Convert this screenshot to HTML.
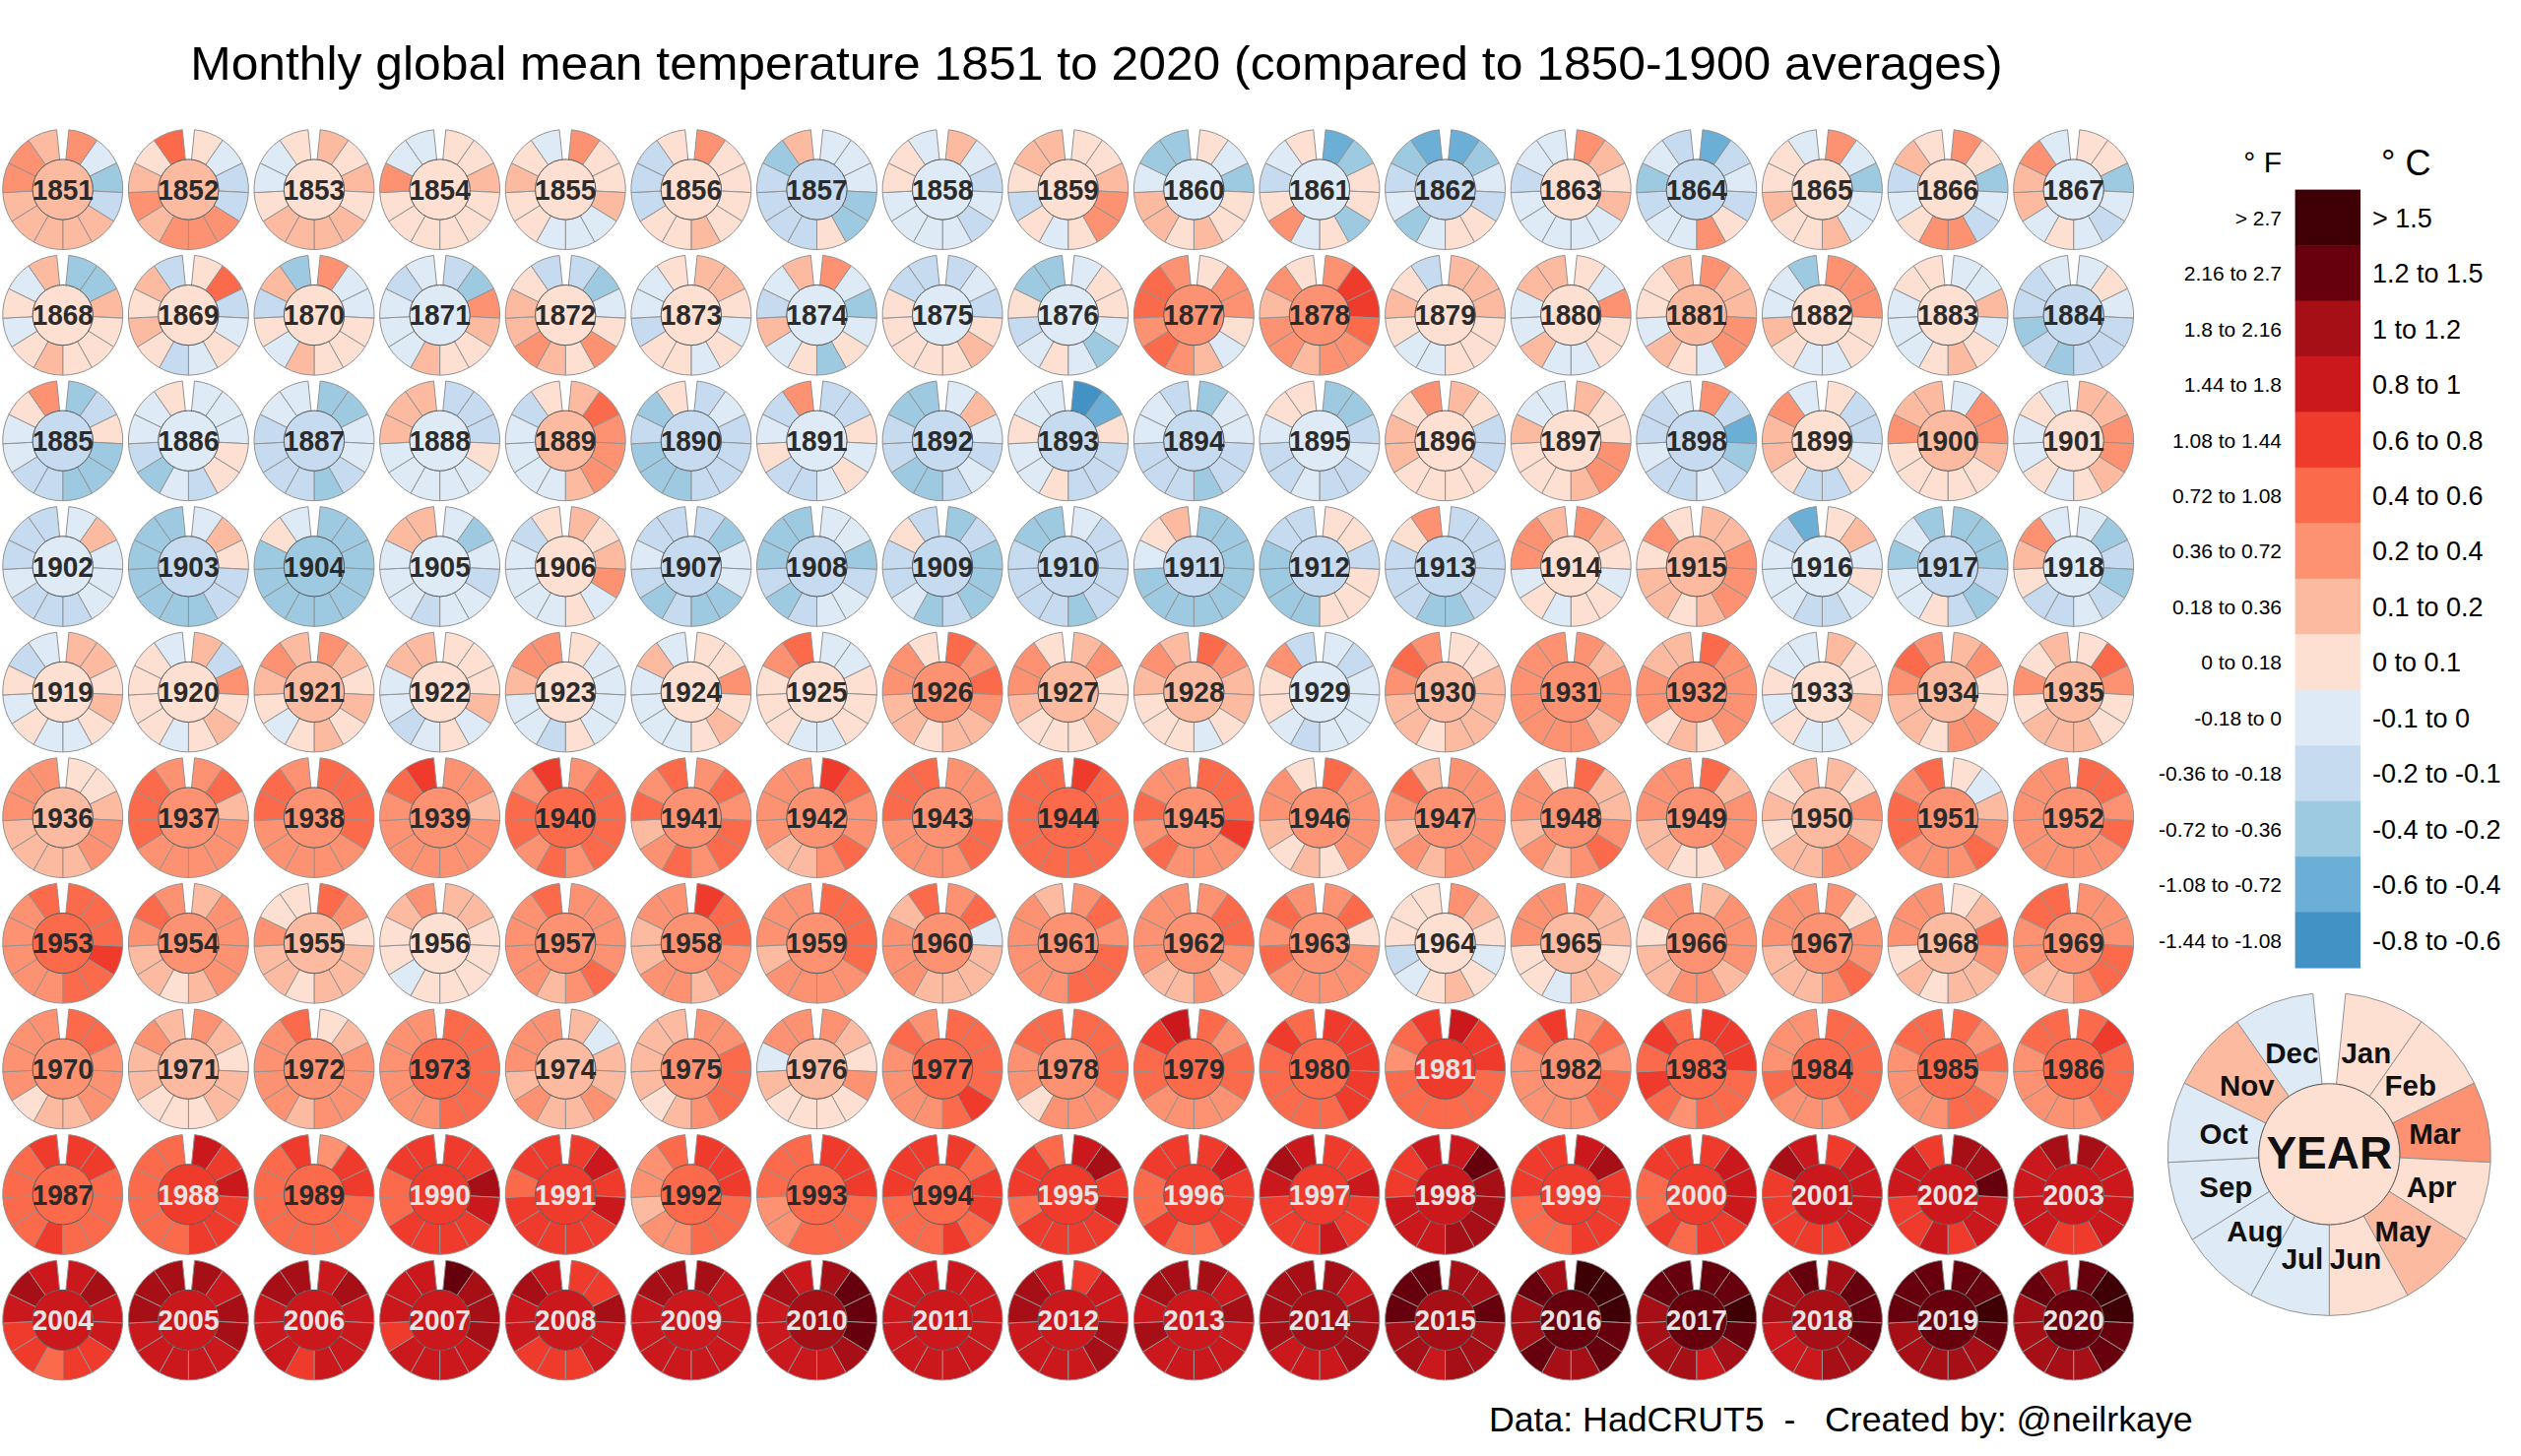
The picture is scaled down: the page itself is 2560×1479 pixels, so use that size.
<!DOCTYPE html>
<html><head><meta charset="utf-8"><title>Monthly global mean temperature 1851 to 2020</title>
<style>
html,body{margin:0;padding:0;background:#fff;}
svg{display:block;}
.d path{stroke:#929292;stroke-width:1.0;stroke-linejoin:round;}
.d .ic{stroke:#5a5a5a;stroke-width:1.0;}
.d text{font-family:"Liberation Sans",Arial,Helvetica,sans-serif;font-weight:bold;text-anchor:middle;}
.lg{font-family:"Liberation Sans",Arial,Helvetica,sans-serif;fill:#000;}
.yr{font-family:"Liberation Sans",Arial,Helvetica,sans-serif;font-weight:bold;text-anchor:middle;}
.t{font-family:"Liberation Sans",Arial,Helvetica,sans-serif;fill:#000;}
</style></head>
<body>
<svg width="2560" height="1479" viewBox="0 0 2560 1479">
<rect width="2560" height="1479" fill="#fff"/>
<text x="193.2" y="81" font-size="48.2" class="t" textLength="1840.3" lengthAdjust="spacingAndGlyphs">Monthly global mean temperature 1851 to 2020 (compared to 1850-1900 averages)</text>
<g class="d">
<path d="M69.92 131.81A61 61 0 0 1 98.6 142.43L81.23 167.38A30.6 30.6 0 0 0 66.85 162.06Z" fill="#fc9272"/>
<path d="M98.6 142.43A61 61 0 0 1 118.52 165.64L91.22 179.02A30.6 30.6 0 0 0 81.23 167.38Z" fill="#deebf7"/>
<path d="M118.52 165.64A61 61 0 0 1 124.67 195.59L94.31 194.05A30.6 30.6 0 0 0 91.22 179.02Z" fill="#9ecae1"/>
<path d="M124.67 195.59A61 61 0 0 1 115.52 224.77L89.72 208.69A30.6 30.6 0 0 0 94.31 194.05Z" fill="#c6dbef"/>
<path d="M115.52 224.77A61 61 0 0 1 93.35 245.84L78.6 219.26A30.6 30.6 0 0 0 89.72 208.69Z" fill="#fcbba1"/>
<path d="M93.35 245.84A61 61 0 0 1 63.75 253.5L63.75 223.1A30.6 30.6 0 0 0 78.6 219.26Z" fill="#fcbba1"/>
<path d="M63.75 253.5A61 61 0 0 1 34.15 245.84L48.9 219.26A30.6 30.6 0 0 0 63.75 223.1Z" fill="#fcbba1"/>
<path d="M34.15 245.84A61 61 0 0 1 11.98 224.77L37.78 208.69A30.6 30.6 0 0 0 48.9 219.26Z" fill="#fcbba1"/>
<path d="M11.98 224.77A61 61 0 0 1 2.83 195.59L33.19 194.05A30.6 30.6 0 0 0 37.78 208.69Z" fill="#fcbba1"/>
<path d="M2.83 195.59A61 61 0 0 1 8.98 165.64L36.28 179.02A30.6 30.6 0 0 0 33.19 194.05Z" fill="#fc9272"/>
<path d="M8.98 165.64A61 61 0 0 1 28.9 142.43L46.27 167.38A30.6 30.6 0 0 0 36.28 179.02Z" fill="#fc9272"/>
<path d="M28.9 142.43A61 61 0 0 1 57.58 131.81L60.65 162.06A30.6 30.6 0 0 0 46.27 167.38Z" fill="#fcbba1"/>
<circle cx="63.75" cy="192.5" r="30.6" fill="#fcbba1" class="ic"/>
<text transform="translate(63.75 202.7) scale(1 1.05)" fill="#2b2b2b" font-size="28">1851</text>
<path d="M197.54 131.81A61 61 0 0 1 226.22 142.43L208.85 167.38A30.6 30.6 0 0 0 194.47 162.06Z" fill="#fee0d2"/>
<path d="M226.22 142.43A61 61 0 0 1 246.14 165.64L218.84 179.02A30.6 30.6 0 0 0 208.85 167.38Z" fill="#deebf7"/>
<path d="M246.14 165.64A61 61 0 0 1 252.29 195.59L221.93 194.05A30.6 30.6 0 0 0 218.84 179.02Z" fill="#c6dbef"/>
<path d="M252.29 195.59A61 61 0 0 1 243.14 224.77L217.34 208.69A30.6 30.6 0 0 0 221.93 194.05Z" fill="#c6dbef"/>
<path d="M243.14 224.77A61 61 0 0 1 220.97 245.84L206.22 219.26A30.6 30.6 0 0 0 217.34 208.69Z" fill="#fc9272"/>
<path d="M220.97 245.84A61 61 0 0 1 191.37 253.5L191.37 223.1A30.6 30.6 0 0 0 206.22 219.26Z" fill="#fc9272"/>
<path d="M191.37 253.5A61 61 0 0 1 161.77 245.84L176.52 219.26A30.6 30.6 0 0 0 191.37 223.1Z" fill="#fc9272"/>
<path d="M161.77 245.84A61 61 0 0 1 139.6 224.77L165.4 208.69A30.6 30.6 0 0 0 176.52 219.26Z" fill="#fcbba1"/>
<path d="M139.6 224.77A61 61 0 0 1 130.45 195.59L160.81 194.05A30.6 30.6 0 0 0 165.4 208.69Z" fill="#fc9272"/>
<path d="M130.45 195.59A61 61 0 0 1 136.6 165.64L163.9 179.02A30.6 30.6 0 0 0 160.81 194.05Z" fill="#fcbba1"/>
<path d="M136.6 165.64A61 61 0 0 1 156.52 142.43L173.89 167.38A30.6 30.6 0 0 0 163.9 179.02Z" fill="#fee0d2"/>
<path d="M156.52 142.43A61 61 0 0 1 185.2 131.81L188.27 162.06A30.6 30.6 0 0 0 173.89 167.38Z" fill="#fb6a4a"/>
<circle cx="191.37" cy="192.5" r="30.6" fill="#fcbba1" class="ic"/>
<text transform="translate(191.37 202.7) scale(1 1.05)" fill="#2b2b2b" font-size="28">1852</text>
<path d="M325.16 131.81A61 61 0 0 1 353.84 142.43L336.47 167.38A30.6 30.6 0 0 0 322.09 162.06Z" fill="#fcbba1"/>
<path d="M353.84 142.43A61 61 0 0 1 373.76 165.64L346.46 179.02A30.6 30.6 0 0 0 336.47 167.38Z" fill="#fee0d2"/>
<path d="M373.76 165.64A61 61 0 0 1 379.91 195.59L349.55 194.05A30.6 30.6 0 0 0 346.46 179.02Z" fill="#fcbba1"/>
<path d="M379.91 195.59A61 61 0 0 1 370.76 224.77L344.96 208.69A30.6 30.6 0 0 0 349.55 194.05Z" fill="#fee0d2"/>
<path d="M370.76 224.77A61 61 0 0 1 348.59 245.84L333.84 219.26A30.6 30.6 0 0 0 344.96 208.69Z" fill="#fcbba1"/>
<path d="M348.59 245.84A61 61 0 0 1 318.99 253.5L318.99 223.1A30.6 30.6 0 0 0 333.84 219.26Z" fill="#fcbba1"/>
<path d="M318.99 253.5A61 61 0 0 1 289.39 245.84L304.14 219.26A30.6 30.6 0 0 0 318.99 223.1Z" fill="#fcbba1"/>
<path d="M289.39 245.84A61 61 0 0 1 267.22 224.77L293.02 208.69A30.6 30.6 0 0 0 304.14 219.26Z" fill="#fcbba1"/>
<path d="M267.22 224.77A61 61 0 0 1 258.07 195.59L288.43 194.05A30.6 30.6 0 0 0 293.02 208.69Z" fill="#fee0d2"/>
<path d="M258.07 195.59A61 61 0 0 1 264.22 165.64L291.52 179.02A30.6 30.6 0 0 0 288.43 194.05Z" fill="#deebf7"/>
<path d="M264.22 165.64A61 61 0 0 1 284.14 142.43L301.51 167.38A30.6 30.6 0 0 0 291.52 179.02Z" fill="#deebf7"/>
<path d="M284.14 142.43A61 61 0 0 1 312.82 131.81L315.89 162.06A30.6 30.6 0 0 0 301.51 167.38Z" fill="#fee0d2"/>
<circle cx="318.99" cy="192.5" r="30.6" fill="#fee0d2" class="ic"/>
<text transform="translate(318.99 202.7) scale(1 1.05)" fill="#2b2b2b" font-size="28">1853</text>
<path d="M452.78 131.81A61 61 0 0 1 481.46 142.43L464.09 167.38A30.6 30.6 0 0 0 449.71 162.06Z" fill="#fee0d2"/>
<path d="M481.46 142.43A61 61 0 0 1 501.38 165.64L474.08 179.02A30.6 30.6 0 0 0 464.09 167.38Z" fill="#fee0d2"/>
<path d="M501.38 165.64A61 61 0 0 1 507.53 195.59L477.17 194.05A30.6 30.6 0 0 0 474.08 179.02Z" fill="#fcbba1"/>
<path d="M507.53 195.59A61 61 0 0 1 498.38 224.77L472.58 208.69A30.6 30.6 0 0 0 477.17 194.05Z" fill="#fee0d2"/>
<path d="M498.38 224.77A61 61 0 0 1 476.21 245.84L461.46 219.26A30.6 30.6 0 0 0 472.58 208.69Z" fill="#fee0d2"/>
<path d="M476.21 245.84A61 61 0 0 1 446.61 253.5L446.61 223.1A30.6 30.6 0 0 0 461.46 219.26Z" fill="#fee0d2"/>
<path d="M446.61 253.5A61 61 0 0 1 417.01 245.84L431.76 219.26A30.6 30.6 0 0 0 446.61 223.1Z" fill="#fee0d2"/>
<path d="M417.01 245.84A61 61 0 0 1 394.84 224.77L420.64 208.69A30.6 30.6 0 0 0 431.76 219.26Z" fill="#fee0d2"/>
<path d="M394.84 224.77A61 61 0 0 1 385.69 195.59L416.05 194.05A30.6 30.6 0 0 0 420.64 208.69Z" fill="#fee0d2"/>
<path d="M385.69 195.59A61 61 0 0 1 391.84 165.64L419.14 179.02A30.6 30.6 0 0 0 416.05 194.05Z" fill="#fc9272"/>
<path d="M391.84 165.64A61 61 0 0 1 411.76 142.43L429.13 167.38A30.6 30.6 0 0 0 419.14 179.02Z" fill="#deebf7"/>
<path d="M411.76 142.43A61 61 0 0 1 440.44 131.81L443.51 162.06A30.6 30.6 0 0 0 429.13 167.38Z" fill="#deebf7"/>
<circle cx="446.61" cy="192.5" r="30.6" fill="#fee0d2" class="ic"/>
<text transform="translate(446.61 202.7) scale(1 1.05)" fill="#2b2b2b" font-size="28">1854</text>
<path d="M580.4 131.81A61 61 0 0 1 609.08 142.43L591.71 167.38A30.6 30.6 0 0 0 577.33 162.06Z" fill="#fc9272"/>
<path d="M609.08 142.43A61 61 0 0 1 629 165.64L601.7 179.02A30.6 30.6 0 0 0 591.71 167.38Z" fill="#fee0d2"/>
<path d="M629 165.64A61 61 0 0 1 635.15 195.59L604.79 194.05A30.6 30.6 0 0 0 601.7 179.02Z" fill="#fee0d2"/>
<path d="M635.15 195.59A61 61 0 0 1 626 224.77L600.2 208.69A30.6 30.6 0 0 0 604.79 194.05Z" fill="#fcbba1"/>
<path d="M626 224.77A61 61 0 0 1 603.83 245.84L589.08 219.26A30.6 30.6 0 0 0 600.2 208.69Z" fill="#deebf7"/>
<path d="M603.83 245.84A61 61 0 0 1 574.23 253.5L574.23 223.1A30.6 30.6 0 0 0 589.08 219.26Z" fill="#deebf7"/>
<path d="M574.23 253.5A61 61 0 0 1 544.63 245.84L559.38 219.26A30.6 30.6 0 0 0 574.23 223.1Z" fill="#deebf7"/>
<path d="M544.63 245.84A61 61 0 0 1 522.46 224.77L548.26 208.69A30.6 30.6 0 0 0 559.38 219.26Z" fill="#fee0d2"/>
<path d="M522.46 224.77A61 61 0 0 1 513.31 195.59L543.67 194.05A30.6 30.6 0 0 0 548.26 208.69Z" fill="#fee0d2"/>
<path d="M513.31 195.59A61 61 0 0 1 519.46 165.64L546.76 179.02A30.6 30.6 0 0 0 543.67 194.05Z" fill="#fcbba1"/>
<path d="M519.46 165.64A61 61 0 0 1 539.38 142.43L556.75 167.38A30.6 30.6 0 0 0 546.76 179.02Z" fill="#fee0d2"/>
<path d="M539.38 142.43A61 61 0 0 1 568.06 131.81L571.13 162.06A30.6 30.6 0 0 0 556.75 167.38Z" fill="#deebf7"/>
<circle cx="574.23" cy="192.5" r="30.6" fill="#fee0d2" class="ic"/>
<text transform="translate(574.23 202.7) scale(1 1.05)" fill="#2b2b2b" font-size="28">1855</text>
<path d="M708.02 131.81A61 61 0 0 1 736.7 142.43L719.33 167.38A30.6 30.6 0 0 0 704.95 162.06Z" fill="#fc9272"/>
<path d="M736.7 142.43A61 61 0 0 1 756.62 165.64L729.32 179.02A30.6 30.6 0 0 0 719.33 167.38Z" fill="#fee0d2"/>
<path d="M756.62 165.64A61 61 0 0 1 762.77 195.59L732.41 194.05A30.6 30.6 0 0 0 729.32 179.02Z" fill="#fee0d2"/>
<path d="M762.77 195.59A61 61 0 0 1 753.62 224.77L727.82 208.69A30.6 30.6 0 0 0 732.41 194.05Z" fill="#fee0d2"/>
<path d="M753.62 224.77A61 61 0 0 1 731.45 245.84L716.7 219.26A30.6 30.6 0 0 0 727.82 208.69Z" fill="#fee0d2"/>
<path d="M731.45 245.84A61 61 0 0 1 701.85 253.5L701.85 223.1A30.6 30.6 0 0 0 716.7 219.26Z" fill="#fcbba1"/>
<path d="M701.85 253.5A61 61 0 0 1 672.25 245.84L687 219.26A30.6 30.6 0 0 0 701.85 223.1Z" fill="#fee0d2"/>
<path d="M672.25 245.84A61 61 0 0 1 650.08 224.77L675.88 208.69A30.6 30.6 0 0 0 687 219.26Z" fill="#fee0d2"/>
<path d="M650.08 224.77A61 61 0 0 1 640.93 195.59L671.29 194.05A30.6 30.6 0 0 0 675.88 208.69Z" fill="#c6dbef"/>
<path d="M640.93 195.59A61 61 0 0 1 647.08 165.64L674.38 179.02A30.6 30.6 0 0 0 671.29 194.05Z" fill="#c6dbef"/>
<path d="M647.08 165.64A61 61 0 0 1 667 142.43L684.37 167.38A30.6 30.6 0 0 0 674.38 179.02Z" fill="#c6dbef"/>
<path d="M667 142.43A61 61 0 0 1 695.68 131.81L698.75 162.06A30.6 30.6 0 0 0 684.37 167.38Z" fill="#fee0d2"/>
<circle cx="701.85" cy="192.5" r="30.6" fill="#fee0d2" class="ic"/>
<text transform="translate(701.85 202.7) scale(1 1.05)" fill="#2b2b2b" font-size="28">1856</text>
<path d="M835.64 131.81A61 61 0 0 1 864.32 142.43L846.95 167.38A30.6 30.6 0 0 0 832.57 162.06Z" fill="#deebf7"/>
<path d="M864.32 142.43A61 61 0 0 1 884.24 165.64L856.94 179.02A30.6 30.6 0 0 0 846.95 167.38Z" fill="#deebf7"/>
<path d="M884.24 165.64A61 61 0 0 1 890.39 195.59L860.03 194.05A30.6 30.6 0 0 0 856.94 179.02Z" fill="#deebf7"/>
<path d="M890.39 195.59A61 61 0 0 1 881.24 224.77L855.44 208.69A30.6 30.6 0 0 0 860.03 194.05Z" fill="#9ecae1"/>
<path d="M881.24 224.77A61 61 0 0 1 859.07 245.84L844.32 219.26A30.6 30.6 0 0 0 855.44 208.69Z" fill="#9ecae1"/>
<path d="M859.07 245.84A61 61 0 0 1 829.47 253.5L829.47 223.1A30.6 30.6 0 0 0 844.32 219.26Z" fill="#fee0d2"/>
<path d="M829.47 253.5A61 61 0 0 1 799.87 245.84L814.62 219.26A30.6 30.6 0 0 0 829.47 223.1Z" fill="#c6dbef"/>
<path d="M799.87 245.84A61 61 0 0 1 777.7 224.77L803.5 208.69A30.6 30.6 0 0 0 814.62 219.26Z" fill="#c6dbef"/>
<path d="M777.7 224.77A61 61 0 0 1 768.55 195.59L798.91 194.05A30.6 30.6 0 0 0 803.5 208.69Z" fill="#c6dbef"/>
<path d="M768.55 195.59A61 61 0 0 1 774.7 165.64L802 179.02A30.6 30.6 0 0 0 798.91 194.05Z" fill="#c6dbef"/>
<path d="M774.7 165.64A61 61 0 0 1 794.62 142.43L811.99 167.38A30.6 30.6 0 0 0 802 179.02Z" fill="#9ecae1"/>
<path d="M794.62 142.43A61 61 0 0 1 823.3 131.81L826.37 162.06A30.6 30.6 0 0 0 811.99 167.38Z" fill="#fcbba1"/>
<circle cx="829.47" cy="192.5" r="30.6" fill="#c6dbef" class="ic"/>
<text transform="translate(829.47 202.7) scale(1 1.05)" fill="#2b2b2b" font-size="28">1857</text>
<path d="M963.26 131.81A61 61 0 0 1 991.94 142.43L974.57 167.38A30.6 30.6 0 0 0 960.19 162.06Z" fill="#fcbba1"/>
<path d="M991.94 142.43A61 61 0 0 1 1011.86 165.64L984.56 179.02A30.6 30.6 0 0 0 974.57 167.38Z" fill="#deebf7"/>
<path d="M1011.86 165.64A61 61 0 0 1 1018.01 195.59L987.65 194.05A30.6 30.6 0 0 0 984.56 179.02Z" fill="#c6dbef"/>
<path d="M1018.01 195.59A61 61 0 0 1 1008.86 224.77L983.06 208.69A30.6 30.6 0 0 0 987.65 194.05Z" fill="#deebf7"/>
<path d="M1008.86 224.77A61 61 0 0 1 986.69 245.84L971.94 219.26A30.6 30.6 0 0 0 983.06 208.69Z" fill="#c6dbef"/>
<path d="M986.69 245.84A61 61 0 0 1 957.09 253.5L957.09 223.1A30.6 30.6 0 0 0 971.94 219.26Z" fill="#deebf7"/>
<path d="M957.09 253.5A61 61 0 0 1 927.49 245.84L942.24 219.26A30.6 30.6 0 0 0 957.09 223.1Z" fill="#deebf7"/>
<path d="M927.49 245.84A61 61 0 0 1 905.32 224.77L931.12 208.69A30.6 30.6 0 0 0 942.24 219.26Z" fill="#deebf7"/>
<path d="M905.32 224.77A61 61 0 0 1 896.17 195.59L926.53 194.05A30.6 30.6 0 0 0 931.12 208.69Z" fill="#deebf7"/>
<path d="M896.17 195.59A61 61 0 0 1 902.32 165.64L929.62 179.02A30.6 30.6 0 0 0 926.53 194.05Z" fill="#fee0d2"/>
<path d="M902.32 165.64A61 61 0 0 1 922.24 142.43L939.61 167.38A30.6 30.6 0 0 0 929.62 179.02Z" fill="#fee0d2"/>
<path d="M922.24 142.43A61 61 0 0 1 950.92 131.81L953.99 162.06A30.6 30.6 0 0 0 939.61 167.38Z" fill="#deebf7"/>
<circle cx="957.09" cy="192.5" r="30.6" fill="#deebf7" class="ic"/>
<text transform="translate(957.09 202.7) scale(1 1.05)" fill="#2b2b2b" font-size="28">1858</text>
<path d="M1090.88 131.81A61 61 0 0 1 1119.56 142.43L1102.19 167.38A30.6 30.6 0 0 0 1087.81 162.06Z" fill="#fee0d2"/>
<path d="M1119.56 142.43A61 61 0 0 1 1139.48 165.64L1112.18 179.02A30.6 30.6 0 0 0 1102.19 167.38Z" fill="#fee0d2"/>
<path d="M1139.48 165.64A61 61 0 0 1 1145.63 195.59L1115.27 194.05A30.6 30.6 0 0 0 1112.18 179.02Z" fill="#fcbba1"/>
<path d="M1145.63 195.59A61 61 0 0 1 1136.48 224.77L1110.68 208.69A30.6 30.6 0 0 0 1115.27 194.05Z" fill="#fc9272"/>
<path d="M1136.48 224.77A61 61 0 0 1 1114.31 245.84L1099.56 219.26A30.6 30.6 0 0 0 1110.68 208.69Z" fill="#fc9272"/>
<path d="M1114.31 245.84A61 61 0 0 1 1084.71 253.5L1084.71 223.1A30.6 30.6 0 0 0 1099.56 219.26Z" fill="#fee0d2"/>
<path d="M1084.71 253.5A61 61 0 0 1 1055.11 245.84L1069.86 219.26A30.6 30.6 0 0 0 1084.71 223.1Z" fill="#deebf7"/>
<path d="M1055.11 245.84A61 61 0 0 1 1032.94 224.77L1058.74 208.69A30.6 30.6 0 0 0 1069.86 219.26Z" fill="#fee0d2"/>
<path d="M1032.94 224.77A61 61 0 0 1 1023.79 195.59L1054.15 194.05A30.6 30.6 0 0 0 1058.74 208.69Z" fill="#c6dbef"/>
<path d="M1023.79 195.59A61 61 0 0 1 1029.94 165.64L1057.24 179.02A30.6 30.6 0 0 0 1054.15 194.05Z" fill="#fee0d2"/>
<path d="M1029.94 165.64A61 61 0 0 1 1049.86 142.43L1067.23 167.38A30.6 30.6 0 0 0 1057.24 179.02Z" fill="#fcbba1"/>
<path d="M1049.86 142.43A61 61 0 0 1 1078.54 131.81L1081.61 162.06A30.6 30.6 0 0 0 1067.23 167.38Z" fill="#fcbba1"/>
<circle cx="1084.71" cy="192.5" r="30.6" fill="#fee0d2" class="ic"/>
<text transform="translate(1084.71 202.7) scale(1 1.05)" fill="#2b2b2b" font-size="28">1859</text>
<path d="M1218.5 131.81A61 61 0 0 1 1247.18 142.43L1229.81 167.38A30.6 30.6 0 0 0 1215.43 162.06Z" fill="#fee0d2"/>
<path d="M1247.18 142.43A61 61 0 0 1 1267.1 165.64L1239.8 179.02A30.6 30.6 0 0 0 1229.81 167.38Z" fill="#deebf7"/>
<path d="M1267.1 165.64A61 61 0 0 1 1273.25 195.59L1242.89 194.05A30.6 30.6 0 0 0 1239.8 179.02Z" fill="#9ecae1"/>
<path d="M1273.25 195.59A61 61 0 0 1 1264.1 224.77L1238.3 208.69A30.6 30.6 0 0 0 1242.89 194.05Z" fill="#fee0d2"/>
<path d="M1264.1 224.77A61 61 0 0 1 1241.93 245.84L1227.18 219.26A30.6 30.6 0 0 0 1238.3 208.69Z" fill="#fee0d2"/>
<path d="M1241.93 245.84A61 61 0 0 1 1212.33 253.5L1212.33 223.1A30.6 30.6 0 0 0 1227.18 219.26Z" fill="#fcbba1"/>
<path d="M1212.33 253.5A61 61 0 0 1 1182.73 245.84L1197.48 219.26A30.6 30.6 0 0 0 1212.33 223.1Z" fill="#fee0d2"/>
<path d="M1182.73 245.84A61 61 0 0 1 1160.56 224.77L1186.36 208.69A30.6 30.6 0 0 0 1197.48 219.26Z" fill="#fcbba1"/>
<path d="M1160.56 224.77A61 61 0 0 1 1151.41 195.59L1181.77 194.05A30.6 30.6 0 0 0 1186.36 208.69Z" fill="#fcbba1"/>
<path d="M1151.41 195.59A61 61 0 0 1 1157.56 165.64L1184.86 179.02A30.6 30.6 0 0 0 1181.77 194.05Z" fill="#deebf7"/>
<path d="M1157.56 165.64A61 61 0 0 1 1177.48 142.43L1194.85 167.38A30.6 30.6 0 0 0 1184.86 179.02Z" fill="#9ecae1"/>
<path d="M1177.48 142.43A61 61 0 0 1 1206.16 131.81L1209.23 162.06A30.6 30.6 0 0 0 1194.85 167.38Z" fill="#9ecae1"/>
<circle cx="1212.33" cy="192.5" r="30.6" fill="#deebf7" class="ic"/>
<text transform="translate(1212.33 202.7) scale(1 1.05)" fill="#2b2b2b" font-size="28">1860</text>
<path d="M1346.12 131.81A61 61 0 0 1 1374.8 142.43L1357.43 167.38A30.6 30.6 0 0 0 1343.05 162.06Z" fill="#6baed6"/>
<path d="M1374.8 142.43A61 61 0 0 1 1394.72 165.64L1367.42 179.02A30.6 30.6 0 0 0 1357.43 167.38Z" fill="#9ecae1"/>
<path d="M1394.72 165.64A61 61 0 0 1 1400.87 195.59L1370.51 194.05A30.6 30.6 0 0 0 1367.42 179.02Z" fill="#fee0d2"/>
<path d="M1400.87 195.59A61 61 0 0 1 1391.72 224.77L1365.92 208.69A30.6 30.6 0 0 0 1370.51 194.05Z" fill="#fee0d2"/>
<path d="M1391.72 224.77A61 61 0 0 1 1369.55 245.84L1354.8 219.26A30.6 30.6 0 0 0 1365.92 208.69Z" fill="#9ecae1"/>
<path d="M1369.55 245.84A61 61 0 0 1 1339.95 253.5L1339.95 223.1A30.6 30.6 0 0 0 1354.8 219.26Z" fill="#fee0d2"/>
<path d="M1339.95 253.5A61 61 0 0 1 1310.35 245.84L1325.1 219.26A30.6 30.6 0 0 0 1339.95 223.1Z" fill="#deebf7"/>
<path d="M1310.35 245.84A61 61 0 0 1 1288.18 224.77L1313.98 208.69A30.6 30.6 0 0 0 1325.1 219.26Z" fill="#fc9272"/>
<path d="M1288.18 224.77A61 61 0 0 1 1279.03 195.59L1309.39 194.05A30.6 30.6 0 0 0 1313.98 208.69Z" fill="#fee0d2"/>
<path d="M1279.03 195.59A61 61 0 0 1 1285.18 165.64L1312.48 179.02A30.6 30.6 0 0 0 1309.39 194.05Z" fill="#c6dbef"/>
<path d="M1285.18 165.64A61 61 0 0 1 1305.1 142.43L1322.47 167.38A30.6 30.6 0 0 0 1312.48 179.02Z" fill="#deebf7"/>
<path d="M1305.1 142.43A61 61 0 0 1 1333.78 131.81L1336.85 162.06A30.6 30.6 0 0 0 1322.47 167.38Z" fill="#fee0d2"/>
<circle cx="1339.95" cy="192.5" r="30.6" fill="#deebf7" class="ic"/>
<text transform="translate(1339.95 202.7) scale(1 1.05)" fill="#2b2b2b" font-size="28">1861</text>
<path d="M1473.74 131.81A61 61 0 0 1 1502.42 142.43L1485.05 167.38A30.6 30.6 0 0 0 1470.67 162.06Z" fill="#6baed6"/>
<path d="M1502.42 142.43A61 61 0 0 1 1522.34 165.64L1495.04 179.02A30.6 30.6 0 0 0 1485.05 167.38Z" fill="#9ecae1"/>
<path d="M1522.34 165.64A61 61 0 0 1 1528.49 195.59L1498.13 194.05A30.6 30.6 0 0 0 1495.04 179.02Z" fill="#deebf7"/>
<path d="M1528.49 195.59A61 61 0 0 1 1519.34 224.77L1493.54 208.69A30.6 30.6 0 0 0 1498.13 194.05Z" fill="#c6dbef"/>
<path d="M1519.34 224.77A61 61 0 0 1 1497.17 245.84L1482.42 219.26A30.6 30.6 0 0 0 1493.54 208.69Z" fill="#fee0d2"/>
<path d="M1497.17 245.84A61 61 0 0 1 1467.57 253.5L1467.57 223.1A30.6 30.6 0 0 0 1482.42 219.26Z" fill="#fee0d2"/>
<path d="M1467.57 253.5A61 61 0 0 1 1437.97 245.84L1452.72 219.26A30.6 30.6 0 0 0 1467.57 223.1Z" fill="#deebf7"/>
<path d="M1437.97 245.84A61 61 0 0 1 1415.8 224.77L1441.6 208.69A30.6 30.6 0 0 0 1452.72 219.26Z" fill="#9ecae1"/>
<path d="M1415.8 224.77A61 61 0 0 1 1406.65 195.59L1437.01 194.05A30.6 30.6 0 0 0 1441.6 208.69Z" fill="#deebf7"/>
<path d="M1406.65 195.59A61 61 0 0 1 1412.8 165.64L1440.1 179.02A30.6 30.6 0 0 0 1437.01 194.05Z" fill="#c6dbef"/>
<path d="M1412.8 165.64A61 61 0 0 1 1432.72 142.43L1450.09 167.38A30.6 30.6 0 0 0 1440.1 179.02Z" fill="#9ecae1"/>
<path d="M1432.72 142.43A61 61 0 0 1 1461.4 131.81L1464.47 162.06A30.6 30.6 0 0 0 1450.09 167.38Z" fill="#6baed6"/>
<circle cx="1467.57" cy="192.5" r="30.6" fill="#c6dbef" class="ic"/>
<text transform="translate(1467.57 202.7) scale(1 1.05)" fill="#2b2b2b" font-size="28">1862</text>
<path d="M1601.36 131.81A61 61 0 0 1 1630.04 142.43L1612.67 167.38A30.6 30.6 0 0 0 1598.29 162.06Z" fill="#fc9272"/>
<path d="M1630.04 142.43A61 61 0 0 1 1649.96 165.64L1622.66 179.02A30.6 30.6 0 0 0 1612.67 167.38Z" fill="#fcbba1"/>
<path d="M1649.96 165.64A61 61 0 0 1 1656.11 195.59L1625.75 194.05A30.6 30.6 0 0 0 1622.66 179.02Z" fill="#fee0d2"/>
<path d="M1656.11 195.59A61 61 0 0 1 1646.96 224.77L1621.16 208.69A30.6 30.6 0 0 0 1625.75 194.05Z" fill="#fcbba1"/>
<path d="M1646.96 224.77A61 61 0 0 1 1624.79 245.84L1610.04 219.26A30.6 30.6 0 0 0 1621.16 208.69Z" fill="#deebf7"/>
<path d="M1624.79 245.84A61 61 0 0 1 1595.19 253.5L1595.19 223.1A30.6 30.6 0 0 0 1610.04 219.26Z" fill="#deebf7"/>
<path d="M1595.19 253.5A61 61 0 0 1 1565.59 245.84L1580.34 219.26A30.6 30.6 0 0 0 1595.19 223.1Z" fill="#deebf7"/>
<path d="M1565.59 245.84A61 61 0 0 1 1543.42 224.77L1569.22 208.69A30.6 30.6 0 0 0 1580.34 219.26Z" fill="#deebf7"/>
<path d="M1543.42 224.77A61 61 0 0 1 1534.27 195.59L1564.63 194.05A30.6 30.6 0 0 0 1569.22 208.69Z" fill="#deebf7"/>
<path d="M1534.27 195.59A61 61 0 0 1 1540.42 165.64L1567.72 179.02A30.6 30.6 0 0 0 1564.63 194.05Z" fill="#c6dbef"/>
<path d="M1540.42 165.64A61 61 0 0 1 1560.34 142.43L1577.71 167.38A30.6 30.6 0 0 0 1567.72 179.02Z" fill="#deebf7"/>
<path d="M1560.34 142.43A61 61 0 0 1 1589.02 131.81L1592.09 162.06A30.6 30.6 0 0 0 1577.71 167.38Z" fill="#deebf7"/>
<circle cx="1595.19" cy="192.5" r="30.6" fill="#fee0d2" class="ic"/>
<text transform="translate(1595.19 202.7) scale(1 1.05)" fill="#2b2b2b" font-size="28">1863</text>
<path d="M1728.98 131.81A61 61 0 0 1 1757.66 142.43L1740.29 167.38A30.6 30.6 0 0 0 1725.91 162.06Z" fill="#6baed6"/>
<path d="M1757.66 142.43A61 61 0 0 1 1777.58 165.64L1750.28 179.02A30.6 30.6 0 0 0 1740.29 167.38Z" fill="#c6dbef"/>
<path d="M1777.58 165.64A61 61 0 0 1 1783.73 195.59L1753.37 194.05A30.6 30.6 0 0 0 1750.28 179.02Z" fill="#deebf7"/>
<path d="M1783.73 195.59A61 61 0 0 1 1774.58 224.77L1748.78 208.69A30.6 30.6 0 0 0 1753.37 194.05Z" fill="#c6dbef"/>
<path d="M1774.58 224.77A61 61 0 0 1 1752.41 245.84L1737.66 219.26A30.6 30.6 0 0 0 1748.78 208.69Z" fill="#fee0d2"/>
<path d="M1752.41 245.84A61 61 0 0 1 1722.81 253.5L1722.81 223.1A30.6 30.6 0 0 0 1737.66 219.26Z" fill="#fc9272"/>
<path d="M1722.81 253.5A61 61 0 0 1 1693.21 245.84L1707.96 219.26A30.6 30.6 0 0 0 1722.81 223.1Z" fill="#deebf7"/>
<path d="M1693.21 245.84A61 61 0 0 1 1671.04 224.77L1696.84 208.69A30.6 30.6 0 0 0 1707.96 219.26Z" fill="#deebf7"/>
<path d="M1671.04 224.77A61 61 0 0 1 1661.89 195.59L1692.25 194.05A30.6 30.6 0 0 0 1696.84 208.69Z" fill="#c6dbef"/>
<path d="M1661.89 195.59A61 61 0 0 1 1668.04 165.64L1695.34 179.02A30.6 30.6 0 0 0 1692.25 194.05Z" fill="#9ecae1"/>
<path d="M1668.04 165.64A61 61 0 0 1 1687.96 142.43L1705.33 167.38A30.6 30.6 0 0 0 1695.34 179.02Z" fill="#deebf7"/>
<path d="M1687.96 142.43A61 61 0 0 1 1716.64 131.81L1719.71 162.06A30.6 30.6 0 0 0 1705.33 167.38Z" fill="#c6dbef"/>
<circle cx="1722.81" cy="192.5" r="30.6" fill="#c6dbef" class="ic"/>
<text transform="translate(1722.81 202.7) scale(1 1.05)" fill="#2b2b2b" font-size="28">1864</text>
<path d="M1856.6 131.81A61 61 0 0 1 1885.28 142.43L1867.91 167.38A30.6 30.6 0 0 0 1853.53 162.06Z" fill="#fc9272"/>
<path d="M1885.28 142.43A61 61 0 0 1 1905.2 165.64L1877.9 179.02A30.6 30.6 0 0 0 1867.91 167.38Z" fill="#deebf7"/>
<path d="M1905.2 165.64A61 61 0 0 1 1911.35 195.59L1880.99 194.05A30.6 30.6 0 0 0 1877.9 179.02Z" fill="#9ecae1"/>
<path d="M1911.35 195.59A61 61 0 0 1 1902.2 224.77L1876.4 208.69A30.6 30.6 0 0 0 1880.99 194.05Z" fill="#deebf7"/>
<path d="M1902.2 224.77A61 61 0 0 1 1880.03 245.84L1865.28 219.26A30.6 30.6 0 0 0 1876.4 208.69Z" fill="#deebf7"/>
<path d="M1880.03 245.84A61 61 0 0 1 1850.43 253.5L1850.43 223.1A30.6 30.6 0 0 0 1865.28 219.26Z" fill="#fcbba1"/>
<path d="M1850.43 253.5A61 61 0 0 1 1820.83 245.84L1835.58 219.26A30.6 30.6 0 0 0 1850.43 223.1Z" fill="#fee0d2"/>
<path d="M1820.83 245.84A61 61 0 0 1 1798.66 224.77L1824.46 208.69A30.6 30.6 0 0 0 1835.58 219.26Z" fill="#fee0d2"/>
<path d="M1798.66 224.77A61 61 0 0 1 1789.51 195.59L1819.87 194.05A30.6 30.6 0 0 0 1824.46 208.69Z" fill="#fcbba1"/>
<path d="M1789.51 195.59A61 61 0 0 1 1795.66 165.64L1822.96 179.02A30.6 30.6 0 0 0 1819.87 194.05Z" fill="#fee0d2"/>
<path d="M1795.66 165.64A61 61 0 0 1 1815.58 142.43L1832.95 167.38A30.6 30.6 0 0 0 1822.96 179.02Z" fill="#fee0d2"/>
<path d="M1815.58 142.43A61 61 0 0 1 1844.26 131.81L1847.33 162.06A30.6 30.6 0 0 0 1832.95 167.38Z" fill="#deebf7"/>
<circle cx="1850.43" cy="192.5" r="30.6" fill="#fee0d2" class="ic"/>
<text transform="translate(1850.43 202.7) scale(1 1.05)" fill="#2b2b2b" font-size="28">1865</text>
<path d="M1984.22 131.81A61 61 0 0 1 2012.9 142.43L1995.53 167.38A30.6 30.6 0 0 0 1981.15 162.06Z" fill="#fc9272"/>
<path d="M2012.9 142.43A61 61 0 0 1 2032.82 165.64L2005.52 179.02A30.6 30.6 0 0 0 1995.53 167.38Z" fill="#fee0d2"/>
<path d="M2032.82 165.64A61 61 0 0 1 2038.97 195.59L2008.61 194.05A30.6 30.6 0 0 0 2005.52 179.02Z" fill="#9ecae1"/>
<path d="M2038.97 195.59A61 61 0 0 1 2029.82 224.77L2004.02 208.69A30.6 30.6 0 0 0 2008.61 194.05Z" fill="#deebf7"/>
<path d="M2029.82 224.77A61 61 0 0 1 2007.65 245.84L1992.9 219.26A30.6 30.6 0 0 0 2004.02 208.69Z" fill="#c6dbef"/>
<path d="M2007.65 245.84A61 61 0 0 1 1978.05 253.5L1978.05 223.1A30.6 30.6 0 0 0 1992.9 219.26Z" fill="#fc9272"/>
<path d="M1978.05 253.5A61 61 0 0 1 1948.45 245.84L1963.2 219.26A30.6 30.6 0 0 0 1978.05 223.1Z" fill="#fc9272"/>
<path d="M1948.45 245.84A61 61 0 0 1 1926.28 224.77L1952.08 208.69A30.6 30.6 0 0 0 1963.2 219.26Z" fill="#fee0d2"/>
<path d="M1926.28 224.77A61 61 0 0 1 1917.13 195.59L1947.49 194.05A30.6 30.6 0 0 0 1952.08 208.69Z" fill="#deebf7"/>
<path d="M1917.13 195.59A61 61 0 0 1 1923.28 165.64L1950.58 179.02A30.6 30.6 0 0 0 1947.49 194.05Z" fill="#c6dbef"/>
<path d="M1923.28 165.64A61 61 0 0 1 1943.2 142.43L1960.57 167.38A30.6 30.6 0 0 0 1950.58 179.02Z" fill="#fcbba1"/>
<path d="M1943.2 142.43A61 61 0 0 1 1971.88 131.81L1974.95 162.06A30.6 30.6 0 0 0 1960.57 167.38Z" fill="#fee0d2"/>
<circle cx="1978.05" cy="192.5" r="30.6" fill="#fee0d2" class="ic"/>
<text transform="translate(1978.05 202.7) scale(1 1.05)" fill="#2b2b2b" font-size="28">1866</text>
<path d="M2111.84 131.81A61 61 0 0 1 2140.52 142.43L2123.15 167.38A30.6 30.6 0 0 0 2108.77 162.06Z" fill="#fee0d2"/>
<path d="M2140.52 142.43A61 61 0 0 1 2160.44 165.64L2133.14 179.02A30.6 30.6 0 0 0 2123.15 167.38Z" fill="#fee0d2"/>
<path d="M2160.44 165.64A61 61 0 0 1 2166.59 195.59L2136.23 194.05A30.6 30.6 0 0 0 2133.14 179.02Z" fill="#9ecae1"/>
<path d="M2166.59 195.59A61 61 0 0 1 2157.44 224.77L2131.64 208.69A30.6 30.6 0 0 0 2136.23 194.05Z" fill="#deebf7"/>
<path d="M2157.44 224.77A61 61 0 0 1 2135.27 245.84L2120.52 219.26A30.6 30.6 0 0 0 2131.64 208.69Z" fill="#c6dbef"/>
<path d="M2135.27 245.84A61 61 0 0 1 2105.67 253.5L2105.67 223.1A30.6 30.6 0 0 0 2120.52 219.26Z" fill="#deebf7"/>
<path d="M2105.67 253.5A61 61 0 0 1 2076.07 245.84L2090.82 219.26A30.6 30.6 0 0 0 2105.67 223.1Z" fill="#fee0d2"/>
<path d="M2076.07 245.84A61 61 0 0 1 2053.9 224.77L2079.7 208.69A30.6 30.6 0 0 0 2090.82 219.26Z" fill="#deebf7"/>
<path d="M2053.9 224.77A61 61 0 0 1 2044.75 195.59L2075.11 194.05A30.6 30.6 0 0 0 2079.7 208.69Z" fill="#fcbba1"/>
<path d="M2044.75 195.59A61 61 0 0 1 2050.9 165.64L2078.2 179.02A30.6 30.6 0 0 0 2075.11 194.05Z" fill="#fcbba1"/>
<path d="M2050.9 165.64A61 61 0 0 1 2070.82 142.43L2088.19 167.38A30.6 30.6 0 0 0 2078.2 179.02Z" fill="#fc9272"/>
<path d="M2070.82 142.43A61 61 0 0 1 2099.5 131.81L2102.57 162.06A30.6 30.6 0 0 0 2088.19 167.38Z" fill="#deebf7"/>
<circle cx="2105.67" cy="192.5" r="30.6" fill="#deebf7" class="ic"/>
<text transform="translate(2105.67 202.7) scale(1 1.05)" fill="#2b2b2b" font-size="28">1867</text>
<path d="M69.92 259.41A61 61 0 0 1 98.6 270.03L81.23 294.98A30.6 30.6 0 0 0 66.85 289.66Z" fill="#9ecae1"/>
<path d="M98.6 270.03A61 61 0 0 1 118.52 293.24L91.22 306.62A30.6 30.6 0 0 0 81.23 294.98Z" fill="#9ecae1"/>
<path d="M118.52 293.24A61 61 0 0 1 124.67 323.19L94.31 321.65A30.6 30.6 0 0 0 91.22 306.62Z" fill="#fcbba1"/>
<path d="M124.67 323.19A61 61 0 0 1 115.52 352.37L89.72 336.29A30.6 30.6 0 0 0 94.31 321.65Z" fill="#fee0d2"/>
<path d="M115.52 352.37A61 61 0 0 1 93.35 373.44L78.6 346.86A30.6 30.6 0 0 0 89.72 336.29Z" fill="#fee0d2"/>
<path d="M93.35 373.44A61 61 0 0 1 63.75 381.1L63.75 350.7A30.6 30.6 0 0 0 78.6 346.86Z" fill="#fee0d2"/>
<path d="M63.75 381.1A61 61 0 0 1 34.15 373.44L48.9 346.86A30.6 30.6 0 0 0 63.75 350.7Z" fill="#fcbba1"/>
<path d="M34.15 373.44A61 61 0 0 1 11.98 352.37L37.78 336.29A30.6 30.6 0 0 0 48.9 346.86Z" fill="#fee0d2"/>
<path d="M11.98 352.37A61 61 0 0 1 2.83 323.19L33.19 321.65A30.6 30.6 0 0 0 37.78 336.29Z" fill="#deebf7"/>
<path d="M2.83 323.19A61 61 0 0 1 8.98 293.24L36.28 306.62A30.6 30.6 0 0 0 33.19 321.65Z" fill="#fee0d2"/>
<path d="M8.98 293.24A61 61 0 0 1 28.9 270.03L46.27 294.98A30.6 30.6 0 0 0 36.28 306.62Z" fill="#deebf7"/>
<path d="M28.9 270.03A61 61 0 0 1 57.58 259.41L60.65 289.66A30.6 30.6 0 0 0 46.27 294.98Z" fill="#fcbba1"/>
<circle cx="63.75" cy="320.1" r="30.6" fill="#fee0d2" class="ic"/>
<text transform="translate(63.75 330.3) scale(1 1.05)" fill="#2b2b2b" font-size="28">1868</text>
<path d="M197.54 259.41A61 61 0 0 1 226.22 270.03L208.85 294.98A30.6 30.6 0 0 0 194.47 289.66Z" fill="#fee0d2"/>
<path d="M226.22 270.03A61 61 0 0 1 246.14 293.24L218.84 306.62A30.6 30.6 0 0 0 208.85 294.98Z" fill="#fb6a4a"/>
<path d="M246.14 293.24A61 61 0 0 1 252.29 323.19L221.93 321.65A30.6 30.6 0 0 0 218.84 306.62Z" fill="#c6dbef"/>
<path d="M252.29 323.19A61 61 0 0 1 243.14 352.37L217.34 336.29A30.6 30.6 0 0 0 221.93 321.65Z" fill="#deebf7"/>
<path d="M243.14 352.37A61 61 0 0 1 220.97 373.44L206.22 346.86A30.6 30.6 0 0 0 217.34 336.29Z" fill="#fee0d2"/>
<path d="M220.97 373.44A61 61 0 0 1 191.37 381.1L191.37 350.7A30.6 30.6 0 0 0 206.22 346.86Z" fill="#deebf7"/>
<path d="M191.37 381.1A61 61 0 0 1 161.77 373.44L176.52 346.86A30.6 30.6 0 0 0 191.37 350.7Z" fill="#c6dbef"/>
<path d="M161.77 373.44A61 61 0 0 1 139.6 352.37L165.4 336.29A30.6 30.6 0 0 0 176.52 346.86Z" fill="#fee0d2"/>
<path d="M139.6 352.37A61 61 0 0 1 130.45 323.19L160.81 321.65A30.6 30.6 0 0 0 165.4 336.29Z" fill="#fcbba1"/>
<path d="M130.45 323.19A61 61 0 0 1 136.6 293.24L163.9 306.62A30.6 30.6 0 0 0 160.81 321.65Z" fill="#fee0d2"/>
<path d="M136.6 293.24A61 61 0 0 1 156.52 270.03L173.89 294.98A30.6 30.6 0 0 0 163.9 306.62Z" fill="#fcbba1"/>
<path d="M156.52 270.03A61 61 0 0 1 185.2 259.41L188.27 289.66A30.6 30.6 0 0 0 173.89 294.98Z" fill="#c6dbef"/>
<circle cx="191.37" cy="320.1" r="30.6" fill="#fee0d2" class="ic"/>
<text transform="translate(191.37 330.3) scale(1 1.05)" fill="#2b2b2b" font-size="28">1869</text>
<path d="M325.16 259.41A61 61 0 0 1 353.84 270.03L336.47 294.98A30.6 30.6 0 0 0 322.09 289.66Z" fill="#fc9272"/>
<path d="M353.84 270.03A61 61 0 0 1 373.76 293.24L346.46 306.62A30.6 30.6 0 0 0 336.47 294.98Z" fill="#deebf7"/>
<path d="M373.76 293.24A61 61 0 0 1 379.91 323.19L349.55 321.65A30.6 30.6 0 0 0 346.46 306.62Z" fill="#deebf7"/>
<path d="M379.91 323.19A61 61 0 0 1 370.76 352.37L344.96 336.29A30.6 30.6 0 0 0 349.55 321.65Z" fill="#fee0d2"/>
<path d="M370.76 352.37A61 61 0 0 1 348.59 373.44L333.84 346.86A30.6 30.6 0 0 0 344.96 336.29Z" fill="#fee0d2"/>
<path d="M348.59 373.44A61 61 0 0 1 318.99 381.1L318.99 350.7A30.6 30.6 0 0 0 333.84 346.86Z" fill="#fee0d2"/>
<path d="M318.99 381.1A61 61 0 0 1 289.39 373.44L304.14 346.86A30.6 30.6 0 0 0 318.99 350.7Z" fill="#fcbba1"/>
<path d="M289.39 373.44A61 61 0 0 1 267.22 352.37L293.02 336.29A30.6 30.6 0 0 0 304.14 346.86Z" fill="#deebf7"/>
<path d="M267.22 352.37A61 61 0 0 1 258.07 323.19L288.43 321.65A30.6 30.6 0 0 0 293.02 336.29Z" fill="#fee0d2"/>
<path d="M258.07 323.19A61 61 0 0 1 264.22 293.24L291.52 306.62A30.6 30.6 0 0 0 288.43 321.65Z" fill="#c6dbef"/>
<path d="M264.22 293.24A61 61 0 0 1 284.14 270.03L301.51 294.98A30.6 30.6 0 0 0 291.52 306.62Z" fill="#fcbba1"/>
<path d="M284.14 270.03A61 61 0 0 1 312.82 259.41L315.89 289.66A30.6 30.6 0 0 0 301.51 294.98Z" fill="#9ecae1"/>
<circle cx="318.99" cy="320.1" r="30.6" fill="#fee0d2" class="ic"/>
<text transform="translate(318.99 330.3) scale(1 1.05)" fill="#2b2b2b" font-size="28">1870</text>
<path d="M452.78 259.41A61 61 0 0 1 481.46 270.03L464.09 294.98A30.6 30.6 0 0 0 449.71 289.66Z" fill="#c6dbef"/>
<path d="M481.46 270.03A61 61 0 0 1 501.38 293.24L474.08 306.62A30.6 30.6 0 0 0 464.09 294.98Z" fill="#9ecae1"/>
<path d="M501.38 293.24A61 61 0 0 1 507.53 323.19L477.17 321.65A30.6 30.6 0 0 0 474.08 306.62Z" fill="#fc9272"/>
<path d="M507.53 323.19A61 61 0 0 1 498.38 352.37L472.58 336.29A30.6 30.6 0 0 0 477.17 321.65Z" fill="#fcbba1"/>
<path d="M498.38 352.37A61 61 0 0 1 476.21 373.44L461.46 346.86A30.6 30.6 0 0 0 472.58 336.29Z" fill="#fee0d2"/>
<path d="M476.21 373.44A61 61 0 0 1 446.61 381.1L446.61 350.7A30.6 30.6 0 0 0 461.46 346.86Z" fill="#fee0d2"/>
<path d="M446.61 381.1A61 61 0 0 1 417.01 373.44L431.76 346.86A30.6 30.6 0 0 0 446.61 350.7Z" fill="#fcbba1"/>
<path d="M417.01 373.44A61 61 0 0 1 394.84 352.37L420.64 336.29A30.6 30.6 0 0 0 431.76 346.86Z" fill="#deebf7"/>
<path d="M394.84 352.37A61 61 0 0 1 385.69 323.19L416.05 321.65A30.6 30.6 0 0 0 420.64 336.29Z" fill="#deebf7"/>
<path d="M385.69 323.19A61 61 0 0 1 391.84 293.24L419.14 306.62A30.6 30.6 0 0 0 416.05 321.65Z" fill="#deebf7"/>
<path d="M391.84 293.24A61 61 0 0 1 411.76 270.03L429.13 294.98A30.6 30.6 0 0 0 419.14 306.62Z" fill="#c6dbef"/>
<path d="M411.76 270.03A61 61 0 0 1 440.44 259.41L443.51 289.66A30.6 30.6 0 0 0 429.13 294.98Z" fill="#deebf7"/>
<circle cx="446.61" cy="320.1" r="30.6" fill="#deebf7" class="ic"/>
<text transform="translate(446.61 330.3) scale(1 1.05)" fill="#2b2b2b" font-size="28">1871</text>
<path d="M580.4 259.41A61 61 0 0 1 609.08 270.03L591.71 294.98A30.6 30.6 0 0 0 577.33 289.66Z" fill="#c6dbef"/>
<path d="M609.08 270.03A61 61 0 0 1 629 293.24L601.7 306.62A30.6 30.6 0 0 0 591.71 294.98Z" fill="#9ecae1"/>
<path d="M629 293.24A61 61 0 0 1 635.15 323.19L604.79 321.65A30.6 30.6 0 0 0 601.7 306.62Z" fill="#deebf7"/>
<path d="M635.15 323.19A61 61 0 0 1 626 352.37L600.2 336.29A30.6 30.6 0 0 0 604.79 321.65Z" fill="#fee0d2"/>
<path d="M626 352.37A61 61 0 0 1 603.83 373.44L589.08 346.86A30.6 30.6 0 0 0 600.2 336.29Z" fill="#fc9272"/>
<path d="M603.83 373.44A61 61 0 0 1 574.23 381.1L574.23 350.7A30.6 30.6 0 0 0 589.08 346.86Z" fill="#fee0d2"/>
<path d="M574.23 381.1A61 61 0 0 1 544.63 373.44L559.38 346.86A30.6 30.6 0 0 0 574.23 350.7Z" fill="#fcbba1"/>
<path d="M544.63 373.44A61 61 0 0 1 522.46 352.37L548.26 336.29A30.6 30.6 0 0 0 559.38 346.86Z" fill="#fc9272"/>
<path d="M522.46 352.37A61 61 0 0 1 513.31 323.19L543.67 321.65A30.6 30.6 0 0 0 548.26 336.29Z" fill="#fcbba1"/>
<path d="M513.31 323.19A61 61 0 0 1 519.46 293.24L546.76 306.62A30.6 30.6 0 0 0 543.67 321.65Z" fill="#fcbba1"/>
<path d="M519.46 293.24A61 61 0 0 1 539.38 270.03L556.75 294.98A30.6 30.6 0 0 0 546.76 306.62Z" fill="#fee0d2"/>
<path d="M539.38 270.03A61 61 0 0 1 568.06 259.41L571.13 289.66A30.6 30.6 0 0 0 556.75 294.98Z" fill="#c6dbef"/>
<circle cx="574.23" cy="320.1" r="30.6" fill="#fee0d2" class="ic"/>
<text transform="translate(574.23 330.3) scale(1 1.05)" fill="#2b2b2b" font-size="28">1872</text>
<path d="M708.02 259.41A61 61 0 0 1 736.7 270.03L719.33 294.98A30.6 30.6 0 0 0 704.95 289.66Z" fill="#fcbba1"/>
<path d="M736.7 270.03A61 61 0 0 1 756.62 293.24L729.32 306.62A30.6 30.6 0 0 0 719.33 294.98Z" fill="#fcbba1"/>
<path d="M756.62 293.24A61 61 0 0 1 762.77 323.19L732.41 321.65A30.6 30.6 0 0 0 729.32 306.62Z" fill="#fee0d2"/>
<path d="M762.77 323.19A61 61 0 0 1 753.62 352.37L727.82 336.29A30.6 30.6 0 0 0 732.41 321.65Z" fill="#deebf7"/>
<path d="M753.62 352.37A61 61 0 0 1 731.45 373.44L716.7 346.86A30.6 30.6 0 0 0 727.82 336.29Z" fill="#fee0d2"/>
<path d="M731.45 373.44A61 61 0 0 1 701.85 381.1L701.85 350.7A30.6 30.6 0 0 0 716.7 346.86Z" fill="#deebf7"/>
<path d="M701.85 381.1A61 61 0 0 1 672.25 373.44L687 346.86A30.6 30.6 0 0 0 701.85 350.7Z" fill="#fee0d2"/>
<path d="M672.25 373.44A61 61 0 0 1 650.08 352.37L675.88 336.29A30.6 30.6 0 0 0 687 346.86Z" fill="#fee0d2"/>
<path d="M650.08 352.37A61 61 0 0 1 640.93 323.19L671.29 321.65A30.6 30.6 0 0 0 675.88 336.29Z" fill="#c6dbef"/>
<path d="M640.93 323.19A61 61 0 0 1 647.08 293.24L674.38 306.62A30.6 30.6 0 0 0 671.29 321.65Z" fill="#deebf7"/>
<path d="M647.08 293.24A61 61 0 0 1 667 270.03L684.37 294.98A30.6 30.6 0 0 0 674.38 306.62Z" fill="#deebf7"/>
<path d="M667 270.03A61 61 0 0 1 695.68 259.41L698.75 289.66A30.6 30.6 0 0 0 684.37 294.98Z" fill="#fee0d2"/>
<circle cx="701.85" cy="320.1" r="30.6" fill="#fee0d2" class="ic"/>
<text transform="translate(701.85 330.3) scale(1 1.05)" fill="#2b2b2b" font-size="28">1873</text>
<path d="M835.64 259.41A61 61 0 0 1 864.32 270.03L846.95 294.98A30.6 30.6 0 0 0 832.57 289.66Z" fill="#fc9272"/>
<path d="M864.32 270.03A61 61 0 0 1 884.24 293.24L856.94 306.62A30.6 30.6 0 0 0 846.95 294.98Z" fill="#deebf7"/>
<path d="M884.24 293.24A61 61 0 0 1 890.39 323.19L860.03 321.65A30.6 30.6 0 0 0 856.94 306.62Z" fill="#9ecae1"/>
<path d="M890.39 323.19A61 61 0 0 1 881.24 352.37L855.44 336.29A30.6 30.6 0 0 0 860.03 321.65Z" fill="#deebf7"/>
<path d="M881.24 352.37A61 61 0 0 1 859.07 373.44L844.32 346.86A30.6 30.6 0 0 0 855.44 336.29Z" fill="#fee0d2"/>
<path d="M859.07 373.44A61 61 0 0 1 829.47 381.1L829.47 350.7A30.6 30.6 0 0 0 844.32 346.86Z" fill="#9ecae1"/>
<path d="M829.47 381.1A61 61 0 0 1 799.87 373.44L814.62 346.86A30.6 30.6 0 0 0 829.47 350.7Z" fill="#fee0d2"/>
<path d="M799.87 373.44A61 61 0 0 1 777.7 352.37L803.5 336.29A30.6 30.6 0 0 0 814.62 346.86Z" fill="#deebf7"/>
<path d="M777.7 352.37A61 61 0 0 1 768.55 323.19L798.91 321.65A30.6 30.6 0 0 0 803.5 336.29Z" fill="#fcbba1"/>
<path d="M768.55 323.19A61 61 0 0 1 774.7 293.24L802 306.62A30.6 30.6 0 0 0 798.91 321.65Z" fill="#c6dbef"/>
<path d="M774.7 293.24A61 61 0 0 1 794.62 270.03L811.99 294.98A30.6 30.6 0 0 0 802 306.62Z" fill="#deebf7"/>
<path d="M794.62 270.03A61 61 0 0 1 823.3 259.41L826.37 289.66A30.6 30.6 0 0 0 811.99 294.98Z" fill="#fcbba1"/>
<circle cx="829.47" cy="320.1" r="30.6" fill="#deebf7" class="ic"/>
<text transform="translate(829.47 330.3) scale(1 1.05)" fill="#2b2b2b" font-size="28">1874</text>
<path d="M963.26 259.41A61 61 0 0 1 991.94 270.03L974.57 294.98A30.6 30.6 0 0 0 960.19 289.66Z" fill="#c6dbef"/>
<path d="M991.94 270.03A61 61 0 0 1 1011.86 293.24L984.56 306.62A30.6 30.6 0 0 0 974.57 294.98Z" fill="#deebf7"/>
<path d="M1011.86 293.24A61 61 0 0 1 1018.01 323.19L987.65 321.65A30.6 30.6 0 0 0 984.56 306.62Z" fill="#c6dbef"/>
<path d="M1018.01 323.19A61 61 0 0 1 1008.86 352.37L983.06 336.29A30.6 30.6 0 0 0 987.65 321.65Z" fill="#fee0d2"/>
<path d="M1008.86 352.37A61 61 0 0 1 986.69 373.44L971.94 346.86A30.6 30.6 0 0 0 983.06 336.29Z" fill="#fcbba1"/>
<path d="M986.69 373.44A61 61 0 0 1 957.09 381.1L957.09 350.7A30.6 30.6 0 0 0 971.94 346.86Z" fill="#fee0d2"/>
<path d="M957.09 381.1A61 61 0 0 1 927.49 373.44L942.24 346.86A30.6 30.6 0 0 0 957.09 350.7Z" fill="#fee0d2"/>
<path d="M927.49 373.44A61 61 0 0 1 905.32 352.37L931.12 336.29A30.6 30.6 0 0 0 942.24 346.86Z" fill="#fee0d2"/>
<path d="M905.32 352.37A61 61 0 0 1 896.17 323.19L926.53 321.65A30.6 30.6 0 0 0 931.12 336.29Z" fill="#fee0d2"/>
<path d="M896.17 323.19A61 61 0 0 1 902.32 293.24L929.62 306.62A30.6 30.6 0 0 0 926.53 321.65Z" fill="#fee0d2"/>
<path d="M902.32 293.24A61 61 0 0 1 922.24 270.03L939.61 294.98A30.6 30.6 0 0 0 929.62 306.62Z" fill="#c6dbef"/>
<path d="M922.24 270.03A61 61 0 0 1 950.92 259.41L953.99 289.66A30.6 30.6 0 0 0 939.61 294.98Z" fill="#c6dbef"/>
<circle cx="957.09" cy="320.1" r="30.6" fill="#deebf7" class="ic"/>
<text transform="translate(957.09 330.3) scale(1 1.05)" fill="#2b2b2b" font-size="28">1875</text>
<path d="M1090.88 259.41A61 61 0 0 1 1119.56 270.03L1102.19 294.98A30.6 30.6 0 0 0 1087.81 289.66Z" fill="#deebf7"/>
<path d="M1119.56 270.03A61 61 0 0 1 1139.48 293.24L1112.18 306.62A30.6 30.6 0 0 0 1102.19 294.98Z" fill="#fee0d2"/>
<path d="M1139.48 293.24A61 61 0 0 1 1145.63 323.19L1115.27 321.65A30.6 30.6 0 0 0 1112.18 306.62Z" fill="#fee0d2"/>
<path d="M1145.63 323.19A61 61 0 0 1 1136.48 352.37L1110.68 336.29A30.6 30.6 0 0 0 1115.27 321.65Z" fill="#deebf7"/>
<path d="M1136.48 352.37A61 61 0 0 1 1114.31 373.44L1099.56 346.86A30.6 30.6 0 0 0 1110.68 336.29Z" fill="#9ecae1"/>
<path d="M1114.31 373.44A61 61 0 0 1 1084.71 381.1L1084.71 350.7A30.6 30.6 0 0 0 1099.56 346.86Z" fill="#deebf7"/>
<path d="M1084.71 381.1A61 61 0 0 1 1055.11 373.44L1069.86 346.86A30.6 30.6 0 0 0 1084.71 350.7Z" fill="#fee0d2"/>
<path d="M1055.11 373.44A61 61 0 0 1 1032.94 352.37L1058.74 336.29A30.6 30.6 0 0 0 1069.86 346.86Z" fill="#deebf7"/>
<path d="M1032.94 352.37A61 61 0 0 1 1023.79 323.19L1054.15 321.65A30.6 30.6 0 0 0 1058.74 336.29Z" fill="#c6dbef"/>
<path d="M1023.79 323.19A61 61 0 0 1 1029.94 293.24L1057.24 306.62A30.6 30.6 0 0 0 1054.15 321.65Z" fill="#fee0d2"/>
<path d="M1029.94 293.24A61 61 0 0 1 1049.86 270.03L1067.23 294.98A30.6 30.6 0 0 0 1057.24 306.62Z" fill="#9ecae1"/>
<path d="M1049.86 270.03A61 61 0 0 1 1078.54 259.41L1081.61 289.66A30.6 30.6 0 0 0 1067.23 294.98Z" fill="#9ecae1"/>
<circle cx="1084.71" cy="320.1" r="30.6" fill="#deebf7" class="ic"/>
<text transform="translate(1084.71 330.3) scale(1 1.05)" fill="#2b2b2b" font-size="28">1876</text>
<path d="M1218.5 259.41A61 61 0 0 1 1247.18 270.03L1229.81 294.98A30.6 30.6 0 0 0 1215.43 289.66Z" fill="#fee0d2"/>
<path d="M1247.18 270.03A61 61 0 0 1 1267.1 293.24L1239.8 306.62A30.6 30.6 0 0 0 1229.81 294.98Z" fill="#fc9272"/>
<path d="M1267.1 293.24A61 61 0 0 1 1273.25 323.19L1242.89 321.65A30.6 30.6 0 0 0 1239.8 306.62Z" fill="#fc9272"/>
<path d="M1273.25 323.19A61 61 0 0 1 1264.1 352.37L1238.3 336.29A30.6 30.6 0 0 0 1242.89 321.65Z" fill="#fee0d2"/>
<path d="M1264.1 352.37A61 61 0 0 1 1241.93 373.44L1227.18 346.86A30.6 30.6 0 0 0 1238.3 336.29Z" fill="#deebf7"/>
<path d="M1241.93 373.44A61 61 0 0 1 1212.33 381.1L1212.33 350.7A30.6 30.6 0 0 0 1227.18 346.86Z" fill="#fcbba1"/>
<path d="M1212.33 381.1A61 61 0 0 1 1182.73 373.44L1197.48 346.86A30.6 30.6 0 0 0 1212.33 350.7Z" fill="#fc9272"/>
<path d="M1182.73 373.44A61 61 0 0 1 1160.56 352.37L1186.36 336.29A30.6 30.6 0 0 0 1197.48 346.86Z" fill="#fb6a4a"/>
<path d="M1160.56 352.37A61 61 0 0 1 1151.41 323.19L1181.77 321.65A30.6 30.6 0 0 0 1186.36 336.29Z" fill="#fc9272"/>
<path d="M1151.41 323.19A61 61 0 0 1 1157.56 293.24L1184.86 306.62A30.6 30.6 0 0 0 1181.77 321.65Z" fill="#fb6a4a"/>
<path d="M1157.56 293.24A61 61 0 0 1 1177.48 270.03L1194.85 294.98A30.6 30.6 0 0 0 1184.86 306.62Z" fill="#fb6a4a"/>
<path d="M1177.48 270.03A61 61 0 0 1 1206.16 259.41L1209.23 289.66A30.6 30.6 0 0 0 1194.85 294.98Z" fill="#fc9272"/>
<circle cx="1212.33" cy="320.1" r="30.6" fill="#fc9272" class="ic"/>
<text transform="translate(1212.33 330.3) scale(1 1.05)" fill="#2b2b2b" font-size="28">1877</text>
<path d="M1346.12 259.41A61 61 0 0 1 1374.8 270.03L1357.43 294.98A30.6 30.6 0 0 0 1343.05 289.66Z" fill="#fc9272"/>
<path d="M1374.8 270.03A61 61 0 0 1 1394.72 293.24L1367.42 306.62A30.6 30.6 0 0 0 1357.43 294.98Z" fill="#ef3b2c"/>
<path d="M1394.72 293.24A61 61 0 0 1 1400.87 323.19L1370.51 321.65A30.6 30.6 0 0 0 1367.42 306.62Z" fill="#ef3b2c"/>
<path d="M1400.87 323.19A61 61 0 0 1 1391.72 352.37L1365.92 336.29A30.6 30.6 0 0 0 1370.51 321.65Z" fill="#fb6a4a"/>
<path d="M1391.72 352.37A61 61 0 0 1 1369.55 373.44L1354.8 346.86A30.6 30.6 0 0 0 1365.92 336.29Z" fill="#fc9272"/>
<path d="M1369.55 373.44A61 61 0 0 1 1339.95 381.1L1339.95 350.7A30.6 30.6 0 0 0 1354.8 346.86Z" fill="#fc9272"/>
<path d="M1339.95 381.1A61 61 0 0 1 1310.35 373.44L1325.1 346.86A30.6 30.6 0 0 0 1339.95 350.7Z" fill="#fcbba1"/>
<path d="M1310.35 373.44A61 61 0 0 1 1288.18 352.37L1313.98 336.29A30.6 30.6 0 0 0 1325.1 346.86Z" fill="#fc9272"/>
<path d="M1288.18 352.37A61 61 0 0 1 1279.03 323.19L1309.39 321.65A30.6 30.6 0 0 0 1313.98 336.29Z" fill="#fc9272"/>
<path d="M1279.03 323.19A61 61 0 0 1 1285.18 293.24L1312.48 306.62A30.6 30.6 0 0 0 1309.39 321.65Z" fill="#fcbba1"/>
<path d="M1285.18 293.24A61 61 0 0 1 1305.1 270.03L1322.47 294.98A30.6 30.6 0 0 0 1312.48 306.62Z" fill="#fc9272"/>
<path d="M1305.1 270.03A61 61 0 0 1 1333.78 259.41L1336.85 289.66A30.6 30.6 0 0 0 1322.47 294.98Z" fill="#fee0d2"/>
<circle cx="1339.95" cy="320.1" r="30.6" fill="#fc9272" class="ic"/>
<text transform="translate(1339.95 330.3) scale(1 1.05)" fill="#2b2b2b" font-size="28">1878</text>
<path d="M1473.74 259.41A61 61 0 0 1 1502.42 270.03L1485.05 294.98A30.6 30.6 0 0 0 1470.67 289.66Z" fill="#fcbba1"/>
<path d="M1502.42 270.03A61 61 0 0 1 1522.34 293.24L1495.04 306.62A30.6 30.6 0 0 0 1485.05 294.98Z" fill="#fcbba1"/>
<path d="M1522.34 293.24A61 61 0 0 1 1528.49 323.19L1498.13 321.65A30.6 30.6 0 0 0 1495.04 306.62Z" fill="#fcbba1"/>
<path d="M1528.49 323.19A61 61 0 0 1 1519.34 352.37L1493.54 336.29A30.6 30.6 0 0 0 1498.13 321.65Z" fill="#fee0d2"/>
<path d="M1519.34 352.37A61 61 0 0 1 1497.17 373.44L1482.42 346.86A30.6 30.6 0 0 0 1493.54 336.29Z" fill="#fee0d2"/>
<path d="M1497.17 373.44A61 61 0 0 1 1467.57 381.1L1467.57 350.7A30.6 30.6 0 0 0 1482.42 346.86Z" fill="#fee0d2"/>
<path d="M1467.57 381.1A61 61 0 0 1 1437.97 373.44L1452.72 346.86A30.6 30.6 0 0 0 1467.57 350.7Z" fill="#deebf7"/>
<path d="M1437.97 373.44A61 61 0 0 1 1415.8 352.37L1441.6 336.29A30.6 30.6 0 0 0 1452.72 346.86Z" fill="#deebf7"/>
<path d="M1415.8 352.37A61 61 0 0 1 1406.65 323.19L1437.01 321.65A30.6 30.6 0 0 0 1441.6 336.29Z" fill="#fee0d2"/>
<path d="M1406.65 323.19A61 61 0 0 1 1412.8 293.24L1440.1 306.62A30.6 30.6 0 0 0 1437.01 321.65Z" fill="#fcbba1"/>
<path d="M1412.8 293.24A61 61 0 0 1 1432.72 270.03L1450.09 294.98A30.6 30.6 0 0 0 1440.1 306.62Z" fill="#fee0d2"/>
<path d="M1432.72 270.03A61 61 0 0 1 1461.4 259.41L1464.47 289.66A30.6 30.6 0 0 0 1450.09 294.98Z" fill="#c6dbef"/>
<circle cx="1467.57" cy="320.1" r="30.6" fill="#fee0d2" class="ic"/>
<text transform="translate(1467.57 330.3) scale(1 1.05)" fill="#2b2b2b" font-size="28">1879</text>
<path d="M1601.36 259.41A61 61 0 0 1 1630.04 270.03L1612.67 294.98A30.6 30.6 0 0 0 1598.29 289.66Z" fill="#fee0d2"/>
<path d="M1630.04 270.03A61 61 0 0 1 1649.96 293.24L1622.66 306.62A30.6 30.6 0 0 0 1612.67 294.98Z" fill="#deebf7"/>
<path d="M1649.96 293.24A61 61 0 0 1 1656.11 323.19L1625.75 321.65A30.6 30.6 0 0 0 1622.66 306.62Z" fill="#fc9272"/>
<path d="M1656.11 323.19A61 61 0 0 1 1646.96 352.37L1621.16 336.29A30.6 30.6 0 0 0 1625.75 321.65Z" fill="#fee0d2"/>
<path d="M1646.96 352.37A61 61 0 0 1 1624.79 373.44L1610.04 346.86A30.6 30.6 0 0 0 1621.16 336.29Z" fill="#fee0d2"/>
<path d="M1624.79 373.44A61 61 0 0 1 1595.19 381.1L1595.19 350.7A30.6 30.6 0 0 0 1610.04 346.86Z" fill="#deebf7"/>
<path d="M1595.19 381.1A61 61 0 0 1 1565.59 373.44L1580.34 346.86A30.6 30.6 0 0 0 1595.19 350.7Z" fill="#deebf7"/>
<path d="M1565.59 373.44A61 61 0 0 1 1543.42 352.37L1569.22 336.29A30.6 30.6 0 0 0 1580.34 346.86Z" fill="#fcbba1"/>
<path d="M1543.42 352.37A61 61 0 0 1 1534.27 323.19L1564.63 321.65A30.6 30.6 0 0 0 1569.22 336.29Z" fill="#deebf7"/>
<path d="M1534.27 323.19A61 61 0 0 1 1540.42 293.24L1567.72 306.62A30.6 30.6 0 0 0 1564.63 321.65Z" fill="#deebf7"/>
<path d="M1540.42 293.24A61 61 0 0 1 1560.34 270.03L1577.71 294.98A30.6 30.6 0 0 0 1567.72 306.62Z" fill="#fcbba1"/>
<path d="M1560.34 270.03A61 61 0 0 1 1589.02 259.41L1592.09 289.66A30.6 30.6 0 0 0 1577.71 294.98Z" fill="#fcbba1"/>
<circle cx="1595.19" cy="320.1" r="30.6" fill="#fee0d2" class="ic"/>
<text transform="translate(1595.19 330.3) scale(1 1.05)" fill="#2b2b2b" font-size="28">1880</text>
<path d="M1728.98 259.41A61 61 0 0 1 1757.66 270.03L1740.29 294.98A30.6 30.6 0 0 0 1725.91 289.66Z" fill="#fc9272"/>
<path d="M1757.66 270.03A61 61 0 0 1 1777.58 293.24L1750.28 306.62A30.6 30.6 0 0 0 1740.29 294.98Z" fill="#fcbba1"/>
<path d="M1777.58 293.24A61 61 0 0 1 1783.73 323.19L1753.37 321.65A30.6 30.6 0 0 0 1750.28 306.62Z" fill="#fcbba1"/>
<path d="M1783.73 323.19A61 61 0 0 1 1774.58 352.37L1748.78 336.29A30.6 30.6 0 0 0 1753.37 321.65Z" fill="#fc9272"/>
<path d="M1774.58 352.37A61 61 0 0 1 1752.41 373.44L1737.66 346.86A30.6 30.6 0 0 0 1748.78 336.29Z" fill="#fc9272"/>
<path d="M1752.41 373.44A61 61 0 0 1 1722.81 381.1L1722.81 350.7A30.6 30.6 0 0 0 1737.66 346.86Z" fill="#deebf7"/>
<path d="M1722.81 381.1A61 61 0 0 1 1693.21 373.44L1707.96 346.86A30.6 30.6 0 0 0 1722.81 350.7Z" fill="#fee0d2"/>
<path d="M1693.21 373.44A61 61 0 0 1 1671.04 352.37L1696.84 336.29A30.6 30.6 0 0 0 1707.96 346.86Z" fill="#fcbba1"/>
<path d="M1671.04 352.37A61 61 0 0 1 1661.89 323.19L1692.25 321.65A30.6 30.6 0 0 0 1696.84 336.29Z" fill="#deebf7"/>
<path d="M1661.89 323.19A61 61 0 0 1 1668.04 293.24L1695.34 306.62A30.6 30.6 0 0 0 1692.25 321.65Z" fill="#fee0d2"/>
<path d="M1668.04 293.24A61 61 0 0 1 1687.96 270.03L1705.33 294.98A30.6 30.6 0 0 0 1695.34 306.62Z" fill="#fee0d2"/>
<path d="M1687.96 270.03A61 61 0 0 1 1716.64 259.41L1719.71 289.66A30.6 30.6 0 0 0 1705.33 294.98Z" fill="#fcbba1"/>
<circle cx="1722.81" cy="320.1" r="30.6" fill="#fcbba1" class="ic"/>
<text transform="translate(1722.81 330.3) scale(1 1.05)" fill="#2b2b2b" font-size="28">1881</text>
<path d="M1856.6 259.41A61 61 0 0 1 1885.28 270.03L1867.91 294.98A30.6 30.6 0 0 0 1853.53 289.66Z" fill="#fc9272"/>
<path d="M1885.28 270.03A61 61 0 0 1 1905.2 293.24L1877.9 306.62A30.6 30.6 0 0 0 1867.91 294.98Z" fill="#fc9272"/>
<path d="M1905.2 293.24A61 61 0 0 1 1911.35 323.19L1880.99 321.65A30.6 30.6 0 0 0 1877.9 306.62Z" fill="#fc9272"/>
<path d="M1911.35 323.19A61 61 0 0 1 1902.2 352.37L1876.4 336.29A30.6 30.6 0 0 0 1880.99 321.65Z" fill="#fee0d2"/>
<path d="M1902.2 352.37A61 61 0 0 1 1880.03 373.44L1865.28 346.86A30.6 30.6 0 0 0 1876.4 336.29Z" fill="#fee0d2"/>
<path d="M1880.03 373.44A61 61 0 0 1 1850.43 381.1L1850.43 350.7A30.6 30.6 0 0 0 1865.28 346.86Z" fill="#deebf7"/>
<path d="M1850.43 381.1A61 61 0 0 1 1820.83 373.44L1835.58 346.86A30.6 30.6 0 0 0 1850.43 350.7Z" fill="#deebf7"/>
<path d="M1820.83 373.44A61 61 0 0 1 1798.66 352.37L1824.46 336.29A30.6 30.6 0 0 0 1835.58 346.86Z" fill="#fee0d2"/>
<path d="M1798.66 352.37A61 61 0 0 1 1789.51 323.19L1819.87 321.65A30.6 30.6 0 0 0 1824.46 336.29Z" fill="#fcbba1"/>
<path d="M1789.51 323.19A61 61 0 0 1 1795.66 293.24L1822.96 306.62A30.6 30.6 0 0 0 1819.87 321.65Z" fill="#deebf7"/>
<path d="M1795.66 293.24A61 61 0 0 1 1815.58 270.03L1832.95 294.98A30.6 30.6 0 0 0 1822.96 306.62Z" fill="#deebf7"/>
<path d="M1815.58 270.03A61 61 0 0 1 1844.26 259.41L1847.33 289.66A30.6 30.6 0 0 0 1832.95 294.98Z" fill="#9ecae1"/>
<circle cx="1850.43" cy="320.1" r="30.6" fill="#fee0d2" class="ic"/>
<text transform="translate(1850.43 330.3) scale(1 1.05)" fill="#2b2b2b" font-size="28">1882</text>
<path d="M1984.22 259.41A61 61 0 0 1 2012.9 270.03L1995.53 294.98A30.6 30.6 0 0 0 1981.15 289.66Z" fill="#deebf7"/>
<path d="M2012.9 270.03A61 61 0 0 1 2032.82 293.24L2005.52 306.62A30.6 30.6 0 0 0 1995.53 294.98Z" fill="#deebf7"/>
<path d="M2032.82 293.24A61 61 0 0 1 2038.97 323.19L2008.61 321.65A30.6 30.6 0 0 0 2005.52 306.62Z" fill="#fcbba1"/>
<path d="M2038.97 323.19A61 61 0 0 1 2029.82 352.37L2004.02 336.29A30.6 30.6 0 0 0 2008.61 321.65Z" fill="#deebf7"/>
<path d="M2029.82 352.37A61 61 0 0 1 2007.65 373.44L1992.9 346.86A30.6 30.6 0 0 0 2004.02 336.29Z" fill="#fee0d2"/>
<path d="M2007.65 373.44A61 61 0 0 1 1978.05 381.1L1978.05 350.7A30.6 30.6 0 0 0 1992.9 346.86Z" fill="#fcbba1"/>
<path d="M1978.05 381.1A61 61 0 0 1 1948.45 373.44L1963.2 346.86A30.6 30.6 0 0 0 1978.05 350.7Z" fill="#fee0d2"/>
<path d="M1948.45 373.44A61 61 0 0 1 1926.28 352.37L1952.08 336.29A30.6 30.6 0 0 0 1963.2 346.86Z" fill="#deebf7"/>
<path d="M1926.28 352.37A61 61 0 0 1 1917.13 323.19L1947.49 321.65A30.6 30.6 0 0 0 1952.08 336.29Z" fill="#deebf7"/>
<path d="M1917.13 323.19A61 61 0 0 1 1923.28 293.24L1950.58 306.62A30.6 30.6 0 0 0 1947.49 321.65Z" fill="#deebf7"/>
<path d="M1923.28 293.24A61 61 0 0 1 1943.2 270.03L1960.57 294.98A30.6 30.6 0 0 0 1950.58 306.62Z" fill="#fee0d2"/>
<path d="M1943.2 270.03A61 61 0 0 1 1971.88 259.41L1974.95 289.66A30.6 30.6 0 0 0 1960.57 294.98Z" fill="#fee0d2"/>
<circle cx="1978.05" cy="320.1" r="30.6" fill="#fee0d2" class="ic"/>
<text transform="translate(1978.05 330.3) scale(1 1.05)" fill="#2b2b2b" font-size="28">1883</text>
<path d="M2111.84 259.41A61 61 0 0 1 2140.52 270.03L2123.15 294.98A30.6 30.6 0 0 0 2108.77 289.66Z" fill="#deebf7"/>
<path d="M2140.52 270.03A61 61 0 0 1 2160.44 293.24L2133.14 306.62A30.6 30.6 0 0 0 2123.15 294.98Z" fill="#fee0d2"/>
<path d="M2160.44 293.24A61 61 0 0 1 2166.59 323.19L2136.23 321.65A30.6 30.6 0 0 0 2133.14 306.62Z" fill="#deebf7"/>
<path d="M2166.59 323.19A61 61 0 0 1 2157.44 352.37L2131.64 336.29A30.6 30.6 0 0 0 2136.23 321.65Z" fill="#c6dbef"/>
<path d="M2157.44 352.37A61 61 0 0 1 2135.27 373.44L2120.52 346.86A30.6 30.6 0 0 0 2131.64 336.29Z" fill="#c6dbef"/>
<path d="M2135.27 373.44A61 61 0 0 1 2105.67 381.1L2105.67 350.7A30.6 30.6 0 0 0 2120.52 346.86Z" fill="#c6dbef"/>
<path d="M2105.67 381.1A61 61 0 0 1 2076.07 373.44L2090.82 346.86A30.6 30.6 0 0 0 2105.67 350.7Z" fill="#9ecae1"/>
<path d="M2076.07 373.44A61 61 0 0 1 2053.9 352.37L2079.7 336.29A30.6 30.6 0 0 0 2090.82 346.86Z" fill="#c6dbef"/>
<path d="M2053.9 352.37A61 61 0 0 1 2044.75 323.19L2075.11 321.65A30.6 30.6 0 0 0 2079.7 336.29Z" fill="#9ecae1"/>
<path d="M2044.75 323.19A61 61 0 0 1 2050.9 293.24L2078.2 306.62A30.6 30.6 0 0 0 2075.11 321.65Z" fill="#c6dbef"/>
<path d="M2050.9 293.24A61 61 0 0 1 2070.82 270.03L2088.19 294.98A30.6 30.6 0 0 0 2078.2 306.62Z" fill="#c6dbef"/>
<path d="M2070.82 270.03A61 61 0 0 1 2099.5 259.41L2102.57 289.66A30.6 30.6 0 0 0 2088.19 294.98Z" fill="#deebf7"/>
<circle cx="2105.67" cy="320.1" r="30.6" fill="#c6dbef" class="ic"/>
<text transform="translate(2105.67 330.3) scale(1 1.05)" fill="#2b2b2b" font-size="28">1884</text>
<path d="M69.92 387.01A61 61 0 0 1 98.6 397.63L81.23 422.58A30.6 30.6 0 0 0 66.85 417.26Z" fill="#9ecae1"/>
<path d="M98.6 397.63A61 61 0 0 1 118.52 420.84L91.22 434.22A30.6 30.6 0 0 0 81.23 422.58Z" fill="#c6dbef"/>
<path d="M118.52 420.84A61 61 0 0 1 124.67 450.79L94.31 449.25A30.6 30.6 0 0 0 91.22 434.22Z" fill="#fee0d2"/>
<path d="M124.67 450.79A61 61 0 0 1 115.52 479.97L89.72 463.89A30.6 30.6 0 0 0 94.31 449.25Z" fill="#9ecae1"/>
<path d="M115.52 479.97A61 61 0 0 1 93.35 501.04L78.6 474.46A30.6 30.6 0 0 0 89.72 463.89Z" fill="#9ecae1"/>
<path d="M93.35 501.04A61 61 0 0 1 63.75 508.7L63.75 478.3A30.6 30.6 0 0 0 78.6 474.46Z" fill="#9ecae1"/>
<path d="M63.75 508.7A61 61 0 0 1 34.15 501.04L48.9 474.46A30.6 30.6 0 0 0 63.75 478.3Z" fill="#c6dbef"/>
<path d="M34.15 501.04A61 61 0 0 1 11.98 479.97L37.78 463.89A30.6 30.6 0 0 0 48.9 474.46Z" fill="#c6dbef"/>
<path d="M11.98 479.97A61 61 0 0 1 2.83 450.79L33.19 449.25A30.6 30.6 0 0 0 37.78 463.89Z" fill="#deebf7"/>
<path d="M2.83 450.79A61 61 0 0 1 8.98 420.84L36.28 434.22A30.6 30.6 0 0 0 33.19 449.25Z" fill="#deebf7"/>
<path d="M8.98 420.84A61 61 0 0 1 28.9 397.63L46.27 422.58A30.6 30.6 0 0 0 36.28 434.22Z" fill="#fee0d2"/>
<path d="M28.9 397.63A61 61 0 0 1 57.58 387.01L60.65 417.26A30.6 30.6 0 0 0 46.27 422.58Z" fill="#fc9272"/>
<circle cx="63.75" cy="447.7" r="30.6" fill="#c6dbef" class="ic"/>
<text transform="translate(63.75 457.9) scale(1 1.05)" fill="#2b2b2b" font-size="28">1885</text>
<path d="M197.54 387.01A61 61 0 0 1 226.22 397.63L208.85 422.58A30.6 30.6 0 0 0 194.47 417.26Z" fill="#deebf7"/>
<path d="M226.22 397.63A61 61 0 0 1 246.14 420.84L218.84 434.22A30.6 30.6 0 0 0 208.85 422.58Z" fill="#deebf7"/>
<path d="M246.14 420.84A61 61 0 0 1 252.29 450.79L221.93 449.25A30.6 30.6 0 0 0 218.84 434.22Z" fill="#deebf7"/>
<path d="M252.29 450.79A61 61 0 0 1 243.14 479.97L217.34 463.89A30.6 30.6 0 0 0 221.93 449.25Z" fill="#fee0d2"/>
<path d="M243.14 479.97A61 61 0 0 1 220.97 501.04L206.22 474.46A30.6 30.6 0 0 0 217.34 463.89Z" fill="#fee0d2"/>
<path d="M220.97 501.04A61 61 0 0 1 191.37 508.7L191.37 478.3A30.6 30.6 0 0 0 206.22 474.46Z" fill="#c6dbef"/>
<path d="M191.37 508.7A61 61 0 0 1 161.77 501.04L176.52 474.46A30.6 30.6 0 0 0 191.37 478.3Z" fill="#deebf7"/>
<path d="M161.77 501.04A61 61 0 0 1 139.6 479.97L165.4 463.89A30.6 30.6 0 0 0 176.52 474.46Z" fill="#9ecae1"/>
<path d="M139.6 479.97A61 61 0 0 1 130.45 450.79L160.81 449.25A30.6 30.6 0 0 0 165.4 463.89Z" fill="#c6dbef"/>
<path d="M130.45 450.79A61 61 0 0 1 136.6 420.84L163.9 434.22A30.6 30.6 0 0 0 160.81 449.25Z" fill="#deebf7"/>
<path d="M136.6 420.84A61 61 0 0 1 156.52 397.63L173.89 422.58A30.6 30.6 0 0 0 163.9 434.22Z" fill="#deebf7"/>
<path d="M156.52 397.63A61 61 0 0 1 185.2 387.01L188.27 417.26A30.6 30.6 0 0 0 173.89 422.58Z" fill="#fee0d2"/>
<circle cx="191.37" cy="447.7" r="30.6" fill="#deebf7" class="ic"/>
<text transform="translate(191.37 457.9) scale(1 1.05)" fill="#2b2b2b" font-size="28">1886</text>
<path d="M325.16 387.01A61 61 0 0 1 353.84 397.63L336.47 422.58A30.6 30.6 0 0 0 322.09 417.26Z" fill="#9ecae1"/>
<path d="M353.84 397.63A61 61 0 0 1 373.76 420.84L346.46 434.22A30.6 30.6 0 0 0 336.47 422.58Z" fill="#9ecae1"/>
<path d="M373.76 420.84A61 61 0 0 1 379.91 450.79L349.55 449.25A30.6 30.6 0 0 0 346.46 434.22Z" fill="#deebf7"/>
<path d="M379.91 450.79A61 61 0 0 1 370.76 479.97L344.96 463.89A30.6 30.6 0 0 0 349.55 449.25Z" fill="#deebf7"/>
<path d="M370.76 479.97A61 61 0 0 1 348.59 501.04L333.84 474.46A30.6 30.6 0 0 0 344.96 463.89Z" fill="#c6dbef"/>
<path d="M348.59 501.04A61 61 0 0 1 318.99 508.7L318.99 478.3A30.6 30.6 0 0 0 333.84 474.46Z" fill="#9ecae1"/>
<path d="M318.99 508.7A61 61 0 0 1 289.39 501.04L304.14 474.46A30.6 30.6 0 0 0 318.99 478.3Z" fill="#c6dbef"/>
<path d="M289.39 501.04A61 61 0 0 1 267.22 479.97L293.02 463.89A30.6 30.6 0 0 0 304.14 474.46Z" fill="#c6dbef"/>
<path d="M267.22 479.97A61 61 0 0 1 258.07 450.79L288.43 449.25A30.6 30.6 0 0 0 293.02 463.89Z" fill="#c6dbef"/>
<path d="M258.07 450.79A61 61 0 0 1 264.22 420.84L291.52 434.22A30.6 30.6 0 0 0 288.43 449.25Z" fill="#c6dbef"/>
<path d="M264.22 420.84A61 61 0 0 1 284.14 397.63L301.51 422.58A30.6 30.6 0 0 0 291.52 434.22Z" fill="#deebf7"/>
<path d="M284.14 397.63A61 61 0 0 1 312.82 387.01L315.89 417.26A30.6 30.6 0 0 0 301.51 422.58Z" fill="#deebf7"/>
<circle cx="318.99" cy="447.7" r="30.6" fill="#c6dbef" class="ic"/>
<text transform="translate(318.99 457.9) scale(1 1.05)" fill="#2b2b2b" font-size="28">1887</text>
<path d="M452.78 387.01A61 61 0 0 1 481.46 397.63L464.09 422.58A30.6 30.6 0 0 0 449.71 417.26Z" fill="#c6dbef"/>
<path d="M481.46 397.63A61 61 0 0 1 501.38 420.84L474.08 434.22A30.6 30.6 0 0 0 464.09 422.58Z" fill="#c6dbef"/>
<path d="M501.38 420.84A61 61 0 0 1 507.53 450.79L477.17 449.25A30.6 30.6 0 0 0 474.08 434.22Z" fill="#c6dbef"/>
<path d="M507.53 450.79A61 61 0 0 1 498.38 479.97L472.58 463.89A30.6 30.6 0 0 0 477.17 449.25Z" fill="#fee0d2"/>
<path d="M498.38 479.97A61 61 0 0 1 476.21 501.04L461.46 474.46A30.6 30.6 0 0 0 472.58 463.89Z" fill="#deebf7"/>
<path d="M476.21 501.04A61 61 0 0 1 446.61 508.7L446.61 478.3A30.6 30.6 0 0 0 461.46 474.46Z" fill="#deebf7"/>
<path d="M446.61 508.7A61 61 0 0 1 417.01 501.04L431.76 474.46A30.6 30.6 0 0 0 446.61 478.3Z" fill="#deebf7"/>
<path d="M417.01 501.04A61 61 0 0 1 394.84 479.97L420.64 463.89A30.6 30.6 0 0 0 431.76 474.46Z" fill="#deebf7"/>
<path d="M394.84 479.97A61 61 0 0 1 385.69 450.79L416.05 449.25A30.6 30.6 0 0 0 420.64 463.89Z" fill="#deebf7"/>
<path d="M385.69 450.79A61 61 0 0 1 391.84 420.84L419.14 434.22A30.6 30.6 0 0 0 416.05 449.25Z" fill="#fcbba1"/>
<path d="M391.84 420.84A61 61 0 0 1 411.76 397.63L429.13 422.58A30.6 30.6 0 0 0 419.14 434.22Z" fill="#fcbba1"/>
<path d="M411.76 397.63A61 61 0 0 1 440.44 387.01L443.51 417.26A30.6 30.6 0 0 0 429.13 422.58Z" fill="#fcbba1"/>
<circle cx="446.61" cy="447.7" r="30.6" fill="#deebf7" class="ic"/>
<text transform="translate(446.61 457.9) scale(1 1.05)" fill="#2b2b2b" font-size="28">1888</text>
<path d="M580.4 387.01A61 61 0 0 1 609.08 397.63L591.71 422.58A30.6 30.6 0 0 0 577.33 417.26Z" fill="#fcbba1"/>
<path d="M609.08 397.63A61 61 0 0 1 629 420.84L601.7 434.22A30.6 30.6 0 0 0 591.71 422.58Z" fill="#fb6a4a"/>
<path d="M629 420.84A61 61 0 0 1 635.15 450.79L604.79 449.25A30.6 30.6 0 0 0 601.7 434.22Z" fill="#fc9272"/>
<path d="M635.15 450.79A61 61 0 0 1 626 479.97L600.2 463.89A30.6 30.6 0 0 0 604.79 449.25Z" fill="#fc9272"/>
<path d="M626 479.97A61 61 0 0 1 603.83 501.04L589.08 474.46A30.6 30.6 0 0 0 600.2 463.89Z" fill="#fc9272"/>
<path d="M603.83 501.04A61 61 0 0 1 574.23 508.7L574.23 478.3A30.6 30.6 0 0 0 589.08 474.46Z" fill="#fcbba1"/>
<path d="M574.23 508.7A61 61 0 0 1 544.63 501.04L559.38 474.46A30.6 30.6 0 0 0 574.23 478.3Z" fill="#deebf7"/>
<path d="M544.63 501.04A61 61 0 0 1 522.46 479.97L548.26 463.89A30.6 30.6 0 0 0 559.38 474.46Z" fill="#deebf7"/>
<path d="M522.46 479.97A61 61 0 0 1 513.31 450.79L543.67 449.25A30.6 30.6 0 0 0 548.26 463.89Z" fill="#deebf7"/>
<path d="M513.31 450.79A61 61 0 0 1 519.46 420.84L546.76 434.22A30.6 30.6 0 0 0 543.67 449.25Z" fill="#deebf7"/>
<path d="M519.46 420.84A61 61 0 0 1 539.38 397.63L556.75 422.58A30.6 30.6 0 0 0 546.76 434.22Z" fill="#c6dbef"/>
<path d="M539.38 397.63A61 61 0 0 1 568.06 387.01L571.13 417.26A30.6 30.6 0 0 0 556.75 422.58Z" fill="#fee0d2"/>
<circle cx="574.23" cy="447.7" r="30.6" fill="#fcbba1" class="ic"/>
<text transform="translate(574.23 457.9) scale(1 1.05)" fill="#2b2b2b" font-size="28">1889</text>
<path d="M708.02 387.01A61 61 0 0 1 736.7 397.63L719.33 422.58A30.6 30.6 0 0 0 704.95 417.26Z" fill="#c6dbef"/>
<path d="M736.7 397.63A61 61 0 0 1 756.62 420.84L729.32 434.22A30.6 30.6 0 0 0 719.33 422.58Z" fill="#deebf7"/>
<path d="M756.62 420.84A61 61 0 0 1 762.77 450.79L732.41 449.25A30.6 30.6 0 0 0 729.32 434.22Z" fill="#c6dbef"/>
<path d="M762.77 450.79A61 61 0 0 1 753.62 479.97L727.82 463.89A30.6 30.6 0 0 0 732.41 449.25Z" fill="#c6dbef"/>
<path d="M753.62 479.97A61 61 0 0 1 731.45 501.04L716.7 474.46A30.6 30.6 0 0 0 727.82 463.89Z" fill="#c6dbef"/>
<path d="M731.45 501.04A61 61 0 0 1 701.85 508.7L701.85 478.3A30.6 30.6 0 0 0 716.7 474.46Z" fill="#c6dbef"/>
<path d="M701.85 508.7A61 61 0 0 1 672.25 501.04L687 474.46A30.6 30.6 0 0 0 701.85 478.3Z" fill="#9ecae1"/>
<path d="M672.25 501.04A61 61 0 0 1 650.08 479.97L675.88 463.89A30.6 30.6 0 0 0 687 474.46Z" fill="#9ecae1"/>
<path d="M650.08 479.97A61 61 0 0 1 640.93 450.79L671.29 449.25A30.6 30.6 0 0 0 675.88 463.89Z" fill="#9ecae1"/>
<path d="M640.93 450.79A61 61 0 0 1 647.08 420.84L674.38 434.22A30.6 30.6 0 0 0 671.29 449.25Z" fill="#c6dbef"/>
<path d="M647.08 420.84A61 61 0 0 1 667 397.63L684.37 422.58A30.6 30.6 0 0 0 674.38 434.22Z" fill="#9ecae1"/>
<path d="M667 397.63A61 61 0 0 1 695.68 387.01L698.75 417.26A30.6 30.6 0 0 0 684.37 422.58Z" fill="#fee0d2"/>
<circle cx="701.85" cy="447.7" r="30.6" fill="#c6dbef" class="ic"/>
<text transform="translate(701.85 457.9) scale(1 1.05)" fill="#2b2b2b" font-size="28">1890</text>
<path d="M835.64 387.01A61 61 0 0 1 864.32 397.63L846.95 422.58A30.6 30.6 0 0 0 832.57 417.26Z" fill="#c6dbef"/>
<path d="M864.32 397.63A61 61 0 0 1 884.24 420.84L856.94 434.22A30.6 30.6 0 0 0 846.95 422.58Z" fill="#c6dbef"/>
<path d="M884.24 420.84A61 61 0 0 1 890.39 450.79L860.03 449.25A30.6 30.6 0 0 0 856.94 434.22Z" fill="#fee0d2"/>
<path d="M890.39 450.79A61 61 0 0 1 881.24 479.97L855.44 463.89A30.6 30.6 0 0 0 860.03 449.25Z" fill="#deebf7"/>
<path d="M881.24 479.97A61 61 0 0 1 859.07 501.04L844.32 474.46A30.6 30.6 0 0 0 855.44 463.89Z" fill="#fee0d2"/>
<path d="M859.07 501.04A61 61 0 0 1 829.47 508.7L829.47 478.3A30.6 30.6 0 0 0 844.32 474.46Z" fill="#deebf7"/>
<path d="M829.47 508.7A61 61 0 0 1 799.87 501.04L814.62 474.46A30.6 30.6 0 0 0 829.47 478.3Z" fill="#c6dbef"/>
<path d="M799.87 501.04A61 61 0 0 1 777.7 479.97L803.5 463.89A30.6 30.6 0 0 0 814.62 474.46Z" fill="#c6dbef"/>
<path d="M777.7 479.97A61 61 0 0 1 768.55 450.79L798.91 449.25A30.6 30.6 0 0 0 803.5 463.89Z" fill="#fee0d2"/>
<path d="M768.55 450.79A61 61 0 0 1 774.7 420.84L802 434.22A30.6 30.6 0 0 0 798.91 449.25Z" fill="#deebf7"/>
<path d="M774.7 420.84A61 61 0 0 1 794.62 397.63L811.99 422.58A30.6 30.6 0 0 0 802 434.22Z" fill="#c6dbef"/>
<path d="M794.62 397.63A61 61 0 0 1 823.3 387.01L826.37 417.26A30.6 30.6 0 0 0 811.99 422.58Z" fill="#fc9272"/>
<circle cx="829.47" cy="447.7" r="30.6" fill="#deebf7" class="ic"/>
<text transform="translate(829.47 457.9) scale(1 1.05)" fill="#2b2b2b" font-size="28">1891</text>
<path d="M963.26 387.01A61 61 0 0 1 991.94 397.63L974.57 422.58A30.6 30.6 0 0 0 960.19 417.26Z" fill="#deebf7"/>
<path d="M991.94 397.63A61 61 0 0 1 1011.86 420.84L984.56 434.22A30.6 30.6 0 0 0 974.57 422.58Z" fill="#fcbba1"/>
<path d="M1011.86 420.84A61 61 0 0 1 1018.01 450.79L987.65 449.25A30.6 30.6 0 0 0 984.56 434.22Z" fill="#deebf7"/>
<path d="M1018.01 450.79A61 61 0 0 1 1008.86 479.97L983.06 463.89A30.6 30.6 0 0 0 987.65 449.25Z" fill="#c6dbef"/>
<path d="M1008.86 479.97A61 61 0 0 1 986.69 501.04L971.94 474.46A30.6 30.6 0 0 0 983.06 463.89Z" fill="#deebf7"/>
<path d="M986.69 501.04A61 61 0 0 1 957.09 508.7L957.09 478.3A30.6 30.6 0 0 0 971.94 474.46Z" fill="#c6dbef"/>
<path d="M957.09 508.7A61 61 0 0 1 927.49 501.04L942.24 474.46A30.6 30.6 0 0 0 957.09 478.3Z" fill="#9ecae1"/>
<path d="M927.49 501.04A61 61 0 0 1 905.32 479.97L931.12 463.89A30.6 30.6 0 0 0 942.24 474.46Z" fill="#9ecae1"/>
<path d="M905.32 479.97A61 61 0 0 1 896.17 450.79L926.53 449.25A30.6 30.6 0 0 0 931.12 463.89Z" fill="#c6dbef"/>
<path d="M896.17 450.79A61 61 0 0 1 902.32 420.84L929.62 434.22A30.6 30.6 0 0 0 926.53 449.25Z" fill="#c6dbef"/>
<path d="M902.32 420.84A61 61 0 0 1 922.24 397.63L939.61 422.58A30.6 30.6 0 0 0 929.62 434.22Z" fill="#9ecae1"/>
<path d="M922.24 397.63A61 61 0 0 1 950.92 387.01L953.99 417.26A30.6 30.6 0 0 0 939.61 422.58Z" fill="#9ecae1"/>
<circle cx="957.09" cy="447.7" r="30.6" fill="#c6dbef" class="ic"/>
<text transform="translate(957.09 457.9) scale(1 1.05)" fill="#2b2b2b" font-size="28">1892</text>
<path d="M1090.88 387.01A61 61 0 0 1 1119.56 397.63L1102.19 422.58A30.6 30.6 0 0 0 1087.81 417.26Z" fill="#4292c6"/>
<path d="M1119.56 397.63A61 61 0 0 1 1139.48 420.84L1112.18 434.22A30.6 30.6 0 0 0 1102.19 422.58Z" fill="#6baed6"/>
<path d="M1139.48 420.84A61 61 0 0 1 1145.63 450.79L1115.27 449.25A30.6 30.6 0 0 0 1112.18 434.22Z" fill="#fee0d2"/>
<path d="M1145.63 450.79A61 61 0 0 1 1136.48 479.97L1110.68 463.89A30.6 30.6 0 0 0 1115.27 449.25Z" fill="#c6dbef"/>
<path d="M1136.48 479.97A61 61 0 0 1 1114.31 501.04L1099.56 474.46A30.6 30.6 0 0 0 1110.68 463.89Z" fill="#c6dbef"/>
<path d="M1114.31 501.04A61 61 0 0 1 1084.71 508.7L1084.71 478.3A30.6 30.6 0 0 0 1099.56 474.46Z" fill="#c6dbef"/>
<path d="M1084.71 508.7A61 61 0 0 1 1055.11 501.04L1069.86 474.46A30.6 30.6 0 0 0 1084.71 478.3Z" fill="#fee0d2"/>
<path d="M1055.11 501.04A61 61 0 0 1 1032.94 479.97L1058.74 463.89A30.6 30.6 0 0 0 1069.86 474.46Z" fill="#deebf7"/>
<path d="M1032.94 479.97A61 61 0 0 1 1023.79 450.79L1054.15 449.25A30.6 30.6 0 0 0 1058.74 463.89Z" fill="#deebf7"/>
<path d="M1023.79 450.79A61 61 0 0 1 1029.94 420.84L1057.24 434.22A30.6 30.6 0 0 0 1054.15 449.25Z" fill="#fee0d2"/>
<path d="M1029.94 420.84A61 61 0 0 1 1049.86 397.63L1067.23 422.58A30.6 30.6 0 0 0 1057.24 434.22Z" fill="#deebf7"/>
<path d="M1049.86 397.63A61 61 0 0 1 1078.54 387.01L1081.61 417.26A30.6 30.6 0 0 0 1067.23 422.58Z" fill="#deebf7"/>
<circle cx="1084.71" cy="447.7" r="30.6" fill="#c6dbef" class="ic"/>
<text transform="translate(1084.71 457.9) scale(1 1.05)" fill="#2b2b2b" font-size="28">1893</text>
<path d="M1218.5 387.01A61 61 0 0 1 1247.18 397.63L1229.81 422.58A30.6 30.6 0 0 0 1215.43 417.26Z" fill="#9ecae1"/>
<path d="M1247.18 397.63A61 61 0 0 1 1267.1 420.84L1239.8 434.22A30.6 30.6 0 0 0 1229.81 422.58Z" fill="#deebf7"/>
<path d="M1267.1 420.84A61 61 0 0 1 1273.25 450.79L1242.89 449.25A30.6 30.6 0 0 0 1239.8 434.22Z" fill="#deebf7"/>
<path d="M1273.25 450.79A61 61 0 0 1 1264.1 479.97L1238.3 463.89A30.6 30.6 0 0 0 1242.89 449.25Z" fill="#c6dbef"/>
<path d="M1264.1 479.97A61 61 0 0 1 1241.93 501.04L1227.18 474.46A30.6 30.6 0 0 0 1238.3 463.89Z" fill="#c6dbef"/>
<path d="M1241.93 501.04A61 61 0 0 1 1212.33 508.7L1212.33 478.3A30.6 30.6 0 0 0 1227.18 474.46Z" fill="#9ecae1"/>
<path d="M1212.33 508.7A61 61 0 0 1 1182.73 501.04L1197.48 474.46A30.6 30.6 0 0 0 1212.33 478.3Z" fill="#c6dbef"/>
<path d="M1182.73 501.04A61 61 0 0 1 1160.56 479.97L1186.36 463.89A30.6 30.6 0 0 0 1197.48 474.46Z" fill="#c6dbef"/>
<path d="M1160.56 479.97A61 61 0 0 1 1151.41 450.79L1181.77 449.25A30.6 30.6 0 0 0 1186.36 463.89Z" fill="#c6dbef"/>
<path d="M1151.41 450.79A61 61 0 0 1 1157.56 420.84L1184.86 434.22A30.6 30.6 0 0 0 1181.77 449.25Z" fill="#deebf7"/>
<path d="M1157.56 420.84A61 61 0 0 1 1177.48 397.63L1194.85 422.58A30.6 30.6 0 0 0 1184.86 434.22Z" fill="#deebf7"/>
<path d="M1177.48 397.63A61 61 0 0 1 1206.16 387.01L1209.23 417.26A30.6 30.6 0 0 0 1194.85 422.58Z" fill="#c6dbef"/>
<circle cx="1212.33" cy="447.7" r="30.6" fill="#c6dbef" class="ic"/>
<text transform="translate(1212.33 457.9) scale(1 1.05)" fill="#2b2b2b" font-size="28">1894</text>
<path d="M1346.12 387.01A61 61 0 0 1 1374.8 397.63L1357.43 422.58A30.6 30.6 0 0 0 1343.05 417.26Z" fill="#9ecae1"/>
<path d="M1374.8 397.63A61 61 0 0 1 1394.72 420.84L1367.42 434.22A30.6 30.6 0 0 0 1357.43 422.58Z" fill="#9ecae1"/>
<path d="M1394.72 420.84A61 61 0 0 1 1400.87 450.79L1370.51 449.25A30.6 30.6 0 0 0 1367.42 434.22Z" fill="#c6dbef"/>
<path d="M1400.87 450.79A61 61 0 0 1 1391.72 479.97L1365.92 463.89A30.6 30.6 0 0 0 1370.51 449.25Z" fill="#deebf7"/>
<path d="M1391.72 479.97A61 61 0 0 1 1369.55 501.04L1354.8 474.46A30.6 30.6 0 0 0 1365.92 463.89Z" fill="#c6dbef"/>
<path d="M1369.55 501.04A61 61 0 0 1 1339.95 508.7L1339.95 478.3A30.6 30.6 0 0 0 1354.8 474.46Z" fill="#c6dbef"/>
<path d="M1339.95 508.7A61 61 0 0 1 1310.35 501.04L1325.1 474.46A30.6 30.6 0 0 0 1339.95 478.3Z" fill="#deebf7"/>
<path d="M1310.35 501.04A61 61 0 0 1 1288.18 479.97L1313.98 463.89A30.6 30.6 0 0 0 1325.1 474.46Z" fill="#c6dbef"/>
<path d="M1288.18 479.97A61 61 0 0 1 1279.03 450.79L1309.39 449.25A30.6 30.6 0 0 0 1313.98 463.89Z" fill="#c6dbef"/>
<path d="M1279.03 450.79A61 61 0 0 1 1285.18 420.84L1312.48 434.22A30.6 30.6 0 0 0 1309.39 449.25Z" fill="#deebf7"/>
<path d="M1285.18 420.84A61 61 0 0 1 1305.1 397.63L1322.47 422.58A30.6 30.6 0 0 0 1312.48 434.22Z" fill="#fee0d2"/>
<path d="M1305.1 397.63A61 61 0 0 1 1333.78 387.01L1336.85 417.26A30.6 30.6 0 0 0 1322.47 422.58Z" fill="#fee0d2"/>
<circle cx="1339.95" cy="447.7" r="30.6" fill="#deebf7" class="ic"/>
<text transform="translate(1339.95 457.9) scale(1 1.05)" fill="#2b2b2b" font-size="28">1895</text>
<path d="M1473.74 387.01A61 61 0 0 1 1502.42 397.63L1485.05 422.58A30.6 30.6 0 0 0 1470.67 417.26Z" fill="#fcbba1"/>
<path d="M1502.42 397.63A61 61 0 0 1 1522.34 420.84L1495.04 434.22A30.6 30.6 0 0 0 1485.05 422.58Z" fill="#fee0d2"/>
<path d="M1522.34 420.84A61 61 0 0 1 1528.49 450.79L1498.13 449.25A30.6 30.6 0 0 0 1495.04 434.22Z" fill="#c6dbef"/>
<path d="M1528.49 450.79A61 61 0 0 1 1519.34 479.97L1493.54 463.89A30.6 30.6 0 0 0 1498.13 449.25Z" fill="#c6dbef"/>
<path d="M1519.34 479.97A61 61 0 0 1 1497.17 501.04L1482.42 474.46A30.6 30.6 0 0 0 1493.54 463.89Z" fill="#fee0d2"/>
<path d="M1497.17 501.04A61 61 0 0 1 1467.57 508.7L1467.57 478.3A30.6 30.6 0 0 0 1482.42 474.46Z" fill="#fee0d2"/>
<path d="M1467.57 508.7A61 61 0 0 1 1437.97 501.04L1452.72 474.46A30.6 30.6 0 0 0 1467.57 478.3Z" fill="#fee0d2"/>
<path d="M1437.97 501.04A61 61 0 0 1 1415.8 479.97L1441.6 463.89A30.6 30.6 0 0 0 1452.72 474.46Z" fill="#fee0d2"/>
<path d="M1415.8 479.97A61 61 0 0 1 1406.65 450.79L1437.01 449.25A30.6 30.6 0 0 0 1441.6 463.89Z" fill="#fcbba1"/>
<path d="M1406.65 450.79A61 61 0 0 1 1412.8 420.84L1440.1 434.22A30.6 30.6 0 0 0 1437.01 449.25Z" fill="#fcbba1"/>
<path d="M1412.8 420.84A61 61 0 0 1 1432.72 397.63L1450.09 422.58A30.6 30.6 0 0 0 1440.1 434.22Z" fill="#fee0d2"/>
<path d="M1432.72 397.63A61 61 0 0 1 1461.4 387.01L1464.47 417.26A30.6 30.6 0 0 0 1450.09 422.58Z" fill="#fc9272"/>
<circle cx="1467.57" cy="447.7" r="30.6" fill="#fee0d2" class="ic"/>
<text transform="translate(1467.57 457.9) scale(1 1.05)" fill="#2b2b2b" font-size="28">1896</text>
<path d="M1601.36 387.01A61 61 0 0 1 1630.04 397.63L1612.67 422.58A30.6 30.6 0 0 0 1598.29 417.26Z" fill="#fcbba1"/>
<path d="M1630.04 397.63A61 61 0 0 1 1649.96 420.84L1622.66 434.22A30.6 30.6 0 0 0 1612.67 422.58Z" fill="#fee0d2"/>
<path d="M1649.96 420.84A61 61 0 0 1 1656.11 450.79L1625.75 449.25A30.6 30.6 0 0 0 1622.66 434.22Z" fill="#fee0d2"/>
<path d="M1656.11 450.79A61 61 0 0 1 1646.96 479.97L1621.16 463.89A30.6 30.6 0 0 0 1625.75 449.25Z" fill="#fc9272"/>
<path d="M1646.96 479.97A61 61 0 0 1 1624.79 501.04L1610.04 474.46A30.6 30.6 0 0 0 1621.16 463.89Z" fill="#fc9272"/>
<path d="M1624.79 501.04A61 61 0 0 1 1595.19 508.7L1595.19 478.3A30.6 30.6 0 0 0 1610.04 474.46Z" fill="#fcbba1"/>
<path d="M1595.19 508.7A61 61 0 0 1 1565.59 501.04L1580.34 474.46A30.6 30.6 0 0 0 1595.19 478.3Z" fill="#fee0d2"/>
<path d="M1565.59 501.04A61 61 0 0 1 1543.42 479.97L1569.22 463.89A30.6 30.6 0 0 0 1580.34 474.46Z" fill="#fee0d2"/>
<path d="M1543.42 479.97A61 61 0 0 1 1534.27 450.79L1564.63 449.25A30.6 30.6 0 0 0 1569.22 463.89Z" fill="#fee0d2"/>
<path d="M1534.27 450.79A61 61 0 0 1 1540.42 420.84L1567.72 434.22A30.6 30.6 0 0 0 1564.63 449.25Z" fill="#fcbba1"/>
<path d="M1540.42 420.84A61 61 0 0 1 1560.34 397.63L1577.71 422.58A30.6 30.6 0 0 0 1567.72 434.22Z" fill="#deebf7"/>
<path d="M1560.34 397.63A61 61 0 0 1 1589.02 387.01L1592.09 417.26A30.6 30.6 0 0 0 1577.71 422.58Z" fill="#deebf7"/>
<circle cx="1595.19" cy="447.7" r="30.6" fill="#fee0d2" class="ic"/>
<text transform="translate(1595.19 457.9) scale(1 1.05)" fill="#2b2b2b" font-size="28">1897</text>
<path d="M1728.98 387.01A61 61 0 0 1 1757.66 397.63L1740.29 422.58A30.6 30.6 0 0 0 1725.91 417.26Z" fill="#fc9272"/>
<path d="M1757.66 397.63A61 61 0 0 1 1777.58 420.84L1750.28 434.22A30.6 30.6 0 0 0 1740.29 422.58Z" fill="#c6dbef"/>
<path d="M1777.58 420.84A61 61 0 0 1 1783.73 450.79L1753.37 449.25A30.6 30.6 0 0 0 1750.28 434.22Z" fill="#6baed6"/>
<path d="M1783.73 450.79A61 61 0 0 1 1774.58 479.97L1748.78 463.89A30.6 30.6 0 0 0 1753.37 449.25Z" fill="#9ecae1"/>
<path d="M1774.58 479.97A61 61 0 0 1 1752.41 501.04L1737.66 474.46A30.6 30.6 0 0 0 1748.78 463.89Z" fill="#c6dbef"/>
<path d="M1752.41 501.04A61 61 0 0 1 1722.81 508.7L1722.81 478.3A30.6 30.6 0 0 0 1737.66 474.46Z" fill="#deebf7"/>
<path d="M1722.81 508.7A61 61 0 0 1 1693.21 501.04L1707.96 474.46A30.6 30.6 0 0 0 1722.81 478.3Z" fill="#c6dbef"/>
<path d="M1693.21 501.04A61 61 0 0 1 1671.04 479.97L1696.84 463.89A30.6 30.6 0 0 0 1707.96 474.46Z" fill="#c6dbef"/>
<path d="M1671.04 479.97A61 61 0 0 1 1661.89 450.79L1692.25 449.25A30.6 30.6 0 0 0 1696.84 463.89Z" fill="#deebf7"/>
<path d="M1661.89 450.79A61 61 0 0 1 1668.04 420.84L1695.34 434.22A30.6 30.6 0 0 0 1692.25 449.25Z" fill="#c6dbef"/>
<path d="M1668.04 420.84A61 61 0 0 1 1687.96 397.63L1705.33 422.58A30.6 30.6 0 0 0 1695.34 434.22Z" fill="#c6dbef"/>
<path d="M1687.96 397.63A61 61 0 0 1 1716.64 387.01L1719.71 417.26A30.6 30.6 0 0 0 1705.33 422.58Z" fill="#deebf7"/>
<circle cx="1722.81" cy="447.7" r="30.6" fill="#c6dbef" class="ic"/>
<text transform="translate(1722.81 457.9) scale(1 1.05)" fill="#2b2b2b" font-size="28">1898</text>
<path d="M1856.6 387.01A61 61 0 0 1 1885.28 397.63L1867.91 422.58A30.6 30.6 0 0 0 1853.53 417.26Z" fill="#fee0d2"/>
<path d="M1885.28 397.63A61 61 0 0 1 1905.2 420.84L1877.9 434.22A30.6 30.6 0 0 0 1867.91 422.58Z" fill="#c6dbef"/>
<path d="M1905.2 420.84A61 61 0 0 1 1911.35 450.79L1880.99 449.25A30.6 30.6 0 0 0 1877.9 434.22Z" fill="#c6dbef"/>
<path d="M1911.35 450.79A61 61 0 0 1 1902.2 479.97L1876.4 463.89A30.6 30.6 0 0 0 1880.99 449.25Z" fill="#deebf7"/>
<path d="M1902.2 479.97A61 61 0 0 1 1880.03 501.04L1865.28 474.46A30.6 30.6 0 0 0 1876.4 463.89Z" fill="#fee0d2"/>
<path d="M1880.03 501.04A61 61 0 0 1 1850.43 508.7L1850.43 478.3A30.6 30.6 0 0 0 1865.28 474.46Z" fill="#c6dbef"/>
<path d="M1850.43 508.7A61 61 0 0 1 1820.83 501.04L1835.58 474.46A30.6 30.6 0 0 0 1850.43 478.3Z" fill="#c6dbef"/>
<path d="M1820.83 501.04A61 61 0 0 1 1798.66 479.97L1824.46 463.89A30.6 30.6 0 0 0 1835.58 474.46Z" fill="#fee0d2"/>
<path d="M1798.66 479.97A61 61 0 0 1 1789.51 450.79L1819.87 449.25A30.6 30.6 0 0 0 1824.46 463.89Z" fill="#fcbba1"/>
<path d="M1789.51 450.79A61 61 0 0 1 1795.66 420.84L1822.96 434.22A30.6 30.6 0 0 0 1819.87 449.25Z" fill="#fcbba1"/>
<path d="M1795.66 420.84A61 61 0 0 1 1815.58 397.63L1832.95 422.58A30.6 30.6 0 0 0 1822.96 434.22Z" fill="#fc9272"/>
<path d="M1815.58 397.63A61 61 0 0 1 1844.26 387.01L1847.33 417.26A30.6 30.6 0 0 0 1832.95 422.58Z" fill="#deebf7"/>
<circle cx="1850.43" cy="447.7" r="30.6" fill="#fee0d2" class="ic"/>
<text transform="translate(1850.43 457.9) scale(1 1.05)" fill="#2b2b2b" font-size="28">1899</text>
<path d="M1984.22 387.01A61 61 0 0 1 2012.9 397.63L1995.53 422.58A30.6 30.6 0 0 0 1981.15 417.26Z" fill="#deebf7"/>
<path d="M2012.9 397.63A61 61 0 0 1 2032.82 420.84L2005.52 434.22A30.6 30.6 0 0 0 1995.53 422.58Z" fill="#fc9272"/>
<path d="M2032.82 420.84A61 61 0 0 1 2038.97 450.79L2008.61 449.25A30.6 30.6 0 0 0 2005.52 434.22Z" fill="#fc9272"/>
<path d="M2038.97 450.79A61 61 0 0 1 2029.82 479.97L2004.02 463.89A30.6 30.6 0 0 0 2008.61 449.25Z" fill="#fcbba1"/>
<path d="M2029.82 479.97A61 61 0 0 1 2007.65 501.04L1992.9 474.46A30.6 30.6 0 0 0 2004.02 463.89Z" fill="#fee0d2"/>
<path d="M2007.65 501.04A61 61 0 0 1 1978.05 508.7L1978.05 478.3A30.6 30.6 0 0 0 1992.9 474.46Z" fill="#fee0d2"/>
<path d="M1978.05 508.7A61 61 0 0 1 1948.45 501.04L1963.2 474.46A30.6 30.6 0 0 0 1978.05 478.3Z" fill="#fee0d2"/>
<path d="M1948.45 501.04A61 61 0 0 1 1926.28 479.97L1952.08 463.89A30.6 30.6 0 0 0 1963.2 474.46Z" fill="#fee0d2"/>
<path d="M1926.28 479.97A61 61 0 0 1 1917.13 450.79L1947.49 449.25A30.6 30.6 0 0 0 1952.08 463.89Z" fill="#fee0d2"/>
<path d="M1917.13 450.79A61 61 0 0 1 1923.28 420.84L1950.58 434.22A30.6 30.6 0 0 0 1947.49 449.25Z" fill="#fc9272"/>
<path d="M1923.28 420.84A61 61 0 0 1 1943.2 397.63L1960.57 422.58A30.6 30.6 0 0 0 1950.58 434.22Z" fill="#fcbba1"/>
<path d="M1943.2 397.63A61 61 0 0 1 1971.88 387.01L1974.95 417.26A30.6 30.6 0 0 0 1960.57 422.58Z" fill="#fcbba1"/>
<circle cx="1978.05" cy="447.7" r="30.6" fill="#fcbba1" class="ic"/>
<text transform="translate(1978.05 457.9) scale(1 1.05)" fill="#2b2b2b" font-size="28">1900</text>
<path d="M2111.84 387.01A61 61 0 0 1 2140.52 397.63L2123.15 422.58A30.6 30.6 0 0 0 2108.77 417.26Z" fill="#fcbba1"/>
<path d="M2140.52 397.63A61 61 0 0 1 2160.44 420.84L2133.14 434.22A30.6 30.6 0 0 0 2123.15 422.58Z" fill="#fcbba1"/>
<path d="M2160.44 420.84A61 61 0 0 1 2166.59 450.79L2136.23 449.25A30.6 30.6 0 0 0 2133.14 434.22Z" fill="#fc9272"/>
<path d="M2166.59 450.79A61 61 0 0 1 2157.44 479.97L2131.64 463.89A30.6 30.6 0 0 0 2136.23 449.25Z" fill="#fc9272"/>
<path d="M2157.44 479.97A61 61 0 0 1 2135.27 501.04L2120.52 474.46A30.6 30.6 0 0 0 2131.64 463.89Z" fill="#fcbba1"/>
<path d="M2135.27 501.04A61 61 0 0 1 2105.67 508.7L2105.67 478.3A30.6 30.6 0 0 0 2120.52 474.46Z" fill="#fee0d2"/>
<path d="M2105.67 508.7A61 61 0 0 1 2076.07 501.04L2090.82 474.46A30.6 30.6 0 0 0 2105.67 478.3Z" fill="#deebf7"/>
<path d="M2076.07 501.04A61 61 0 0 1 2053.9 479.97L2079.7 463.89A30.6 30.6 0 0 0 2090.82 474.46Z" fill="#fee0d2"/>
<path d="M2053.9 479.97A61 61 0 0 1 2044.75 450.79L2075.11 449.25A30.6 30.6 0 0 0 2079.7 463.89Z" fill="#deebf7"/>
<path d="M2044.75 450.79A61 61 0 0 1 2050.9 420.84L2078.2 434.22A30.6 30.6 0 0 0 2075.11 449.25Z" fill="#deebf7"/>
<path d="M2050.9 420.84A61 61 0 0 1 2070.82 397.63L2088.19 422.58A30.6 30.6 0 0 0 2078.2 434.22Z" fill="#fee0d2"/>
<path d="M2070.82 397.63A61 61 0 0 1 2099.5 387.01L2102.57 417.26A30.6 30.6 0 0 0 2088.19 422.58Z" fill="#deebf7"/>
<circle cx="2105.67" cy="447.7" r="30.6" fill="#fee0d2" class="ic"/>
<text transform="translate(2105.67 457.9) scale(1 1.05)" fill="#2b2b2b" font-size="28">1901</text>
<path d="M69.92 514.61A61 61 0 0 1 98.6 525.23L81.23 550.18A30.6 30.6 0 0 0 66.85 544.86Z" fill="#deebf7"/>
<path d="M98.6 525.23A61 61 0 0 1 118.52 548.44L91.22 561.82A30.6 30.6 0 0 0 81.23 550.18Z" fill="#fcbba1"/>
<path d="M118.52 548.44A61 61 0 0 1 124.67 578.39L94.31 576.85A30.6 30.6 0 0 0 91.22 561.82Z" fill="#deebf7"/>
<path d="M124.67 578.39A61 61 0 0 1 115.52 607.57L89.72 591.49A30.6 30.6 0 0 0 94.31 576.85Z" fill="#deebf7"/>
<path d="M115.52 607.57A61 61 0 0 1 93.35 628.64L78.6 602.06A30.6 30.6 0 0 0 89.72 591.49Z" fill="#deebf7"/>
<path d="M93.35 628.64A61 61 0 0 1 63.75 636.3L63.75 605.9A30.6 30.6 0 0 0 78.6 602.06Z" fill="#c6dbef"/>
<path d="M63.75 636.3A61 61 0 0 1 34.15 628.64L48.9 602.06A30.6 30.6 0 0 0 63.75 605.9Z" fill="#c6dbef"/>
<path d="M34.15 628.64A61 61 0 0 1 11.98 607.57L37.78 591.49A30.6 30.6 0 0 0 48.9 602.06Z" fill="#c6dbef"/>
<path d="M11.98 607.57A61 61 0 0 1 2.83 578.39L33.19 576.85A30.6 30.6 0 0 0 37.78 591.49Z" fill="#deebf7"/>
<path d="M2.83 578.39A61 61 0 0 1 8.98 548.44L36.28 561.82A30.6 30.6 0 0 0 33.19 576.85Z" fill="#c6dbef"/>
<path d="M8.98 548.44A61 61 0 0 1 28.9 525.23L46.27 550.18A30.6 30.6 0 0 0 36.28 561.82Z" fill="#c6dbef"/>
<path d="M28.9 525.23A61 61 0 0 1 57.58 514.61L60.65 544.86A30.6 30.6 0 0 0 46.27 550.18Z" fill="#c6dbef"/>
<circle cx="63.75" cy="575.3" r="30.6" fill="#deebf7" class="ic"/>
<text transform="translate(63.75 585.5) scale(1 1.05)" fill="#2b2b2b" font-size="28">1902</text>
<path d="M197.54 514.61A61 61 0 0 1 226.22 525.23L208.85 550.18A30.6 30.6 0 0 0 194.47 544.86Z" fill="#deebf7"/>
<path d="M226.22 525.23A61 61 0 0 1 246.14 548.44L218.84 561.82A30.6 30.6 0 0 0 208.85 550.18Z" fill="#fcbba1"/>
<path d="M246.14 548.44A61 61 0 0 1 252.29 578.39L221.93 576.85A30.6 30.6 0 0 0 218.84 561.82Z" fill="#fee0d2"/>
<path d="M252.29 578.39A61 61 0 0 1 243.14 607.57L217.34 591.49A30.6 30.6 0 0 0 221.93 576.85Z" fill="#c6dbef"/>
<path d="M243.14 607.57A61 61 0 0 1 220.97 628.64L206.22 602.06A30.6 30.6 0 0 0 217.34 591.49Z" fill="#c6dbef"/>
<path d="M220.97 628.64A61 61 0 0 1 191.37 636.3L191.37 605.9A30.6 30.6 0 0 0 206.22 602.06Z" fill="#9ecae1"/>
<path d="M191.37 636.3A61 61 0 0 1 161.77 628.64L176.52 602.06A30.6 30.6 0 0 0 191.37 605.9Z" fill="#9ecae1"/>
<path d="M161.77 628.64A61 61 0 0 1 139.6 607.57L165.4 591.49A30.6 30.6 0 0 0 176.52 602.06Z" fill="#9ecae1"/>
<path d="M139.6 607.57A61 61 0 0 1 130.45 578.39L160.81 576.85A30.6 30.6 0 0 0 165.4 591.49Z" fill="#9ecae1"/>
<path d="M130.45 578.39A61 61 0 0 1 136.6 548.44L163.9 561.82A30.6 30.6 0 0 0 160.81 576.85Z" fill="#9ecae1"/>
<path d="M136.6 548.44A61 61 0 0 1 156.52 525.23L173.89 550.18A30.6 30.6 0 0 0 163.9 561.82Z" fill="#9ecae1"/>
<path d="M156.52 525.23A61 61 0 0 1 185.2 514.61L188.27 544.86A30.6 30.6 0 0 0 173.89 550.18Z" fill="#9ecae1"/>
<circle cx="191.37" cy="575.3" r="30.6" fill="#c6dbef" class="ic"/>
<text transform="translate(191.37 585.5) scale(1 1.05)" fill="#2b2b2b" font-size="28">1903</text>
<path d="M325.16 514.61A61 61 0 0 1 353.84 525.23L336.47 550.18A30.6 30.6 0 0 0 322.09 544.86Z" fill="#9ecae1"/>
<path d="M353.84 525.23A61 61 0 0 1 373.76 548.44L346.46 561.82A30.6 30.6 0 0 0 336.47 550.18Z" fill="#9ecae1"/>
<path d="M373.76 548.44A61 61 0 0 1 379.91 578.39L349.55 576.85A30.6 30.6 0 0 0 346.46 561.82Z" fill="#9ecae1"/>
<path d="M379.91 578.39A61 61 0 0 1 370.76 607.57L344.96 591.49A30.6 30.6 0 0 0 349.55 576.85Z" fill="#9ecae1"/>
<path d="M370.76 607.57A61 61 0 0 1 348.59 628.64L333.84 602.06A30.6 30.6 0 0 0 344.96 591.49Z" fill="#9ecae1"/>
<path d="M348.59 628.64A61 61 0 0 1 318.99 636.3L318.99 605.9A30.6 30.6 0 0 0 333.84 602.06Z" fill="#9ecae1"/>
<path d="M318.99 636.3A61 61 0 0 1 289.39 628.64L304.14 602.06A30.6 30.6 0 0 0 318.99 605.9Z" fill="#9ecae1"/>
<path d="M289.39 628.64A61 61 0 0 1 267.22 607.57L293.02 591.49A30.6 30.6 0 0 0 304.14 602.06Z" fill="#9ecae1"/>
<path d="M267.22 607.57A61 61 0 0 1 258.07 578.39L288.43 576.85A30.6 30.6 0 0 0 293.02 591.49Z" fill="#9ecae1"/>
<path d="M258.07 578.39A61 61 0 0 1 264.22 548.44L291.52 561.82A30.6 30.6 0 0 0 288.43 576.85Z" fill="#9ecae1"/>
<path d="M264.22 548.44A61 61 0 0 1 284.14 525.23L301.51 550.18A30.6 30.6 0 0 0 291.52 561.82Z" fill="#fee0d2"/>
<path d="M284.14 525.23A61 61 0 0 1 312.82 514.61L315.89 544.86A30.6 30.6 0 0 0 301.51 550.18Z" fill="#deebf7"/>
<circle cx="318.99" cy="575.3" r="30.6" fill="#9ecae1" class="ic"/>
<text transform="translate(318.99 585.5) scale(1 1.05)" fill="#2b2b2b" font-size="28">1904</text>
<path d="M452.78 514.61A61 61 0 0 1 481.46 525.23L464.09 550.18A30.6 30.6 0 0 0 449.71 544.86Z" fill="#deebf7"/>
<path d="M481.46 525.23A61 61 0 0 1 501.38 548.44L474.08 561.82A30.6 30.6 0 0 0 464.09 550.18Z" fill="#9ecae1"/>
<path d="M501.38 548.44A61 61 0 0 1 507.53 578.39L477.17 576.85A30.6 30.6 0 0 0 474.08 561.82Z" fill="#deebf7"/>
<path d="M507.53 578.39A61 61 0 0 1 498.38 607.57L472.58 591.49A30.6 30.6 0 0 0 477.17 576.85Z" fill="#c6dbef"/>
<path d="M498.38 607.57A61 61 0 0 1 476.21 628.64L461.46 602.06A30.6 30.6 0 0 0 472.58 591.49Z" fill="#deebf7"/>
<path d="M476.21 628.64A61 61 0 0 1 446.61 636.3L446.61 605.9A30.6 30.6 0 0 0 461.46 602.06Z" fill="#deebf7"/>
<path d="M446.61 636.3A61 61 0 0 1 417.01 628.64L431.76 602.06A30.6 30.6 0 0 0 446.61 605.9Z" fill="#c6dbef"/>
<path d="M417.01 628.64A61 61 0 0 1 394.84 607.57L420.64 591.49A30.6 30.6 0 0 0 431.76 602.06Z" fill="#deebf7"/>
<path d="M394.84 607.57A61 61 0 0 1 385.69 578.39L416.05 576.85A30.6 30.6 0 0 0 420.64 591.49Z" fill="#deebf7"/>
<path d="M385.69 578.39A61 61 0 0 1 391.84 548.44L419.14 561.82A30.6 30.6 0 0 0 416.05 576.85Z" fill="#deebf7"/>
<path d="M391.84 548.44A61 61 0 0 1 411.76 525.23L429.13 550.18A30.6 30.6 0 0 0 419.14 561.82Z" fill="#fcbba1"/>
<path d="M411.76 525.23A61 61 0 0 1 440.44 514.61L443.51 544.86A30.6 30.6 0 0 0 429.13 550.18Z" fill="#fcbba1"/>
<circle cx="446.61" cy="575.3" r="30.6" fill="#deebf7" class="ic"/>
<text transform="translate(446.61 585.5) scale(1 1.05)" fill="#2b2b2b" font-size="28">1905</text>
<path d="M580.4 514.61A61 61 0 0 1 609.08 525.23L591.71 550.18A30.6 30.6 0 0 0 577.33 544.86Z" fill="#fcbba1"/>
<path d="M609.08 525.23A61 61 0 0 1 629 548.44L601.7 561.82A30.6 30.6 0 0 0 591.71 550.18Z" fill="#fee0d2"/>
<path d="M629 548.44A61 61 0 0 1 635.15 578.39L604.79 576.85A30.6 30.6 0 0 0 601.7 561.82Z" fill="#fcbba1"/>
<path d="M635.15 578.39A61 61 0 0 1 626 607.57L600.2 591.49A30.6 30.6 0 0 0 604.79 576.85Z" fill="#fc9272"/>
<path d="M626 607.57A61 61 0 0 1 603.83 628.64L589.08 602.06A30.6 30.6 0 0 0 600.2 591.49Z" fill="#deebf7"/>
<path d="M603.83 628.64A61 61 0 0 1 574.23 636.3L574.23 605.9A30.6 30.6 0 0 0 589.08 602.06Z" fill="#fee0d2"/>
<path d="M574.23 636.3A61 61 0 0 1 544.63 628.64L559.38 602.06A30.6 30.6 0 0 0 574.23 605.9Z" fill="#deebf7"/>
<path d="M544.63 628.64A61 61 0 0 1 522.46 607.57L548.26 591.49A30.6 30.6 0 0 0 559.38 602.06Z" fill="#deebf7"/>
<path d="M522.46 607.57A61 61 0 0 1 513.31 578.39L543.67 576.85A30.6 30.6 0 0 0 548.26 591.49Z" fill="#deebf7"/>
<path d="M513.31 578.39A61 61 0 0 1 519.46 548.44L546.76 561.82A30.6 30.6 0 0 0 543.67 576.85Z" fill="#deebf7"/>
<path d="M519.46 548.44A61 61 0 0 1 539.38 525.23L556.75 550.18A30.6 30.6 0 0 0 546.76 561.82Z" fill="#c6dbef"/>
<path d="M539.38 525.23A61 61 0 0 1 568.06 514.61L571.13 544.86A30.6 30.6 0 0 0 556.75 550.18Z" fill="#fee0d2"/>
<circle cx="574.23" cy="575.3" r="30.6" fill="#fee0d2" class="ic"/>
<text transform="translate(574.23 585.5) scale(1 1.05)" fill="#2b2b2b" font-size="28">1906</text>
<path d="M708.02 514.61A61 61 0 0 1 736.7 525.23L719.33 550.18A30.6 30.6 0 0 0 704.95 544.86Z" fill="#c6dbef"/>
<path d="M736.7 525.23A61 61 0 0 1 756.62 548.44L729.32 561.82A30.6 30.6 0 0 0 719.33 550.18Z" fill="#9ecae1"/>
<path d="M756.62 548.44A61 61 0 0 1 762.77 578.39L732.41 576.85A30.6 30.6 0 0 0 729.32 561.82Z" fill="#deebf7"/>
<path d="M762.77 578.39A61 61 0 0 1 753.62 607.57L727.82 591.49A30.6 30.6 0 0 0 732.41 576.85Z" fill="#deebf7"/>
<path d="M753.62 607.57A61 61 0 0 1 731.45 628.64L716.7 602.06A30.6 30.6 0 0 0 727.82 591.49Z" fill="#9ecae1"/>
<path d="M731.45 628.64A61 61 0 0 1 701.85 636.3L701.85 605.9A30.6 30.6 0 0 0 716.7 602.06Z" fill="#9ecae1"/>
<path d="M701.85 636.3A61 61 0 0 1 672.25 628.64L687 602.06A30.6 30.6 0 0 0 701.85 605.9Z" fill="#c6dbef"/>
<path d="M672.25 628.64A61 61 0 0 1 650.08 607.57L675.88 591.49A30.6 30.6 0 0 0 687 602.06Z" fill="#9ecae1"/>
<path d="M650.08 607.57A61 61 0 0 1 640.93 578.39L671.29 576.85A30.6 30.6 0 0 0 675.88 591.49Z" fill="#c6dbef"/>
<path d="M640.93 578.39A61 61 0 0 1 647.08 548.44L674.38 561.82A30.6 30.6 0 0 0 671.29 576.85Z" fill="#deebf7"/>
<path d="M647.08 548.44A61 61 0 0 1 667 525.23L684.37 550.18A30.6 30.6 0 0 0 674.38 561.82Z" fill="#c6dbef"/>
<path d="M667 525.23A61 61 0 0 1 695.68 514.61L698.75 544.86A30.6 30.6 0 0 0 684.37 550.18Z" fill="#c6dbef"/>
<circle cx="701.85" cy="575.3" r="30.6" fill="#c6dbef" class="ic"/>
<text transform="translate(701.85 585.5) scale(1 1.05)" fill="#2b2b2b" font-size="28">1907</text>
<path d="M835.64 514.61A61 61 0 0 1 864.32 525.23L846.95 550.18A30.6 30.6 0 0 0 832.57 544.86Z" fill="#deebf7"/>
<path d="M864.32 525.23A61 61 0 0 1 884.24 548.44L856.94 561.82A30.6 30.6 0 0 0 846.95 550.18Z" fill="#deebf7"/>
<path d="M884.24 548.44A61 61 0 0 1 890.39 578.39L860.03 576.85A30.6 30.6 0 0 0 856.94 561.82Z" fill="#9ecae1"/>
<path d="M890.39 578.39A61 61 0 0 1 881.24 607.57L855.44 591.49A30.6 30.6 0 0 0 860.03 576.85Z" fill="#c6dbef"/>
<path d="M881.24 607.57A61 61 0 0 1 859.07 628.64L844.32 602.06A30.6 30.6 0 0 0 855.44 591.49Z" fill="#deebf7"/>
<path d="M859.07 628.64A61 61 0 0 1 829.47 636.3L829.47 605.9A30.6 30.6 0 0 0 844.32 602.06Z" fill="#deebf7"/>
<path d="M829.47 636.3A61 61 0 0 1 799.87 628.64L814.62 602.06A30.6 30.6 0 0 0 829.47 605.9Z" fill="#c6dbef"/>
<path d="M799.87 628.64A61 61 0 0 1 777.7 607.57L803.5 591.49A30.6 30.6 0 0 0 814.62 602.06Z" fill="#9ecae1"/>
<path d="M777.7 607.57A61 61 0 0 1 768.55 578.39L798.91 576.85A30.6 30.6 0 0 0 803.5 591.49Z" fill="#c6dbef"/>
<path d="M768.55 578.39A61 61 0 0 1 774.7 548.44L802 561.82A30.6 30.6 0 0 0 798.91 576.85Z" fill="#9ecae1"/>
<path d="M774.7 548.44A61 61 0 0 1 794.62 525.23L811.99 550.18A30.6 30.6 0 0 0 802 561.82Z" fill="#9ecae1"/>
<path d="M794.62 525.23A61 61 0 0 1 823.3 514.61L826.37 544.86A30.6 30.6 0 0 0 811.99 550.18Z" fill="#9ecae1"/>
<circle cx="829.47" cy="575.3" r="30.6" fill="#c6dbef" class="ic"/>
<text transform="translate(829.47 585.5) scale(1 1.05)" fill="#2b2b2b" font-size="28">1908</text>
<path d="M963.26 514.61A61 61 0 0 1 991.94 525.23L974.57 550.18A30.6 30.6 0 0 0 960.19 544.86Z" fill="#9ecae1"/>
<path d="M991.94 525.23A61 61 0 0 1 1011.86 548.44L984.56 561.82A30.6 30.6 0 0 0 974.57 550.18Z" fill="#c6dbef"/>
<path d="M1011.86 548.44A61 61 0 0 1 1018.01 578.39L987.65 576.85A30.6 30.6 0 0 0 984.56 561.82Z" fill="#9ecae1"/>
<path d="M1018.01 578.39A61 61 0 0 1 1008.86 607.57L983.06 591.49A30.6 30.6 0 0 0 987.65 576.85Z" fill="#9ecae1"/>
<path d="M1008.86 607.57A61 61 0 0 1 986.69 628.64L971.94 602.06A30.6 30.6 0 0 0 983.06 591.49Z" fill="#9ecae1"/>
<path d="M986.69 628.64A61 61 0 0 1 957.09 636.3L957.09 605.9A30.6 30.6 0 0 0 971.94 602.06Z" fill="#c6dbef"/>
<path d="M957.09 636.3A61 61 0 0 1 927.49 628.64L942.24 602.06A30.6 30.6 0 0 0 957.09 605.9Z" fill="#9ecae1"/>
<path d="M927.49 628.64A61 61 0 0 1 905.32 607.57L931.12 591.49A30.6 30.6 0 0 0 942.24 602.06Z" fill="#deebf7"/>
<path d="M905.32 607.57A61 61 0 0 1 896.17 578.39L926.53 576.85A30.6 30.6 0 0 0 931.12 591.49Z" fill="#c6dbef"/>
<path d="M896.17 578.39A61 61 0 0 1 902.32 548.44L929.62 561.82A30.6 30.6 0 0 0 926.53 576.85Z" fill="#c6dbef"/>
<path d="M902.32 548.44A61 61 0 0 1 922.24 525.23L939.61 550.18A30.6 30.6 0 0 0 929.62 561.82Z" fill="#fee0d2"/>
<path d="M922.24 525.23A61 61 0 0 1 950.92 514.61L953.99 544.86A30.6 30.6 0 0 0 939.61 550.18Z" fill="#c6dbef"/>
<circle cx="957.09" cy="575.3" r="30.6" fill="#c6dbef" class="ic"/>
<text transform="translate(957.09 585.5) scale(1 1.05)" fill="#2b2b2b" font-size="28">1909</text>
<path d="M1090.88 514.61A61 61 0 0 1 1119.56 525.23L1102.19 550.18A30.6 30.6 0 0 0 1087.81 544.86Z" fill="#deebf7"/>
<path d="M1119.56 525.23A61 61 0 0 1 1139.48 548.44L1112.18 561.82A30.6 30.6 0 0 0 1102.19 550.18Z" fill="#c6dbef"/>
<path d="M1139.48 548.44A61 61 0 0 1 1145.63 578.39L1115.27 576.85A30.6 30.6 0 0 0 1112.18 561.82Z" fill="#c6dbef"/>
<path d="M1145.63 578.39A61 61 0 0 1 1136.48 607.57L1110.68 591.49A30.6 30.6 0 0 0 1115.27 576.85Z" fill="#c6dbef"/>
<path d="M1136.48 607.57A61 61 0 0 1 1114.31 628.64L1099.56 602.06A30.6 30.6 0 0 0 1110.68 591.49Z" fill="#c6dbef"/>
<path d="M1114.31 628.64A61 61 0 0 1 1084.71 636.3L1084.71 605.9A30.6 30.6 0 0 0 1099.56 602.06Z" fill="#9ecae1"/>
<path d="M1084.71 636.3A61 61 0 0 1 1055.11 628.64L1069.86 602.06A30.6 30.6 0 0 0 1084.71 605.9Z" fill="#c6dbef"/>
<path d="M1055.11 628.64A61 61 0 0 1 1032.94 607.57L1058.74 591.49A30.6 30.6 0 0 0 1069.86 602.06Z" fill="#c6dbef"/>
<path d="M1032.94 607.57A61 61 0 0 1 1023.79 578.39L1054.15 576.85A30.6 30.6 0 0 0 1058.74 591.49Z" fill="#c6dbef"/>
<path d="M1023.79 578.39A61 61 0 0 1 1029.94 548.44L1057.24 561.82A30.6 30.6 0 0 0 1054.15 576.85Z" fill="#c6dbef"/>
<path d="M1029.94 548.44A61 61 0 0 1 1049.86 525.23L1067.23 550.18A30.6 30.6 0 0 0 1057.24 561.82Z" fill="#9ecae1"/>
<path d="M1049.86 525.23A61 61 0 0 1 1078.54 514.61L1081.61 544.86A30.6 30.6 0 0 0 1067.23 550.18Z" fill="#9ecae1"/>
<circle cx="1084.71" cy="575.3" r="30.6" fill="#c6dbef" class="ic"/>
<text transform="translate(1084.71 585.5) scale(1 1.05)" fill="#2b2b2b" font-size="28">1910</text>
<path d="M1218.5 514.61A61 61 0 0 1 1247.18 525.23L1229.81 550.18A30.6 30.6 0 0 0 1215.43 544.86Z" fill="#9ecae1"/>
<path d="M1247.18 525.23A61 61 0 0 1 1267.1 548.44L1239.8 561.82A30.6 30.6 0 0 0 1229.81 550.18Z" fill="#9ecae1"/>
<path d="M1267.1 548.44A61 61 0 0 1 1273.25 578.39L1242.89 576.85A30.6 30.6 0 0 0 1239.8 561.82Z" fill="#9ecae1"/>
<path d="M1273.25 578.39A61 61 0 0 1 1264.1 607.57L1238.3 591.49A30.6 30.6 0 0 0 1242.89 576.85Z" fill="#9ecae1"/>
<path d="M1264.1 607.57A61 61 0 0 1 1241.93 628.64L1227.18 602.06A30.6 30.6 0 0 0 1238.3 591.49Z" fill="#9ecae1"/>
<path d="M1241.93 628.64A61 61 0 0 1 1212.33 636.3L1212.33 605.9A30.6 30.6 0 0 0 1227.18 602.06Z" fill="#9ecae1"/>
<path d="M1212.33 636.3A61 61 0 0 1 1182.73 628.64L1197.48 602.06A30.6 30.6 0 0 0 1212.33 605.9Z" fill="#9ecae1"/>
<path d="M1182.73 628.64A61 61 0 0 1 1160.56 607.57L1186.36 591.49A30.6 30.6 0 0 0 1197.48 602.06Z" fill="#9ecae1"/>
<path d="M1160.56 607.57A61 61 0 0 1 1151.41 578.39L1181.77 576.85A30.6 30.6 0 0 0 1186.36 591.49Z" fill="#9ecae1"/>
<path d="M1151.41 578.39A61 61 0 0 1 1157.56 548.44L1184.86 561.82A30.6 30.6 0 0 0 1181.77 576.85Z" fill="#deebf7"/>
<path d="M1157.56 548.44A61 61 0 0 1 1177.48 525.23L1194.85 550.18A30.6 30.6 0 0 0 1184.86 561.82Z" fill="#fee0d2"/>
<path d="M1177.48 525.23A61 61 0 0 1 1206.16 514.61L1209.23 544.86A30.6 30.6 0 0 0 1194.85 550.18Z" fill="#fcbba1"/>
<circle cx="1212.33" cy="575.3" r="30.6" fill="#c6dbef" class="ic"/>
<text transform="translate(1212.33 585.5) scale(1 1.05)" fill="#2b2b2b" font-size="28">1911</text>
<path d="M1346.12 514.61A61 61 0 0 1 1374.8 525.23L1357.43 550.18A30.6 30.6 0 0 0 1343.05 544.86Z" fill="#fee0d2"/>
<path d="M1374.8 525.23A61 61 0 0 1 1394.72 548.44L1367.42 561.82A30.6 30.6 0 0 0 1357.43 550.18Z" fill="#fee0d2"/>
<path d="M1394.72 548.44A61 61 0 0 1 1400.87 578.39L1370.51 576.85A30.6 30.6 0 0 0 1367.42 561.82Z" fill="#c6dbef"/>
<path d="M1400.87 578.39A61 61 0 0 1 1391.72 607.57L1365.92 591.49A30.6 30.6 0 0 0 1370.51 576.85Z" fill="#fee0d2"/>
<path d="M1391.72 607.57A61 61 0 0 1 1369.55 628.64L1354.8 602.06A30.6 30.6 0 0 0 1365.92 591.49Z" fill="#fee0d2"/>
<path d="M1369.55 628.64A61 61 0 0 1 1339.95 636.3L1339.95 605.9A30.6 30.6 0 0 0 1354.8 602.06Z" fill="#fee0d2"/>
<path d="M1339.95 636.3A61 61 0 0 1 1310.35 628.64L1325.1 602.06A30.6 30.6 0 0 0 1339.95 605.9Z" fill="#9ecae1"/>
<path d="M1310.35 628.64A61 61 0 0 1 1288.18 607.57L1313.98 591.49A30.6 30.6 0 0 0 1325.1 602.06Z" fill="#9ecae1"/>
<path d="M1288.18 607.57A61 61 0 0 1 1279.03 578.39L1309.39 576.85A30.6 30.6 0 0 0 1313.98 591.49Z" fill="#9ecae1"/>
<path d="M1279.03 578.39A61 61 0 0 1 1285.18 548.44L1312.48 561.82A30.6 30.6 0 0 0 1309.39 576.85Z" fill="#9ecae1"/>
<path d="M1285.18 548.44A61 61 0 0 1 1305.1 525.23L1322.47 550.18A30.6 30.6 0 0 0 1312.48 561.82Z" fill="#c6dbef"/>
<path d="M1305.1 525.23A61 61 0 0 1 1333.78 514.61L1336.85 544.86A30.6 30.6 0 0 0 1322.47 550.18Z" fill="#c6dbef"/>
<circle cx="1339.95" cy="575.3" r="30.6" fill="#c6dbef" class="ic"/>
<text transform="translate(1339.95 585.5) scale(1 1.05)" fill="#2b2b2b" font-size="28">1912</text>
<path d="M1473.74 514.61A61 61 0 0 1 1502.42 525.23L1485.05 550.18A30.6 30.6 0 0 0 1470.67 544.86Z" fill="#c6dbef"/>
<path d="M1502.42 525.23A61 61 0 0 1 1522.34 548.44L1495.04 561.82A30.6 30.6 0 0 0 1485.05 550.18Z" fill="#c6dbef"/>
<path d="M1522.34 548.44A61 61 0 0 1 1528.49 578.39L1498.13 576.85A30.6 30.6 0 0 0 1495.04 561.82Z" fill="#c6dbef"/>
<path d="M1528.49 578.39A61 61 0 0 1 1519.34 607.57L1493.54 591.49A30.6 30.6 0 0 0 1498.13 576.85Z" fill="#c6dbef"/>
<path d="M1519.34 607.57A61 61 0 0 1 1497.17 628.64L1482.42 602.06A30.6 30.6 0 0 0 1493.54 591.49Z" fill="#c6dbef"/>
<path d="M1497.17 628.64A61 61 0 0 1 1467.57 636.3L1467.57 605.9A30.6 30.6 0 0 0 1482.42 602.06Z" fill="#9ecae1"/>
<path d="M1467.57 636.3A61 61 0 0 1 1437.97 628.64L1452.72 602.06A30.6 30.6 0 0 0 1467.57 605.9Z" fill="#9ecae1"/>
<path d="M1437.97 628.64A61 61 0 0 1 1415.8 607.57L1441.6 591.49A30.6 30.6 0 0 0 1452.72 602.06Z" fill="#c6dbef"/>
<path d="M1415.8 607.57A61 61 0 0 1 1406.65 578.39L1437.01 576.85A30.6 30.6 0 0 0 1441.6 591.49Z" fill="#c6dbef"/>
<path d="M1406.65 578.39A61 61 0 0 1 1412.8 548.44L1440.1 561.82A30.6 30.6 0 0 0 1437.01 576.85Z" fill="#c6dbef"/>
<path d="M1412.8 548.44A61 61 0 0 1 1432.72 525.23L1450.09 550.18A30.6 30.6 0 0 0 1440.1 561.82Z" fill="#fee0d2"/>
<path d="M1432.72 525.23A61 61 0 0 1 1461.4 514.61L1464.47 544.86A30.6 30.6 0 0 0 1450.09 550.18Z" fill="#fc9272"/>
<circle cx="1467.57" cy="575.3" r="30.6" fill="#c6dbef" class="ic"/>
<text transform="translate(1467.57 585.5) scale(1 1.05)" fill="#2b2b2b" font-size="28">1913</text>
<path d="M1601.36 514.61A61 61 0 0 1 1630.04 525.23L1612.67 550.18A30.6 30.6 0 0 0 1598.29 544.86Z" fill="#fc9272"/>
<path d="M1630.04 525.23A61 61 0 0 1 1649.96 548.44L1622.66 561.82A30.6 30.6 0 0 0 1612.67 550.18Z" fill="#fcbba1"/>
<path d="M1649.96 548.44A61 61 0 0 1 1656.11 578.39L1625.75 576.85A30.6 30.6 0 0 0 1622.66 561.82Z" fill="#fee0d2"/>
<path d="M1656.11 578.39A61 61 0 0 1 1646.96 607.57L1621.16 591.49A30.6 30.6 0 0 0 1625.75 576.85Z" fill="#deebf7"/>
<path d="M1646.96 607.57A61 61 0 0 1 1624.79 628.64L1610.04 602.06A30.6 30.6 0 0 0 1621.16 591.49Z" fill="#fee0d2"/>
<path d="M1624.79 628.64A61 61 0 0 1 1595.19 636.3L1595.19 605.9A30.6 30.6 0 0 0 1610.04 602.06Z" fill="#fee0d2"/>
<path d="M1595.19 636.3A61 61 0 0 1 1565.59 628.64L1580.34 602.06A30.6 30.6 0 0 0 1595.19 605.9Z" fill="#deebf7"/>
<path d="M1565.59 628.64A61 61 0 0 1 1543.42 607.57L1569.22 591.49A30.6 30.6 0 0 0 1580.34 602.06Z" fill="#fee0d2"/>
<path d="M1543.42 607.57A61 61 0 0 1 1534.27 578.39L1564.63 576.85A30.6 30.6 0 0 0 1569.22 591.49Z" fill="#deebf7"/>
<path d="M1534.27 578.39A61 61 0 0 1 1540.42 548.44L1567.72 561.82A30.6 30.6 0 0 0 1564.63 576.85Z" fill="#fc9272"/>
<path d="M1540.42 548.44A61 61 0 0 1 1560.34 525.23L1577.71 550.18A30.6 30.6 0 0 0 1567.72 561.82Z" fill="#fc9272"/>
<path d="M1560.34 525.23A61 61 0 0 1 1589.02 514.61L1592.09 544.86A30.6 30.6 0 0 0 1577.71 550.18Z" fill="#fcbba1"/>
<circle cx="1595.19" cy="575.3" r="30.6" fill="#fee0d2" class="ic"/>
<text transform="translate(1595.19 585.5) scale(1 1.05)" fill="#2b2b2b" font-size="28">1914</text>
<path d="M1728.98 514.61A61 61 0 0 1 1757.66 525.23L1740.29 550.18A30.6 30.6 0 0 0 1725.91 544.86Z" fill="#fcbba1"/>
<path d="M1757.66 525.23A61 61 0 0 1 1777.58 548.44L1750.28 561.82A30.6 30.6 0 0 0 1740.29 550.18Z" fill="#fcbba1"/>
<path d="M1777.58 548.44A61 61 0 0 1 1783.73 578.39L1753.37 576.85A30.6 30.6 0 0 0 1750.28 561.82Z" fill="#fc9272"/>
<path d="M1783.73 578.39A61 61 0 0 1 1774.58 607.57L1748.78 591.49A30.6 30.6 0 0 0 1753.37 576.85Z" fill="#fc9272"/>
<path d="M1774.58 607.57A61 61 0 0 1 1752.41 628.64L1737.66 602.06A30.6 30.6 0 0 0 1748.78 591.49Z" fill="#fc9272"/>
<path d="M1752.41 628.64A61 61 0 0 1 1722.81 636.3L1722.81 605.9A30.6 30.6 0 0 0 1737.66 602.06Z" fill="#fcbba1"/>
<path d="M1722.81 636.3A61 61 0 0 1 1693.21 628.64L1707.96 602.06A30.6 30.6 0 0 0 1722.81 605.9Z" fill="#fee0d2"/>
<path d="M1693.21 628.64A61 61 0 0 1 1671.04 607.57L1696.84 591.49A30.6 30.6 0 0 0 1707.96 602.06Z" fill="#fcbba1"/>
<path d="M1671.04 607.57A61 61 0 0 1 1661.89 578.39L1692.25 576.85A30.6 30.6 0 0 0 1696.84 591.49Z" fill="#fcbba1"/>
<path d="M1661.89 578.39A61 61 0 0 1 1668.04 548.44L1695.34 561.82A30.6 30.6 0 0 0 1692.25 576.85Z" fill="#fee0d2"/>
<path d="M1668.04 548.44A61 61 0 0 1 1687.96 525.23L1705.33 550.18A30.6 30.6 0 0 0 1695.34 561.82Z" fill="#fc9272"/>
<path d="M1687.96 525.23A61 61 0 0 1 1716.64 514.61L1719.71 544.86A30.6 30.6 0 0 0 1705.33 550.18Z" fill="#fee0d2"/>
<circle cx="1722.81" cy="575.3" r="30.6" fill="#fcbba1" class="ic"/>
<text transform="translate(1722.81 585.5) scale(1 1.05)" fill="#2b2b2b" font-size="28">1915</text>
<path d="M1856.6 514.61A61 61 0 0 1 1885.28 525.23L1867.91 550.18A30.6 30.6 0 0 0 1853.53 544.86Z" fill="#fee0d2"/>
<path d="M1885.28 525.23A61 61 0 0 1 1905.2 548.44L1877.9 561.82A30.6 30.6 0 0 0 1867.91 550.18Z" fill="#fcbba1"/>
<path d="M1905.2 548.44A61 61 0 0 1 1911.35 578.39L1880.99 576.85A30.6 30.6 0 0 0 1877.9 561.82Z" fill="#deebf7"/>
<path d="M1911.35 578.39A61 61 0 0 1 1902.2 607.57L1876.4 591.49A30.6 30.6 0 0 0 1880.99 576.85Z" fill="#fee0d2"/>
<path d="M1902.2 607.57A61 61 0 0 1 1880.03 628.64L1865.28 602.06A30.6 30.6 0 0 0 1876.4 591.49Z" fill="#deebf7"/>
<path d="M1880.03 628.64A61 61 0 0 1 1850.43 636.3L1850.43 605.9A30.6 30.6 0 0 0 1865.28 602.06Z" fill="#c6dbef"/>
<path d="M1850.43 636.3A61 61 0 0 1 1820.83 628.64L1835.58 602.06A30.6 30.6 0 0 0 1850.43 605.9Z" fill="#c6dbef"/>
<path d="M1820.83 628.64A61 61 0 0 1 1798.66 607.57L1824.46 591.49A30.6 30.6 0 0 0 1835.58 602.06Z" fill="#deebf7"/>
<path d="M1798.66 607.57A61 61 0 0 1 1789.51 578.39L1819.87 576.85A30.6 30.6 0 0 0 1824.46 591.49Z" fill="#deebf7"/>
<path d="M1789.51 578.39A61 61 0 0 1 1795.66 548.44L1822.96 561.82A30.6 30.6 0 0 0 1819.87 576.85Z" fill="#deebf7"/>
<path d="M1795.66 548.44A61 61 0 0 1 1815.58 525.23L1832.95 550.18A30.6 30.6 0 0 0 1822.96 561.82Z" fill="#c6dbef"/>
<path d="M1815.58 525.23A61 61 0 0 1 1844.26 514.61L1847.33 544.86A30.6 30.6 0 0 0 1832.95 550.18Z" fill="#6baed6"/>
<circle cx="1850.43" cy="575.3" r="30.6" fill="#deebf7" class="ic"/>
<text transform="translate(1850.43 585.5) scale(1 1.05)" fill="#2b2b2b" font-size="28">1916</text>
<path d="M1984.22 514.61A61 61 0 0 1 2012.9 525.23L1995.53 550.18A30.6 30.6 0 0 0 1981.15 544.86Z" fill="#9ecae1"/>
<path d="M2012.9 525.23A61 61 0 0 1 2032.82 548.44L2005.52 561.82A30.6 30.6 0 0 0 1995.53 550.18Z" fill="#9ecae1"/>
<path d="M2032.82 548.44A61 61 0 0 1 2038.97 578.39L2008.61 576.85A30.6 30.6 0 0 0 2005.52 561.82Z" fill="#9ecae1"/>
<path d="M2038.97 578.39A61 61 0 0 1 2029.82 607.57L2004.02 591.49A30.6 30.6 0 0 0 2008.61 576.85Z" fill="#c6dbef"/>
<path d="M2029.82 607.57A61 61 0 0 1 2007.65 628.64L1992.9 602.06A30.6 30.6 0 0 0 2004.02 591.49Z" fill="#9ecae1"/>
<path d="M2007.65 628.64A61 61 0 0 1 1978.05 636.3L1978.05 605.9A30.6 30.6 0 0 0 1992.9 602.06Z" fill="#c6dbef"/>
<path d="M1978.05 636.3A61 61 0 0 1 1948.45 628.64L1963.2 602.06A30.6 30.6 0 0 0 1978.05 605.9Z" fill="#fee0d2"/>
<path d="M1948.45 628.64A61 61 0 0 1 1926.28 607.57L1952.08 591.49A30.6 30.6 0 0 0 1963.2 602.06Z" fill="#deebf7"/>
<path d="M1926.28 607.57A61 61 0 0 1 1917.13 578.39L1947.49 576.85A30.6 30.6 0 0 0 1952.08 591.49Z" fill="#deebf7"/>
<path d="M1917.13 578.39A61 61 0 0 1 1923.28 548.44L1950.58 561.82A30.6 30.6 0 0 0 1947.49 576.85Z" fill="#9ecae1"/>
<path d="M1923.28 548.44A61 61 0 0 1 1943.2 525.23L1960.57 550.18A30.6 30.6 0 0 0 1950.58 561.82Z" fill="#deebf7"/>
<path d="M1943.2 525.23A61 61 0 0 1 1971.88 514.61L1974.95 544.86A30.6 30.6 0 0 0 1960.57 550.18Z" fill="#9ecae1"/>
<circle cx="1978.05" cy="575.3" r="30.6" fill="#c6dbef" class="ic"/>
<text transform="translate(1978.05 585.5) scale(1 1.05)" fill="#2b2b2b" font-size="28">1917</text>
<path d="M2111.84 514.61A61 61 0 0 1 2140.52 525.23L2123.15 550.18A30.6 30.6 0 0 0 2108.77 544.86Z" fill="#deebf7"/>
<path d="M2140.52 525.23A61 61 0 0 1 2160.44 548.44L2133.14 561.82A30.6 30.6 0 0 0 2123.15 550.18Z" fill="#9ecae1"/>
<path d="M2160.44 548.44A61 61 0 0 1 2166.59 578.39L2136.23 576.85A30.6 30.6 0 0 0 2133.14 561.82Z" fill="#c6dbef"/>
<path d="M2166.59 578.39A61 61 0 0 1 2157.44 607.57L2131.64 591.49A30.6 30.6 0 0 0 2136.23 576.85Z" fill="#9ecae1"/>
<path d="M2157.44 607.57A61 61 0 0 1 2135.27 628.64L2120.52 602.06A30.6 30.6 0 0 0 2131.64 591.49Z" fill="#c6dbef"/>
<path d="M2135.27 628.64A61 61 0 0 1 2105.67 636.3L2105.67 605.9A30.6 30.6 0 0 0 2120.52 602.06Z" fill="#deebf7"/>
<path d="M2105.67 636.3A61 61 0 0 1 2076.07 628.64L2090.82 602.06A30.6 30.6 0 0 0 2105.67 605.9Z" fill="#c6dbef"/>
<path d="M2076.07 628.64A61 61 0 0 1 2053.9 607.57L2079.7 591.49A30.6 30.6 0 0 0 2090.82 602.06Z" fill="#c6dbef"/>
<path d="M2053.9 607.57A61 61 0 0 1 2044.75 578.39L2075.11 576.85A30.6 30.6 0 0 0 2079.7 591.49Z" fill="#fee0d2"/>
<path d="M2044.75 578.39A61 61 0 0 1 2050.9 548.44L2078.2 561.82A30.6 30.6 0 0 0 2075.11 576.85Z" fill="#fcbba1"/>
<path d="M2050.9 548.44A61 61 0 0 1 2070.82 525.23L2088.19 550.18A30.6 30.6 0 0 0 2078.2 561.82Z" fill="#fc9272"/>
<path d="M2070.82 525.23A61 61 0 0 1 2099.5 514.61L2102.57 544.86A30.6 30.6 0 0 0 2088.19 550.18Z" fill="#deebf7"/>
<circle cx="2105.67" cy="575.3" r="30.6" fill="#deebf7" class="ic"/>
<text transform="translate(2105.67 585.5) scale(1 1.05)" fill="#2b2b2b" font-size="28">1918</text>
<path d="M69.92 642.21A61 61 0 0 1 98.6 652.83L81.23 677.78A30.6 30.6 0 0 0 66.85 672.46Z" fill="#fcbba1"/>
<path d="M98.6 652.83A61 61 0 0 1 118.52 676.04L91.22 689.42A30.6 30.6 0 0 0 81.23 677.78Z" fill="#fcbba1"/>
<path d="M118.52 676.04A61 61 0 0 1 124.67 705.99L94.31 704.45A30.6 30.6 0 0 0 91.22 689.42Z" fill="#fee0d2"/>
<path d="M124.67 705.99A61 61 0 0 1 115.52 735.17L89.72 719.09A30.6 30.6 0 0 0 94.31 704.45Z" fill="#fcbba1"/>
<path d="M115.52 735.17A61 61 0 0 1 93.35 756.24L78.6 729.66A30.6 30.6 0 0 0 89.72 719.09Z" fill="#fee0d2"/>
<path d="M93.35 756.24A61 61 0 0 1 63.75 763.9L63.75 733.5A30.6 30.6 0 0 0 78.6 729.66Z" fill="#deebf7"/>
<path d="M63.75 763.9A61 61 0 0 1 34.15 756.24L48.9 729.66A30.6 30.6 0 0 0 63.75 733.5Z" fill="#deebf7"/>
<path d="M34.15 756.24A61 61 0 0 1 11.98 735.17L37.78 719.09A30.6 30.6 0 0 0 48.9 729.66Z" fill="#fee0d2"/>
<path d="M11.98 735.17A61 61 0 0 1 2.83 705.99L33.19 704.45A30.6 30.6 0 0 0 37.78 719.09Z" fill="#deebf7"/>
<path d="M2.83 705.99A61 61 0 0 1 8.98 676.04L36.28 689.42A30.6 30.6 0 0 0 33.19 704.45Z" fill="#fee0d2"/>
<path d="M8.98 676.04A61 61 0 0 1 28.9 652.83L46.27 677.78A30.6 30.6 0 0 0 36.28 689.42Z" fill="#c6dbef"/>
<path d="M28.9 652.83A61 61 0 0 1 57.58 642.21L60.65 672.46A30.6 30.6 0 0 0 46.27 677.78Z" fill="#deebf7"/>
<circle cx="63.75" cy="702.9" r="30.6" fill="#fee0d2" class="ic"/>
<text transform="translate(63.75 713.1) scale(1 1.05)" fill="#2b2b2b" font-size="28">1919</text>
<path d="M197.54 642.21A61 61 0 0 1 226.22 652.83L208.85 677.78A30.6 30.6 0 0 0 194.47 672.46Z" fill="#fcbba1"/>
<path d="M226.22 652.83A61 61 0 0 1 246.14 676.04L218.84 689.42A30.6 30.6 0 0 0 208.85 677.78Z" fill="#c6dbef"/>
<path d="M246.14 676.04A61 61 0 0 1 252.29 705.99L221.93 704.45A30.6 30.6 0 0 0 218.84 689.42Z" fill="#fc9272"/>
<path d="M252.29 705.99A61 61 0 0 1 243.14 735.17L217.34 719.09A30.6 30.6 0 0 0 221.93 704.45Z" fill="#fee0d2"/>
<path d="M243.14 735.17A61 61 0 0 1 220.97 756.24L206.22 729.66A30.6 30.6 0 0 0 217.34 719.09Z" fill="#fcbba1"/>
<path d="M220.97 756.24A61 61 0 0 1 191.37 763.9L191.37 733.5A30.6 30.6 0 0 0 206.22 729.66Z" fill="#fee0d2"/>
<path d="M191.37 763.9A61 61 0 0 1 161.77 756.24L176.52 729.66A30.6 30.6 0 0 0 191.37 733.5Z" fill="#deebf7"/>
<path d="M161.77 756.24A61 61 0 0 1 139.6 735.17L165.4 719.09A30.6 30.6 0 0 0 176.52 729.66Z" fill="#fee0d2"/>
<path d="M139.6 735.17A61 61 0 0 1 130.45 705.99L160.81 704.45A30.6 30.6 0 0 0 165.4 719.09Z" fill="#fee0d2"/>
<path d="M130.45 705.99A61 61 0 0 1 136.6 676.04L163.9 689.42A30.6 30.6 0 0 0 160.81 704.45Z" fill="#fee0d2"/>
<path d="M136.6 676.04A61 61 0 0 1 156.52 652.83L173.89 677.78A30.6 30.6 0 0 0 163.9 689.42Z" fill="#fee0d2"/>
<path d="M156.52 652.83A61 61 0 0 1 185.2 642.21L188.27 672.46A30.6 30.6 0 0 0 173.89 677.78Z" fill="#deebf7"/>
<circle cx="191.37" cy="702.9" r="30.6" fill="#fee0d2" class="ic"/>
<text transform="translate(191.37 713.1) scale(1 1.05)" fill="#2b2b2b" font-size="28">1920</text>
<path d="M325.16 642.21A61 61 0 0 1 353.84 652.83L336.47 677.78A30.6 30.6 0 0 0 322.09 672.46Z" fill="#fc9272"/>
<path d="M353.84 652.83A61 61 0 0 1 373.76 676.04L346.46 689.42A30.6 30.6 0 0 0 336.47 677.78Z" fill="#fcbba1"/>
<path d="M373.76 676.04A61 61 0 0 1 379.91 705.99L349.55 704.45A30.6 30.6 0 0 0 346.46 689.42Z" fill="#fee0d2"/>
<path d="M379.91 705.99A61 61 0 0 1 370.76 735.17L344.96 719.09A30.6 30.6 0 0 0 349.55 704.45Z" fill="#fcbba1"/>
<path d="M370.76 735.17A61 61 0 0 1 348.59 756.24L333.84 729.66A30.6 30.6 0 0 0 344.96 719.09Z" fill="#fee0d2"/>
<path d="M348.59 756.24A61 61 0 0 1 318.99 763.9L318.99 733.5A30.6 30.6 0 0 0 333.84 729.66Z" fill="#fcbba1"/>
<path d="M318.99 763.9A61 61 0 0 1 289.39 756.24L304.14 729.66A30.6 30.6 0 0 0 318.99 733.5Z" fill="#fee0d2"/>
<path d="M289.39 756.24A61 61 0 0 1 267.22 735.17L293.02 719.09A30.6 30.6 0 0 0 304.14 729.66Z" fill="#deebf7"/>
<path d="M267.22 735.17A61 61 0 0 1 258.07 705.99L288.43 704.45A30.6 30.6 0 0 0 293.02 719.09Z" fill="#fee0d2"/>
<path d="M258.07 705.99A61 61 0 0 1 264.22 676.04L291.52 689.42A30.6 30.6 0 0 0 288.43 704.45Z" fill="#fcbba1"/>
<path d="M264.22 676.04A61 61 0 0 1 284.14 652.83L301.51 677.78A30.6 30.6 0 0 0 291.52 689.42Z" fill="#fc9272"/>
<path d="M284.14 652.83A61 61 0 0 1 312.82 642.21L315.89 672.46A30.6 30.6 0 0 0 301.51 677.78Z" fill="#fcbba1"/>
<circle cx="318.99" cy="702.9" r="30.6" fill="#fcbba1" class="ic"/>
<text transform="translate(318.99 713.1) scale(1 1.05)" fill="#2b2b2b" font-size="28">1921</text>
<path d="M452.78 642.21A61 61 0 0 1 481.46 652.83L464.09 677.78A30.6 30.6 0 0 0 449.71 672.46Z" fill="#fee0d2"/>
<path d="M481.46 652.83A61 61 0 0 1 501.38 676.04L474.08 689.42A30.6 30.6 0 0 0 464.09 677.78Z" fill="#fee0d2"/>
<path d="M501.38 676.04A61 61 0 0 1 507.53 705.99L477.17 704.45A30.6 30.6 0 0 0 474.08 689.42Z" fill="#fee0d2"/>
<path d="M507.53 705.99A61 61 0 0 1 498.38 735.17L472.58 719.09A30.6 30.6 0 0 0 477.17 704.45Z" fill="#fcbba1"/>
<path d="M498.38 735.17A61 61 0 0 1 476.21 756.24L461.46 729.66A30.6 30.6 0 0 0 472.58 719.09Z" fill="#deebf7"/>
<path d="M476.21 756.24A61 61 0 0 1 446.61 763.9L446.61 733.5A30.6 30.6 0 0 0 461.46 729.66Z" fill="#fee0d2"/>
<path d="M446.61 763.9A61 61 0 0 1 417.01 756.24L431.76 729.66A30.6 30.6 0 0 0 446.61 733.5Z" fill="#deebf7"/>
<path d="M417.01 756.24A61 61 0 0 1 394.84 735.17L420.64 719.09A30.6 30.6 0 0 0 431.76 729.66Z" fill="#c6dbef"/>
<path d="M394.84 735.17A61 61 0 0 1 385.69 705.99L416.05 704.45A30.6 30.6 0 0 0 420.64 719.09Z" fill="#deebf7"/>
<path d="M385.69 705.99A61 61 0 0 1 391.84 676.04L419.14 689.42A30.6 30.6 0 0 0 416.05 704.45Z" fill="#deebf7"/>
<path d="M391.84 676.04A61 61 0 0 1 411.76 652.83L429.13 677.78A30.6 30.6 0 0 0 419.14 689.42Z" fill="#fcbba1"/>
<path d="M411.76 652.83A61 61 0 0 1 440.44 642.21L443.51 672.46A30.6 30.6 0 0 0 429.13 677.78Z" fill="#fcbba1"/>
<circle cx="446.61" cy="702.9" r="30.6" fill="#fee0d2" class="ic"/>
<text transform="translate(446.61 713.1) scale(1 1.05)" fill="#2b2b2b" font-size="28">1922</text>
<path d="M580.4 642.21A61 61 0 0 1 609.08 652.83L591.71 677.78A30.6 30.6 0 0 0 577.33 672.46Z" fill="#fee0d2"/>
<path d="M609.08 652.83A61 61 0 0 1 629 676.04L601.7 689.42A30.6 30.6 0 0 0 591.71 677.78Z" fill="#deebf7"/>
<path d="M629 676.04A61 61 0 0 1 635.15 705.99L604.79 704.45A30.6 30.6 0 0 0 601.7 689.42Z" fill="#deebf7"/>
<path d="M635.15 705.99A61 61 0 0 1 626 735.17L600.2 719.09A30.6 30.6 0 0 0 604.79 704.45Z" fill="#deebf7"/>
<path d="M626 735.17A61 61 0 0 1 603.83 756.24L589.08 729.66A30.6 30.6 0 0 0 600.2 719.09Z" fill="#deebf7"/>
<path d="M603.83 756.24A61 61 0 0 1 574.23 763.9L574.23 733.5A30.6 30.6 0 0 0 589.08 729.66Z" fill="#fee0d2"/>
<path d="M574.23 763.9A61 61 0 0 1 544.63 756.24L559.38 729.66A30.6 30.6 0 0 0 574.23 733.5Z" fill="#c6dbef"/>
<path d="M544.63 756.24A61 61 0 0 1 522.46 735.17L548.26 719.09A30.6 30.6 0 0 0 559.38 729.66Z" fill="#deebf7"/>
<path d="M522.46 735.17A61 61 0 0 1 513.31 705.99L543.67 704.45A30.6 30.6 0 0 0 548.26 719.09Z" fill="#deebf7"/>
<path d="M513.31 705.99A61 61 0 0 1 519.46 676.04L546.76 689.42A30.6 30.6 0 0 0 543.67 704.45Z" fill="#fcbba1"/>
<path d="M519.46 676.04A61 61 0 0 1 539.38 652.83L556.75 677.78A30.6 30.6 0 0 0 546.76 689.42Z" fill="#fc9272"/>
<path d="M539.38 652.83A61 61 0 0 1 568.06 642.21L571.13 672.46A30.6 30.6 0 0 0 556.75 677.78Z" fill="#fc9272"/>
<circle cx="574.23" cy="702.9" r="30.6" fill="#fee0d2" class="ic"/>
<text transform="translate(574.23 713.1) scale(1 1.05)" fill="#2b2b2b" font-size="28">1923</text>
<path d="M708.02 642.21A61 61 0 0 1 736.7 652.83L719.33 677.78A30.6 30.6 0 0 0 704.95 672.46Z" fill="#fee0d2"/>
<path d="M736.7 652.83A61 61 0 0 1 756.62 676.04L729.32 689.42A30.6 30.6 0 0 0 719.33 677.78Z" fill="#fee0d2"/>
<path d="M756.62 676.04A61 61 0 0 1 762.77 705.99L732.41 704.45A30.6 30.6 0 0 0 729.32 689.42Z" fill="#fc9272"/>
<path d="M762.77 705.99A61 61 0 0 1 753.62 735.17L727.82 719.09A30.6 30.6 0 0 0 732.41 704.45Z" fill="#fee0d2"/>
<path d="M753.62 735.17A61 61 0 0 1 731.45 756.24L716.7 729.66A30.6 30.6 0 0 0 727.82 719.09Z" fill="#fcbba1"/>
<path d="M731.45 756.24A61 61 0 0 1 701.85 763.9L701.85 733.5A30.6 30.6 0 0 0 716.7 729.66Z" fill="#fee0d2"/>
<path d="M701.85 763.9A61 61 0 0 1 672.25 756.24L687 729.66A30.6 30.6 0 0 0 701.85 733.5Z" fill="#deebf7"/>
<path d="M672.25 756.24A61 61 0 0 1 650.08 735.17L675.88 719.09A30.6 30.6 0 0 0 687 729.66Z" fill="#deebf7"/>
<path d="M650.08 735.17A61 61 0 0 1 640.93 705.99L671.29 704.45A30.6 30.6 0 0 0 675.88 719.09Z" fill="#deebf7"/>
<path d="M640.93 705.99A61 61 0 0 1 647.08 676.04L674.38 689.42A30.6 30.6 0 0 0 671.29 704.45Z" fill="#deebf7"/>
<path d="M647.08 676.04A61 61 0 0 1 667 652.83L684.37 677.78A30.6 30.6 0 0 0 674.38 689.42Z" fill="#fcbba1"/>
<path d="M667 652.83A61 61 0 0 1 695.68 642.21L698.75 672.46A30.6 30.6 0 0 0 684.37 677.78Z" fill="#deebf7"/>
<circle cx="701.85" cy="702.9" r="30.6" fill="#fee0d2" class="ic"/>
<text transform="translate(701.85 713.1) scale(1 1.05)" fill="#2b2b2b" font-size="28">1924</text>
<path d="M835.64 642.21A61 61 0 0 1 864.32 652.83L846.95 677.78A30.6 30.6 0 0 0 832.57 672.46Z" fill="#deebf7"/>
<path d="M864.32 652.83A61 61 0 0 1 884.24 676.04L856.94 689.42A30.6 30.6 0 0 0 846.95 677.78Z" fill="#deebf7"/>
<path d="M884.24 676.04A61 61 0 0 1 890.39 705.99L860.03 704.45A30.6 30.6 0 0 0 856.94 689.42Z" fill="#fee0d2"/>
<path d="M890.39 705.99A61 61 0 0 1 881.24 735.17L855.44 719.09A30.6 30.6 0 0 0 860.03 704.45Z" fill="#fee0d2"/>
<path d="M881.24 735.17A61 61 0 0 1 859.07 756.24L844.32 729.66A30.6 30.6 0 0 0 855.44 719.09Z" fill="#fee0d2"/>
<path d="M859.07 756.24A61 61 0 0 1 829.47 763.9L829.47 733.5A30.6 30.6 0 0 0 844.32 729.66Z" fill="#deebf7"/>
<path d="M829.47 763.9A61 61 0 0 1 799.87 756.24L814.62 729.66A30.6 30.6 0 0 0 829.47 733.5Z" fill="#deebf7"/>
<path d="M799.87 756.24A61 61 0 0 1 777.7 735.17L803.5 719.09A30.6 30.6 0 0 0 814.62 729.66Z" fill="#fee0d2"/>
<path d="M777.7 735.17A61 61 0 0 1 768.55 705.99L798.91 704.45A30.6 30.6 0 0 0 803.5 719.09Z" fill="#fee0d2"/>
<path d="M768.55 705.99A61 61 0 0 1 774.7 676.04L802 689.42A30.6 30.6 0 0 0 798.91 704.45Z" fill="#fee0d2"/>
<path d="M774.7 676.04A61 61 0 0 1 794.62 652.83L811.99 677.78A30.6 30.6 0 0 0 802 689.42Z" fill="#fc9272"/>
<path d="M794.62 652.83A61 61 0 0 1 823.3 642.21L826.37 672.46A30.6 30.6 0 0 0 811.99 677.78Z" fill="#fb6a4a"/>
<circle cx="829.47" cy="702.9" r="30.6" fill="#fee0d2" class="ic"/>
<text transform="translate(829.47 713.1) scale(1 1.05)" fill="#2b2b2b" font-size="28">1925</text>
<path d="M963.26 642.21A61 61 0 0 1 991.94 652.83L974.57 677.78A30.6 30.6 0 0 0 960.19 672.46Z" fill="#fb6a4a"/>
<path d="M991.94 652.83A61 61 0 0 1 1011.86 676.04L984.56 689.42A30.6 30.6 0 0 0 974.57 677.78Z" fill="#fc9272"/>
<path d="M1011.86 676.04A61 61 0 0 1 1018.01 705.99L987.65 704.45A30.6 30.6 0 0 0 984.56 689.42Z" fill="#fb6a4a"/>
<path d="M1018.01 705.99A61 61 0 0 1 1008.86 735.17L983.06 719.09A30.6 30.6 0 0 0 987.65 704.45Z" fill="#fc9272"/>
<path d="M1008.86 735.17A61 61 0 0 1 986.69 756.24L971.94 729.66A30.6 30.6 0 0 0 983.06 719.09Z" fill="#fcbba1"/>
<path d="M986.69 756.24A61 61 0 0 1 957.09 763.9L957.09 733.5A30.6 30.6 0 0 0 971.94 729.66Z" fill="#fcbba1"/>
<path d="M957.09 763.9A61 61 0 0 1 927.49 756.24L942.24 729.66A30.6 30.6 0 0 0 957.09 733.5Z" fill="#fee0d2"/>
<path d="M927.49 756.24A61 61 0 0 1 905.32 735.17L931.12 719.09A30.6 30.6 0 0 0 942.24 729.66Z" fill="#fcbba1"/>
<path d="M905.32 735.17A61 61 0 0 1 896.17 705.99L926.53 704.45A30.6 30.6 0 0 0 931.12 719.09Z" fill="#fcbba1"/>
<path d="M896.17 705.99A61 61 0 0 1 902.32 676.04L929.62 689.42A30.6 30.6 0 0 0 926.53 704.45Z" fill="#fc9272"/>
<path d="M902.32 676.04A61 61 0 0 1 922.24 652.83L939.61 677.78A30.6 30.6 0 0 0 929.62 689.42Z" fill="#fc9272"/>
<path d="M922.24 652.83A61 61 0 0 1 950.92 642.21L953.99 672.46A30.6 30.6 0 0 0 939.61 677.78Z" fill="#fee0d2"/>
<circle cx="957.09" cy="702.9" r="30.6" fill="#fc9272" class="ic"/>
<text transform="translate(957.09 713.1) scale(1 1.05)" fill="#2b2b2b" font-size="28">1926</text>
<path d="M1090.88 642.21A61 61 0 0 1 1119.56 652.83L1102.19 677.78A30.6 30.6 0 0 0 1087.81 672.46Z" fill="#fcbba1"/>
<path d="M1119.56 652.83A61 61 0 0 1 1139.48 676.04L1112.18 689.42A30.6 30.6 0 0 0 1102.19 677.78Z" fill="#fc9272"/>
<path d="M1139.48 676.04A61 61 0 0 1 1145.63 705.99L1115.27 704.45A30.6 30.6 0 0 0 1112.18 689.42Z" fill="#fee0d2"/>
<path d="M1145.63 705.99A61 61 0 0 1 1136.48 735.17L1110.68 719.09A30.6 30.6 0 0 0 1115.27 704.45Z" fill="#fee0d2"/>
<path d="M1136.48 735.17A61 61 0 0 1 1114.31 756.24L1099.56 729.66A30.6 30.6 0 0 0 1110.68 719.09Z" fill="#fcbba1"/>
<path d="M1114.31 756.24A61 61 0 0 1 1084.71 763.9L1084.71 733.5A30.6 30.6 0 0 0 1099.56 729.66Z" fill="#fee0d2"/>
<path d="M1084.71 763.9A61 61 0 0 1 1055.11 756.24L1069.86 729.66A30.6 30.6 0 0 0 1084.71 733.5Z" fill="#fee0d2"/>
<path d="M1055.11 756.24A61 61 0 0 1 1032.94 735.17L1058.74 719.09A30.6 30.6 0 0 0 1069.86 729.66Z" fill="#fee0d2"/>
<path d="M1032.94 735.17A61 61 0 0 1 1023.79 705.99L1054.15 704.45A30.6 30.6 0 0 0 1058.74 719.09Z" fill="#fcbba1"/>
<path d="M1023.79 705.99A61 61 0 0 1 1029.94 676.04L1057.24 689.42A30.6 30.6 0 0 0 1054.15 704.45Z" fill="#fc9272"/>
<path d="M1029.94 676.04A61 61 0 0 1 1049.86 652.83L1067.23 677.78A30.6 30.6 0 0 0 1057.24 689.42Z" fill="#fc9272"/>
<path d="M1049.86 652.83A61 61 0 0 1 1078.54 642.21L1081.61 672.46A30.6 30.6 0 0 0 1067.23 677.78Z" fill="#fee0d2"/>
<circle cx="1084.71" cy="702.9" r="30.6" fill="#fcbba1" class="ic"/>
<text transform="translate(1084.71 713.1) scale(1 1.05)" fill="#2b2b2b" font-size="28">1927</text>
<path d="M1218.5 642.21A61 61 0 0 1 1247.18 652.83L1229.81 677.78A30.6 30.6 0 0 0 1215.43 672.46Z" fill="#fb6a4a"/>
<path d="M1247.18 652.83A61 61 0 0 1 1267.1 676.04L1239.8 689.42A30.6 30.6 0 0 0 1229.81 677.78Z" fill="#fc9272"/>
<path d="M1267.1 676.04A61 61 0 0 1 1273.25 705.99L1242.89 704.45A30.6 30.6 0 0 0 1239.8 689.42Z" fill="#fcbba1"/>
<path d="M1273.25 705.99A61 61 0 0 1 1264.1 735.17L1238.3 719.09A30.6 30.6 0 0 0 1242.89 704.45Z" fill="#fcbba1"/>
<path d="M1264.1 735.17A61 61 0 0 1 1241.93 756.24L1227.18 729.66A30.6 30.6 0 0 0 1238.3 719.09Z" fill="#fee0d2"/>
<path d="M1241.93 756.24A61 61 0 0 1 1212.33 763.9L1212.33 733.5A30.6 30.6 0 0 0 1227.18 729.66Z" fill="#deebf7"/>
<path d="M1212.33 763.9A61 61 0 0 1 1182.73 756.24L1197.48 729.66A30.6 30.6 0 0 0 1212.33 733.5Z" fill="#fee0d2"/>
<path d="M1182.73 756.24A61 61 0 0 1 1160.56 735.17L1186.36 719.09A30.6 30.6 0 0 0 1197.48 729.66Z" fill="#fee0d2"/>
<path d="M1160.56 735.17A61 61 0 0 1 1151.41 705.99L1181.77 704.45A30.6 30.6 0 0 0 1186.36 719.09Z" fill="#fee0d2"/>
<path d="M1151.41 705.99A61 61 0 0 1 1157.56 676.04L1184.86 689.42A30.6 30.6 0 0 0 1181.77 704.45Z" fill="#fcbba1"/>
<path d="M1157.56 676.04A61 61 0 0 1 1177.48 652.83L1194.85 677.78A30.6 30.6 0 0 0 1184.86 689.42Z" fill="#fc9272"/>
<path d="M1177.48 652.83A61 61 0 0 1 1206.16 642.21L1209.23 672.46A30.6 30.6 0 0 0 1194.85 677.78Z" fill="#fcbba1"/>
<circle cx="1212.33" cy="702.9" r="30.6" fill="#fcbba1" class="ic"/>
<text transform="translate(1212.33 713.1) scale(1 1.05)" fill="#2b2b2b" font-size="28">1928</text>
<path d="M1346.12 642.21A61 61 0 0 1 1374.8 652.83L1357.43 677.78A30.6 30.6 0 0 0 1343.05 672.46Z" fill="#deebf7"/>
<path d="M1374.8 652.83A61 61 0 0 1 1394.72 676.04L1367.42 689.42A30.6 30.6 0 0 0 1357.43 677.78Z" fill="#c6dbef"/>
<path d="M1394.72 676.04A61 61 0 0 1 1400.87 705.99L1370.51 704.45A30.6 30.6 0 0 0 1367.42 689.42Z" fill="#deebf7"/>
<path d="M1400.87 705.99A61 61 0 0 1 1391.72 735.17L1365.92 719.09A30.6 30.6 0 0 0 1370.51 704.45Z" fill="#deebf7"/>
<path d="M1391.72 735.17A61 61 0 0 1 1369.55 756.24L1354.8 729.66A30.6 30.6 0 0 0 1365.92 719.09Z" fill="#deebf7"/>
<path d="M1369.55 756.24A61 61 0 0 1 1339.95 763.9L1339.95 733.5A30.6 30.6 0 0 0 1354.8 729.66Z" fill="#deebf7"/>
<path d="M1339.95 763.9A61 61 0 0 1 1310.35 756.24L1325.1 729.66A30.6 30.6 0 0 0 1339.95 733.5Z" fill="#c6dbef"/>
<path d="M1310.35 756.24A61 61 0 0 1 1288.18 735.17L1313.98 719.09A30.6 30.6 0 0 0 1325.1 729.66Z" fill="#deebf7"/>
<path d="M1288.18 735.17A61 61 0 0 1 1279.03 705.99L1309.39 704.45A30.6 30.6 0 0 0 1313.98 719.09Z" fill="#fee0d2"/>
<path d="M1279.03 705.99A61 61 0 0 1 1285.18 676.04L1312.48 689.42A30.6 30.6 0 0 0 1309.39 704.45Z" fill="#fee0d2"/>
<path d="M1285.18 676.04A61 61 0 0 1 1305.1 652.83L1322.47 677.78A30.6 30.6 0 0 0 1312.48 689.42Z" fill="#fc9272"/>
<path d="M1305.1 652.83A61 61 0 0 1 1333.78 642.21L1336.85 672.46A30.6 30.6 0 0 0 1322.47 677.78Z" fill="#c6dbef"/>
<circle cx="1339.95" cy="702.9" r="30.6" fill="#deebf7" class="ic"/>
<text transform="translate(1339.95 713.1) scale(1 1.05)" fill="#2b2b2b" font-size="28">1929</text>
<path d="M1473.74 642.21A61 61 0 0 1 1502.42 652.83L1485.05 677.78A30.6 30.6 0 0 0 1470.67 672.46Z" fill="#fee0d2"/>
<path d="M1502.42 652.83A61 61 0 0 1 1522.34 676.04L1495.04 689.42A30.6 30.6 0 0 0 1485.05 677.78Z" fill="#fee0d2"/>
<path d="M1522.34 676.04A61 61 0 0 1 1528.49 705.99L1498.13 704.45A30.6 30.6 0 0 0 1495.04 689.42Z" fill="#fcbba1"/>
<path d="M1528.49 705.99A61 61 0 0 1 1519.34 735.17L1493.54 719.09A30.6 30.6 0 0 0 1498.13 704.45Z" fill="#fcbba1"/>
<path d="M1519.34 735.17A61 61 0 0 1 1497.17 756.24L1482.42 729.66A30.6 30.6 0 0 0 1493.54 719.09Z" fill="#fcbba1"/>
<path d="M1497.17 756.24A61 61 0 0 1 1467.57 763.9L1467.57 733.5A30.6 30.6 0 0 0 1482.42 729.66Z" fill="#fcbba1"/>
<path d="M1467.57 763.9A61 61 0 0 1 1437.97 756.24L1452.72 729.66A30.6 30.6 0 0 0 1467.57 733.5Z" fill="#fee0d2"/>
<path d="M1437.97 756.24A61 61 0 0 1 1415.8 735.17L1441.6 719.09A30.6 30.6 0 0 0 1452.72 729.66Z" fill="#fcbba1"/>
<path d="M1415.8 735.17A61 61 0 0 1 1406.65 705.99L1437.01 704.45A30.6 30.6 0 0 0 1441.6 719.09Z" fill="#fcbba1"/>
<path d="M1406.65 705.99A61 61 0 0 1 1412.8 676.04L1440.1 689.42A30.6 30.6 0 0 0 1437.01 704.45Z" fill="#fc9272"/>
<path d="M1412.8 676.04A61 61 0 0 1 1432.72 652.83L1450.09 677.78A30.6 30.6 0 0 0 1440.1 689.42Z" fill="#fb6a4a"/>
<path d="M1432.72 652.83A61 61 0 0 1 1461.4 642.21L1464.47 672.46A30.6 30.6 0 0 0 1450.09 677.78Z" fill="#fc9272"/>
<circle cx="1467.57" cy="702.9" r="30.6" fill="#fcbba1" class="ic"/>
<text transform="translate(1467.57 713.1) scale(1 1.05)" fill="#2b2b2b" font-size="28">1930</text>
<path d="M1601.36 642.21A61 61 0 0 1 1630.04 652.83L1612.67 677.78A30.6 30.6 0 0 0 1598.29 672.46Z" fill="#fc9272"/>
<path d="M1630.04 652.83A61 61 0 0 1 1649.96 676.04L1622.66 689.42A30.6 30.6 0 0 0 1612.67 677.78Z" fill="#fcbba1"/>
<path d="M1649.96 676.04A61 61 0 0 1 1656.11 705.99L1625.75 704.45A30.6 30.6 0 0 0 1622.66 689.42Z" fill="#fc9272"/>
<path d="M1656.11 705.99A61 61 0 0 1 1646.96 735.17L1621.16 719.09A30.6 30.6 0 0 0 1625.75 704.45Z" fill="#fc9272"/>
<path d="M1646.96 735.17A61 61 0 0 1 1624.79 756.24L1610.04 729.66A30.6 30.6 0 0 0 1621.16 719.09Z" fill="#fcbba1"/>
<path d="M1624.79 756.24A61 61 0 0 1 1595.19 763.9L1595.19 733.5A30.6 30.6 0 0 0 1610.04 729.66Z" fill="#fc9272"/>
<path d="M1595.19 763.9A61 61 0 0 1 1565.59 756.24L1580.34 729.66A30.6 30.6 0 0 0 1595.19 733.5Z" fill="#fc9272"/>
<path d="M1565.59 756.24A61 61 0 0 1 1543.42 735.17L1569.22 719.09A30.6 30.6 0 0 0 1580.34 729.66Z" fill="#fc9272"/>
<path d="M1543.42 735.17A61 61 0 0 1 1534.27 705.99L1564.63 704.45A30.6 30.6 0 0 0 1569.22 719.09Z" fill="#fc9272"/>
<path d="M1534.27 705.99A61 61 0 0 1 1540.42 676.04L1567.72 689.42A30.6 30.6 0 0 0 1564.63 704.45Z" fill="#fc9272"/>
<path d="M1540.42 676.04A61 61 0 0 1 1560.34 652.83L1577.71 677.78A30.6 30.6 0 0 0 1567.72 689.42Z" fill="#fc9272"/>
<path d="M1560.34 652.83A61 61 0 0 1 1589.02 642.21L1592.09 672.46A30.6 30.6 0 0 0 1577.71 677.78Z" fill="#fc9272"/>
<circle cx="1595.19" cy="702.9" r="30.6" fill="#fc9272" class="ic"/>
<text transform="translate(1595.19 713.1) scale(1 1.05)" fill="#2b2b2b" font-size="28">1931</text>
<path d="M1728.98 642.21A61 61 0 0 1 1757.66 652.83L1740.29 677.78A30.6 30.6 0 0 0 1725.91 672.46Z" fill="#fb6a4a"/>
<path d="M1757.66 652.83A61 61 0 0 1 1777.58 676.04L1750.28 689.42A30.6 30.6 0 0 0 1740.29 677.78Z" fill="#fc9272"/>
<path d="M1777.58 676.04A61 61 0 0 1 1783.73 705.99L1753.37 704.45A30.6 30.6 0 0 0 1750.28 689.42Z" fill="#fc9272"/>
<path d="M1783.73 705.99A61 61 0 0 1 1774.58 735.17L1748.78 719.09A30.6 30.6 0 0 0 1753.37 704.45Z" fill="#fc9272"/>
<path d="M1774.58 735.17A61 61 0 0 1 1752.41 756.24L1737.66 729.66A30.6 30.6 0 0 0 1748.78 719.09Z" fill="#fc9272"/>
<path d="M1752.41 756.24A61 61 0 0 1 1722.81 763.9L1722.81 733.5A30.6 30.6 0 0 0 1737.66 729.66Z" fill="#fee0d2"/>
<path d="M1722.81 763.9A61 61 0 0 1 1693.21 756.24L1707.96 729.66A30.6 30.6 0 0 0 1722.81 733.5Z" fill="#fcbba1"/>
<path d="M1693.21 756.24A61 61 0 0 1 1671.04 735.17L1696.84 719.09A30.6 30.6 0 0 0 1707.96 729.66Z" fill="#fee0d2"/>
<path d="M1671.04 735.17A61 61 0 0 1 1661.89 705.99L1692.25 704.45A30.6 30.6 0 0 0 1696.84 719.09Z" fill="#fc9272"/>
<path d="M1661.89 705.99A61 61 0 0 1 1668.04 676.04L1695.34 689.42A30.6 30.6 0 0 0 1692.25 704.45Z" fill="#fc9272"/>
<path d="M1668.04 676.04A61 61 0 0 1 1687.96 652.83L1705.33 677.78A30.6 30.6 0 0 0 1695.34 689.42Z" fill="#fcbba1"/>
<path d="M1687.96 652.83A61 61 0 0 1 1716.64 642.21L1719.71 672.46A30.6 30.6 0 0 0 1705.33 677.78Z" fill="#fcbba1"/>
<circle cx="1722.81" cy="702.9" r="30.6" fill="#fc9272" class="ic"/>
<text transform="translate(1722.81 713.1) scale(1 1.05)" fill="#2b2b2b" font-size="28">1932</text>
<path d="M1856.6 642.21A61 61 0 0 1 1885.28 652.83L1867.91 677.78A30.6 30.6 0 0 0 1853.53 672.46Z" fill="#fcbba1"/>
<path d="M1885.28 652.83A61 61 0 0 1 1905.2 676.04L1877.9 689.42A30.6 30.6 0 0 0 1867.91 677.78Z" fill="#fee0d2"/>
<path d="M1905.2 676.04A61 61 0 0 1 1911.35 705.99L1880.99 704.45A30.6 30.6 0 0 0 1877.9 689.42Z" fill="#fee0d2"/>
<path d="M1911.35 705.99A61 61 0 0 1 1902.2 735.17L1876.4 719.09A30.6 30.6 0 0 0 1880.99 704.45Z" fill="#fcbba1"/>
<path d="M1902.2 735.17A61 61 0 0 1 1880.03 756.24L1865.28 729.66A30.6 30.6 0 0 0 1876.4 719.09Z" fill="#fee0d2"/>
<path d="M1880.03 756.24A61 61 0 0 1 1850.43 763.9L1850.43 733.5A30.6 30.6 0 0 0 1865.28 729.66Z" fill="#deebf7"/>
<path d="M1850.43 763.9A61 61 0 0 1 1820.83 756.24L1835.58 729.66A30.6 30.6 0 0 0 1850.43 733.5Z" fill="#deebf7"/>
<path d="M1820.83 756.24A61 61 0 0 1 1798.66 735.17L1824.46 719.09A30.6 30.6 0 0 0 1835.58 729.66Z" fill="#fee0d2"/>
<path d="M1798.66 735.17A61 61 0 0 1 1789.51 705.99L1819.87 704.45A30.6 30.6 0 0 0 1824.46 719.09Z" fill="#deebf7"/>
<path d="M1789.51 705.99A61 61 0 0 1 1795.66 676.04L1822.96 689.42A30.6 30.6 0 0 0 1819.87 704.45Z" fill="#fee0d2"/>
<path d="M1795.66 676.04A61 61 0 0 1 1815.58 652.83L1832.95 677.78A30.6 30.6 0 0 0 1822.96 689.42Z" fill="#deebf7"/>
<path d="M1815.58 652.83A61 61 0 0 1 1844.26 642.21L1847.33 672.46A30.6 30.6 0 0 0 1832.95 677.78Z" fill="#deebf7"/>
<circle cx="1850.43" cy="702.9" r="30.6" fill="#fee0d2" class="ic"/>
<text transform="translate(1850.43 713.1) scale(1 1.05)" fill="#2b2b2b" font-size="28">1933</text>
<path d="M1984.22 642.21A61 61 0 0 1 2012.9 652.83L1995.53 677.78A30.6 30.6 0 0 0 1981.15 672.46Z" fill="#fcbba1"/>
<path d="M2012.9 652.83A61 61 0 0 1 2032.82 676.04L2005.52 689.42A30.6 30.6 0 0 0 1995.53 677.78Z" fill="#fc9272"/>
<path d="M2032.82 676.04A61 61 0 0 1 2038.97 705.99L2008.61 704.45A30.6 30.6 0 0 0 2005.52 689.42Z" fill="#fee0d2"/>
<path d="M2038.97 705.99A61 61 0 0 1 2029.82 735.17L2004.02 719.09A30.6 30.6 0 0 0 2008.61 704.45Z" fill="#fee0d2"/>
<path d="M2029.82 735.17A61 61 0 0 1 2007.65 756.24L1992.9 729.66A30.6 30.6 0 0 0 2004.02 719.09Z" fill="#fc9272"/>
<path d="M2007.65 756.24A61 61 0 0 1 1978.05 763.9L1978.05 733.5A30.6 30.6 0 0 0 1992.9 729.66Z" fill="#fc9272"/>
<path d="M1978.05 763.9A61 61 0 0 1 1948.45 756.24L1963.2 729.66A30.6 30.6 0 0 0 1978.05 733.5Z" fill="#fee0d2"/>
<path d="M1948.45 756.24A61 61 0 0 1 1926.28 735.17L1952.08 719.09A30.6 30.6 0 0 0 1963.2 729.66Z" fill="#fcbba1"/>
<path d="M1926.28 735.17A61 61 0 0 1 1917.13 705.99L1947.49 704.45A30.6 30.6 0 0 0 1952.08 719.09Z" fill="#fcbba1"/>
<path d="M1917.13 705.99A61 61 0 0 1 1923.28 676.04L1950.58 689.42A30.6 30.6 0 0 0 1947.49 704.45Z" fill="#fc9272"/>
<path d="M1923.28 676.04A61 61 0 0 1 1943.2 652.83L1960.57 677.78A30.6 30.6 0 0 0 1950.58 689.42Z" fill="#fb6a4a"/>
<path d="M1943.2 652.83A61 61 0 0 1 1971.88 642.21L1974.95 672.46A30.6 30.6 0 0 0 1960.57 677.78Z" fill="#fc9272"/>
<circle cx="1978.05" cy="702.9" r="30.6" fill="#fcbba1" class="ic"/>
<text transform="translate(1978.05 713.1) scale(1 1.05)" fill="#2b2b2b" font-size="28">1934</text>
<path d="M2111.84 642.21A61 61 0 0 1 2140.52 652.83L2123.15 677.78A30.6 30.6 0 0 0 2108.77 672.46Z" fill="#fee0d2"/>
<path d="M2140.52 652.83A61 61 0 0 1 2160.44 676.04L2133.14 689.42A30.6 30.6 0 0 0 2123.15 677.78Z" fill="#fb6a4a"/>
<path d="M2160.44 676.04A61 61 0 0 1 2166.59 705.99L2136.23 704.45A30.6 30.6 0 0 0 2133.14 689.42Z" fill="#fc9272"/>
<path d="M2166.59 705.99A61 61 0 0 1 2157.44 735.17L2131.64 719.09A30.6 30.6 0 0 0 2136.23 704.45Z" fill="#fee0d2"/>
<path d="M2157.44 735.17A61 61 0 0 1 2135.27 756.24L2120.52 729.66A30.6 30.6 0 0 0 2131.64 719.09Z" fill="#fee0d2"/>
<path d="M2135.27 756.24A61 61 0 0 1 2105.67 763.9L2105.67 733.5A30.6 30.6 0 0 0 2120.52 729.66Z" fill="#fcbba1"/>
<path d="M2105.67 763.9A61 61 0 0 1 2076.07 756.24L2090.82 729.66A30.6 30.6 0 0 0 2105.67 733.5Z" fill="#fcbba1"/>
<path d="M2076.07 756.24A61 61 0 0 1 2053.9 735.17L2079.7 719.09A30.6 30.6 0 0 0 2090.82 729.66Z" fill="#fcbba1"/>
<path d="M2053.9 735.17A61 61 0 0 1 2044.75 705.99L2075.11 704.45A30.6 30.6 0 0 0 2079.7 719.09Z" fill="#fee0d2"/>
<path d="M2044.75 705.99A61 61 0 0 1 2050.9 676.04L2078.2 689.42A30.6 30.6 0 0 0 2075.11 704.45Z" fill="#fc9272"/>
<path d="M2050.9 676.04A61 61 0 0 1 2070.82 652.83L2088.19 677.78A30.6 30.6 0 0 0 2078.2 689.42Z" fill="#fee0d2"/>
<path d="M2070.82 652.83A61 61 0 0 1 2099.5 642.21L2102.57 672.46A30.6 30.6 0 0 0 2088.19 677.78Z" fill="#fcbba1"/>
<circle cx="2105.67" cy="702.9" r="30.6" fill="#fcbba1" class="ic"/>
<text transform="translate(2105.67 713.1) scale(1 1.05)" fill="#2b2b2b" font-size="28">1935</text>
<path d="M69.92 769.81A61 61 0 0 1 98.6 780.43L81.23 805.38A30.6 30.6 0 0 0 66.85 800.06Z" fill="#fee0d2"/>
<path d="M98.6 780.43A61 61 0 0 1 118.52 803.64L91.22 817.02A30.6 30.6 0 0 0 81.23 805.38Z" fill="#fee0d2"/>
<path d="M118.52 803.64A61 61 0 0 1 124.67 833.59L94.31 832.05A30.6 30.6 0 0 0 91.22 817.02Z" fill="#fcbba1"/>
<path d="M124.67 833.59A61 61 0 0 1 115.52 862.77L89.72 846.69A30.6 30.6 0 0 0 94.31 832.05Z" fill="#fc9272"/>
<path d="M115.52 862.77A61 61 0 0 1 93.35 883.84L78.6 857.26A30.6 30.6 0 0 0 89.72 846.69Z" fill="#fc9272"/>
<path d="M93.35 883.84A61 61 0 0 1 63.75 891.5L63.75 861.1A30.6 30.6 0 0 0 78.6 857.26Z" fill="#fcbba1"/>
<path d="M63.75 891.5A61 61 0 0 1 34.15 883.84L48.9 857.26A30.6 30.6 0 0 0 63.75 861.1Z" fill="#fcbba1"/>
<path d="M34.15 883.84A61 61 0 0 1 11.98 862.77L37.78 846.69A30.6 30.6 0 0 0 48.9 857.26Z" fill="#fcbba1"/>
<path d="M11.98 862.77A61 61 0 0 1 2.83 833.59L33.19 832.05A30.6 30.6 0 0 0 37.78 846.69Z" fill="#fcbba1"/>
<path d="M2.83 833.59A61 61 0 0 1 8.98 803.64L36.28 817.02A30.6 30.6 0 0 0 33.19 832.05Z" fill="#fc9272"/>
<path d="M8.98 803.64A61 61 0 0 1 28.9 780.43L46.27 805.38A30.6 30.6 0 0 0 36.28 817.02Z" fill="#fc9272"/>
<path d="M28.9 780.43A61 61 0 0 1 57.58 769.81L60.65 800.06A30.6 30.6 0 0 0 46.27 805.38Z" fill="#fc9272"/>
<circle cx="63.75" cy="830.5" r="30.6" fill="#fcbba1" class="ic"/>
<text transform="translate(63.75 840.7) scale(1 1.05)" fill="#2b2b2b" font-size="28">1936</text>
<path d="M197.54 769.81A61 61 0 0 1 226.22 780.43L208.85 805.38A30.6 30.6 0 0 0 194.47 800.06Z" fill="#fc9272"/>
<path d="M226.22 780.43A61 61 0 0 1 246.14 803.64L218.84 817.02A30.6 30.6 0 0 0 208.85 805.38Z" fill="#fb6a4a"/>
<path d="M246.14 803.64A61 61 0 0 1 252.29 833.59L221.93 832.05A30.6 30.6 0 0 0 218.84 817.02Z" fill="#fcbba1"/>
<path d="M252.29 833.59A61 61 0 0 1 243.14 862.77L217.34 846.69A30.6 30.6 0 0 0 221.93 832.05Z" fill="#fc9272"/>
<path d="M243.14 862.77A61 61 0 0 1 220.97 883.84L206.22 857.26A30.6 30.6 0 0 0 217.34 846.69Z" fill="#fc9272"/>
<path d="M220.97 883.84A61 61 0 0 1 191.37 891.5L191.37 861.1A30.6 30.6 0 0 0 206.22 857.26Z" fill="#fc9272"/>
<path d="M191.37 891.5A61 61 0 0 1 161.77 883.84L176.52 857.26A30.6 30.6 0 0 0 191.37 861.1Z" fill="#fc9272"/>
<path d="M161.77 883.84A61 61 0 0 1 139.6 862.77L165.4 846.69A30.6 30.6 0 0 0 176.52 857.26Z" fill="#fc9272"/>
<path d="M139.6 862.77A61 61 0 0 1 130.45 833.59L160.81 832.05A30.6 30.6 0 0 0 165.4 846.69Z" fill="#fb6a4a"/>
<path d="M130.45 833.59A61 61 0 0 1 136.6 803.64L163.9 817.02A30.6 30.6 0 0 0 160.81 832.05Z" fill="#fb6a4a"/>
<path d="M136.6 803.64A61 61 0 0 1 156.52 780.43L173.89 805.38A30.6 30.6 0 0 0 163.9 817.02Z" fill="#fb6a4a"/>
<path d="M156.52 780.43A61 61 0 0 1 185.2 769.81L188.27 800.06A30.6 30.6 0 0 0 173.89 805.38Z" fill="#fc9272"/>
<circle cx="191.37" cy="830.5" r="30.6" fill="#fc9272" class="ic"/>
<text transform="translate(191.37 840.7) scale(1 1.05)" fill="#2b2b2b" font-size="28">1937</text>
<path d="M325.16 769.81A61 61 0 0 1 353.84 780.43L336.47 805.38A30.6 30.6 0 0 0 322.09 800.06Z" fill="#fb6a4a"/>
<path d="M353.84 780.43A61 61 0 0 1 373.76 803.64L346.46 817.02A30.6 30.6 0 0 0 336.47 805.38Z" fill="#fb6a4a"/>
<path d="M373.76 803.64A61 61 0 0 1 379.91 833.59L349.55 832.05A30.6 30.6 0 0 0 346.46 817.02Z" fill="#fb6a4a"/>
<path d="M379.91 833.59A61 61 0 0 1 370.76 862.77L344.96 846.69A30.6 30.6 0 0 0 349.55 832.05Z" fill="#fb6a4a"/>
<path d="M370.76 862.77A61 61 0 0 1 348.59 883.84L333.84 857.26A30.6 30.6 0 0 0 344.96 846.69Z" fill="#fc9272"/>
<path d="M348.59 883.84A61 61 0 0 1 318.99 891.5L318.99 861.1A30.6 30.6 0 0 0 333.84 857.26Z" fill="#fc9272"/>
<path d="M318.99 891.5A61 61 0 0 1 289.39 883.84L304.14 857.26A30.6 30.6 0 0 0 318.99 861.1Z" fill="#fc9272"/>
<path d="M289.39 883.84A61 61 0 0 1 267.22 862.77L293.02 846.69A30.6 30.6 0 0 0 304.14 857.26Z" fill="#fc9272"/>
<path d="M267.22 862.77A61 61 0 0 1 258.07 833.59L288.43 832.05A30.6 30.6 0 0 0 293.02 846.69Z" fill="#fc9272"/>
<path d="M258.07 833.59A61 61 0 0 1 264.22 803.64L291.52 817.02A30.6 30.6 0 0 0 288.43 832.05Z" fill="#fb6a4a"/>
<path d="M264.22 803.64A61 61 0 0 1 284.14 780.43L301.51 805.38A30.6 30.6 0 0 0 291.52 817.02Z" fill="#fb6a4a"/>
<path d="M284.14 780.43A61 61 0 0 1 312.82 769.81L315.89 800.06A30.6 30.6 0 0 0 301.51 805.38Z" fill="#fc9272"/>
<circle cx="318.99" cy="830.5" r="30.6" fill="#fc9272" class="ic"/>
<text transform="translate(318.99 840.7) scale(1 1.05)" fill="#2b2b2b" font-size="28">1938</text>
<path d="M452.78 769.81A61 61 0 0 1 481.46 780.43L464.09 805.38A30.6 30.6 0 0 0 449.71 800.06Z" fill="#fc9272"/>
<path d="M481.46 780.43A61 61 0 0 1 501.38 803.64L474.08 817.02A30.6 30.6 0 0 0 464.09 805.38Z" fill="#fc9272"/>
<path d="M501.38 803.64A61 61 0 0 1 507.53 833.59L477.17 832.05A30.6 30.6 0 0 0 474.08 817.02Z" fill="#fcbba1"/>
<path d="M507.53 833.59A61 61 0 0 1 498.38 862.77L472.58 846.69A30.6 30.6 0 0 0 477.17 832.05Z" fill="#fc9272"/>
<path d="M498.38 862.77A61 61 0 0 1 476.21 883.84L461.46 857.26A30.6 30.6 0 0 0 472.58 846.69Z" fill="#fc9272"/>
<path d="M476.21 883.84A61 61 0 0 1 446.61 891.5L446.61 861.1A30.6 30.6 0 0 0 461.46 857.26Z" fill="#fc9272"/>
<path d="M446.61 891.5A61 61 0 0 1 417.01 883.84L431.76 857.26A30.6 30.6 0 0 0 446.61 861.1Z" fill="#fc9272"/>
<path d="M417.01 883.84A61 61 0 0 1 394.84 862.77L420.64 846.69A30.6 30.6 0 0 0 431.76 857.26Z" fill="#fc9272"/>
<path d="M394.84 862.77A61 61 0 0 1 385.69 833.59L416.05 832.05A30.6 30.6 0 0 0 420.64 846.69Z" fill="#fc9272"/>
<path d="M385.69 833.59A61 61 0 0 1 391.84 803.64L419.14 817.02A30.6 30.6 0 0 0 416.05 832.05Z" fill="#fc9272"/>
<path d="M391.84 803.64A61 61 0 0 1 411.76 780.43L429.13 805.38A30.6 30.6 0 0 0 419.14 817.02Z" fill="#fb6a4a"/>
<path d="M411.76 780.43A61 61 0 0 1 440.44 769.81L443.51 800.06A30.6 30.6 0 0 0 429.13 805.38Z" fill="#ef3b2c"/>
<circle cx="446.61" cy="830.5" r="30.6" fill="#fc9272" class="ic"/>
<text transform="translate(446.61 840.7) scale(1 1.05)" fill="#2b2b2b" font-size="28">1939</text>
<path d="M580.4 769.81A61 61 0 0 1 609.08 780.43L591.71 805.38A30.6 30.6 0 0 0 577.33 800.06Z" fill="#fc9272"/>
<path d="M609.08 780.43A61 61 0 0 1 629 803.64L601.7 817.02A30.6 30.6 0 0 0 591.71 805.38Z" fill="#fb6a4a"/>
<path d="M629 803.64A61 61 0 0 1 635.15 833.59L604.79 832.05A30.6 30.6 0 0 0 601.7 817.02Z" fill="#fb6a4a"/>
<path d="M635.15 833.59A61 61 0 0 1 626 862.77L600.2 846.69A30.6 30.6 0 0 0 604.79 832.05Z" fill="#fb6a4a"/>
<path d="M626 862.77A61 61 0 0 1 603.83 883.84L589.08 857.26A30.6 30.6 0 0 0 600.2 846.69Z" fill="#fb6a4a"/>
<path d="M603.83 883.84A61 61 0 0 1 574.23 891.5L574.23 861.1A30.6 30.6 0 0 0 589.08 857.26Z" fill="#fc9272"/>
<path d="M574.23 891.5A61 61 0 0 1 544.63 883.84L559.38 857.26A30.6 30.6 0 0 0 574.23 861.1Z" fill="#fb6a4a"/>
<path d="M544.63 883.84A61 61 0 0 1 522.46 862.77L548.26 846.69A30.6 30.6 0 0 0 559.38 857.26Z" fill="#fc9272"/>
<path d="M522.46 862.77A61 61 0 0 1 513.31 833.59L543.67 832.05A30.6 30.6 0 0 0 548.26 846.69Z" fill="#fb6a4a"/>
<path d="M513.31 833.59A61 61 0 0 1 519.46 803.64L546.76 817.02A30.6 30.6 0 0 0 543.67 832.05Z" fill="#fb6a4a"/>
<path d="M519.46 803.64A61 61 0 0 1 539.38 780.43L556.75 805.38A30.6 30.6 0 0 0 546.76 817.02Z" fill="#fc9272"/>
<path d="M539.38 780.43A61 61 0 0 1 568.06 769.81L571.13 800.06A30.6 30.6 0 0 0 556.75 805.38Z" fill="#ef3b2c"/>
<circle cx="574.23" cy="830.5" r="30.6" fill="#fb6a4a" class="ic"/>
<text transform="translate(574.23 840.7) scale(1 1.05)" fill="#2b2b2b" font-size="28">1940</text>
<path d="M708.02 769.81A61 61 0 0 1 736.7 780.43L719.33 805.38A30.6 30.6 0 0 0 704.95 800.06Z" fill="#fc9272"/>
<path d="M736.7 780.43A61 61 0 0 1 756.62 803.64L729.32 817.02A30.6 30.6 0 0 0 719.33 805.38Z" fill="#fb6a4a"/>
<path d="M756.62 803.64A61 61 0 0 1 762.77 833.59L732.41 832.05A30.6 30.6 0 0 0 729.32 817.02Z" fill="#fc9272"/>
<path d="M762.77 833.59A61 61 0 0 1 753.62 862.77L727.82 846.69A30.6 30.6 0 0 0 732.41 832.05Z" fill="#fb6a4a"/>
<path d="M753.62 862.77A61 61 0 0 1 731.45 883.84L716.7 857.26A30.6 30.6 0 0 0 727.82 846.69Z" fill="#fb6a4a"/>
<path d="M731.45 883.84A61 61 0 0 1 701.85 891.5L701.85 861.1A30.6 30.6 0 0 0 716.7 857.26Z" fill="#fc9272"/>
<path d="M701.85 891.5A61 61 0 0 1 672.25 883.84L687 857.26A30.6 30.6 0 0 0 701.85 861.1Z" fill="#fb6a4a"/>
<path d="M672.25 883.84A61 61 0 0 1 650.08 862.77L675.88 846.69A30.6 30.6 0 0 0 687 857.26Z" fill="#fc9272"/>
<path d="M650.08 862.77A61 61 0 0 1 640.93 833.59L671.29 832.05A30.6 30.6 0 0 0 675.88 846.69Z" fill="#fcbba1"/>
<path d="M640.93 833.59A61 61 0 0 1 647.08 803.64L674.38 817.02A30.6 30.6 0 0 0 671.29 832.05Z" fill="#fb6a4a"/>
<path d="M647.08 803.64A61 61 0 0 1 667 780.43L684.37 805.38A30.6 30.6 0 0 0 674.38 817.02Z" fill="#fc9272"/>
<path d="M667 780.43A61 61 0 0 1 695.68 769.81L698.75 800.06A30.6 30.6 0 0 0 684.37 805.38Z" fill="#fb6a4a"/>
<circle cx="701.85" cy="830.5" r="30.6" fill="#fc9272" class="ic"/>
<text transform="translate(701.85 840.7) scale(1 1.05)" fill="#2b2b2b" font-size="28">1941</text>
<path d="M835.64 769.81A61 61 0 0 1 864.32 780.43L846.95 805.38A30.6 30.6 0 0 0 832.57 800.06Z" fill="#ef3b2c"/>
<path d="M864.32 780.43A61 61 0 0 1 884.24 803.64L856.94 817.02A30.6 30.6 0 0 0 846.95 805.38Z" fill="#fb6a4a"/>
<path d="M884.24 803.64A61 61 0 0 1 890.39 833.59L860.03 832.05A30.6 30.6 0 0 0 856.94 817.02Z" fill="#fc9272"/>
<path d="M890.39 833.59A61 61 0 0 1 881.24 862.77L855.44 846.69A30.6 30.6 0 0 0 860.03 832.05Z" fill="#fc9272"/>
<path d="M881.24 862.77A61 61 0 0 1 859.07 883.84L844.32 857.26A30.6 30.6 0 0 0 855.44 846.69Z" fill="#fb6a4a"/>
<path d="M859.07 883.84A61 61 0 0 1 829.47 891.5L829.47 861.1A30.6 30.6 0 0 0 844.32 857.26Z" fill="#fc9272"/>
<path d="M829.47 891.5A61 61 0 0 1 799.87 883.84L814.62 857.26A30.6 30.6 0 0 0 829.47 861.1Z" fill="#fcbba1"/>
<path d="M799.87 883.84A61 61 0 0 1 777.7 862.77L803.5 846.69A30.6 30.6 0 0 0 814.62 857.26Z" fill="#fcbba1"/>
<path d="M777.7 862.77A61 61 0 0 1 768.55 833.59L798.91 832.05A30.6 30.6 0 0 0 803.5 846.69Z" fill="#fc9272"/>
<path d="M768.55 833.59A61 61 0 0 1 774.7 803.64L802 817.02A30.6 30.6 0 0 0 798.91 832.05Z" fill="#fc9272"/>
<path d="M774.7 803.64A61 61 0 0 1 794.62 780.43L811.99 805.38A30.6 30.6 0 0 0 802 817.02Z" fill="#fc9272"/>
<path d="M794.62 780.43A61 61 0 0 1 823.3 769.81L826.37 800.06A30.6 30.6 0 0 0 811.99 805.38Z" fill="#fc9272"/>
<circle cx="829.47" cy="830.5" r="30.6" fill="#fc9272" class="ic"/>
<text transform="translate(829.47 840.7) scale(1 1.05)" fill="#2b2b2b" font-size="28">1942</text>
<path d="M963.26 769.81A61 61 0 0 1 991.94 780.43L974.57 805.38A30.6 30.6 0 0 0 960.19 800.06Z" fill="#fc9272"/>
<path d="M991.94 780.43A61 61 0 0 1 1011.86 803.64L984.56 817.02A30.6 30.6 0 0 0 974.57 805.38Z" fill="#fc9272"/>
<path d="M1011.86 803.64A61 61 0 0 1 1018.01 833.59L987.65 832.05A30.6 30.6 0 0 0 984.56 817.02Z" fill="#fc9272"/>
<path d="M1018.01 833.59A61 61 0 0 1 1008.86 862.77L983.06 846.69A30.6 30.6 0 0 0 987.65 832.05Z" fill="#fb6a4a"/>
<path d="M1008.86 862.77A61 61 0 0 1 986.69 883.84L971.94 857.26A30.6 30.6 0 0 0 983.06 846.69Z" fill="#fb6a4a"/>
<path d="M986.69 883.84A61 61 0 0 1 957.09 891.5L957.09 861.1A30.6 30.6 0 0 0 971.94 857.26Z" fill="#fc9272"/>
<path d="M957.09 891.5A61 61 0 0 1 927.49 883.84L942.24 857.26A30.6 30.6 0 0 0 957.09 861.1Z" fill="#fc9272"/>
<path d="M927.49 883.84A61 61 0 0 1 905.32 862.77L931.12 846.69A30.6 30.6 0 0 0 942.24 857.26Z" fill="#fc9272"/>
<path d="M905.32 862.77A61 61 0 0 1 896.17 833.59L926.53 832.05A30.6 30.6 0 0 0 931.12 846.69Z" fill="#fc9272"/>
<path d="M896.17 833.59A61 61 0 0 1 902.32 803.64L929.62 817.02A30.6 30.6 0 0 0 926.53 832.05Z" fill="#fb6a4a"/>
<path d="M902.32 803.64A61 61 0 0 1 922.24 780.43L939.61 805.38A30.6 30.6 0 0 0 929.62 817.02Z" fill="#fb6a4a"/>
<path d="M922.24 780.43A61 61 0 0 1 950.92 769.81L953.99 800.06A30.6 30.6 0 0 0 939.61 805.38Z" fill="#fb6a4a"/>
<circle cx="957.09" cy="830.5" r="30.6" fill="#fc9272" class="ic"/>
<text transform="translate(957.09 840.7) scale(1 1.05)" fill="#2b2b2b" font-size="28">1943</text>
<path d="M1090.88 769.81A61 61 0 0 1 1119.56 780.43L1102.19 805.38A30.6 30.6 0 0 0 1087.81 800.06Z" fill="#ef3b2c"/>
<path d="M1119.56 780.43A61 61 0 0 1 1139.48 803.64L1112.18 817.02A30.6 30.6 0 0 0 1102.19 805.38Z" fill="#fb6a4a"/>
<path d="M1139.48 803.64A61 61 0 0 1 1145.63 833.59L1115.27 832.05A30.6 30.6 0 0 0 1112.18 817.02Z" fill="#fb6a4a"/>
<path d="M1145.63 833.59A61 61 0 0 1 1136.48 862.77L1110.68 846.69A30.6 30.6 0 0 0 1115.27 832.05Z" fill="#fb6a4a"/>
<path d="M1136.48 862.77A61 61 0 0 1 1114.31 883.84L1099.56 857.26A30.6 30.6 0 0 0 1110.68 846.69Z" fill="#fb6a4a"/>
<path d="M1114.31 883.84A61 61 0 0 1 1084.71 891.5L1084.71 861.1A30.6 30.6 0 0 0 1099.56 857.26Z" fill="#fb6a4a"/>
<path d="M1084.71 891.5A61 61 0 0 1 1055.11 883.84L1069.86 857.26A30.6 30.6 0 0 0 1084.71 861.1Z" fill="#fb6a4a"/>
<path d="M1055.11 883.84A61 61 0 0 1 1032.94 862.77L1058.74 846.69A30.6 30.6 0 0 0 1069.86 857.26Z" fill="#fb6a4a"/>
<path d="M1032.94 862.77A61 61 0 0 1 1023.79 833.59L1054.15 832.05A30.6 30.6 0 0 0 1058.74 846.69Z" fill="#fb6a4a"/>
<path d="M1023.79 833.59A61 61 0 0 1 1029.94 803.64L1057.24 817.02A30.6 30.6 0 0 0 1054.15 832.05Z" fill="#fb6a4a"/>
<path d="M1029.94 803.64A61 61 0 0 1 1049.86 780.43L1067.23 805.38A30.6 30.6 0 0 0 1057.24 817.02Z" fill="#fb6a4a"/>
<path d="M1049.86 780.43A61 61 0 0 1 1078.54 769.81L1081.61 800.06A30.6 30.6 0 0 0 1067.23 805.38Z" fill="#fb6a4a"/>
<circle cx="1084.71" cy="830.5" r="30.6" fill="#fb6a4a" class="ic"/>
<text transform="translate(1084.71 840.7) scale(1 1.05)" fill="#2b2b2b" font-size="28">1944</text>
<path d="M1218.5 769.81A61 61 0 0 1 1247.18 780.43L1229.81 805.38A30.6 30.6 0 0 0 1215.43 800.06Z" fill="#fb6a4a"/>
<path d="M1247.18 780.43A61 61 0 0 1 1267.1 803.64L1239.8 817.02A30.6 30.6 0 0 0 1229.81 805.38Z" fill="#fb6a4a"/>
<path d="M1267.1 803.64A61 61 0 0 1 1273.25 833.59L1242.89 832.05A30.6 30.6 0 0 0 1239.8 817.02Z" fill="#fb6a4a"/>
<path d="M1273.25 833.59A61 61 0 0 1 1264.1 862.77L1238.3 846.69A30.6 30.6 0 0 0 1242.89 832.05Z" fill="#ef3b2c"/>
<path d="M1264.1 862.77A61 61 0 0 1 1241.93 883.84L1227.18 857.26A30.6 30.6 0 0 0 1238.3 846.69Z" fill="#fc9272"/>
<path d="M1241.93 883.84A61 61 0 0 1 1212.33 891.5L1212.33 861.1A30.6 30.6 0 0 0 1227.18 857.26Z" fill="#fc9272"/>
<path d="M1212.33 891.5A61 61 0 0 1 1182.73 883.84L1197.48 857.26A30.6 30.6 0 0 0 1212.33 861.1Z" fill="#fc9272"/>
<path d="M1182.73 883.84A61 61 0 0 1 1160.56 862.77L1186.36 846.69A30.6 30.6 0 0 0 1197.48 857.26Z" fill="#fb6a4a"/>
<path d="M1160.56 862.77A61 61 0 0 1 1151.41 833.59L1181.77 832.05A30.6 30.6 0 0 0 1186.36 846.69Z" fill="#fc9272"/>
<path d="M1151.41 833.59A61 61 0 0 1 1157.56 803.64L1184.86 817.02A30.6 30.6 0 0 0 1181.77 832.05Z" fill="#fb6a4a"/>
<path d="M1157.56 803.64A61 61 0 0 1 1177.48 780.43L1194.85 805.38A30.6 30.6 0 0 0 1184.86 817.02Z" fill="#fc9272"/>
<path d="M1177.48 780.43A61 61 0 0 1 1206.16 769.81L1209.23 800.06A30.6 30.6 0 0 0 1194.85 805.38Z" fill="#fc9272"/>
<circle cx="1212.33" cy="830.5" r="30.6" fill="#fc9272" class="ic"/>
<text transform="translate(1212.33 840.7) scale(1 1.05)" fill="#2b2b2b" font-size="28">1945</text>
<path d="M1346.12 769.81A61 61 0 0 1 1374.8 780.43L1357.43 805.38A30.6 30.6 0 0 0 1343.05 800.06Z" fill="#fb6a4a"/>
<path d="M1374.8 780.43A61 61 0 0 1 1394.72 803.64L1367.42 817.02A30.6 30.6 0 0 0 1357.43 805.38Z" fill="#fc9272"/>
<path d="M1394.72 803.64A61 61 0 0 1 1400.87 833.59L1370.51 832.05A30.6 30.6 0 0 0 1367.42 817.02Z" fill="#fc9272"/>
<path d="M1400.87 833.59A61 61 0 0 1 1391.72 862.77L1365.92 846.69A30.6 30.6 0 0 0 1370.51 832.05Z" fill="#fc9272"/>
<path d="M1391.72 862.77A61 61 0 0 1 1369.55 883.84L1354.8 857.26A30.6 30.6 0 0 0 1365.92 846.69Z" fill="#fc9272"/>
<path d="M1369.55 883.84A61 61 0 0 1 1339.95 891.5L1339.95 861.1A30.6 30.6 0 0 0 1354.8 857.26Z" fill="#fee0d2"/>
<path d="M1339.95 891.5A61 61 0 0 1 1310.35 883.84L1325.1 857.26A30.6 30.6 0 0 0 1339.95 861.1Z" fill="#fcbba1"/>
<path d="M1310.35 883.84A61 61 0 0 1 1288.18 862.77L1313.98 846.69A30.6 30.6 0 0 0 1325.1 857.26Z" fill="#fee0d2"/>
<path d="M1288.18 862.77A61 61 0 0 1 1279.03 833.59L1309.39 832.05A30.6 30.6 0 0 0 1313.98 846.69Z" fill="#fcbba1"/>
<path d="M1279.03 833.59A61 61 0 0 1 1285.18 803.64L1312.48 817.02A30.6 30.6 0 0 0 1309.39 832.05Z" fill="#fc9272"/>
<path d="M1285.18 803.64A61 61 0 0 1 1305.1 780.43L1322.47 805.38A30.6 30.6 0 0 0 1312.48 817.02Z" fill="#fc9272"/>
<path d="M1305.1 780.43A61 61 0 0 1 1333.78 769.81L1336.85 800.06A30.6 30.6 0 0 0 1322.47 805.38Z" fill="#fee0d2"/>
<circle cx="1339.95" cy="830.5" r="30.6" fill="#fc9272" class="ic"/>
<text transform="translate(1339.95 840.7) scale(1 1.05)" fill="#2b2b2b" font-size="28">1946</text>
<path d="M1473.74 769.81A61 61 0 0 1 1502.42 780.43L1485.05 805.38A30.6 30.6 0 0 0 1470.67 800.06Z" fill="#fc9272"/>
<path d="M1502.42 780.43A61 61 0 0 1 1522.34 803.64L1495.04 817.02A30.6 30.6 0 0 0 1485.05 805.38Z" fill="#fc9272"/>
<path d="M1522.34 803.64A61 61 0 0 1 1528.49 833.59L1498.13 832.05A30.6 30.6 0 0 0 1495.04 817.02Z" fill="#fc9272"/>
<path d="M1528.49 833.59A61 61 0 0 1 1519.34 862.77L1493.54 846.69A30.6 30.6 0 0 0 1498.13 832.05Z" fill="#fc9272"/>
<path d="M1519.34 862.77A61 61 0 0 1 1497.17 883.84L1482.42 857.26A30.6 30.6 0 0 0 1493.54 846.69Z" fill="#fc9272"/>
<path d="M1497.17 883.84A61 61 0 0 1 1467.57 891.5L1467.57 861.1A30.6 30.6 0 0 0 1482.42 857.26Z" fill="#fc9272"/>
<path d="M1467.57 891.5A61 61 0 0 1 1437.97 883.84L1452.72 857.26A30.6 30.6 0 0 0 1467.57 861.1Z" fill="#fcbba1"/>
<path d="M1437.97 883.84A61 61 0 0 1 1415.8 862.77L1441.6 846.69A30.6 30.6 0 0 0 1452.72 857.26Z" fill="#fc9272"/>
<path d="M1415.8 862.77A61 61 0 0 1 1406.65 833.59L1437.01 832.05A30.6 30.6 0 0 0 1441.6 846.69Z" fill="#fcbba1"/>
<path d="M1406.65 833.59A61 61 0 0 1 1412.8 803.64L1440.1 817.02A30.6 30.6 0 0 0 1437.01 832.05Z" fill="#fc9272"/>
<path d="M1412.8 803.64A61 61 0 0 1 1432.72 780.43L1450.09 805.38A30.6 30.6 0 0 0 1440.1 817.02Z" fill="#fb6a4a"/>
<path d="M1432.72 780.43A61 61 0 0 1 1461.4 769.81L1464.47 800.06A30.6 30.6 0 0 0 1450.09 805.38Z" fill="#fcbba1"/>
<circle cx="1467.57" cy="830.5" r="30.6" fill="#fc9272" class="ic"/>
<text transform="translate(1467.57 840.7) scale(1 1.05)" fill="#2b2b2b" font-size="28">1947</text>
<path d="M1601.36 769.81A61 61 0 0 1 1630.04 780.43L1612.67 805.38A30.6 30.6 0 0 0 1598.29 800.06Z" fill="#fb6a4a"/>
<path d="M1630.04 780.43A61 61 0 0 1 1649.96 803.64L1622.66 817.02A30.6 30.6 0 0 0 1612.67 805.38Z" fill="#fcbba1"/>
<path d="M1649.96 803.64A61 61 0 0 1 1656.11 833.59L1625.75 832.05A30.6 30.6 0 0 0 1622.66 817.02Z" fill="#fcbba1"/>
<path d="M1656.11 833.59A61 61 0 0 1 1646.96 862.77L1621.16 846.69A30.6 30.6 0 0 0 1625.75 832.05Z" fill="#fc9272"/>
<path d="M1646.96 862.77A61 61 0 0 1 1624.79 883.84L1610.04 857.26A30.6 30.6 0 0 0 1621.16 846.69Z" fill="#fb6a4a"/>
<path d="M1624.79 883.84A61 61 0 0 1 1595.19 891.5L1595.19 861.1A30.6 30.6 0 0 0 1610.04 857.26Z" fill="#fc9272"/>
<path d="M1595.19 891.5A61 61 0 0 1 1565.59 883.84L1580.34 857.26A30.6 30.6 0 0 0 1595.19 861.1Z" fill="#fcbba1"/>
<path d="M1565.59 883.84A61 61 0 0 1 1543.42 862.77L1569.22 846.69A30.6 30.6 0 0 0 1580.34 857.26Z" fill="#fc9272"/>
<path d="M1543.42 862.77A61 61 0 0 1 1534.27 833.59L1564.63 832.05A30.6 30.6 0 0 0 1569.22 846.69Z" fill="#fcbba1"/>
<path d="M1534.27 833.59A61 61 0 0 1 1540.42 803.64L1567.72 817.02A30.6 30.6 0 0 0 1564.63 832.05Z" fill="#fc9272"/>
<path d="M1540.42 803.64A61 61 0 0 1 1560.34 780.43L1577.71 805.38A30.6 30.6 0 0 0 1567.72 817.02Z" fill="#fc9272"/>
<path d="M1560.34 780.43A61 61 0 0 1 1589.02 769.81L1592.09 800.06A30.6 30.6 0 0 0 1577.71 805.38Z" fill="#fee0d2"/>
<circle cx="1595.19" cy="830.5" r="30.6" fill="#fc9272" class="ic"/>
<text transform="translate(1595.19 840.7) scale(1 1.05)" fill="#2b2b2b" font-size="28">1948</text>
<path d="M1728.98 769.81A61 61 0 0 1 1757.66 780.43L1740.29 805.38A30.6 30.6 0 0 0 1725.91 800.06Z" fill="#fb6a4a"/>
<path d="M1757.66 780.43A61 61 0 0 1 1777.58 803.64L1750.28 817.02A30.6 30.6 0 0 0 1740.29 805.38Z" fill="#fcbba1"/>
<path d="M1777.58 803.64A61 61 0 0 1 1783.73 833.59L1753.37 832.05A30.6 30.6 0 0 0 1750.28 817.02Z" fill="#fc9272"/>
<path d="M1783.73 833.59A61 61 0 0 1 1774.58 862.77L1748.78 846.69A30.6 30.6 0 0 0 1753.37 832.05Z" fill="#fc9272"/>
<path d="M1774.58 862.77A61 61 0 0 1 1752.41 883.84L1737.66 857.26A30.6 30.6 0 0 0 1748.78 846.69Z" fill="#fc9272"/>
<path d="M1752.41 883.84A61 61 0 0 1 1722.81 891.5L1722.81 861.1A30.6 30.6 0 0 0 1737.66 857.26Z" fill="#fee0d2"/>
<path d="M1722.81 891.5A61 61 0 0 1 1693.21 883.84L1707.96 857.26A30.6 30.6 0 0 0 1722.81 861.1Z" fill="#fee0d2"/>
<path d="M1693.21 883.84A61 61 0 0 1 1671.04 862.77L1696.84 846.69A30.6 30.6 0 0 0 1707.96 857.26Z" fill="#fcbba1"/>
<path d="M1671.04 862.77A61 61 0 0 1 1661.89 833.59L1692.25 832.05A30.6 30.6 0 0 0 1696.84 846.69Z" fill="#fcbba1"/>
<path d="M1661.89 833.59A61 61 0 0 1 1668.04 803.64L1695.34 817.02A30.6 30.6 0 0 0 1692.25 832.05Z" fill="#fc9272"/>
<path d="M1668.04 803.64A61 61 0 0 1 1687.96 780.43L1705.33 805.38A30.6 30.6 0 0 0 1695.34 817.02Z" fill="#fc9272"/>
<path d="M1687.96 780.43A61 61 0 0 1 1716.64 769.81L1719.71 800.06A30.6 30.6 0 0 0 1705.33 805.38Z" fill="#fc9272"/>
<circle cx="1722.81" cy="830.5" r="30.6" fill="#fc9272" class="ic"/>
<text transform="translate(1722.81 840.7) scale(1 1.05)" fill="#2b2b2b" font-size="28">1949</text>
<path d="M1856.6 769.81A61 61 0 0 1 1885.28 780.43L1867.91 805.38A30.6 30.6 0 0 0 1853.53 800.06Z" fill="#fcbba1"/>
<path d="M1885.28 780.43A61 61 0 0 1 1905.2 803.64L1877.9 817.02A30.6 30.6 0 0 0 1867.91 805.38Z" fill="#fee0d2"/>
<path d="M1905.2 803.64A61 61 0 0 1 1911.35 833.59L1880.99 832.05A30.6 30.6 0 0 0 1877.9 817.02Z" fill="#fc9272"/>
<path d="M1911.35 833.59A61 61 0 0 1 1902.2 862.77L1876.4 846.69A30.6 30.6 0 0 0 1880.99 832.05Z" fill="#fcbba1"/>
<path d="M1902.2 862.77A61 61 0 0 1 1880.03 883.84L1865.28 857.26A30.6 30.6 0 0 0 1876.4 846.69Z" fill="#fc9272"/>
<path d="M1880.03 883.84A61 61 0 0 1 1850.43 891.5L1850.43 861.1A30.6 30.6 0 0 0 1865.28 857.26Z" fill="#fc9272"/>
<path d="M1850.43 891.5A61 61 0 0 1 1820.83 883.84L1835.58 857.26A30.6 30.6 0 0 0 1850.43 861.1Z" fill="#fcbba1"/>
<path d="M1820.83 883.84A61 61 0 0 1 1798.66 862.77L1824.46 846.69A30.6 30.6 0 0 0 1835.58 857.26Z" fill="#fcbba1"/>
<path d="M1798.66 862.77A61 61 0 0 1 1789.51 833.59L1819.87 832.05A30.6 30.6 0 0 0 1824.46 846.69Z" fill="#fee0d2"/>
<path d="M1789.51 833.59A61 61 0 0 1 1795.66 803.64L1822.96 817.02A30.6 30.6 0 0 0 1819.87 832.05Z" fill="#fcbba1"/>
<path d="M1795.66 803.64A61 61 0 0 1 1815.58 780.43L1832.95 805.38A30.6 30.6 0 0 0 1822.96 817.02Z" fill="#fee0d2"/>
<path d="M1815.58 780.43A61 61 0 0 1 1844.26 769.81L1847.33 800.06A30.6 30.6 0 0 0 1832.95 805.38Z" fill="#fcbba1"/>
<circle cx="1850.43" cy="830.5" r="30.6" fill="#fcbba1" class="ic"/>
<text transform="translate(1850.43 840.7) scale(1 1.05)" fill="#2b2b2b" font-size="28">1950</text>
<path d="M1984.22 769.81A61 61 0 0 1 2012.9 780.43L1995.53 805.38A30.6 30.6 0 0 0 1981.15 800.06Z" fill="#fee0d2"/>
<path d="M2012.9 780.43A61 61 0 0 1 2032.82 803.64L2005.52 817.02A30.6 30.6 0 0 0 1995.53 805.38Z" fill="#deebf7"/>
<path d="M2032.82 803.64A61 61 0 0 1 2038.97 833.59L2008.61 832.05A30.6 30.6 0 0 0 2005.52 817.02Z" fill="#fcbba1"/>
<path d="M2038.97 833.59A61 61 0 0 1 2029.82 862.77L2004.02 846.69A30.6 30.6 0 0 0 2008.61 832.05Z" fill="#fc9272"/>
<path d="M2029.82 862.77A61 61 0 0 1 2007.65 883.84L1992.9 857.26A30.6 30.6 0 0 0 2004.02 846.69Z" fill="#fb6a4a"/>
<path d="M2007.65 883.84A61 61 0 0 1 1978.05 891.5L1978.05 861.1A30.6 30.6 0 0 0 1992.9 857.26Z" fill="#fc9272"/>
<path d="M1978.05 891.5A61 61 0 0 1 1948.45 883.84L1963.2 857.26A30.6 30.6 0 0 0 1978.05 861.1Z" fill="#fc9272"/>
<path d="M1948.45 883.84A61 61 0 0 1 1926.28 862.77L1952.08 846.69A30.6 30.6 0 0 0 1963.2 857.26Z" fill="#fc9272"/>
<path d="M1926.28 862.77A61 61 0 0 1 1917.13 833.59L1947.49 832.05A30.6 30.6 0 0 0 1952.08 846.69Z" fill="#fb6a4a"/>
<path d="M1917.13 833.59A61 61 0 0 1 1923.28 803.64L1950.58 817.02A30.6 30.6 0 0 0 1947.49 832.05Z" fill="#fb6a4a"/>
<path d="M1923.28 803.64A61 61 0 0 1 1943.2 780.43L1960.57 805.38A30.6 30.6 0 0 0 1950.58 817.02Z" fill="#fc9272"/>
<path d="M1943.2 780.43A61 61 0 0 1 1971.88 769.81L1974.95 800.06A30.6 30.6 0 0 0 1960.57 805.38Z" fill="#fb6a4a"/>
<circle cx="1978.05" cy="830.5" r="30.6" fill="#fc9272" class="ic"/>
<text transform="translate(1978.05 840.7) scale(1 1.05)" fill="#2b2b2b" font-size="28">1951</text>
<path d="M2111.84 769.81A61 61 0 0 1 2140.52 780.43L2123.15 805.38A30.6 30.6 0 0 0 2108.77 800.06Z" fill="#fb6a4a"/>
<path d="M2140.52 780.43A61 61 0 0 1 2160.44 803.64L2133.14 817.02A30.6 30.6 0 0 0 2123.15 805.38Z" fill="#fb6a4a"/>
<path d="M2160.44 803.64A61 61 0 0 1 2166.59 833.59L2136.23 832.05A30.6 30.6 0 0 0 2133.14 817.02Z" fill="#fc9272"/>
<path d="M2166.59 833.59A61 61 0 0 1 2157.44 862.77L2131.64 846.69A30.6 30.6 0 0 0 2136.23 832.05Z" fill="#fb6a4a"/>
<path d="M2157.44 862.77A61 61 0 0 1 2135.27 883.84L2120.52 857.26A30.6 30.6 0 0 0 2131.64 846.69Z" fill="#fc9272"/>
<path d="M2135.27 883.84A61 61 0 0 1 2105.67 891.5L2105.67 861.1A30.6 30.6 0 0 0 2120.52 857.26Z" fill="#fc9272"/>
<path d="M2105.67 891.5A61 61 0 0 1 2076.07 883.84L2090.82 857.26A30.6 30.6 0 0 0 2105.67 861.1Z" fill="#fc9272"/>
<path d="M2076.07 883.84A61 61 0 0 1 2053.9 862.77L2079.7 846.69A30.6 30.6 0 0 0 2090.82 857.26Z" fill="#fc9272"/>
<path d="M2053.9 862.77A61 61 0 0 1 2044.75 833.59L2075.11 832.05A30.6 30.6 0 0 0 2079.7 846.69Z" fill="#fc9272"/>
<path d="M2044.75 833.59A61 61 0 0 1 2050.9 803.64L2078.2 817.02A30.6 30.6 0 0 0 2075.11 832.05Z" fill="#fc9272"/>
<path d="M2050.9 803.64A61 61 0 0 1 2070.82 780.43L2088.19 805.38A30.6 30.6 0 0 0 2078.2 817.02Z" fill="#fc9272"/>
<path d="M2070.82 780.43A61 61 0 0 1 2099.5 769.81L2102.57 800.06A30.6 30.6 0 0 0 2088.19 805.38Z" fill="#fc9272"/>
<circle cx="2105.67" cy="830.5" r="30.6" fill="#fc9272" class="ic"/>
<text transform="translate(2105.67 840.7) scale(1 1.05)" fill="#2b2b2b" font-size="28">1952</text>
<path d="M69.92 897.41A61 61 0 0 1 98.6 908.03L81.23 932.98A30.6 30.6 0 0 0 66.85 927.66Z" fill="#fb6a4a"/>
<path d="M98.6 908.03A61 61 0 0 1 118.52 931.24L91.22 944.62A30.6 30.6 0 0 0 81.23 932.98Z" fill="#fb6a4a"/>
<path d="M118.52 931.24A61 61 0 0 1 124.67 961.19L94.31 959.65A30.6 30.6 0 0 0 91.22 944.62Z" fill="#fb6a4a"/>
<path d="M124.67 961.19A61 61 0 0 1 115.52 990.37L89.72 974.29A30.6 30.6 0 0 0 94.31 959.65Z" fill="#ef3b2c"/>
<path d="M115.52 990.37A61 61 0 0 1 93.35 1011.44L78.6 984.86A30.6 30.6 0 0 0 89.72 974.29Z" fill="#fb6a4a"/>
<path d="M93.35 1011.44A61 61 0 0 1 63.75 1019.1L63.75 988.7A30.6 30.6 0 0 0 78.6 984.86Z" fill="#fb6a4a"/>
<path d="M63.75 1019.1A61 61 0 0 1 34.15 1011.44L48.9 984.86A30.6 30.6 0 0 0 63.75 988.7Z" fill="#fc9272"/>
<path d="M34.15 1011.44A61 61 0 0 1 11.98 990.37L37.78 974.29A30.6 30.6 0 0 0 48.9 984.86Z" fill="#fc9272"/>
<path d="M11.98 990.37A61 61 0 0 1 2.83 961.19L33.19 959.65A30.6 30.6 0 0 0 37.78 974.29Z" fill="#fc9272"/>
<path d="M2.83 961.19A61 61 0 0 1 8.98 931.24L36.28 944.62A30.6 30.6 0 0 0 33.19 959.65Z" fill="#fc9272"/>
<path d="M8.98 931.24A61 61 0 0 1 28.9 908.03L46.27 932.98A30.6 30.6 0 0 0 36.28 944.62Z" fill="#fc9272"/>
<path d="M28.9 908.03A61 61 0 0 1 57.58 897.41L60.65 927.66A30.6 30.6 0 0 0 46.27 932.98Z" fill="#fb6a4a"/>
<circle cx="63.75" cy="958.1" r="30.6" fill="#fb6a4a" class="ic"/>
<text transform="translate(63.75 968.3) scale(1 1.05)" fill="#2b2b2b" font-size="28">1953</text>
<path d="M197.54 897.41A61 61 0 0 1 226.22 908.03L208.85 932.98A30.6 30.6 0 0 0 194.47 927.66Z" fill="#fcbba1"/>
<path d="M226.22 908.03A61 61 0 0 1 246.14 931.24L218.84 944.62A30.6 30.6 0 0 0 208.85 932.98Z" fill="#fc9272"/>
<path d="M246.14 931.24A61 61 0 0 1 252.29 961.19L221.93 959.65A30.6 30.6 0 0 0 218.84 944.62Z" fill="#fc9272"/>
<path d="M252.29 961.19A61 61 0 0 1 243.14 990.37L217.34 974.29A30.6 30.6 0 0 0 221.93 959.65Z" fill="#fc9272"/>
<path d="M243.14 990.37A61 61 0 0 1 220.97 1011.44L206.22 984.86A30.6 30.6 0 0 0 217.34 974.29Z" fill="#fc9272"/>
<path d="M220.97 1011.44A61 61 0 0 1 191.37 1019.1L191.37 988.7A30.6 30.6 0 0 0 206.22 984.86Z" fill="#fcbba1"/>
<path d="M191.37 1019.1A61 61 0 0 1 161.77 1011.44L176.52 984.86A30.6 30.6 0 0 0 191.37 988.7Z" fill="#fee0d2"/>
<path d="M161.77 1011.44A61 61 0 0 1 139.6 990.37L165.4 974.29A30.6 30.6 0 0 0 176.52 984.86Z" fill="#fcbba1"/>
<path d="M139.6 990.37A61 61 0 0 1 130.45 961.19L160.81 959.65A30.6 30.6 0 0 0 165.4 974.29Z" fill="#fcbba1"/>
<path d="M130.45 961.19A61 61 0 0 1 136.6 931.24L163.9 944.62A30.6 30.6 0 0 0 160.81 959.65Z" fill="#fc9272"/>
<path d="M136.6 931.24A61 61 0 0 1 156.52 908.03L173.89 932.98A30.6 30.6 0 0 0 163.9 944.62Z" fill="#fb6a4a"/>
<path d="M156.52 908.03A61 61 0 0 1 185.2 897.41L188.27 927.66A30.6 30.6 0 0 0 173.89 932.98Z" fill="#fc9272"/>
<circle cx="191.37" cy="958.1" r="30.6" fill="#fc9272" class="ic"/>
<text transform="translate(191.37 968.3) scale(1 1.05)" fill="#2b2b2b" font-size="28">1954</text>
<path d="M325.16 897.41A61 61 0 0 1 353.84 908.03L336.47 932.98A30.6 30.6 0 0 0 322.09 927.66Z" fill="#fb6a4a"/>
<path d="M353.84 908.03A61 61 0 0 1 373.76 931.24L346.46 944.62A30.6 30.6 0 0 0 336.47 932.98Z" fill="#fc9272"/>
<path d="M373.76 931.24A61 61 0 0 1 379.91 961.19L349.55 959.65A30.6 30.6 0 0 0 346.46 944.62Z" fill="#fee0d2"/>
<path d="M379.91 961.19A61 61 0 0 1 370.76 990.37L344.96 974.29A30.6 30.6 0 0 0 349.55 959.65Z" fill="#fcbba1"/>
<path d="M370.76 990.37A61 61 0 0 1 348.59 1011.44L333.84 984.86A30.6 30.6 0 0 0 344.96 974.29Z" fill="#fcbba1"/>
<path d="M348.59 1011.44A61 61 0 0 1 318.99 1019.1L318.99 988.7A30.6 30.6 0 0 0 333.84 984.86Z" fill="#fcbba1"/>
<path d="M318.99 1019.1A61 61 0 0 1 289.39 1011.44L304.14 984.86A30.6 30.6 0 0 0 318.99 988.7Z" fill="#fee0d2"/>
<path d="M289.39 1011.44A61 61 0 0 1 267.22 990.37L293.02 974.29A30.6 30.6 0 0 0 304.14 984.86Z" fill="#fcbba1"/>
<path d="M267.22 990.37A61 61 0 0 1 258.07 961.19L288.43 959.65A30.6 30.6 0 0 0 293.02 974.29Z" fill="#fcbba1"/>
<path d="M258.07 961.19A61 61 0 0 1 264.22 931.24L291.52 944.62A30.6 30.6 0 0 0 288.43 959.65Z" fill="#fc9272"/>
<path d="M264.22 931.24A61 61 0 0 1 284.14 908.03L301.51 932.98A30.6 30.6 0 0 0 291.52 944.62Z" fill="#fee0d2"/>
<path d="M284.14 908.03A61 61 0 0 1 312.82 897.41L315.89 927.66A30.6 30.6 0 0 0 301.51 932.98Z" fill="#fee0d2"/>
<circle cx="318.99" cy="958.1" r="30.6" fill="#fcbba1" class="ic"/>
<text transform="translate(318.99 968.3) scale(1 1.05)" fill="#2b2b2b" font-size="28">1955</text>
<path d="M452.78 897.41A61 61 0 0 1 481.46 908.03L464.09 932.98A30.6 30.6 0 0 0 449.71 927.66Z" fill="#fcbba1"/>
<path d="M481.46 908.03A61 61 0 0 1 501.38 931.24L474.08 944.62A30.6 30.6 0 0 0 464.09 932.98Z" fill="#fcbba1"/>
<path d="M501.38 931.24A61 61 0 0 1 507.53 961.19L477.17 959.65A30.6 30.6 0 0 0 474.08 944.62Z" fill="#fee0d2"/>
<path d="M507.53 961.19A61 61 0 0 1 498.38 990.37L472.58 974.29A30.6 30.6 0 0 0 477.17 959.65Z" fill="#fee0d2"/>
<path d="M498.38 990.37A61 61 0 0 1 476.21 1011.44L461.46 984.86A30.6 30.6 0 0 0 472.58 974.29Z" fill="#fee0d2"/>
<path d="M476.21 1011.44A61 61 0 0 1 446.61 1019.1L446.61 988.7A30.6 30.6 0 0 0 461.46 984.86Z" fill="#fee0d2"/>
<path d="M446.61 1019.1A61 61 0 0 1 417.01 1011.44L431.76 984.86A30.6 30.6 0 0 0 446.61 988.7Z" fill="#fee0d2"/>
<path d="M417.01 1011.44A61 61 0 0 1 394.84 990.37L420.64 974.29A30.6 30.6 0 0 0 431.76 984.86Z" fill="#deebf7"/>
<path d="M394.84 990.37A61 61 0 0 1 385.69 961.19L416.05 959.65A30.6 30.6 0 0 0 420.64 974.29Z" fill="#fee0d2"/>
<path d="M385.69 961.19A61 61 0 0 1 391.84 931.24L419.14 944.62A30.6 30.6 0 0 0 416.05 959.65Z" fill="#fee0d2"/>
<path d="M391.84 931.24A61 61 0 0 1 411.76 908.03L429.13 932.98A30.6 30.6 0 0 0 419.14 944.62Z" fill="#fcbba1"/>
<path d="M411.76 908.03A61 61 0 0 1 440.44 897.41L443.51 927.66A30.6 30.6 0 0 0 429.13 932.98Z" fill="#fc9272"/>
<circle cx="446.61" cy="958.1" r="30.6" fill="#fee0d2" class="ic"/>
<text transform="translate(446.61 968.3) scale(1 1.05)" fill="#2b2b2b" font-size="28">1956</text>
<path d="M580.4 897.41A61 61 0 0 1 609.08 908.03L591.71 932.98A30.6 30.6 0 0 0 577.33 927.66Z" fill="#fc9272"/>
<path d="M609.08 908.03A61 61 0 0 1 629 931.24L601.7 944.62A30.6 30.6 0 0 0 591.71 932.98Z" fill="#fc9272"/>
<path d="M629 931.24A61 61 0 0 1 635.15 961.19L604.79 959.65A30.6 30.6 0 0 0 601.7 944.62Z" fill="#fc9272"/>
<path d="M635.15 961.19A61 61 0 0 1 626 990.37L600.2 974.29A30.6 30.6 0 0 0 604.79 959.65Z" fill="#fc9272"/>
<path d="M626 990.37A61 61 0 0 1 603.83 1011.44L589.08 984.86A30.6 30.6 0 0 0 600.2 974.29Z" fill="#fb6a4a"/>
<path d="M603.83 1011.44A61 61 0 0 1 574.23 1019.1L574.23 988.7A30.6 30.6 0 0 0 589.08 984.86Z" fill="#fc9272"/>
<path d="M574.23 1019.1A61 61 0 0 1 544.63 1011.44L559.38 984.86A30.6 30.6 0 0 0 574.23 988.7Z" fill="#fcbba1"/>
<path d="M544.63 1011.44A61 61 0 0 1 522.46 990.37L548.26 974.29A30.6 30.6 0 0 0 559.38 984.86Z" fill="#fc9272"/>
<path d="M522.46 990.37A61 61 0 0 1 513.31 961.19L543.67 959.65A30.6 30.6 0 0 0 548.26 974.29Z" fill="#fc9272"/>
<path d="M513.31 961.19A61 61 0 0 1 519.46 931.24L546.76 944.62A30.6 30.6 0 0 0 543.67 959.65Z" fill="#fc9272"/>
<path d="M519.46 931.24A61 61 0 0 1 539.38 908.03L556.75 932.98A30.6 30.6 0 0 0 546.76 944.62Z" fill="#fc9272"/>
<path d="M539.38 908.03A61 61 0 0 1 568.06 897.41L571.13 927.66A30.6 30.6 0 0 0 556.75 932.98Z" fill="#fb6a4a"/>
<circle cx="574.23" cy="958.1" r="30.6" fill="#fc9272" class="ic"/>
<text transform="translate(574.23 968.3) scale(1 1.05)" fill="#2b2b2b" font-size="28">1957</text>
<path d="M708.02 897.41A61 61 0 0 1 736.7 908.03L719.33 932.98A30.6 30.6 0 0 0 704.95 927.66Z" fill="#ef3b2c"/>
<path d="M736.7 908.03A61 61 0 0 1 756.62 931.24L729.32 944.62A30.6 30.6 0 0 0 719.33 932.98Z" fill="#fb6a4a"/>
<path d="M756.62 931.24A61 61 0 0 1 762.77 961.19L732.41 959.65A30.6 30.6 0 0 0 729.32 944.62Z" fill="#fb6a4a"/>
<path d="M762.77 961.19A61 61 0 0 1 753.62 990.37L727.82 974.29A30.6 30.6 0 0 0 732.41 959.65Z" fill="#fc9272"/>
<path d="M753.62 990.37A61 61 0 0 1 731.45 1011.44L716.7 984.86A30.6 30.6 0 0 0 727.82 974.29Z" fill="#fc9272"/>
<path d="M731.45 1011.44A61 61 0 0 1 701.85 1019.1L701.85 988.7A30.6 30.6 0 0 0 716.7 984.86Z" fill="#fcbba1"/>
<path d="M701.85 1019.1A61 61 0 0 1 672.25 1011.44L687 984.86A30.6 30.6 0 0 0 701.85 988.7Z" fill="#fc9272"/>
<path d="M672.25 1011.44A61 61 0 0 1 650.08 990.37L675.88 974.29A30.6 30.6 0 0 0 687 984.86Z" fill="#fc9272"/>
<path d="M650.08 990.37A61 61 0 0 1 640.93 961.19L671.29 959.65A30.6 30.6 0 0 0 675.88 974.29Z" fill="#fcbba1"/>
<path d="M640.93 961.19A61 61 0 0 1 647.08 931.24L674.38 944.62A30.6 30.6 0 0 0 671.29 959.65Z" fill="#fcbba1"/>
<path d="M647.08 931.24A61 61 0 0 1 667 908.03L684.37 932.98A30.6 30.6 0 0 0 674.38 944.62Z" fill="#fc9272"/>
<path d="M667 908.03A61 61 0 0 1 695.68 897.41L698.75 927.66A30.6 30.6 0 0 0 684.37 932.98Z" fill="#fc9272"/>
<circle cx="701.85" cy="958.1" r="30.6" fill="#fc9272" class="ic"/>
<text transform="translate(701.85 968.3) scale(1 1.05)" fill="#2b2b2b" font-size="28">1958</text>
<path d="M835.64 897.41A61 61 0 0 1 864.32 908.03L846.95 932.98A30.6 30.6 0 0 0 832.57 927.66Z" fill="#fb6a4a"/>
<path d="M864.32 908.03A61 61 0 0 1 884.24 931.24L856.94 944.62A30.6 30.6 0 0 0 846.95 932.98Z" fill="#fb6a4a"/>
<path d="M884.24 931.24A61 61 0 0 1 890.39 961.19L860.03 959.65A30.6 30.6 0 0 0 856.94 944.62Z" fill="#fb6a4a"/>
<path d="M890.39 961.19A61 61 0 0 1 881.24 990.37L855.44 974.29A30.6 30.6 0 0 0 860.03 959.65Z" fill="#fb6a4a"/>
<path d="M881.24 990.37A61 61 0 0 1 859.07 1011.44L844.32 984.86A30.6 30.6 0 0 0 855.44 974.29Z" fill="#fc9272"/>
<path d="M859.07 1011.44A61 61 0 0 1 829.47 1019.1L829.47 988.7A30.6 30.6 0 0 0 844.32 984.86Z" fill="#fc9272"/>
<path d="M829.47 1019.1A61 61 0 0 1 799.87 1011.44L814.62 984.86A30.6 30.6 0 0 0 829.47 988.7Z" fill="#fc9272"/>
<path d="M799.87 1011.44A61 61 0 0 1 777.7 990.37L803.5 974.29A30.6 30.6 0 0 0 814.62 984.86Z" fill="#fc9272"/>
<path d="M777.7 990.37A61 61 0 0 1 768.55 961.19L798.91 959.65A30.6 30.6 0 0 0 803.5 974.29Z" fill="#fcbba1"/>
<path d="M768.55 961.19A61 61 0 0 1 774.7 931.24L802 944.62A30.6 30.6 0 0 0 798.91 959.65Z" fill="#fc9272"/>
<path d="M774.7 931.24A61 61 0 0 1 794.62 908.03L811.99 932.98A30.6 30.6 0 0 0 802 944.62Z" fill="#fc9272"/>
<path d="M794.62 908.03A61 61 0 0 1 823.3 897.41L826.37 927.66A30.6 30.6 0 0 0 811.99 932.98Z" fill="#fc9272"/>
<circle cx="829.47" cy="958.1" r="30.6" fill="#fc9272" class="ic"/>
<text transform="translate(829.47 968.3) scale(1 1.05)" fill="#2b2b2b" font-size="28">1959</text>
<path d="M963.26 897.41A61 61 0 0 1 991.94 908.03L974.57 932.98A30.6 30.6 0 0 0 960.19 927.66Z" fill="#fc9272"/>
<path d="M991.94 908.03A61 61 0 0 1 1011.86 931.24L984.56 944.62A30.6 30.6 0 0 0 974.57 932.98Z" fill="#fb6a4a"/>
<path d="M1011.86 931.24A61 61 0 0 1 1018.01 961.19L987.65 959.65A30.6 30.6 0 0 0 984.56 944.62Z" fill="#deebf7"/>
<path d="M1018.01 961.19A61 61 0 0 1 1008.86 990.37L983.06 974.29A30.6 30.6 0 0 0 987.65 959.65Z" fill="#fcbba1"/>
<path d="M1008.86 990.37A61 61 0 0 1 986.69 1011.44L971.94 984.86A30.6 30.6 0 0 0 983.06 974.29Z" fill="#fcbba1"/>
<path d="M986.69 1011.44A61 61 0 0 1 957.09 1019.1L957.09 988.7A30.6 30.6 0 0 0 971.94 984.86Z" fill="#fcbba1"/>
<path d="M957.09 1019.1A61 61 0 0 1 927.49 1011.44L942.24 984.86A30.6 30.6 0 0 0 957.09 988.7Z" fill="#fcbba1"/>
<path d="M927.49 1011.44A61 61 0 0 1 905.32 990.37L931.12 974.29A30.6 30.6 0 0 0 942.24 984.86Z" fill="#fc9272"/>
<path d="M905.32 990.37A61 61 0 0 1 896.17 961.19L926.53 959.65A30.6 30.6 0 0 0 931.12 974.29Z" fill="#fc9272"/>
<path d="M896.17 961.19A61 61 0 0 1 902.32 931.24L929.62 944.62A30.6 30.6 0 0 0 926.53 959.65Z" fill="#fc9272"/>
<path d="M902.32 931.24A61 61 0 0 1 922.24 908.03L939.61 932.98A30.6 30.6 0 0 0 929.62 944.62Z" fill="#fcbba1"/>
<path d="M922.24 908.03A61 61 0 0 1 950.92 897.41L953.99 927.66A30.6 30.6 0 0 0 939.61 932.98Z" fill="#fb6a4a"/>
<circle cx="957.09" cy="958.1" r="30.6" fill="#fc9272" class="ic"/>
<text transform="translate(957.09 968.3) scale(1 1.05)" fill="#2b2b2b" font-size="28">1960</text>
<path d="M1090.88 897.41A61 61 0 0 1 1119.56 908.03L1102.19 932.98A30.6 30.6 0 0 0 1087.81 927.66Z" fill="#fc9272"/>
<path d="M1119.56 908.03A61 61 0 0 1 1139.48 931.24L1112.18 944.62A30.6 30.6 0 0 0 1102.19 932.98Z" fill="#fb6a4a"/>
<path d="M1139.48 931.24A61 61 0 0 1 1145.63 961.19L1115.27 959.65A30.6 30.6 0 0 0 1112.18 944.62Z" fill="#fc9272"/>
<path d="M1145.63 961.19A61 61 0 0 1 1136.48 990.37L1110.68 974.29A30.6 30.6 0 0 0 1115.27 959.65Z" fill="#fb6a4a"/>
<path d="M1136.48 990.37A61 61 0 0 1 1114.31 1011.44L1099.56 984.86A30.6 30.6 0 0 0 1110.68 974.29Z" fill="#fb6a4a"/>
<path d="M1114.31 1011.44A61 61 0 0 1 1084.71 1019.1L1084.71 988.7A30.6 30.6 0 0 0 1099.56 984.86Z" fill="#fb6a4a"/>
<path d="M1084.71 1019.1A61 61 0 0 1 1055.11 1011.44L1069.86 984.86A30.6 30.6 0 0 0 1084.71 988.7Z" fill="#fc9272"/>
<path d="M1055.11 1011.44A61 61 0 0 1 1032.94 990.37L1058.74 974.29A30.6 30.6 0 0 0 1069.86 984.86Z" fill="#fc9272"/>
<path d="M1032.94 990.37A61 61 0 0 1 1023.79 961.19L1054.15 959.65A30.6 30.6 0 0 0 1058.74 974.29Z" fill="#fc9272"/>
<path d="M1023.79 961.19A61 61 0 0 1 1029.94 931.24L1057.24 944.62A30.6 30.6 0 0 0 1054.15 959.65Z" fill="#fc9272"/>
<path d="M1029.94 931.24A61 61 0 0 1 1049.86 908.03L1067.23 932.98A30.6 30.6 0 0 0 1057.24 944.62Z" fill="#fc9272"/>
<path d="M1049.86 908.03A61 61 0 0 1 1078.54 897.41L1081.61 927.66A30.6 30.6 0 0 0 1067.23 932.98Z" fill="#fcbba1"/>
<circle cx="1084.71" cy="958.1" r="30.6" fill="#fc9272" class="ic"/>
<text transform="translate(1084.71 968.3) scale(1 1.05)" fill="#2b2b2b" font-size="28">1961</text>
<path d="M1218.5 897.41A61 61 0 0 1 1247.18 908.03L1229.81 932.98A30.6 30.6 0 0 0 1215.43 927.66Z" fill="#fc9272"/>
<path d="M1247.18 908.03A61 61 0 0 1 1267.1 931.24L1239.8 944.62A30.6 30.6 0 0 0 1229.81 932.98Z" fill="#fb6a4a"/>
<path d="M1267.1 931.24A61 61 0 0 1 1273.25 961.19L1242.89 959.65A30.6 30.6 0 0 0 1239.8 944.62Z" fill="#fb6a4a"/>
<path d="M1273.25 961.19A61 61 0 0 1 1264.1 990.37L1238.3 974.29A30.6 30.6 0 0 0 1242.89 959.65Z" fill="#fc9272"/>
<path d="M1264.1 990.37A61 61 0 0 1 1241.93 1011.44L1227.18 984.86A30.6 30.6 0 0 0 1238.3 974.29Z" fill="#fcbba1"/>
<path d="M1241.93 1011.44A61 61 0 0 1 1212.33 1019.1L1212.33 988.7A30.6 30.6 0 0 0 1227.18 984.86Z" fill="#fc9272"/>
<path d="M1212.33 1019.1A61 61 0 0 1 1182.73 1011.44L1197.48 984.86A30.6 30.6 0 0 0 1212.33 988.7Z" fill="#fcbba1"/>
<path d="M1182.73 1011.44A61 61 0 0 1 1160.56 990.37L1186.36 974.29A30.6 30.6 0 0 0 1197.48 984.86Z" fill="#fcbba1"/>
<path d="M1160.56 990.37A61 61 0 0 1 1151.41 961.19L1181.77 959.65A30.6 30.6 0 0 0 1186.36 974.29Z" fill="#fc9272"/>
<path d="M1151.41 961.19A61 61 0 0 1 1157.56 931.24L1184.86 944.62A30.6 30.6 0 0 0 1181.77 959.65Z" fill="#fc9272"/>
<path d="M1157.56 931.24A61 61 0 0 1 1177.48 908.03L1194.85 932.98A30.6 30.6 0 0 0 1184.86 944.62Z" fill="#fc9272"/>
<path d="M1177.48 908.03A61 61 0 0 1 1206.16 897.41L1209.23 927.66A30.6 30.6 0 0 0 1194.85 932.98Z" fill="#fc9272"/>
<circle cx="1212.33" cy="958.1" r="30.6" fill="#fc9272" class="ic"/>
<text transform="translate(1212.33 968.3) scale(1 1.05)" fill="#2b2b2b" font-size="28">1962</text>
<path d="M1346.12 897.41A61 61 0 0 1 1374.8 908.03L1357.43 932.98A30.6 30.6 0 0 0 1343.05 927.66Z" fill="#fc9272"/>
<path d="M1374.8 908.03A61 61 0 0 1 1394.72 931.24L1367.42 944.62A30.6 30.6 0 0 0 1357.43 932.98Z" fill="#fb6a4a"/>
<path d="M1394.72 931.24A61 61 0 0 1 1400.87 961.19L1370.51 959.65A30.6 30.6 0 0 0 1367.42 944.62Z" fill="#fee0d2"/>
<path d="M1400.87 961.19A61 61 0 0 1 1391.72 990.37L1365.92 974.29A30.6 30.6 0 0 0 1370.51 959.65Z" fill="#fc9272"/>
<path d="M1391.72 990.37A61 61 0 0 1 1369.55 1011.44L1354.8 984.86A30.6 30.6 0 0 0 1365.92 974.29Z" fill="#fc9272"/>
<path d="M1369.55 1011.44A61 61 0 0 1 1339.95 1019.1L1339.95 988.7A30.6 30.6 0 0 0 1354.8 984.86Z" fill="#fc9272"/>
<path d="M1339.95 1019.1A61 61 0 0 1 1310.35 1011.44L1325.1 984.86A30.6 30.6 0 0 0 1339.95 988.7Z" fill="#fc9272"/>
<path d="M1310.35 1011.44A61 61 0 0 1 1288.18 990.37L1313.98 974.29A30.6 30.6 0 0 0 1325.1 984.86Z" fill="#fc9272"/>
<path d="M1288.18 990.37A61 61 0 0 1 1279.03 961.19L1309.39 959.65A30.6 30.6 0 0 0 1313.98 974.29Z" fill="#fb6a4a"/>
<path d="M1279.03 961.19A61 61 0 0 1 1285.18 931.24L1312.48 944.62A30.6 30.6 0 0 0 1309.39 959.65Z" fill="#fc9272"/>
<path d="M1285.18 931.24A61 61 0 0 1 1305.1 908.03L1322.47 932.98A30.6 30.6 0 0 0 1312.48 944.62Z" fill="#fb6a4a"/>
<path d="M1305.1 908.03A61 61 0 0 1 1333.78 897.41L1336.85 927.66A30.6 30.6 0 0 0 1322.47 932.98Z" fill="#fc9272"/>
<circle cx="1339.95" cy="958.1" r="30.6" fill="#fc9272" class="ic"/>
<text transform="translate(1339.95 968.3) scale(1 1.05)" fill="#2b2b2b" font-size="28">1963</text>
<path d="M1473.74 897.41A61 61 0 0 1 1502.42 908.03L1485.05 932.98A30.6 30.6 0 0 0 1470.67 927.66Z" fill="#fc9272"/>
<path d="M1502.42 908.03A61 61 0 0 1 1522.34 931.24L1495.04 944.62A30.6 30.6 0 0 0 1485.05 932.98Z" fill="#fcbba1"/>
<path d="M1522.34 931.24A61 61 0 0 1 1528.49 961.19L1498.13 959.65A30.6 30.6 0 0 0 1495.04 944.62Z" fill="#fee0d2"/>
<path d="M1528.49 961.19A61 61 0 0 1 1519.34 990.37L1493.54 974.29A30.6 30.6 0 0 0 1498.13 959.65Z" fill="#deebf7"/>
<path d="M1519.34 990.37A61 61 0 0 1 1497.17 1011.44L1482.42 984.86A30.6 30.6 0 0 0 1493.54 974.29Z" fill="#fee0d2"/>
<path d="M1497.17 1011.44A61 61 0 0 1 1467.57 1019.1L1467.57 988.7A30.6 30.6 0 0 0 1482.42 984.86Z" fill="#fcbba1"/>
<path d="M1467.57 1019.1A61 61 0 0 1 1437.97 1011.44L1452.72 984.86A30.6 30.6 0 0 0 1467.57 988.7Z" fill="#fee0d2"/>
<path d="M1437.97 1011.44A61 61 0 0 1 1415.8 990.37L1441.6 974.29A30.6 30.6 0 0 0 1452.72 984.86Z" fill="#deebf7"/>
<path d="M1415.8 990.37A61 61 0 0 1 1406.65 961.19L1437.01 959.65A30.6 30.6 0 0 0 1441.6 974.29Z" fill="#c6dbef"/>
<path d="M1406.65 961.19A61 61 0 0 1 1412.8 931.24L1440.1 944.62A30.6 30.6 0 0 0 1437.01 959.65Z" fill="#fee0d2"/>
<path d="M1412.8 931.24A61 61 0 0 1 1432.72 908.03L1450.09 932.98A30.6 30.6 0 0 0 1440.1 944.62Z" fill="#fee0d2"/>
<path d="M1432.72 908.03A61 61 0 0 1 1461.4 897.41L1464.47 927.66A30.6 30.6 0 0 0 1450.09 932.98Z" fill="#fee0d2"/>
<circle cx="1467.57" cy="958.1" r="30.6" fill="#fee0d2" class="ic"/>
<text transform="translate(1467.57 968.3) scale(1 1.05)" fill="#2b2b2b" font-size="28">1964</text>
<path d="M1601.36 897.41A61 61 0 0 1 1630.04 908.03L1612.67 932.98A30.6 30.6 0 0 0 1598.29 927.66Z" fill="#fc9272"/>
<path d="M1630.04 908.03A61 61 0 0 1 1649.96 931.24L1622.66 944.62A30.6 30.6 0 0 0 1612.67 932.98Z" fill="#fcbba1"/>
<path d="M1649.96 931.24A61 61 0 0 1 1656.11 961.19L1625.75 959.65A30.6 30.6 0 0 0 1622.66 944.62Z" fill="#fcbba1"/>
<path d="M1656.11 961.19A61 61 0 0 1 1646.96 990.37L1621.16 974.29A30.6 30.6 0 0 0 1625.75 959.65Z" fill="#fee0d2"/>
<path d="M1646.96 990.37A61 61 0 0 1 1624.79 1011.44L1610.04 984.86A30.6 30.6 0 0 0 1621.16 974.29Z" fill="#fcbba1"/>
<path d="M1624.79 1011.44A61 61 0 0 1 1595.19 1019.1L1595.19 988.7A30.6 30.6 0 0 0 1610.04 984.86Z" fill="#fcbba1"/>
<path d="M1595.19 1019.1A61 61 0 0 1 1565.59 1011.44L1580.34 984.86A30.6 30.6 0 0 0 1595.19 988.7Z" fill="#deebf7"/>
<path d="M1565.59 1011.44A61 61 0 0 1 1543.42 990.37L1569.22 974.29A30.6 30.6 0 0 0 1580.34 984.86Z" fill="#fee0d2"/>
<path d="M1543.42 990.37A61 61 0 0 1 1534.27 961.19L1564.63 959.65A30.6 30.6 0 0 0 1569.22 974.29Z" fill="#fee0d2"/>
<path d="M1534.27 961.19A61 61 0 0 1 1540.42 931.24L1567.72 944.62A30.6 30.6 0 0 0 1564.63 959.65Z" fill="#fc9272"/>
<path d="M1540.42 931.24A61 61 0 0 1 1560.34 908.03L1577.71 932.98A30.6 30.6 0 0 0 1567.72 944.62Z" fill="#fc9272"/>
<path d="M1560.34 908.03A61 61 0 0 1 1589.02 897.41L1592.09 927.66A30.6 30.6 0 0 0 1577.71 932.98Z" fill="#fc9272"/>
<circle cx="1595.19" cy="958.1" r="30.6" fill="#fcbba1" class="ic"/>
<text transform="translate(1595.19 968.3) scale(1 1.05)" fill="#2b2b2b" font-size="28">1965</text>
<path d="M1728.98 897.41A61 61 0 0 1 1757.66 908.03L1740.29 932.98A30.6 30.6 0 0 0 1725.91 927.66Z" fill="#fcbba1"/>
<path d="M1757.66 908.03A61 61 0 0 1 1777.58 931.24L1750.28 944.62A30.6 30.6 0 0 0 1740.29 932.98Z" fill="#fc9272"/>
<path d="M1777.58 931.24A61 61 0 0 1 1783.73 961.19L1753.37 959.65A30.6 30.6 0 0 0 1750.28 944.62Z" fill="#fc9272"/>
<path d="M1783.73 961.19A61 61 0 0 1 1774.58 990.37L1748.78 974.29A30.6 30.6 0 0 0 1753.37 959.65Z" fill="#fc9272"/>
<path d="M1774.58 990.37A61 61 0 0 1 1752.41 1011.44L1737.66 984.86A30.6 30.6 0 0 0 1748.78 974.29Z" fill="#fcbba1"/>
<path d="M1752.41 1011.44A61 61 0 0 1 1722.81 1019.1L1722.81 988.7A30.6 30.6 0 0 0 1737.66 984.86Z" fill="#fc9272"/>
<path d="M1722.81 1019.1A61 61 0 0 1 1693.21 1011.44L1707.96 984.86A30.6 30.6 0 0 0 1722.81 988.7Z" fill="#fc9272"/>
<path d="M1693.21 1011.44A61 61 0 0 1 1671.04 990.37L1696.84 974.29A30.6 30.6 0 0 0 1707.96 984.86Z" fill="#fcbba1"/>
<path d="M1671.04 990.37A61 61 0 0 1 1661.89 961.19L1692.25 959.65A30.6 30.6 0 0 0 1696.84 974.29Z" fill="#fcbba1"/>
<path d="M1661.89 961.19A61 61 0 0 1 1668.04 931.24L1695.34 944.62A30.6 30.6 0 0 0 1692.25 959.65Z" fill="#fee0d2"/>
<path d="M1668.04 931.24A61 61 0 0 1 1687.96 908.03L1705.33 932.98A30.6 30.6 0 0 0 1695.34 944.62Z" fill="#fc9272"/>
<path d="M1687.96 908.03A61 61 0 0 1 1716.64 897.41L1719.71 927.66A30.6 30.6 0 0 0 1705.33 932.98Z" fill="#fc9272"/>
<circle cx="1722.81" cy="958.1" r="30.6" fill="#fc9272" class="ic"/>
<text transform="translate(1722.81 968.3) scale(1 1.05)" fill="#2b2b2b" font-size="28">1966</text>
<path d="M1856.6 897.41A61 61 0 0 1 1885.28 908.03L1867.91 932.98A30.6 30.6 0 0 0 1853.53 927.66Z" fill="#fc9272"/>
<path d="M1885.28 908.03A61 61 0 0 1 1905.2 931.24L1877.9 944.62A30.6 30.6 0 0 0 1867.91 932.98Z" fill="#fee0d2"/>
<path d="M1905.2 931.24A61 61 0 0 1 1911.35 961.19L1880.99 959.65A30.6 30.6 0 0 0 1877.9 944.62Z" fill="#fc9272"/>
<path d="M1911.35 961.19A61 61 0 0 1 1902.2 990.37L1876.4 974.29A30.6 30.6 0 0 0 1880.99 959.65Z" fill="#fc9272"/>
<path d="M1902.2 990.37A61 61 0 0 1 1880.03 1011.44L1865.28 984.86A30.6 30.6 0 0 0 1876.4 974.29Z" fill="#fb6a4a"/>
<path d="M1880.03 1011.44A61 61 0 0 1 1850.43 1019.1L1850.43 988.7A30.6 30.6 0 0 0 1865.28 984.86Z" fill="#fc9272"/>
<path d="M1850.43 1019.1A61 61 0 0 1 1820.83 1011.44L1835.58 984.86A30.6 30.6 0 0 0 1850.43 988.7Z" fill="#fcbba1"/>
<path d="M1820.83 1011.44A61 61 0 0 1 1798.66 990.37L1824.46 974.29A30.6 30.6 0 0 0 1835.58 984.86Z" fill="#fcbba1"/>
<path d="M1798.66 990.37A61 61 0 0 1 1789.51 961.19L1819.87 959.65A30.6 30.6 0 0 0 1824.46 974.29Z" fill="#fcbba1"/>
<path d="M1789.51 961.19A61 61 0 0 1 1795.66 931.24L1822.96 944.62A30.6 30.6 0 0 0 1819.87 959.65Z" fill="#fc9272"/>
<path d="M1795.66 931.24A61 61 0 0 1 1815.58 908.03L1832.95 932.98A30.6 30.6 0 0 0 1822.96 944.62Z" fill="#fc9272"/>
<path d="M1815.58 908.03A61 61 0 0 1 1844.26 897.41L1847.33 927.66A30.6 30.6 0 0 0 1832.95 932.98Z" fill="#fc9272"/>
<circle cx="1850.43" cy="958.1" r="30.6" fill="#fc9272" class="ic"/>
<text transform="translate(1850.43 968.3) scale(1 1.05)" fill="#2b2b2b" font-size="28">1967</text>
<path d="M1984.22 897.41A61 61 0 0 1 2012.9 908.03L1995.53 932.98A30.6 30.6 0 0 0 1981.15 927.66Z" fill="#fee0d2"/>
<path d="M2012.9 908.03A61 61 0 0 1 2032.82 931.24L2005.52 944.62A30.6 30.6 0 0 0 1995.53 932.98Z" fill="#fcbba1"/>
<path d="M2032.82 931.24A61 61 0 0 1 2038.97 961.19L2008.61 959.65A30.6 30.6 0 0 0 2005.52 944.62Z" fill="#fb6a4a"/>
<path d="M2038.97 961.19A61 61 0 0 1 2029.82 990.37L2004.02 974.29A30.6 30.6 0 0 0 2008.61 959.65Z" fill="#fc9272"/>
<path d="M2029.82 990.37A61 61 0 0 1 2007.65 1011.44L1992.9 984.86A30.6 30.6 0 0 0 2004.02 974.29Z" fill="#fcbba1"/>
<path d="M2007.65 1011.44A61 61 0 0 1 1978.05 1019.1L1978.05 988.7A30.6 30.6 0 0 0 1992.9 984.86Z" fill="#fcbba1"/>
<path d="M1978.05 1019.1A61 61 0 0 1 1948.45 1011.44L1963.2 984.86A30.6 30.6 0 0 0 1978.05 988.7Z" fill="#fee0d2"/>
<path d="M1948.45 1011.44A61 61 0 0 1 1926.28 990.37L1952.08 974.29A30.6 30.6 0 0 0 1963.2 984.86Z" fill="#fcbba1"/>
<path d="M1926.28 990.37A61 61 0 0 1 1917.13 961.19L1947.49 959.65A30.6 30.6 0 0 0 1952.08 974.29Z" fill="#fee0d2"/>
<path d="M1917.13 961.19A61 61 0 0 1 1923.28 931.24L1950.58 944.62A30.6 30.6 0 0 0 1947.49 959.65Z" fill="#fc9272"/>
<path d="M1923.28 931.24A61 61 0 0 1 1943.2 908.03L1960.57 932.98A30.6 30.6 0 0 0 1950.58 944.62Z" fill="#fc9272"/>
<path d="M1943.2 908.03A61 61 0 0 1 1971.88 897.41L1974.95 927.66A30.6 30.6 0 0 0 1960.57 932.98Z" fill="#fc9272"/>
<circle cx="1978.05" cy="958.1" r="30.6" fill="#fcbba1" class="ic"/>
<text transform="translate(1978.05 968.3) scale(1 1.05)" fill="#2b2b2b" font-size="28">1968</text>
<path d="M2111.84 897.41A61 61 0 0 1 2140.52 908.03L2123.15 932.98A30.6 30.6 0 0 0 2108.77 927.66Z" fill="#fc9272"/>
<path d="M2140.52 908.03A61 61 0 0 1 2160.44 931.24L2133.14 944.62A30.6 30.6 0 0 0 2123.15 932.98Z" fill="#fc9272"/>
<path d="M2160.44 931.24A61 61 0 0 1 2166.59 961.19L2136.23 959.65A30.6 30.6 0 0 0 2133.14 944.62Z" fill="#fc9272"/>
<path d="M2166.59 961.19A61 61 0 0 1 2157.44 990.37L2131.64 974.29A30.6 30.6 0 0 0 2136.23 959.65Z" fill="#fb6a4a"/>
<path d="M2157.44 990.37A61 61 0 0 1 2135.27 1011.44L2120.52 984.86A30.6 30.6 0 0 0 2131.64 974.29Z" fill="#fb6a4a"/>
<path d="M2135.27 1011.44A61 61 0 0 1 2105.67 1019.1L2105.67 988.7A30.6 30.6 0 0 0 2120.52 984.86Z" fill="#fc9272"/>
<path d="M2105.67 1019.1A61 61 0 0 1 2076.07 1011.44L2090.82 984.86A30.6 30.6 0 0 0 2105.67 988.7Z" fill="#fcbba1"/>
<path d="M2076.07 1011.44A61 61 0 0 1 2053.9 990.37L2079.7 974.29A30.6 30.6 0 0 0 2090.82 984.86Z" fill="#fcbba1"/>
<path d="M2053.9 990.37A61 61 0 0 1 2044.75 961.19L2075.11 959.65A30.6 30.6 0 0 0 2079.7 974.29Z" fill="#fc9272"/>
<path d="M2044.75 961.19A61 61 0 0 1 2050.9 931.24L2078.2 944.62A30.6 30.6 0 0 0 2075.11 959.65Z" fill="#fc9272"/>
<path d="M2050.9 931.24A61 61 0 0 1 2070.82 908.03L2088.19 932.98A30.6 30.6 0 0 0 2078.2 944.62Z" fill="#fb6a4a"/>
<path d="M2070.82 908.03A61 61 0 0 1 2099.5 897.41L2102.57 927.66A30.6 30.6 0 0 0 2088.19 932.98Z" fill="#fb6a4a"/>
<circle cx="2105.67" cy="958.1" r="30.6" fill="#fc9272" class="ic"/>
<text transform="translate(2105.67 968.3) scale(1 1.05)" fill="#2b2b2b" font-size="28">1969</text>
<path d="M69.92 1025.01A61 61 0 0 1 98.6 1035.63L81.23 1060.58A30.6 30.6 0 0 0 66.85 1055.26Z" fill="#fb6a4a"/>
<path d="M98.6 1035.63A61 61 0 0 1 118.52 1058.84L91.22 1072.22A30.6 30.6 0 0 0 81.23 1060.58Z" fill="#fb6a4a"/>
<path d="M118.52 1058.84A61 61 0 0 1 124.67 1088.79L94.31 1087.25A30.6 30.6 0 0 0 91.22 1072.22Z" fill="#fc9272"/>
<path d="M124.67 1088.79A61 61 0 0 1 115.52 1117.97L89.72 1101.89A30.6 30.6 0 0 0 94.31 1087.25Z" fill="#fc9272"/>
<path d="M115.52 1117.97A61 61 0 0 1 93.35 1139.04L78.6 1112.46A30.6 30.6 0 0 0 89.72 1101.89Z" fill="#fc9272"/>
<path d="M93.35 1139.04A61 61 0 0 1 63.75 1146.7L63.75 1116.3A30.6 30.6 0 0 0 78.6 1112.46Z" fill="#fcbba1"/>
<path d="M63.75 1146.7A61 61 0 0 1 34.15 1139.04L48.9 1112.46A30.6 30.6 0 0 0 63.75 1116.3Z" fill="#fcbba1"/>
<path d="M34.15 1139.04A61 61 0 0 1 11.98 1117.97L37.78 1101.89A30.6 30.6 0 0 0 48.9 1112.46Z" fill="#fee0d2"/>
<path d="M11.98 1117.97A61 61 0 0 1 2.83 1088.79L33.19 1087.25A30.6 30.6 0 0 0 37.78 1101.89Z" fill="#fc9272"/>
<path d="M2.83 1088.79A61 61 0 0 1 8.98 1058.84L36.28 1072.22A30.6 30.6 0 0 0 33.19 1087.25Z" fill="#fc9272"/>
<path d="M8.98 1058.84A61 61 0 0 1 28.9 1035.63L46.27 1060.58A30.6 30.6 0 0 0 36.28 1072.22Z" fill="#fc9272"/>
<path d="M28.9 1035.63A61 61 0 0 1 57.58 1025.01L60.65 1055.26A30.6 30.6 0 0 0 46.27 1060.58Z" fill="#fc9272"/>
<circle cx="63.75" cy="1085.7" r="30.6" fill="#fc9272" class="ic"/>
<text transform="translate(63.75 1095.9) scale(1 1.05)" fill="#2b2b2b" font-size="28">1970</text>
<path d="M197.54 1025.01A61 61 0 0 1 226.22 1035.63L208.85 1060.58A30.6 30.6 0 0 0 194.47 1055.26Z" fill="#fc9272"/>
<path d="M226.22 1035.63A61 61 0 0 1 246.14 1058.84L218.84 1072.22A30.6 30.6 0 0 0 208.85 1060.58Z" fill="#fcbba1"/>
<path d="M246.14 1058.84A61 61 0 0 1 252.29 1088.79L221.93 1087.25A30.6 30.6 0 0 0 218.84 1072.22Z" fill="#fee0d2"/>
<path d="M252.29 1088.79A61 61 0 0 1 243.14 1117.97L217.34 1101.89A30.6 30.6 0 0 0 221.93 1087.25Z" fill="#fcbba1"/>
<path d="M243.14 1117.97A61 61 0 0 1 220.97 1139.04L206.22 1112.46A30.6 30.6 0 0 0 217.34 1101.89Z" fill="#fcbba1"/>
<path d="M220.97 1139.04A61 61 0 0 1 191.37 1146.7L191.37 1116.3A30.6 30.6 0 0 0 206.22 1112.46Z" fill="#fee0d2"/>
<path d="M191.37 1146.7A61 61 0 0 1 161.77 1139.04L176.52 1112.46A30.6 30.6 0 0 0 191.37 1116.3Z" fill="#fee0d2"/>
<path d="M161.77 1139.04A61 61 0 0 1 139.6 1117.97L165.4 1101.89A30.6 30.6 0 0 0 176.52 1112.46Z" fill="#fee0d2"/>
<path d="M139.6 1117.97A61 61 0 0 1 130.45 1088.79L160.81 1087.25A30.6 30.6 0 0 0 165.4 1101.89Z" fill="#fcbba1"/>
<path d="M130.45 1088.79A61 61 0 0 1 136.6 1058.84L163.9 1072.22A30.6 30.6 0 0 0 160.81 1087.25Z" fill="#fcbba1"/>
<path d="M136.6 1058.84A61 61 0 0 1 156.52 1035.63L173.89 1060.58A30.6 30.6 0 0 0 163.9 1072.22Z" fill="#fc9272"/>
<path d="M156.52 1035.63A61 61 0 0 1 185.2 1025.01L188.27 1055.26A30.6 30.6 0 0 0 173.89 1060.58Z" fill="#fcbba1"/>
<circle cx="191.37" cy="1085.7" r="30.6" fill="#fcbba1" class="ic"/>
<text transform="translate(191.37 1095.9) scale(1 1.05)" fill="#2b2b2b" font-size="28">1971</text>
<path d="M325.16 1025.01A61 61 0 0 1 353.84 1035.63L336.47 1060.58A30.6 30.6 0 0 0 322.09 1055.26Z" fill="#fee0d2"/>
<path d="M353.84 1035.63A61 61 0 0 1 373.76 1058.84L346.46 1072.22A30.6 30.6 0 0 0 336.47 1060.58Z" fill="#fcbba1"/>
<path d="M373.76 1058.84A61 61 0 0 1 379.91 1088.79L349.55 1087.25A30.6 30.6 0 0 0 346.46 1072.22Z" fill="#fc9272"/>
<path d="M379.91 1088.79A61 61 0 0 1 370.76 1117.97L344.96 1101.89A30.6 30.6 0 0 0 349.55 1087.25Z" fill="#fc9272"/>
<path d="M370.76 1117.97A61 61 0 0 1 348.59 1139.04L333.84 1112.46A30.6 30.6 0 0 0 344.96 1101.89Z" fill="#fc9272"/>
<path d="M348.59 1139.04A61 61 0 0 1 318.99 1146.7L318.99 1116.3A30.6 30.6 0 0 0 333.84 1112.46Z" fill="#fc9272"/>
<path d="M318.99 1146.7A61 61 0 0 1 289.39 1139.04L304.14 1112.46A30.6 30.6 0 0 0 318.99 1116.3Z" fill="#fcbba1"/>
<path d="M289.39 1139.04A61 61 0 0 1 267.22 1117.97L293.02 1101.89A30.6 30.6 0 0 0 304.14 1112.46Z" fill="#fc9272"/>
<path d="M267.22 1117.97A61 61 0 0 1 258.07 1088.79L288.43 1087.25A30.6 30.6 0 0 0 293.02 1101.89Z" fill="#fc9272"/>
<path d="M258.07 1088.79A61 61 0 0 1 264.22 1058.84L291.52 1072.22A30.6 30.6 0 0 0 288.43 1087.25Z" fill="#fc9272"/>
<path d="M264.22 1058.84A61 61 0 0 1 284.14 1035.63L301.51 1060.58A30.6 30.6 0 0 0 291.52 1072.22Z" fill="#fc9272"/>
<path d="M284.14 1035.63A61 61 0 0 1 312.82 1025.01L315.89 1055.26A30.6 30.6 0 0 0 301.51 1060.58Z" fill="#fb6a4a"/>
<circle cx="318.99" cy="1085.7" r="30.6" fill="#fc9272" class="ic"/>
<text transform="translate(318.99 1095.9) scale(1 1.05)" fill="#2b2b2b" font-size="28">1972</text>
<path d="M452.78 1025.01A61 61 0 0 1 481.46 1035.63L464.09 1060.58A30.6 30.6 0 0 0 449.71 1055.26Z" fill="#fb6a4a"/>
<path d="M481.46 1035.63A61 61 0 0 1 501.38 1058.84L474.08 1072.22A30.6 30.6 0 0 0 464.09 1060.58Z" fill="#fb6a4a"/>
<path d="M501.38 1058.84A61 61 0 0 1 507.53 1088.79L477.17 1087.25A30.6 30.6 0 0 0 474.08 1072.22Z" fill="#fb6a4a"/>
<path d="M507.53 1088.79A61 61 0 0 1 498.38 1117.97L472.58 1101.89A30.6 30.6 0 0 0 477.17 1087.25Z" fill="#fb6a4a"/>
<path d="M498.38 1117.97A61 61 0 0 1 476.21 1139.04L461.46 1112.46A30.6 30.6 0 0 0 472.58 1101.89Z" fill="#fb6a4a"/>
<path d="M476.21 1139.04A61 61 0 0 1 446.61 1146.7L446.61 1116.3A30.6 30.6 0 0 0 461.46 1112.46Z" fill="#fb6a4a"/>
<path d="M446.61 1146.7A61 61 0 0 1 417.01 1139.04L431.76 1112.46A30.6 30.6 0 0 0 446.61 1116.3Z" fill="#fc9272"/>
<path d="M417.01 1139.04A61 61 0 0 1 394.84 1117.97L420.64 1101.89A30.6 30.6 0 0 0 431.76 1112.46Z" fill="#fc9272"/>
<path d="M394.84 1117.97A61 61 0 0 1 385.69 1088.79L416.05 1087.25A30.6 30.6 0 0 0 420.64 1101.89Z" fill="#fc9272"/>
<path d="M385.69 1088.79A61 61 0 0 1 391.84 1058.84L419.14 1072.22A30.6 30.6 0 0 0 416.05 1087.25Z" fill="#fc9272"/>
<path d="M391.84 1058.84A61 61 0 0 1 411.76 1035.63L429.13 1060.58A30.6 30.6 0 0 0 419.14 1072.22Z" fill="#fc9272"/>
<path d="M411.76 1035.63A61 61 0 0 1 440.44 1025.01L443.51 1055.26A30.6 30.6 0 0 0 429.13 1060.58Z" fill="#fc9272"/>
<circle cx="446.61" cy="1085.7" r="30.6" fill="#fb6a4a" class="ic"/>
<text transform="translate(446.61 1095.9) scale(1 1.05)" fill="#2b2b2b" font-size="28">1973</text>
<path d="M580.4 1025.01A61 61 0 0 1 609.08 1035.63L591.71 1060.58A30.6 30.6 0 0 0 577.33 1055.26Z" fill="#fcbba1"/>
<path d="M609.08 1035.63A61 61 0 0 1 629 1058.84L601.7 1072.22A30.6 30.6 0 0 0 591.71 1060.58Z" fill="#deebf7"/>
<path d="M629 1058.84A61 61 0 0 1 635.15 1088.79L604.79 1087.25A30.6 30.6 0 0 0 601.7 1072.22Z" fill="#fcbba1"/>
<path d="M635.15 1088.79A61 61 0 0 1 626 1117.97L600.2 1101.89A30.6 30.6 0 0 0 604.79 1087.25Z" fill="#fcbba1"/>
<path d="M626 1117.97A61 61 0 0 1 603.83 1139.04L589.08 1112.46A30.6 30.6 0 0 0 600.2 1101.89Z" fill="#fc9272"/>
<path d="M603.83 1139.04A61 61 0 0 1 574.23 1146.7L574.23 1116.3A30.6 30.6 0 0 0 589.08 1112.46Z" fill="#fcbba1"/>
<path d="M574.23 1146.7A61 61 0 0 1 544.63 1139.04L559.38 1112.46A30.6 30.6 0 0 0 574.23 1116.3Z" fill="#fcbba1"/>
<path d="M544.63 1139.04A61 61 0 0 1 522.46 1117.97L548.26 1101.89A30.6 30.6 0 0 0 559.38 1112.46Z" fill="#fc9272"/>
<path d="M522.46 1117.97A61 61 0 0 1 513.31 1088.79L543.67 1087.25A30.6 30.6 0 0 0 548.26 1101.89Z" fill="#fcbba1"/>
<path d="M513.31 1088.79A61 61 0 0 1 519.46 1058.84L546.76 1072.22A30.6 30.6 0 0 0 543.67 1087.25Z" fill="#fc9272"/>
<path d="M519.46 1058.84A61 61 0 0 1 539.38 1035.63L556.75 1060.58A30.6 30.6 0 0 0 546.76 1072.22Z" fill="#fc9272"/>
<path d="M539.38 1035.63A61 61 0 0 1 568.06 1025.01L571.13 1055.26A30.6 30.6 0 0 0 556.75 1060.58Z" fill="#fc9272"/>
<circle cx="574.23" cy="1085.7" r="30.6" fill="#fcbba1" class="ic"/>
<text transform="translate(574.23 1095.9) scale(1 1.05)" fill="#2b2b2b" font-size="28">1974</text>
<path d="M708.02 1025.01A61 61 0 0 1 736.7 1035.63L719.33 1060.58A30.6 30.6 0 0 0 704.95 1055.26Z" fill="#fc9272"/>
<path d="M736.7 1035.63A61 61 0 0 1 756.62 1058.84L729.32 1072.22A30.6 30.6 0 0 0 719.33 1060.58Z" fill="#fc9272"/>
<path d="M756.62 1058.84A61 61 0 0 1 762.77 1088.79L732.41 1087.25A30.6 30.6 0 0 0 729.32 1072.22Z" fill="#fb6a4a"/>
<path d="M762.77 1088.79A61 61 0 0 1 753.62 1117.97L727.82 1101.89A30.6 30.6 0 0 0 732.41 1087.25Z" fill="#fb6a4a"/>
<path d="M753.62 1117.97A61 61 0 0 1 731.45 1139.04L716.7 1112.46A30.6 30.6 0 0 0 727.82 1101.89Z" fill="#fb6a4a"/>
<path d="M731.45 1139.04A61 61 0 0 1 701.85 1146.7L701.85 1116.3A30.6 30.6 0 0 0 716.7 1112.46Z" fill="#fc9272"/>
<path d="M701.85 1146.7A61 61 0 0 1 672.25 1139.04L687 1112.46A30.6 30.6 0 0 0 701.85 1116.3Z" fill="#fcbba1"/>
<path d="M672.25 1139.04A61 61 0 0 1 650.08 1117.97L675.88 1101.89A30.6 30.6 0 0 0 687 1112.46Z" fill="#fee0d2"/>
<path d="M650.08 1117.97A61 61 0 0 1 640.93 1088.79L671.29 1087.25A30.6 30.6 0 0 0 675.88 1101.89Z" fill="#fcbba1"/>
<path d="M640.93 1088.79A61 61 0 0 1 647.08 1058.84L674.38 1072.22A30.6 30.6 0 0 0 671.29 1087.25Z" fill="#fcbba1"/>
<path d="M647.08 1058.84A61 61 0 0 1 667 1035.63L684.37 1060.58A30.6 30.6 0 0 0 674.38 1072.22Z" fill="#fcbba1"/>
<path d="M667 1035.63A61 61 0 0 1 695.68 1025.01L698.75 1055.26A30.6 30.6 0 0 0 684.37 1060.58Z" fill="#fcbba1"/>
<circle cx="701.85" cy="1085.7" r="30.6" fill="#fc9272" class="ic"/>
<text transform="translate(701.85 1095.9) scale(1 1.05)" fill="#2b2b2b" font-size="28">1975</text>
<path d="M835.64 1025.01A61 61 0 0 1 864.32 1035.63L846.95 1060.58A30.6 30.6 0 0 0 832.57 1055.26Z" fill="#fc9272"/>
<path d="M864.32 1035.63A61 61 0 0 1 884.24 1058.84L856.94 1072.22A30.6 30.6 0 0 0 846.95 1060.58Z" fill="#fcbba1"/>
<path d="M884.24 1058.84A61 61 0 0 1 890.39 1088.79L860.03 1087.25A30.6 30.6 0 0 0 856.94 1072.22Z" fill="#fee0d2"/>
<path d="M890.39 1088.79A61 61 0 0 1 881.24 1117.97L855.44 1101.89A30.6 30.6 0 0 0 860.03 1087.25Z" fill="#fc9272"/>
<path d="M881.24 1117.97A61 61 0 0 1 859.07 1139.04L844.32 1112.46A30.6 30.6 0 0 0 855.44 1101.89Z" fill="#fee0d2"/>
<path d="M859.07 1139.04A61 61 0 0 1 829.47 1146.7L829.47 1116.3A30.6 30.6 0 0 0 844.32 1112.46Z" fill="#fee0d2"/>
<path d="M829.47 1146.7A61 61 0 0 1 799.87 1139.04L814.62 1112.46A30.6 30.6 0 0 0 829.47 1116.3Z" fill="#fee0d2"/>
<path d="M799.87 1139.04A61 61 0 0 1 777.7 1117.97L803.5 1101.89A30.6 30.6 0 0 0 814.62 1112.46Z" fill="#fee0d2"/>
<path d="M777.7 1117.97A61 61 0 0 1 768.55 1088.79L798.91 1087.25A30.6 30.6 0 0 0 803.5 1101.89Z" fill="#fcbba1"/>
<path d="M768.55 1088.79A61 61 0 0 1 774.7 1058.84L802 1072.22A30.6 30.6 0 0 0 798.91 1087.25Z" fill="#deebf7"/>
<path d="M774.7 1058.84A61 61 0 0 1 794.62 1035.63L811.99 1060.58A30.6 30.6 0 0 0 802 1072.22Z" fill="#fc9272"/>
<path d="M794.62 1035.63A61 61 0 0 1 823.3 1025.01L826.37 1055.26A30.6 30.6 0 0 0 811.99 1060.58Z" fill="#fc9272"/>
<circle cx="829.47" cy="1085.7" r="30.6" fill="#fcbba1" class="ic"/>
<text transform="translate(829.47 1095.9) scale(1 1.05)" fill="#2b2b2b" font-size="28">1976</text>
<path d="M963.26 1025.01A61 61 0 0 1 991.94 1035.63L974.57 1060.58A30.6 30.6 0 0 0 960.19 1055.26Z" fill="#fb6a4a"/>
<path d="M991.94 1035.63A61 61 0 0 1 1011.86 1058.84L984.56 1072.22A30.6 30.6 0 0 0 974.57 1060.58Z" fill="#fb6a4a"/>
<path d="M1011.86 1058.84A61 61 0 0 1 1018.01 1088.79L987.65 1087.25A30.6 30.6 0 0 0 984.56 1072.22Z" fill="#fb6a4a"/>
<path d="M1018.01 1088.79A61 61 0 0 1 1008.86 1117.97L983.06 1101.89A30.6 30.6 0 0 0 987.65 1087.25Z" fill="#fb6a4a"/>
<path d="M1008.86 1117.97A61 61 0 0 1 986.69 1139.04L971.94 1112.46A30.6 30.6 0 0 0 983.06 1101.89Z" fill="#ef3b2c"/>
<path d="M986.69 1139.04A61 61 0 0 1 957.09 1146.7L957.09 1116.3A30.6 30.6 0 0 0 971.94 1112.46Z" fill="#fb6a4a"/>
<path d="M957.09 1146.7A61 61 0 0 1 927.49 1139.04L942.24 1112.46A30.6 30.6 0 0 0 957.09 1116.3Z" fill="#fc9272"/>
<path d="M927.49 1139.04A61 61 0 0 1 905.32 1117.97L931.12 1101.89A30.6 30.6 0 0 0 942.24 1112.46Z" fill="#fc9272"/>
<path d="M905.32 1117.97A61 61 0 0 1 896.17 1088.79L926.53 1087.25A30.6 30.6 0 0 0 931.12 1101.89Z" fill="#fc9272"/>
<path d="M896.17 1088.79A61 61 0 0 1 902.32 1058.84L929.62 1072.22A30.6 30.6 0 0 0 926.53 1087.25Z" fill="#fc9272"/>
<path d="M902.32 1058.84A61 61 0 0 1 922.24 1035.63L939.61 1060.58A30.6 30.6 0 0 0 929.62 1072.22Z" fill="#fb6a4a"/>
<path d="M922.24 1035.63A61 61 0 0 1 950.92 1025.01L953.99 1055.26A30.6 30.6 0 0 0 939.61 1060.58Z" fill="#fc9272"/>
<circle cx="957.09" cy="1085.7" r="30.6" fill="#fb6a4a" class="ic"/>
<text transform="translate(957.09 1095.9) scale(1 1.05)" fill="#2b2b2b" font-size="28">1977</text>
<path d="M1090.88 1025.01A61 61 0 0 1 1119.56 1035.63L1102.19 1060.58A30.6 30.6 0 0 0 1087.81 1055.26Z" fill="#fb6a4a"/>
<path d="M1119.56 1035.63A61 61 0 0 1 1139.48 1058.84L1112.18 1072.22A30.6 30.6 0 0 0 1102.19 1060.58Z" fill="#fb6a4a"/>
<path d="M1139.48 1058.84A61 61 0 0 1 1145.63 1088.79L1115.27 1087.25A30.6 30.6 0 0 0 1112.18 1072.22Z" fill="#fb6a4a"/>
<path d="M1145.63 1088.79A61 61 0 0 1 1136.48 1117.97L1110.68 1101.89A30.6 30.6 0 0 0 1115.27 1087.25Z" fill="#fb6a4a"/>
<path d="M1136.48 1117.97A61 61 0 0 1 1114.31 1139.04L1099.56 1112.46A30.6 30.6 0 0 0 1110.68 1101.89Z" fill="#fc9272"/>
<path d="M1114.31 1139.04A61 61 0 0 1 1084.71 1146.7L1084.71 1116.3A30.6 30.6 0 0 0 1099.56 1112.46Z" fill="#fc9272"/>
<path d="M1084.71 1146.7A61 61 0 0 1 1055.11 1139.04L1069.86 1112.46A30.6 30.6 0 0 0 1084.71 1116.3Z" fill="#fc9272"/>
<path d="M1055.11 1139.04A61 61 0 0 1 1032.94 1117.97L1058.74 1101.89A30.6 30.6 0 0 0 1069.86 1112.46Z" fill="#fee0d2"/>
<path d="M1032.94 1117.97A61 61 0 0 1 1023.79 1088.79L1054.15 1087.25A30.6 30.6 0 0 0 1058.74 1101.89Z" fill="#fc9272"/>
<path d="M1023.79 1088.79A61 61 0 0 1 1029.94 1058.84L1057.24 1072.22A30.6 30.6 0 0 0 1054.15 1087.25Z" fill="#fc9272"/>
<path d="M1029.94 1058.84A61 61 0 0 1 1049.86 1035.63L1067.23 1060.58A30.6 30.6 0 0 0 1057.24 1072.22Z" fill="#fb6a4a"/>
<path d="M1049.86 1035.63A61 61 0 0 1 1078.54 1025.01L1081.61 1055.26A30.6 30.6 0 0 0 1067.23 1060.58Z" fill="#fb6a4a"/>
<circle cx="1084.71" cy="1085.7" r="30.6" fill="#fc9272" class="ic"/>
<text transform="translate(1084.71 1095.9) scale(1 1.05)" fill="#2b2b2b" font-size="28">1978</text>
<path d="M1218.5 1025.01A61 61 0 0 1 1247.18 1035.63L1229.81 1060.58A30.6 30.6 0 0 0 1215.43 1055.26Z" fill="#fb6a4a"/>
<path d="M1247.18 1035.63A61 61 0 0 1 1267.1 1058.84L1239.8 1072.22A30.6 30.6 0 0 0 1229.81 1060.58Z" fill="#fc9272"/>
<path d="M1267.1 1058.84A61 61 0 0 1 1273.25 1088.79L1242.89 1087.25A30.6 30.6 0 0 0 1239.8 1072.22Z" fill="#fb6a4a"/>
<path d="M1273.25 1088.79A61 61 0 0 1 1264.1 1117.97L1238.3 1101.89A30.6 30.6 0 0 0 1242.89 1087.25Z" fill="#fb6a4a"/>
<path d="M1264.1 1117.97A61 61 0 0 1 1241.93 1139.04L1227.18 1112.46A30.6 30.6 0 0 0 1238.3 1101.89Z" fill="#fc9272"/>
<path d="M1241.93 1139.04A61 61 0 0 1 1212.33 1146.7L1212.33 1116.3A30.6 30.6 0 0 0 1227.18 1112.46Z" fill="#fc9272"/>
<path d="M1212.33 1146.7A61 61 0 0 1 1182.73 1139.04L1197.48 1112.46A30.6 30.6 0 0 0 1212.33 1116.3Z" fill="#fc9272"/>
<path d="M1182.73 1139.04A61 61 0 0 1 1160.56 1117.97L1186.36 1101.89A30.6 30.6 0 0 0 1197.48 1112.46Z" fill="#fc9272"/>
<path d="M1160.56 1117.97A61 61 0 0 1 1151.41 1088.79L1181.77 1087.25A30.6 30.6 0 0 0 1186.36 1101.89Z" fill="#fb6a4a"/>
<path d="M1151.41 1088.79A61 61 0 0 1 1157.56 1058.84L1184.86 1072.22A30.6 30.6 0 0 0 1181.77 1087.25Z" fill="#fb6a4a"/>
<path d="M1157.56 1058.84A61 61 0 0 1 1177.48 1035.63L1194.85 1060.58A30.6 30.6 0 0 0 1184.86 1072.22Z" fill="#ef3b2c"/>
<path d="M1177.48 1035.63A61 61 0 0 1 1206.16 1025.01L1209.23 1055.26A30.6 30.6 0 0 0 1194.85 1060.58Z" fill="#cb181d"/>
<circle cx="1212.33" cy="1085.7" r="30.6" fill="#fb6a4a" class="ic"/>
<text transform="translate(1212.33 1095.9) scale(1 1.05)" fill="#2b2b2b" font-size="28">1979</text>
<path d="M1346.12 1025.01A61 61 0 0 1 1374.8 1035.63L1357.43 1060.58A30.6 30.6 0 0 0 1343.05 1055.26Z" fill="#ef3b2c"/>
<path d="M1374.8 1035.63A61 61 0 0 1 1394.72 1058.84L1367.42 1072.22A30.6 30.6 0 0 0 1357.43 1060.58Z" fill="#ef3b2c"/>
<path d="M1394.72 1058.84A61 61 0 0 1 1400.87 1088.79L1370.51 1087.25A30.6 30.6 0 0 0 1367.42 1072.22Z" fill="#ef3b2c"/>
<path d="M1400.87 1088.79A61 61 0 0 1 1391.72 1117.97L1365.92 1101.89A30.6 30.6 0 0 0 1370.51 1087.25Z" fill="#ef3b2c"/>
<path d="M1391.72 1117.97A61 61 0 0 1 1369.55 1139.04L1354.8 1112.46A30.6 30.6 0 0 0 1365.92 1101.89Z" fill="#ef3b2c"/>
<path d="M1369.55 1139.04A61 61 0 0 1 1339.95 1146.7L1339.95 1116.3A30.6 30.6 0 0 0 1354.8 1112.46Z" fill="#fb6a4a"/>
<path d="M1339.95 1146.7A61 61 0 0 1 1310.35 1139.04L1325.1 1112.46A30.6 30.6 0 0 0 1339.95 1116.3Z" fill="#fb6a4a"/>
<path d="M1310.35 1139.04A61 61 0 0 1 1288.18 1117.97L1313.98 1101.89A30.6 30.6 0 0 0 1325.1 1112.46Z" fill="#fb6a4a"/>
<path d="M1288.18 1117.97A61 61 0 0 1 1279.03 1088.79L1309.39 1087.25A30.6 30.6 0 0 0 1313.98 1101.89Z" fill="#fb6a4a"/>
<path d="M1279.03 1088.79A61 61 0 0 1 1285.18 1058.84L1312.48 1072.22A30.6 30.6 0 0 0 1309.39 1087.25Z" fill="#fb6a4a"/>
<path d="M1285.18 1058.84A61 61 0 0 1 1305.1 1035.63L1322.47 1060.58A30.6 30.6 0 0 0 1312.48 1072.22Z" fill="#ef3b2c"/>
<path d="M1305.1 1035.63A61 61 0 0 1 1333.78 1025.01L1336.85 1055.26A30.6 30.6 0 0 0 1322.47 1060.58Z" fill="#fb6a4a"/>
<circle cx="1339.95" cy="1085.7" r="30.6" fill="#fb6a4a" class="ic"/>
<text transform="translate(1339.95 1095.9) scale(1 1.05)" fill="#2b2b2b" font-size="28">1980</text>
<path d="M1473.74 1025.01A61 61 0 0 1 1502.42 1035.63L1485.05 1060.58A30.6 30.6 0 0 0 1470.67 1055.26Z" fill="#cb181d"/>
<path d="M1502.42 1035.63A61 61 0 0 1 1522.34 1058.84L1495.04 1072.22A30.6 30.6 0 0 0 1485.05 1060.58Z" fill="#ef3b2c"/>
<path d="M1522.34 1058.84A61 61 0 0 1 1528.49 1088.79L1498.13 1087.25A30.6 30.6 0 0 0 1495.04 1072.22Z" fill="#ef3b2c"/>
<path d="M1528.49 1088.79A61 61 0 0 1 1519.34 1117.97L1493.54 1101.89A30.6 30.6 0 0 0 1498.13 1087.25Z" fill="#fb6a4a"/>
<path d="M1519.34 1117.97A61 61 0 0 1 1497.17 1139.04L1482.42 1112.46A30.6 30.6 0 0 0 1493.54 1101.89Z" fill="#fb6a4a"/>
<path d="M1497.17 1139.04A61 61 0 0 1 1467.57 1146.7L1467.57 1116.3A30.6 30.6 0 0 0 1482.42 1112.46Z" fill="#fb6a4a"/>
<path d="M1467.57 1146.7A61 61 0 0 1 1437.97 1139.04L1452.72 1112.46A30.6 30.6 0 0 0 1467.57 1116.3Z" fill="#fb6a4a"/>
<path d="M1437.97 1139.04A61 61 0 0 1 1415.8 1117.97L1441.6 1101.89A30.6 30.6 0 0 0 1452.72 1112.46Z" fill="#fb6a4a"/>
<path d="M1415.8 1117.97A61 61 0 0 1 1406.65 1088.79L1437.01 1087.25A30.6 30.6 0 0 0 1441.6 1101.89Z" fill="#fb6a4a"/>
<path d="M1406.65 1088.79A61 61 0 0 1 1412.8 1058.84L1440.1 1072.22A30.6 30.6 0 0 0 1437.01 1087.25Z" fill="#fc9272"/>
<path d="M1412.8 1058.84A61 61 0 0 1 1432.72 1035.63L1450.09 1060.58A30.6 30.6 0 0 0 1440.1 1072.22Z" fill="#fb6a4a"/>
<path d="M1432.72 1035.63A61 61 0 0 1 1461.4 1025.01L1464.47 1055.26A30.6 30.6 0 0 0 1450.09 1060.58Z" fill="#ef3b2c"/>
<circle cx="1467.57" cy="1085.7" r="30.6" fill="#ef3b2c" class="ic"/>
<text transform="translate(1467.57 1095.9) scale(1 1.05)" fill="#e9e4e4" font-size="28">1981</text>
<path d="M1601.36 1025.01A61 61 0 0 1 1630.04 1035.63L1612.67 1060.58A30.6 30.6 0 0 0 1598.29 1055.26Z" fill="#fc9272"/>
<path d="M1630.04 1035.63A61 61 0 0 1 1649.96 1058.84L1622.66 1072.22A30.6 30.6 0 0 0 1612.67 1060.58Z" fill="#fb6a4a"/>
<path d="M1649.96 1058.84A61 61 0 0 1 1656.11 1088.79L1625.75 1087.25A30.6 30.6 0 0 0 1622.66 1072.22Z" fill="#fc9272"/>
<path d="M1656.11 1088.79A61 61 0 0 1 1646.96 1117.97L1621.16 1101.89A30.6 30.6 0 0 0 1625.75 1087.25Z" fill="#fb6a4a"/>
<path d="M1646.96 1117.97A61 61 0 0 1 1624.79 1139.04L1610.04 1112.46A30.6 30.6 0 0 0 1621.16 1101.89Z" fill="#fb6a4a"/>
<path d="M1624.79 1139.04A61 61 0 0 1 1595.19 1146.7L1595.19 1116.3A30.6 30.6 0 0 0 1610.04 1112.46Z" fill="#fc9272"/>
<path d="M1595.19 1146.7A61 61 0 0 1 1565.59 1139.04L1580.34 1112.46A30.6 30.6 0 0 0 1595.19 1116.3Z" fill="#fc9272"/>
<path d="M1565.59 1139.04A61 61 0 0 1 1543.42 1117.97L1569.22 1101.89A30.6 30.6 0 0 0 1580.34 1112.46Z" fill="#fc9272"/>
<path d="M1543.42 1117.97A61 61 0 0 1 1534.27 1088.79L1564.63 1087.25A30.6 30.6 0 0 0 1569.22 1101.89Z" fill="#fc9272"/>
<path d="M1534.27 1088.79A61 61 0 0 1 1540.42 1058.84L1567.72 1072.22A30.6 30.6 0 0 0 1564.63 1087.25Z" fill="#fc9272"/>
<path d="M1540.42 1058.84A61 61 0 0 1 1560.34 1035.63L1577.71 1060.58A30.6 30.6 0 0 0 1567.72 1072.22Z" fill="#fb6a4a"/>
<path d="M1560.34 1035.63A61 61 0 0 1 1589.02 1025.01L1592.09 1055.26A30.6 30.6 0 0 0 1577.71 1060.58Z" fill="#ef3b2c"/>
<circle cx="1595.19" cy="1085.7" r="30.6" fill="#fc9272" class="ic"/>
<text transform="translate(1595.19 1095.9) scale(1 1.05)" fill="#2b2b2b" font-size="28">1982</text>
<path d="M1728.98 1025.01A61 61 0 0 1 1757.66 1035.63L1740.29 1060.58A30.6 30.6 0 0 0 1725.91 1055.26Z" fill="#ef3b2c"/>
<path d="M1757.66 1035.63A61 61 0 0 1 1777.58 1058.84L1750.28 1072.22A30.6 30.6 0 0 0 1740.29 1060.58Z" fill="#ef3b2c"/>
<path d="M1777.58 1058.84A61 61 0 0 1 1783.73 1088.79L1753.37 1087.25A30.6 30.6 0 0 0 1750.28 1072.22Z" fill="#ef3b2c"/>
<path d="M1783.73 1088.79A61 61 0 0 1 1774.58 1117.97L1748.78 1101.89A30.6 30.6 0 0 0 1753.37 1087.25Z" fill="#fb6a4a"/>
<path d="M1774.58 1117.97A61 61 0 0 1 1752.41 1139.04L1737.66 1112.46A30.6 30.6 0 0 0 1748.78 1101.89Z" fill="#fb6a4a"/>
<path d="M1752.41 1139.04A61 61 0 0 1 1722.81 1146.7L1722.81 1116.3A30.6 30.6 0 0 0 1737.66 1112.46Z" fill="#fb6a4a"/>
<path d="M1722.81 1146.7A61 61 0 0 1 1693.21 1139.04L1707.96 1112.46A30.6 30.6 0 0 0 1722.81 1116.3Z" fill="#fc9272"/>
<path d="M1693.21 1139.04A61 61 0 0 1 1671.04 1117.97L1696.84 1101.89A30.6 30.6 0 0 0 1707.96 1112.46Z" fill="#fb6a4a"/>
<path d="M1671.04 1117.97A61 61 0 0 1 1661.89 1088.79L1692.25 1087.25A30.6 30.6 0 0 0 1696.84 1101.89Z" fill="#ef3b2c"/>
<path d="M1661.89 1088.79A61 61 0 0 1 1668.04 1058.84L1695.34 1072.22A30.6 30.6 0 0 0 1692.25 1087.25Z" fill="#fb6a4a"/>
<path d="M1668.04 1058.84A61 61 0 0 1 1687.96 1035.63L1705.33 1060.58A30.6 30.6 0 0 0 1695.34 1072.22Z" fill="#ef3b2c"/>
<path d="M1687.96 1035.63A61 61 0 0 1 1716.64 1025.01L1719.71 1055.26A30.6 30.6 0 0 0 1705.33 1060.58Z" fill="#fb6a4a"/>
<circle cx="1722.81" cy="1085.7" r="30.6" fill="#fb6a4a" class="ic"/>
<text transform="translate(1722.81 1095.9) scale(1 1.05)" fill="#2b2b2b" font-size="28">1983</text>
<path d="M1856.6 1025.01A61 61 0 0 1 1885.28 1035.63L1867.91 1060.58A30.6 30.6 0 0 0 1853.53 1055.26Z" fill="#fb6a4a"/>
<path d="M1885.28 1035.63A61 61 0 0 1 1905.2 1058.84L1877.9 1072.22A30.6 30.6 0 0 0 1867.91 1060.58Z" fill="#fb6a4a"/>
<path d="M1905.2 1058.84A61 61 0 0 1 1911.35 1088.79L1880.99 1087.25A30.6 30.6 0 0 0 1877.9 1072.22Z" fill="#fb6a4a"/>
<path d="M1911.35 1088.79A61 61 0 0 1 1902.2 1117.97L1876.4 1101.89A30.6 30.6 0 0 0 1880.99 1087.25Z" fill="#fb6a4a"/>
<path d="M1902.2 1117.97A61 61 0 0 1 1880.03 1139.04L1865.28 1112.46A30.6 30.6 0 0 0 1876.4 1101.89Z" fill="#fb6a4a"/>
<path d="M1880.03 1139.04A61 61 0 0 1 1850.43 1146.7L1850.43 1116.3A30.6 30.6 0 0 0 1865.28 1112.46Z" fill="#fc9272"/>
<path d="M1850.43 1146.7A61 61 0 0 1 1820.83 1139.04L1835.58 1112.46A30.6 30.6 0 0 0 1850.43 1116.3Z" fill="#fc9272"/>
<path d="M1820.83 1139.04A61 61 0 0 1 1798.66 1117.97L1824.46 1101.89A30.6 30.6 0 0 0 1835.58 1112.46Z" fill="#fc9272"/>
<path d="M1798.66 1117.97A61 61 0 0 1 1789.51 1088.79L1819.87 1087.25A30.6 30.6 0 0 0 1824.46 1101.89Z" fill="#fb6a4a"/>
<path d="M1789.51 1088.79A61 61 0 0 1 1795.66 1058.84L1822.96 1072.22A30.6 30.6 0 0 0 1819.87 1087.25Z" fill="#fc9272"/>
<path d="M1795.66 1058.84A61 61 0 0 1 1815.58 1035.63L1832.95 1060.58A30.6 30.6 0 0 0 1822.96 1072.22Z" fill="#fc9272"/>
<path d="M1815.58 1035.63A61 61 0 0 1 1844.26 1025.01L1847.33 1055.26A30.6 30.6 0 0 0 1832.95 1060.58Z" fill="#fc9272"/>
<circle cx="1850.43" cy="1085.7" r="30.6" fill="#fb6a4a" class="ic"/>
<text transform="translate(1850.43 1095.9) scale(1 1.05)" fill="#2b2b2b" font-size="28">1984</text>
<path d="M1984.22 1025.01A61 61 0 0 1 2012.9 1035.63L1995.53 1060.58A30.6 30.6 0 0 0 1981.15 1055.26Z" fill="#fb6a4a"/>
<path d="M2012.9 1035.63A61 61 0 0 1 2032.82 1058.84L2005.52 1072.22A30.6 30.6 0 0 0 1995.53 1060.58Z" fill="#fc9272"/>
<path d="M2032.82 1058.84A61 61 0 0 1 2038.97 1088.79L2008.61 1087.25A30.6 30.6 0 0 0 2005.52 1072.22Z" fill="#fb6a4a"/>
<path d="M2038.97 1088.79A61 61 0 0 1 2029.82 1117.97L2004.02 1101.89A30.6 30.6 0 0 0 2008.61 1087.25Z" fill="#fc9272"/>
<path d="M2029.82 1117.97A61 61 0 0 1 2007.65 1139.04L1992.9 1112.46A30.6 30.6 0 0 0 2004.02 1101.89Z" fill="#fb6a4a"/>
<path d="M2007.65 1139.04A61 61 0 0 1 1978.05 1146.7L1978.05 1116.3A30.6 30.6 0 0 0 1992.9 1112.46Z" fill="#fb6a4a"/>
<path d="M1978.05 1146.7A61 61 0 0 1 1948.45 1139.04L1963.2 1112.46A30.6 30.6 0 0 0 1978.05 1116.3Z" fill="#fc9272"/>
<path d="M1948.45 1139.04A61 61 0 0 1 1926.28 1117.97L1952.08 1101.89A30.6 30.6 0 0 0 1963.2 1112.46Z" fill="#fc9272"/>
<path d="M1926.28 1117.97A61 61 0 0 1 1917.13 1088.79L1947.49 1087.25A30.6 30.6 0 0 0 1952.08 1101.89Z" fill="#fc9272"/>
<path d="M1917.13 1088.79A61 61 0 0 1 1923.28 1058.84L1950.58 1072.22A30.6 30.6 0 0 0 1947.49 1087.25Z" fill="#fc9272"/>
<path d="M1923.28 1058.84A61 61 0 0 1 1943.2 1035.63L1960.57 1060.58A30.6 30.6 0 0 0 1950.58 1072.22Z" fill="#fb6a4a"/>
<path d="M1943.2 1035.63A61 61 0 0 1 1971.88 1025.01L1974.95 1055.26A30.6 30.6 0 0 0 1960.57 1060.58Z" fill="#fb6a4a"/>
<circle cx="1978.05" cy="1085.7" r="30.6" fill="#fb6a4a" class="ic"/>
<text transform="translate(1978.05 1095.9) scale(1 1.05)" fill="#2b2b2b" font-size="28">1985</text>
<path d="M2111.84 1025.01A61 61 0 0 1 2140.52 1035.63L2123.15 1060.58A30.6 30.6 0 0 0 2108.77 1055.26Z" fill="#fb6a4a"/>
<path d="M2140.52 1035.63A61 61 0 0 1 2160.44 1058.84L2133.14 1072.22A30.6 30.6 0 0 0 2123.15 1060.58Z" fill="#ef3b2c"/>
<path d="M2160.44 1058.84A61 61 0 0 1 2166.59 1088.79L2136.23 1087.25A30.6 30.6 0 0 0 2133.14 1072.22Z" fill="#fb6a4a"/>
<path d="M2166.59 1088.79A61 61 0 0 1 2157.44 1117.97L2131.64 1101.89A30.6 30.6 0 0 0 2136.23 1087.25Z" fill="#fb6a4a"/>
<path d="M2157.44 1117.97A61 61 0 0 1 2135.27 1139.04L2120.52 1112.46A30.6 30.6 0 0 0 2131.64 1101.89Z" fill="#fb6a4a"/>
<path d="M2135.27 1139.04A61 61 0 0 1 2105.67 1146.7L2105.67 1116.3A30.6 30.6 0 0 0 2120.52 1112.46Z" fill="#fc9272"/>
<path d="M2105.67 1146.7A61 61 0 0 1 2076.07 1139.04L2090.82 1112.46A30.6 30.6 0 0 0 2105.67 1116.3Z" fill="#fc9272"/>
<path d="M2076.07 1139.04A61 61 0 0 1 2053.9 1117.97L2079.7 1101.89A30.6 30.6 0 0 0 2090.82 1112.46Z" fill="#fc9272"/>
<path d="M2053.9 1117.97A61 61 0 0 1 2044.75 1088.79L2075.11 1087.25A30.6 30.6 0 0 0 2079.7 1101.89Z" fill="#fc9272"/>
<path d="M2044.75 1088.79A61 61 0 0 1 2050.9 1058.84L2078.2 1072.22A30.6 30.6 0 0 0 2075.11 1087.25Z" fill="#fc9272"/>
<path d="M2050.9 1058.84A61 61 0 0 1 2070.82 1035.63L2088.19 1060.58A30.6 30.6 0 0 0 2078.2 1072.22Z" fill="#fb6a4a"/>
<path d="M2070.82 1035.63A61 61 0 0 1 2099.5 1025.01L2102.57 1055.26A30.6 30.6 0 0 0 2088.19 1060.58Z" fill="#fb6a4a"/>
<circle cx="2105.67" cy="1085.7" r="30.6" fill="#fb6a4a" class="ic"/>
<text transform="translate(2105.67 1095.9) scale(1 1.05)" fill="#2b2b2b" font-size="28">1986</text>
<path d="M69.92 1152.61A61 61 0 0 1 98.6 1163.23L81.23 1188.18A30.6 30.6 0 0 0 66.85 1182.86Z" fill="#ef3b2c"/>
<path d="M98.6 1163.23A61 61 0 0 1 118.52 1186.44L91.22 1199.82A30.6 30.6 0 0 0 81.23 1188.18Z" fill="#ef3b2c"/>
<path d="M118.52 1186.44A61 61 0 0 1 124.67 1216.39L94.31 1214.85A30.6 30.6 0 0 0 91.22 1199.82Z" fill="#fb6a4a"/>
<path d="M124.67 1216.39A61 61 0 0 1 115.52 1245.57L89.72 1229.49A30.6 30.6 0 0 0 94.31 1214.85Z" fill="#fb6a4a"/>
<path d="M115.52 1245.57A61 61 0 0 1 93.35 1266.64L78.6 1240.06A30.6 30.6 0 0 0 89.72 1229.49Z" fill="#fb6a4a"/>
<path d="M93.35 1266.64A61 61 0 0 1 63.75 1274.3L63.75 1243.9A30.6 30.6 0 0 0 78.6 1240.06Z" fill="#fb6a4a"/>
<path d="M63.75 1274.3A61 61 0 0 1 34.15 1266.64L48.9 1240.06A30.6 30.6 0 0 0 63.75 1243.9Z" fill="#ef3b2c"/>
<path d="M34.15 1266.64A61 61 0 0 1 11.98 1245.57L37.78 1229.49A30.6 30.6 0 0 0 48.9 1240.06Z" fill="#fb6a4a"/>
<path d="M11.98 1245.57A61 61 0 0 1 2.83 1216.39L33.19 1214.85A30.6 30.6 0 0 0 37.78 1229.49Z" fill="#fb6a4a"/>
<path d="M2.83 1216.39A61 61 0 0 1 8.98 1186.44L36.28 1199.82A30.6 30.6 0 0 0 33.19 1214.85Z" fill="#fb6a4a"/>
<path d="M8.98 1186.44A61 61 0 0 1 28.9 1163.23L46.27 1188.18A30.6 30.6 0 0 0 36.28 1199.82Z" fill="#fb6a4a"/>
<path d="M28.9 1163.23A61 61 0 0 1 57.58 1152.61L60.65 1182.86A30.6 30.6 0 0 0 46.27 1188.18Z" fill="#ef3b2c"/>
<circle cx="63.75" cy="1213.3" r="30.6" fill="#fb6a4a" class="ic"/>
<text transform="translate(63.75 1223.5) scale(1 1.05)" fill="#2b2b2b" font-size="28">1987</text>
<path d="M197.54 1152.61A61 61 0 0 1 226.22 1163.23L208.85 1188.18A30.6 30.6 0 0 0 194.47 1182.86Z" fill="#cb181d"/>
<path d="M226.22 1163.23A61 61 0 0 1 246.14 1186.44L218.84 1199.82A30.6 30.6 0 0 0 208.85 1188.18Z" fill="#ef3b2c"/>
<path d="M246.14 1186.44A61 61 0 0 1 252.29 1216.39L221.93 1214.85A30.6 30.6 0 0 0 218.84 1199.82Z" fill="#cb181d"/>
<path d="M252.29 1216.39A61 61 0 0 1 243.14 1245.57L217.34 1229.49A30.6 30.6 0 0 0 221.93 1214.85Z" fill="#ef3b2c"/>
<path d="M243.14 1245.57A61 61 0 0 1 220.97 1266.64L206.22 1240.06A30.6 30.6 0 0 0 217.34 1229.49Z" fill="#ef3b2c"/>
<path d="M220.97 1266.64A61 61 0 0 1 191.37 1274.3L191.37 1243.9A30.6 30.6 0 0 0 206.22 1240.06Z" fill="#ef3b2c"/>
<path d="M191.37 1274.3A61 61 0 0 1 161.77 1266.64L176.52 1240.06A30.6 30.6 0 0 0 191.37 1243.9Z" fill="#fb6a4a"/>
<path d="M161.77 1266.64A61 61 0 0 1 139.6 1245.57L165.4 1229.49A30.6 30.6 0 0 0 176.52 1240.06Z" fill="#fb6a4a"/>
<path d="M139.6 1245.57A61 61 0 0 1 130.45 1216.39L160.81 1214.85A30.6 30.6 0 0 0 165.4 1229.49Z" fill="#fb6a4a"/>
<path d="M130.45 1216.39A61 61 0 0 1 136.6 1186.44L163.9 1199.82A30.6 30.6 0 0 0 160.81 1214.85Z" fill="#fb6a4a"/>
<path d="M136.6 1186.44A61 61 0 0 1 156.52 1163.23L173.89 1188.18A30.6 30.6 0 0 0 163.9 1199.82Z" fill="#fb6a4a"/>
<path d="M156.52 1163.23A61 61 0 0 1 185.2 1152.61L188.27 1182.86A30.6 30.6 0 0 0 173.89 1188.18Z" fill="#fb6a4a"/>
<circle cx="191.37" cy="1213.3" r="30.6" fill="#ef3b2c" class="ic"/>
<text transform="translate(191.37 1223.5) scale(1 1.05)" fill="#e9e4e4" font-size="28">1988</text>
<path d="M325.16 1152.61A61 61 0 0 1 353.84 1163.23L336.47 1188.18A30.6 30.6 0 0 0 322.09 1182.86Z" fill="#fc9272"/>
<path d="M353.84 1163.23A61 61 0 0 1 373.76 1186.44L346.46 1199.82A30.6 30.6 0 0 0 336.47 1188.18Z" fill="#ef3b2c"/>
<path d="M373.76 1186.44A61 61 0 0 1 379.91 1216.39L349.55 1214.85A30.6 30.6 0 0 0 346.46 1199.82Z" fill="#ef3b2c"/>
<path d="M379.91 1216.39A61 61 0 0 1 370.76 1245.57L344.96 1229.49A30.6 30.6 0 0 0 349.55 1214.85Z" fill="#fb6a4a"/>
<path d="M370.76 1245.57A61 61 0 0 1 348.59 1266.64L333.84 1240.06A30.6 30.6 0 0 0 344.96 1229.49Z" fill="#fb6a4a"/>
<path d="M348.59 1266.64A61 61 0 0 1 318.99 1274.3L318.99 1243.9A30.6 30.6 0 0 0 333.84 1240.06Z" fill="#fb6a4a"/>
<path d="M318.99 1274.3A61 61 0 0 1 289.39 1266.64L304.14 1240.06A30.6 30.6 0 0 0 318.99 1243.9Z" fill="#fb6a4a"/>
<path d="M289.39 1266.64A61 61 0 0 1 267.22 1245.57L293.02 1229.49A30.6 30.6 0 0 0 304.14 1240.06Z" fill="#fb6a4a"/>
<path d="M267.22 1245.57A61 61 0 0 1 258.07 1216.39L288.43 1214.85A30.6 30.6 0 0 0 293.02 1229.49Z" fill="#fb6a4a"/>
<path d="M258.07 1216.39A61 61 0 0 1 264.22 1186.44L291.52 1199.82A30.6 30.6 0 0 0 288.43 1214.85Z" fill="#fb6a4a"/>
<path d="M264.22 1186.44A61 61 0 0 1 284.14 1163.23L301.51 1188.18A30.6 30.6 0 0 0 291.52 1199.82Z" fill="#fb6a4a"/>
<path d="M284.14 1163.23A61 61 0 0 1 312.82 1152.61L315.89 1182.86A30.6 30.6 0 0 0 301.51 1188.18Z" fill="#ef3b2c"/>
<circle cx="318.99" cy="1213.3" r="30.6" fill="#fb6a4a" class="ic"/>
<text transform="translate(318.99 1223.5) scale(1 1.05)" fill="#2b2b2b" font-size="28">1989</text>
<path d="M452.78 1152.61A61 61 0 0 1 481.46 1163.23L464.09 1188.18A30.6 30.6 0 0 0 449.71 1182.86Z" fill="#ef3b2c"/>
<path d="M481.46 1163.23A61 61 0 0 1 501.38 1186.44L474.08 1199.82A30.6 30.6 0 0 0 464.09 1188.18Z" fill="#ef3b2c"/>
<path d="M501.38 1186.44A61 61 0 0 1 507.53 1216.39L477.17 1214.85A30.6 30.6 0 0 0 474.08 1199.82Z" fill="#a50f15"/>
<path d="M507.53 1216.39A61 61 0 0 1 498.38 1245.57L472.58 1229.49A30.6 30.6 0 0 0 477.17 1214.85Z" fill="#cb181d"/>
<path d="M498.38 1245.57A61 61 0 0 1 476.21 1266.64L461.46 1240.06A30.6 30.6 0 0 0 472.58 1229.49Z" fill="#ef3b2c"/>
<path d="M476.21 1266.64A61 61 0 0 1 446.61 1274.3L446.61 1243.9A30.6 30.6 0 0 0 461.46 1240.06Z" fill="#ef3b2c"/>
<path d="M446.61 1274.3A61 61 0 0 1 417.01 1266.64L431.76 1240.06A30.6 30.6 0 0 0 446.61 1243.9Z" fill="#ef3b2c"/>
<path d="M417.01 1266.64A61 61 0 0 1 394.84 1245.57L420.64 1229.49A30.6 30.6 0 0 0 431.76 1240.06Z" fill="#ef3b2c"/>
<path d="M394.84 1245.57A61 61 0 0 1 385.69 1216.39L416.05 1214.85A30.6 30.6 0 0 0 420.64 1229.49Z" fill="#fb6a4a"/>
<path d="M385.69 1216.39A61 61 0 0 1 391.84 1186.44L419.14 1199.82A30.6 30.6 0 0 0 416.05 1214.85Z" fill="#fb6a4a"/>
<path d="M391.84 1186.44A61 61 0 0 1 411.76 1163.23L429.13 1188.18A30.6 30.6 0 0 0 419.14 1199.82Z" fill="#ef3b2c"/>
<path d="M411.76 1163.23A61 61 0 0 1 440.44 1152.61L443.51 1182.86A30.6 30.6 0 0 0 429.13 1188.18Z" fill="#ef3b2c"/>
<circle cx="446.61" cy="1213.3" r="30.6" fill="#ef3b2c" class="ic"/>
<text transform="translate(446.61 1223.5) scale(1 1.05)" fill="#e9e4e4" font-size="28">1990</text>
<path d="M580.4 1152.61A61 61 0 0 1 609.08 1163.23L591.71 1188.18A30.6 30.6 0 0 0 577.33 1182.86Z" fill="#ef3b2c"/>
<path d="M609.08 1163.23A61 61 0 0 1 629 1186.44L601.7 1199.82A30.6 30.6 0 0 0 591.71 1188.18Z" fill="#cb181d"/>
<path d="M629 1186.44A61 61 0 0 1 635.15 1216.39L604.79 1214.85A30.6 30.6 0 0 0 601.7 1199.82Z" fill="#ef3b2c"/>
<path d="M635.15 1216.39A61 61 0 0 1 626 1245.57L600.2 1229.49A30.6 30.6 0 0 0 604.79 1214.85Z" fill="#cb181d"/>
<path d="M626 1245.57A61 61 0 0 1 603.83 1266.64L589.08 1240.06A30.6 30.6 0 0 0 600.2 1229.49Z" fill="#ef3b2c"/>
<path d="M603.83 1266.64A61 61 0 0 1 574.23 1274.3L574.23 1243.9A30.6 30.6 0 0 0 589.08 1240.06Z" fill="#ef3b2c"/>
<path d="M574.23 1274.3A61 61 0 0 1 544.63 1266.64L559.38 1240.06A30.6 30.6 0 0 0 574.23 1243.9Z" fill="#ef3b2c"/>
<path d="M544.63 1266.64A61 61 0 0 1 522.46 1245.57L548.26 1229.49A30.6 30.6 0 0 0 559.38 1240.06Z" fill="#ef3b2c"/>
<path d="M522.46 1245.57A61 61 0 0 1 513.31 1216.39L543.67 1214.85A30.6 30.6 0 0 0 548.26 1229.49Z" fill="#ef3b2c"/>
<path d="M513.31 1216.39A61 61 0 0 1 519.46 1186.44L546.76 1199.82A30.6 30.6 0 0 0 543.67 1214.85Z" fill="#fb6a4a"/>
<path d="M519.46 1186.44A61 61 0 0 1 539.38 1163.23L556.75 1188.18A30.6 30.6 0 0 0 546.76 1199.82Z" fill="#ef3b2c"/>
<path d="M539.38 1163.23A61 61 0 0 1 568.06 1152.61L571.13 1182.86A30.6 30.6 0 0 0 556.75 1188.18Z" fill="#ef3b2c"/>
<circle cx="574.23" cy="1213.3" r="30.6" fill="#ef3b2c" class="ic"/>
<text transform="translate(574.23 1223.5) scale(1 1.05)" fill="#e9e4e4" font-size="28">1991</text>
<path d="M708.02 1152.61A61 61 0 0 1 736.7 1163.23L719.33 1188.18A30.6 30.6 0 0 0 704.95 1182.86Z" fill="#ef3b2c"/>
<path d="M736.7 1163.23A61 61 0 0 1 756.62 1186.44L729.32 1199.82A30.6 30.6 0 0 0 719.33 1188.18Z" fill="#ef3b2c"/>
<path d="M756.62 1186.44A61 61 0 0 1 762.77 1216.39L732.41 1214.85A30.6 30.6 0 0 0 729.32 1199.82Z" fill="#ef3b2c"/>
<path d="M762.77 1216.39A61 61 0 0 1 753.62 1245.57L727.82 1229.49A30.6 30.6 0 0 0 732.41 1214.85Z" fill="#fb6a4a"/>
<path d="M753.62 1245.57A61 61 0 0 1 731.45 1266.64L716.7 1240.06A30.6 30.6 0 0 0 727.82 1229.49Z" fill="#fb6a4a"/>
<path d="M731.45 1266.64A61 61 0 0 1 701.85 1274.3L701.85 1243.9A30.6 30.6 0 0 0 716.7 1240.06Z" fill="#fb6a4a"/>
<path d="M701.85 1274.3A61 61 0 0 1 672.25 1266.64L687 1240.06A30.6 30.6 0 0 0 701.85 1243.9Z" fill="#fc9272"/>
<path d="M672.25 1266.64A61 61 0 0 1 650.08 1245.57L675.88 1229.49A30.6 30.6 0 0 0 687 1240.06Z" fill="#fc9272"/>
<path d="M650.08 1245.57A61 61 0 0 1 640.93 1216.39L671.29 1214.85A30.6 30.6 0 0 0 675.88 1229.49Z" fill="#fcbba1"/>
<path d="M640.93 1216.39A61 61 0 0 1 647.08 1186.44L674.38 1199.82A30.6 30.6 0 0 0 671.29 1214.85Z" fill="#fc9272"/>
<path d="M647.08 1186.44A61 61 0 0 1 667 1163.23L684.37 1188.18A30.6 30.6 0 0 0 674.38 1199.82Z" fill="#fc9272"/>
<path d="M667 1163.23A61 61 0 0 1 695.68 1152.61L698.75 1182.86A30.6 30.6 0 0 0 684.37 1188.18Z" fill="#fb6a4a"/>
<circle cx="701.85" cy="1213.3" r="30.6" fill="#fb6a4a" class="ic"/>
<text transform="translate(701.85 1223.5) scale(1 1.05)" fill="#2b2b2b" font-size="28">1992</text>
<path d="M835.64 1152.61A61 61 0 0 1 864.32 1163.23L846.95 1188.18A30.6 30.6 0 0 0 832.57 1182.86Z" fill="#ef3b2c"/>
<path d="M864.32 1163.23A61 61 0 0 1 884.24 1186.44L856.94 1199.82A30.6 30.6 0 0 0 846.95 1188.18Z" fill="#ef3b2c"/>
<path d="M884.24 1186.44A61 61 0 0 1 890.39 1216.39L860.03 1214.85A30.6 30.6 0 0 0 856.94 1199.82Z" fill="#ef3b2c"/>
<path d="M890.39 1216.39A61 61 0 0 1 881.24 1245.57L855.44 1229.49A30.6 30.6 0 0 0 860.03 1214.85Z" fill="#fb6a4a"/>
<path d="M881.24 1245.57A61 61 0 0 1 859.07 1266.64L844.32 1240.06A30.6 30.6 0 0 0 855.44 1229.49Z" fill="#fb6a4a"/>
<path d="M859.07 1266.64A61 61 0 0 1 829.47 1274.3L829.47 1243.9A30.6 30.6 0 0 0 844.32 1240.06Z" fill="#fb6a4a"/>
<path d="M829.47 1274.3A61 61 0 0 1 799.87 1266.64L814.62 1240.06A30.6 30.6 0 0 0 829.47 1243.9Z" fill="#fb6a4a"/>
<path d="M799.87 1266.64A61 61 0 0 1 777.7 1245.57L803.5 1229.49A30.6 30.6 0 0 0 814.62 1240.06Z" fill="#fc9272"/>
<path d="M777.7 1245.57A61 61 0 0 1 768.55 1216.39L798.91 1214.85A30.6 30.6 0 0 0 803.5 1229.49Z" fill="#fc9272"/>
<path d="M768.55 1216.39A61 61 0 0 1 774.7 1186.44L802 1199.82A30.6 30.6 0 0 0 798.91 1214.85Z" fill="#fb6a4a"/>
<path d="M774.7 1186.44A61 61 0 0 1 794.62 1163.23L811.99 1188.18A30.6 30.6 0 0 0 802 1199.82Z" fill="#fb6a4a"/>
<path d="M794.62 1163.23A61 61 0 0 1 823.3 1152.61L826.37 1182.86A30.6 30.6 0 0 0 811.99 1188.18Z" fill="#fb6a4a"/>
<circle cx="829.47" cy="1213.3" r="30.6" fill="#fb6a4a" class="ic"/>
<text transform="translate(829.47 1223.5) scale(1 1.05)" fill="#2b2b2b" font-size="28">1993</text>
<path d="M963.26 1152.61A61 61 0 0 1 991.94 1163.23L974.57 1188.18A30.6 30.6 0 0 0 960.19 1182.86Z" fill="#ef3b2c"/>
<path d="M991.94 1163.23A61 61 0 0 1 1011.86 1186.44L984.56 1199.82A30.6 30.6 0 0 0 974.57 1188.18Z" fill="#fb6a4a"/>
<path d="M1011.86 1186.44A61 61 0 0 1 1018.01 1216.39L987.65 1214.85A30.6 30.6 0 0 0 984.56 1199.82Z" fill="#ef3b2c"/>
<path d="M1018.01 1216.39A61 61 0 0 1 1008.86 1245.57L983.06 1229.49A30.6 30.6 0 0 0 987.65 1214.85Z" fill="#ef3b2c"/>
<path d="M1008.86 1245.57A61 61 0 0 1 986.69 1266.64L971.94 1240.06A30.6 30.6 0 0 0 983.06 1229.49Z" fill="#fb6a4a"/>
<path d="M986.69 1266.64A61 61 0 0 1 957.09 1274.3L957.09 1243.9A30.6 30.6 0 0 0 971.94 1240.06Z" fill="#ef3b2c"/>
<path d="M957.09 1274.3A61 61 0 0 1 927.49 1266.64L942.24 1240.06A30.6 30.6 0 0 0 957.09 1243.9Z" fill="#fb6a4a"/>
<path d="M927.49 1266.64A61 61 0 0 1 905.32 1245.57L931.12 1229.49A30.6 30.6 0 0 0 942.24 1240.06Z" fill="#fb6a4a"/>
<path d="M905.32 1245.57A61 61 0 0 1 896.17 1216.39L926.53 1214.85A30.6 30.6 0 0 0 931.12 1229.49Z" fill="#fb6a4a"/>
<path d="M896.17 1216.39A61 61 0 0 1 902.32 1186.44L929.62 1199.82A30.6 30.6 0 0 0 926.53 1214.85Z" fill="#ef3b2c"/>
<path d="M902.32 1186.44A61 61 0 0 1 922.24 1163.23L939.61 1188.18A30.6 30.6 0 0 0 929.62 1199.82Z" fill="#ef3b2c"/>
<path d="M922.24 1163.23A61 61 0 0 1 950.92 1152.61L953.99 1182.86A30.6 30.6 0 0 0 939.61 1188.18Z" fill="#ef3b2c"/>
<circle cx="957.09" cy="1213.3" r="30.6" fill="#fb6a4a" class="ic"/>
<text transform="translate(957.09 1223.5) scale(1 1.05)" fill="#2b2b2b" font-size="28">1994</text>
<path d="M1090.88 1152.61A61 61 0 0 1 1119.56 1163.23L1102.19 1188.18A30.6 30.6 0 0 0 1087.81 1182.86Z" fill="#cb181d"/>
<path d="M1119.56 1163.23A61 61 0 0 1 1139.48 1186.44L1112.18 1199.82A30.6 30.6 0 0 0 1102.19 1188.18Z" fill="#a50f15"/>
<path d="M1139.48 1186.44A61 61 0 0 1 1145.63 1216.39L1115.27 1214.85A30.6 30.6 0 0 0 1112.18 1199.82Z" fill="#ef3b2c"/>
<path d="M1145.63 1216.39A61 61 0 0 1 1136.48 1245.57L1110.68 1229.49A30.6 30.6 0 0 0 1115.27 1214.85Z" fill="#cb181d"/>
<path d="M1136.48 1245.57A61 61 0 0 1 1114.31 1266.64L1099.56 1240.06A30.6 30.6 0 0 0 1110.68 1229.49Z" fill="#ef3b2c"/>
<path d="M1114.31 1266.64A61 61 0 0 1 1084.71 1274.3L1084.71 1243.9A30.6 30.6 0 0 0 1099.56 1240.06Z" fill="#ef3b2c"/>
<path d="M1084.71 1274.3A61 61 0 0 1 1055.11 1266.64L1069.86 1240.06A30.6 30.6 0 0 0 1084.71 1243.9Z" fill="#ef3b2c"/>
<path d="M1055.11 1266.64A61 61 0 0 1 1032.94 1245.57L1058.74 1229.49A30.6 30.6 0 0 0 1069.86 1240.06Z" fill="#ef3b2c"/>
<path d="M1032.94 1245.57A61 61 0 0 1 1023.79 1216.39L1054.15 1214.85A30.6 30.6 0 0 0 1058.74 1229.49Z" fill="#fb6a4a"/>
<path d="M1023.79 1216.39A61 61 0 0 1 1029.94 1186.44L1057.24 1199.82A30.6 30.6 0 0 0 1054.15 1214.85Z" fill="#ef3b2c"/>
<path d="M1029.94 1186.44A61 61 0 0 1 1049.86 1163.23L1067.23 1188.18A30.6 30.6 0 0 0 1057.24 1199.82Z" fill="#ef3b2c"/>
<path d="M1049.86 1163.23A61 61 0 0 1 1078.54 1152.61L1081.61 1182.86A30.6 30.6 0 0 0 1067.23 1188.18Z" fill="#fb6a4a"/>
<circle cx="1084.71" cy="1213.3" r="30.6" fill="#ef3b2c" class="ic"/>
<text transform="translate(1084.71 1223.5) scale(1 1.05)" fill="#e9e4e4" font-size="28">1995</text>
<path d="M1218.5 1152.61A61 61 0 0 1 1247.18 1163.23L1229.81 1188.18A30.6 30.6 0 0 0 1215.43 1182.86Z" fill="#ef3b2c"/>
<path d="M1247.18 1163.23A61 61 0 0 1 1267.1 1186.44L1239.8 1199.82A30.6 30.6 0 0 0 1229.81 1188.18Z" fill="#cb181d"/>
<path d="M1267.1 1186.44A61 61 0 0 1 1273.25 1216.39L1242.89 1214.85A30.6 30.6 0 0 0 1239.8 1199.82Z" fill="#ef3b2c"/>
<path d="M1273.25 1216.39A61 61 0 0 1 1264.1 1245.57L1238.3 1229.49A30.6 30.6 0 0 0 1242.89 1214.85Z" fill="#ef3b2c"/>
<path d="M1264.1 1245.57A61 61 0 0 1 1241.93 1266.64L1227.18 1240.06A30.6 30.6 0 0 0 1238.3 1229.49Z" fill="#ef3b2c"/>
<path d="M1241.93 1266.64A61 61 0 0 1 1212.33 1274.3L1212.33 1243.9A30.6 30.6 0 0 0 1227.18 1240.06Z" fill="#fb6a4a"/>
<path d="M1212.33 1274.3A61 61 0 0 1 1182.73 1266.64L1197.48 1240.06A30.6 30.6 0 0 0 1212.33 1243.9Z" fill="#fb6a4a"/>
<path d="M1182.73 1266.64A61 61 0 0 1 1160.56 1245.57L1186.36 1229.49A30.6 30.6 0 0 0 1197.48 1240.06Z" fill="#ef3b2c"/>
<path d="M1160.56 1245.57A61 61 0 0 1 1151.41 1216.39L1181.77 1214.85A30.6 30.6 0 0 0 1186.36 1229.49Z" fill="#fb6a4a"/>
<path d="M1151.41 1216.39A61 61 0 0 1 1157.56 1186.44L1184.86 1199.82A30.6 30.6 0 0 0 1181.77 1214.85Z" fill="#fb6a4a"/>
<path d="M1157.56 1186.44A61 61 0 0 1 1177.48 1163.23L1194.85 1188.18A30.6 30.6 0 0 0 1184.86 1199.82Z" fill="#ef3b2c"/>
<path d="M1177.48 1163.23A61 61 0 0 1 1206.16 1152.61L1209.23 1182.86A30.6 30.6 0 0 0 1194.85 1188.18Z" fill="#ef3b2c"/>
<circle cx="1212.33" cy="1213.3" r="30.6" fill="#ef3b2c" class="ic"/>
<text transform="translate(1212.33 1223.5) scale(1 1.05)" fill="#e9e4e4" font-size="28">1996</text>
<path d="M1346.12 1152.61A61 61 0 0 1 1374.8 1163.23L1357.43 1188.18A30.6 30.6 0 0 0 1343.05 1182.86Z" fill="#ef3b2c"/>
<path d="M1374.8 1163.23A61 61 0 0 1 1394.72 1186.44L1367.42 1199.82A30.6 30.6 0 0 0 1357.43 1188.18Z" fill="#ef3b2c"/>
<path d="M1394.72 1186.44A61 61 0 0 1 1400.87 1216.39L1370.51 1214.85A30.6 30.6 0 0 0 1367.42 1199.82Z" fill="#cb181d"/>
<path d="M1400.87 1216.39A61 61 0 0 1 1391.72 1245.57L1365.92 1229.49A30.6 30.6 0 0 0 1370.51 1214.85Z" fill="#ef3b2c"/>
<path d="M1391.72 1245.57A61 61 0 0 1 1369.55 1266.64L1354.8 1240.06A30.6 30.6 0 0 0 1365.92 1229.49Z" fill="#ef3b2c"/>
<path d="M1369.55 1266.64A61 61 0 0 1 1339.95 1274.3L1339.95 1243.9A30.6 30.6 0 0 0 1354.8 1240.06Z" fill="#cb181d"/>
<path d="M1339.95 1274.3A61 61 0 0 1 1310.35 1266.64L1325.1 1240.06A30.6 30.6 0 0 0 1339.95 1243.9Z" fill="#ef3b2c"/>
<path d="M1310.35 1266.64A61 61 0 0 1 1288.18 1245.57L1313.98 1229.49A30.6 30.6 0 0 0 1325.1 1240.06Z" fill="#ef3b2c"/>
<path d="M1288.18 1245.57A61 61 0 0 1 1279.03 1216.39L1309.39 1214.85A30.6 30.6 0 0 0 1313.98 1229.49Z" fill="#ef3b2c"/>
<path d="M1279.03 1216.39A61 61 0 0 1 1285.18 1186.44L1312.48 1199.82A30.6 30.6 0 0 0 1309.39 1214.85Z" fill="#cb181d"/>
<path d="M1285.18 1186.44A61 61 0 0 1 1305.1 1163.23L1322.47 1188.18A30.6 30.6 0 0 0 1312.48 1199.82Z" fill="#a50f15"/>
<path d="M1305.1 1163.23A61 61 0 0 1 1333.78 1152.61L1336.85 1182.86A30.6 30.6 0 0 0 1322.47 1188.18Z" fill="#cb181d"/>
<circle cx="1339.95" cy="1213.3" r="30.6" fill="#ef3b2c" class="ic"/>
<text transform="translate(1339.95 1223.5) scale(1 1.05)" fill="#e9e4e4" font-size="28">1997</text>
<path d="M1473.74 1152.61A61 61 0 0 1 1502.42 1163.23L1485.05 1188.18A30.6 30.6 0 0 0 1470.67 1182.86Z" fill="#cb181d"/>
<path d="M1502.42 1163.23A61 61 0 0 1 1522.34 1186.44L1495.04 1199.82A30.6 30.6 0 0 0 1485.05 1188.18Z" fill="#67000d"/>
<path d="M1522.34 1186.44A61 61 0 0 1 1528.49 1216.39L1498.13 1214.85A30.6 30.6 0 0 0 1495.04 1199.82Z" fill="#a50f15"/>
<path d="M1528.49 1216.39A61 61 0 0 1 1519.34 1245.57L1493.54 1229.49A30.6 30.6 0 0 0 1498.13 1214.85Z" fill="#a50f15"/>
<path d="M1519.34 1245.57A61 61 0 0 1 1497.17 1266.64L1482.42 1240.06A30.6 30.6 0 0 0 1493.54 1229.49Z" fill="#a50f15"/>
<path d="M1497.17 1266.64A61 61 0 0 1 1467.57 1274.3L1467.57 1243.9A30.6 30.6 0 0 0 1482.42 1240.06Z" fill="#a50f15"/>
<path d="M1467.57 1274.3A61 61 0 0 1 1437.97 1266.64L1452.72 1240.06A30.6 30.6 0 0 0 1467.57 1243.9Z" fill="#cb181d"/>
<path d="M1437.97 1266.64A61 61 0 0 1 1415.8 1245.57L1441.6 1229.49A30.6 30.6 0 0 0 1452.72 1240.06Z" fill="#cb181d"/>
<path d="M1415.8 1245.57A61 61 0 0 1 1406.65 1216.39L1437.01 1214.85A30.6 30.6 0 0 0 1441.6 1229.49Z" fill="#cb181d"/>
<path d="M1406.65 1216.39A61 61 0 0 1 1412.8 1186.44L1440.1 1199.82A30.6 30.6 0 0 0 1437.01 1214.85Z" fill="#ef3b2c"/>
<path d="M1412.8 1186.44A61 61 0 0 1 1432.72 1163.23L1450.09 1188.18A30.6 30.6 0 0 0 1440.1 1199.82Z" fill="#ef3b2c"/>
<path d="M1432.72 1163.23A61 61 0 0 1 1461.4 1152.61L1464.47 1182.86A30.6 30.6 0 0 0 1450.09 1188.18Z" fill="#cb181d"/>
<circle cx="1467.57" cy="1213.3" r="30.6" fill="#cb181d" class="ic"/>
<text transform="translate(1467.57 1223.5) scale(1 1.05)" fill="#e9e4e4" font-size="28">1998</text>
<path d="M1601.36 1152.61A61 61 0 0 1 1630.04 1163.23L1612.67 1188.18A30.6 30.6 0 0 0 1598.29 1182.86Z" fill="#cb181d"/>
<path d="M1630.04 1163.23A61 61 0 0 1 1649.96 1186.44L1622.66 1199.82A30.6 30.6 0 0 0 1612.67 1188.18Z" fill="#a50f15"/>
<path d="M1649.96 1186.44A61 61 0 0 1 1656.11 1216.39L1625.75 1214.85A30.6 30.6 0 0 0 1622.66 1199.82Z" fill="#ef3b2c"/>
<path d="M1656.11 1216.39A61 61 0 0 1 1646.96 1245.57L1621.16 1229.49A30.6 30.6 0 0 0 1625.75 1214.85Z" fill="#ef3b2c"/>
<path d="M1646.96 1245.57A61 61 0 0 1 1624.79 1266.64L1610.04 1240.06A30.6 30.6 0 0 0 1621.16 1229.49Z" fill="#ef3b2c"/>
<path d="M1624.79 1266.64A61 61 0 0 1 1595.19 1274.3L1595.19 1243.9A30.6 30.6 0 0 0 1610.04 1240.06Z" fill="#ef3b2c"/>
<path d="M1595.19 1274.3A61 61 0 0 1 1565.59 1266.64L1580.34 1240.06A30.6 30.6 0 0 0 1595.19 1243.9Z" fill="#fb6a4a"/>
<path d="M1565.59 1266.64A61 61 0 0 1 1543.42 1245.57L1569.22 1229.49A30.6 30.6 0 0 0 1580.34 1240.06Z" fill="#fb6a4a"/>
<path d="M1543.42 1245.57A61 61 0 0 1 1534.27 1216.39L1564.63 1214.85A30.6 30.6 0 0 0 1569.22 1229.49Z" fill="#fb6a4a"/>
<path d="M1534.27 1216.39A61 61 0 0 1 1540.42 1186.44L1567.72 1199.82A30.6 30.6 0 0 0 1564.63 1214.85Z" fill="#ef3b2c"/>
<path d="M1540.42 1186.44A61 61 0 0 1 1560.34 1163.23L1577.71 1188.18A30.6 30.6 0 0 0 1567.72 1199.82Z" fill="#ef3b2c"/>
<path d="M1560.34 1163.23A61 61 0 0 1 1589.02 1152.61L1592.09 1182.86A30.6 30.6 0 0 0 1577.71 1188.18Z" fill="#ef3b2c"/>
<circle cx="1595.19" cy="1213.3" r="30.6" fill="#ef3b2c" class="ic"/>
<text transform="translate(1595.19 1223.5) scale(1 1.05)" fill="#e9e4e4" font-size="28">1999</text>
<path d="M1728.98 1152.61A61 61 0 0 1 1757.66 1163.23L1740.29 1188.18A30.6 30.6 0 0 0 1725.91 1182.86Z" fill="#ef3b2c"/>
<path d="M1757.66 1163.23A61 61 0 0 1 1777.58 1186.44L1750.28 1199.82A30.6 30.6 0 0 0 1740.29 1188.18Z" fill="#cb181d"/>
<path d="M1777.58 1186.44A61 61 0 0 1 1783.73 1216.39L1753.37 1214.85A30.6 30.6 0 0 0 1750.28 1199.82Z" fill="#cb181d"/>
<path d="M1783.73 1216.39A61 61 0 0 1 1774.58 1245.57L1748.78 1229.49A30.6 30.6 0 0 0 1753.37 1214.85Z" fill="#cb181d"/>
<path d="M1774.58 1245.57A61 61 0 0 1 1752.41 1266.64L1737.66 1240.06A30.6 30.6 0 0 0 1748.78 1229.49Z" fill="#ef3b2c"/>
<path d="M1752.41 1266.64A61 61 0 0 1 1722.81 1274.3L1722.81 1243.9A30.6 30.6 0 0 0 1737.66 1240.06Z" fill="#ef3b2c"/>
<path d="M1722.81 1274.3A61 61 0 0 1 1693.21 1266.64L1707.96 1240.06A30.6 30.6 0 0 0 1722.81 1243.9Z" fill="#fb6a4a"/>
<path d="M1693.21 1266.64A61 61 0 0 1 1671.04 1245.57L1696.84 1229.49A30.6 30.6 0 0 0 1707.96 1240.06Z" fill="#ef3b2c"/>
<path d="M1671.04 1245.57A61 61 0 0 1 1661.89 1216.39L1692.25 1214.85A30.6 30.6 0 0 0 1696.84 1229.49Z" fill="#fb6a4a"/>
<path d="M1661.89 1216.39A61 61 0 0 1 1668.04 1186.44L1695.34 1199.82A30.6 30.6 0 0 0 1692.25 1214.85Z" fill="#fb6a4a"/>
<path d="M1668.04 1186.44A61 61 0 0 1 1687.96 1163.23L1705.33 1188.18A30.6 30.6 0 0 0 1695.34 1199.82Z" fill="#ef3b2c"/>
<path d="M1687.96 1163.23A61 61 0 0 1 1716.64 1152.61L1719.71 1182.86A30.6 30.6 0 0 0 1705.33 1188.18Z" fill="#ef3b2c"/>
<circle cx="1722.81" cy="1213.3" r="30.6" fill="#ef3b2c" class="ic"/>
<text transform="translate(1722.81 1223.5) scale(1 1.05)" fill="#e9e4e4" font-size="28">2000</text>
<path d="M1856.6 1152.61A61 61 0 0 1 1885.28 1163.23L1867.91 1188.18A30.6 30.6 0 0 0 1853.53 1182.86Z" fill="#ef3b2c"/>
<path d="M1885.28 1163.23A61 61 0 0 1 1905.2 1186.44L1877.9 1199.82A30.6 30.6 0 0 0 1867.91 1188.18Z" fill="#cb181d"/>
<path d="M1905.2 1186.44A61 61 0 0 1 1911.35 1216.39L1880.99 1214.85A30.6 30.6 0 0 0 1877.9 1199.82Z" fill="#cb181d"/>
<path d="M1911.35 1216.39A61 61 0 0 1 1902.2 1245.57L1876.4 1229.49A30.6 30.6 0 0 0 1880.99 1214.85Z" fill="#cb181d"/>
<path d="M1902.2 1245.57A61 61 0 0 1 1880.03 1266.64L1865.28 1240.06A30.6 30.6 0 0 0 1876.4 1229.49Z" fill="#cb181d"/>
<path d="M1880.03 1266.64A61 61 0 0 1 1850.43 1274.3L1850.43 1243.9A30.6 30.6 0 0 0 1865.28 1240.06Z" fill="#ef3b2c"/>
<path d="M1850.43 1274.3A61 61 0 0 1 1820.83 1266.64L1835.58 1240.06A30.6 30.6 0 0 0 1850.43 1243.9Z" fill="#ef3b2c"/>
<path d="M1820.83 1266.64A61 61 0 0 1 1798.66 1245.57L1824.46 1229.49A30.6 30.6 0 0 0 1835.58 1240.06Z" fill="#ef3b2c"/>
<path d="M1798.66 1245.57A61 61 0 0 1 1789.51 1216.39L1819.87 1214.85A30.6 30.6 0 0 0 1824.46 1229.49Z" fill="#ef3b2c"/>
<path d="M1789.51 1216.39A61 61 0 0 1 1795.66 1186.44L1822.96 1199.82A30.6 30.6 0 0 0 1819.87 1214.85Z" fill="#ef3b2c"/>
<path d="M1795.66 1186.44A61 61 0 0 1 1815.58 1163.23L1832.95 1188.18A30.6 30.6 0 0 0 1822.96 1199.82Z" fill="#a50f15"/>
<path d="M1815.58 1163.23A61 61 0 0 1 1844.26 1152.61L1847.33 1182.86A30.6 30.6 0 0 0 1832.95 1188.18Z" fill="#cb181d"/>
<circle cx="1850.43" cy="1213.3" r="30.6" fill="#cb181d" class="ic"/>
<text transform="translate(1850.43 1223.5) scale(1 1.05)" fill="#e9e4e4" font-size="28">2001</text>
<path d="M1984.22 1152.61A61 61 0 0 1 2012.9 1163.23L1995.53 1188.18A30.6 30.6 0 0 0 1981.15 1182.86Z" fill="#a50f15"/>
<path d="M2012.9 1163.23A61 61 0 0 1 2032.82 1186.44L2005.52 1199.82A30.6 30.6 0 0 0 1995.53 1188.18Z" fill="#a50f15"/>
<path d="M2032.82 1186.44A61 61 0 0 1 2038.97 1216.39L2008.61 1214.85A30.6 30.6 0 0 0 2005.52 1199.82Z" fill="#67000d"/>
<path d="M2038.97 1216.39A61 61 0 0 1 2029.82 1245.57L2004.02 1229.49A30.6 30.6 0 0 0 2008.61 1214.85Z" fill="#cb181d"/>
<path d="M2029.82 1245.57A61 61 0 0 1 2007.65 1266.64L1992.9 1240.06A30.6 30.6 0 0 0 2004.02 1229.49Z" fill="#cb181d"/>
<path d="M2007.65 1266.64A61 61 0 0 1 1978.05 1274.3L1978.05 1243.9A30.6 30.6 0 0 0 1992.9 1240.06Z" fill="#ef3b2c"/>
<path d="M1978.05 1274.3A61 61 0 0 1 1948.45 1266.64L1963.2 1240.06A30.6 30.6 0 0 0 1978.05 1243.9Z" fill="#cb181d"/>
<path d="M1948.45 1266.64A61 61 0 0 1 1926.28 1245.57L1952.08 1229.49A30.6 30.6 0 0 0 1963.2 1240.06Z" fill="#ef3b2c"/>
<path d="M1926.28 1245.57A61 61 0 0 1 1917.13 1216.39L1947.49 1214.85A30.6 30.6 0 0 0 1952.08 1229.49Z" fill="#ef3b2c"/>
<path d="M1917.13 1216.39A61 61 0 0 1 1923.28 1186.44L1950.58 1199.82A30.6 30.6 0 0 0 1947.49 1214.85Z" fill="#cb181d"/>
<path d="M1923.28 1186.44A61 61 0 0 1 1943.2 1163.23L1960.57 1188.18A30.6 30.6 0 0 0 1950.58 1199.82Z" fill="#cb181d"/>
<path d="M1943.2 1163.23A61 61 0 0 1 1971.88 1152.61L1974.95 1182.86A30.6 30.6 0 0 0 1960.57 1188.18Z" fill="#ef3b2c"/>
<circle cx="1978.05" cy="1213.3" r="30.6" fill="#cb181d" class="ic"/>
<text transform="translate(1978.05 1223.5) scale(1 1.05)" fill="#e9e4e4" font-size="28">2002</text>
<path d="M2111.84 1152.61A61 61 0 0 1 2140.52 1163.23L2123.15 1188.18A30.6 30.6 0 0 0 2108.77 1182.86Z" fill="#a50f15"/>
<path d="M2140.52 1163.23A61 61 0 0 1 2160.44 1186.44L2133.14 1199.82A30.6 30.6 0 0 0 2123.15 1188.18Z" fill="#cb181d"/>
<path d="M2160.44 1186.44A61 61 0 0 1 2166.59 1216.39L2136.23 1214.85A30.6 30.6 0 0 0 2133.14 1199.82Z" fill="#cb181d"/>
<path d="M2166.59 1216.39A61 61 0 0 1 2157.44 1245.57L2131.64 1229.49A30.6 30.6 0 0 0 2136.23 1214.85Z" fill="#cb181d"/>
<path d="M2157.44 1245.57A61 61 0 0 1 2135.27 1266.64L2120.52 1240.06A30.6 30.6 0 0 0 2131.64 1229.49Z" fill="#cb181d"/>
<path d="M2135.27 1266.64A61 61 0 0 1 2105.67 1274.3L2105.67 1243.9A30.6 30.6 0 0 0 2120.52 1240.06Z" fill="#ef3b2c"/>
<path d="M2105.67 1274.3A61 61 0 0 1 2076.07 1266.64L2090.82 1240.06A30.6 30.6 0 0 0 2105.67 1243.9Z" fill="#ef3b2c"/>
<path d="M2076.07 1266.64A61 61 0 0 1 2053.9 1245.57L2079.7 1229.49A30.6 30.6 0 0 0 2090.82 1240.06Z" fill="#cb181d"/>
<path d="M2053.9 1245.57A61 61 0 0 1 2044.75 1216.39L2075.11 1214.85A30.6 30.6 0 0 0 2079.7 1229.49Z" fill="#cb181d"/>
<path d="M2044.75 1216.39A61 61 0 0 1 2050.9 1186.44L2078.2 1199.82A30.6 30.6 0 0 0 2075.11 1214.85Z" fill="#cb181d"/>
<path d="M2050.9 1186.44A61 61 0 0 1 2070.82 1163.23L2088.19 1188.18A30.6 30.6 0 0 0 2078.2 1199.82Z" fill="#cb181d"/>
<path d="M2070.82 1163.23A61 61 0 0 1 2099.5 1152.61L2102.57 1182.86A30.6 30.6 0 0 0 2088.19 1188.18Z" fill="#a50f15"/>
<circle cx="2105.67" cy="1213.3" r="30.6" fill="#cb181d" class="ic"/>
<text transform="translate(2105.67 1223.5) scale(1 1.05)" fill="#e9e4e4" font-size="28">2003</text>
<path d="M69.92 1280.21A61 61 0 0 1 98.6 1290.83L81.23 1315.78A30.6 30.6 0 0 0 66.85 1310.46Z" fill="#cb181d"/>
<path d="M98.6 1290.83A61 61 0 0 1 118.52 1314.04L91.22 1327.42A30.6 30.6 0 0 0 81.23 1315.78Z" fill="#a50f15"/>
<path d="M118.52 1314.04A61 61 0 0 1 124.67 1343.99L94.31 1342.45A30.6 30.6 0 0 0 91.22 1327.42Z" fill="#cb181d"/>
<path d="M124.67 1343.99A61 61 0 0 1 115.52 1373.17L89.72 1357.09A30.6 30.6 0 0 0 94.31 1342.45Z" fill="#cb181d"/>
<path d="M115.52 1373.17A61 61 0 0 1 93.35 1394.24L78.6 1367.66A30.6 30.6 0 0 0 89.72 1357.09Z" fill="#ef3b2c"/>
<path d="M93.35 1394.24A61 61 0 0 1 63.75 1401.9L63.75 1371.5A30.6 30.6 0 0 0 78.6 1367.66Z" fill="#ef3b2c"/>
<path d="M63.75 1401.9A61 61 0 0 1 34.15 1394.24L48.9 1367.66A30.6 30.6 0 0 0 63.75 1371.5Z" fill="#fb6a4a"/>
<path d="M34.15 1394.24A61 61 0 0 1 11.98 1373.17L37.78 1357.09A30.6 30.6 0 0 0 48.9 1367.66Z" fill="#ef3b2c"/>
<path d="M11.98 1373.17A61 61 0 0 1 2.83 1343.99L33.19 1342.45A30.6 30.6 0 0 0 37.78 1357.09Z" fill="#ef3b2c"/>
<path d="M2.83 1343.99A61 61 0 0 1 8.98 1314.04L36.28 1327.42A30.6 30.6 0 0 0 33.19 1342.45Z" fill="#cb181d"/>
<path d="M8.98 1314.04A61 61 0 0 1 28.9 1290.83L46.27 1315.78A30.6 30.6 0 0 0 36.28 1327.42Z" fill="#a50f15"/>
<path d="M28.9 1290.83A61 61 0 0 1 57.58 1280.21L60.65 1310.46A30.6 30.6 0 0 0 46.27 1315.78Z" fill="#cb181d"/>
<circle cx="63.75" cy="1340.9" r="30.6" fill="#cb181d" class="ic"/>
<text transform="translate(63.75 1351.1) scale(1 1.05)" fill="#e9e4e4" font-size="28">2004</text>
<path d="M197.54 1280.21A61 61 0 0 1 226.22 1290.83L208.85 1315.78A30.6 30.6 0 0 0 194.47 1310.46Z" fill="#a50f15"/>
<path d="M226.22 1290.83A61 61 0 0 1 246.14 1314.04L218.84 1327.42A30.6 30.6 0 0 0 208.85 1315.78Z" fill="#cb181d"/>
<path d="M246.14 1314.04A61 61 0 0 1 252.29 1343.99L221.93 1342.45A30.6 30.6 0 0 0 218.84 1327.42Z" fill="#a50f15"/>
<path d="M252.29 1343.99A61 61 0 0 1 243.14 1373.17L217.34 1357.09A30.6 30.6 0 0 0 221.93 1342.45Z" fill="#a50f15"/>
<path d="M243.14 1373.17A61 61 0 0 1 220.97 1394.24L206.22 1367.66A30.6 30.6 0 0 0 217.34 1357.09Z" fill="#cb181d"/>
<path d="M220.97 1394.24A61 61 0 0 1 191.37 1401.9L191.37 1371.5A30.6 30.6 0 0 0 206.22 1367.66Z" fill="#cb181d"/>
<path d="M191.37 1401.9A61 61 0 0 1 161.77 1394.24L176.52 1367.66A30.6 30.6 0 0 0 191.37 1371.5Z" fill="#cb181d"/>
<path d="M161.77 1394.24A61 61 0 0 1 139.6 1373.17L165.4 1357.09A30.6 30.6 0 0 0 176.52 1367.66Z" fill="#cb181d"/>
<path d="M139.6 1373.17A61 61 0 0 1 130.45 1343.99L160.81 1342.45A30.6 30.6 0 0 0 165.4 1357.09Z" fill="#cb181d"/>
<path d="M130.45 1343.99A61 61 0 0 1 136.6 1314.04L163.9 1327.42A30.6 30.6 0 0 0 160.81 1342.45Z" fill="#a50f15"/>
<path d="M136.6 1314.04A61 61 0 0 1 156.52 1290.83L173.89 1315.78A30.6 30.6 0 0 0 163.9 1327.42Z" fill="#a50f15"/>
<path d="M156.52 1290.83A61 61 0 0 1 185.2 1280.21L188.27 1310.46A30.6 30.6 0 0 0 173.89 1315.78Z" fill="#a50f15"/>
<circle cx="191.37" cy="1340.9" r="30.6" fill="#cb181d" class="ic"/>
<text transform="translate(191.37 1351.1) scale(1 1.05)" fill="#e9e4e4" font-size="28">2005</text>
<path d="M325.16 1280.21A61 61 0 0 1 353.84 1290.83L336.47 1315.78A30.6 30.6 0 0 0 322.09 1310.46Z" fill="#cb181d"/>
<path d="M353.84 1290.83A61 61 0 0 1 373.76 1314.04L346.46 1327.42A30.6 30.6 0 0 0 336.47 1315.78Z" fill="#a50f15"/>
<path d="M373.76 1314.04A61 61 0 0 1 379.91 1343.99L349.55 1342.45A30.6 30.6 0 0 0 346.46 1327.42Z" fill="#cb181d"/>
<path d="M379.91 1343.99A61 61 0 0 1 370.76 1373.17L344.96 1357.09A30.6 30.6 0 0 0 349.55 1342.45Z" fill="#cb181d"/>
<path d="M370.76 1373.17A61 61 0 0 1 348.59 1394.24L333.84 1367.66A30.6 30.6 0 0 0 344.96 1357.09Z" fill="#cb181d"/>
<path d="M348.59 1394.24A61 61 0 0 1 318.99 1401.9L318.99 1371.5A30.6 30.6 0 0 0 333.84 1367.66Z" fill="#cb181d"/>
<path d="M318.99 1401.9A61 61 0 0 1 289.39 1394.24L304.14 1367.66A30.6 30.6 0 0 0 318.99 1371.5Z" fill="#ef3b2c"/>
<path d="M289.39 1394.24A61 61 0 0 1 267.22 1373.17L293.02 1357.09A30.6 30.6 0 0 0 304.14 1367.66Z" fill="#cb181d"/>
<path d="M267.22 1373.17A61 61 0 0 1 258.07 1343.99L288.43 1342.45A30.6 30.6 0 0 0 293.02 1357.09Z" fill="#cb181d"/>
<path d="M258.07 1343.99A61 61 0 0 1 264.22 1314.04L291.52 1327.42A30.6 30.6 0 0 0 288.43 1342.45Z" fill="#cb181d"/>
<path d="M264.22 1314.04A61 61 0 0 1 284.14 1290.83L301.51 1315.78A30.6 30.6 0 0 0 291.52 1327.42Z" fill="#a50f15"/>
<path d="M284.14 1290.83A61 61 0 0 1 312.82 1280.21L315.89 1310.46A30.6 30.6 0 0 0 301.51 1315.78Z" fill="#a50f15"/>
<circle cx="318.99" cy="1340.9" r="30.6" fill="#cb181d" class="ic"/>
<text transform="translate(318.99 1351.1) scale(1 1.05)" fill="#e9e4e4" font-size="28">2006</text>
<path d="M452.78 1280.21A61 61 0 0 1 481.46 1290.83L464.09 1315.78A30.6 30.6 0 0 0 449.71 1310.46Z" fill="#67000d"/>
<path d="M481.46 1290.83A61 61 0 0 1 501.38 1314.04L474.08 1327.42A30.6 30.6 0 0 0 464.09 1315.78Z" fill="#a50f15"/>
<path d="M501.38 1314.04A61 61 0 0 1 507.53 1343.99L477.17 1342.45A30.6 30.6 0 0 0 474.08 1327.42Z" fill="#a50f15"/>
<path d="M507.53 1343.99A61 61 0 0 1 498.38 1373.17L472.58 1357.09A30.6 30.6 0 0 0 477.17 1342.45Z" fill="#a50f15"/>
<path d="M498.38 1373.17A61 61 0 0 1 476.21 1394.24L461.46 1367.66A30.6 30.6 0 0 0 472.58 1357.09Z" fill="#cb181d"/>
<path d="M476.21 1394.24A61 61 0 0 1 446.61 1401.9L446.61 1371.5A30.6 30.6 0 0 0 461.46 1367.66Z" fill="#cb181d"/>
<path d="M446.61 1401.9A61 61 0 0 1 417.01 1394.24L431.76 1367.66A30.6 30.6 0 0 0 446.61 1371.5Z" fill="#cb181d"/>
<path d="M417.01 1394.24A61 61 0 0 1 394.84 1373.17L420.64 1357.09A30.6 30.6 0 0 0 431.76 1367.66Z" fill="#cb181d"/>
<path d="M394.84 1373.17A61 61 0 0 1 385.69 1343.99L416.05 1342.45A30.6 30.6 0 0 0 420.64 1357.09Z" fill="#ef3b2c"/>
<path d="M385.69 1343.99A61 61 0 0 1 391.84 1314.04L419.14 1327.42A30.6 30.6 0 0 0 416.05 1342.45Z" fill="#cb181d"/>
<path d="M391.84 1314.04A61 61 0 0 1 411.76 1290.83L429.13 1315.78A30.6 30.6 0 0 0 419.14 1327.42Z" fill="#cb181d"/>
<path d="M411.76 1290.83A61 61 0 0 1 440.44 1280.21L443.51 1310.46A30.6 30.6 0 0 0 429.13 1315.78Z" fill="#cb181d"/>
<circle cx="446.61" cy="1340.9" r="30.6" fill="#cb181d" class="ic"/>
<text transform="translate(446.61 1351.1) scale(1 1.05)" fill="#e9e4e4" font-size="28">2007</text>
<path d="M580.4 1280.21A61 61 0 0 1 609.08 1290.83L591.71 1315.78A30.6 30.6 0 0 0 577.33 1310.46Z" fill="#ef3b2c"/>
<path d="M609.08 1290.83A61 61 0 0 1 629 1314.04L601.7 1327.42A30.6 30.6 0 0 0 591.71 1315.78Z" fill="#ef3b2c"/>
<path d="M629 1314.04A61 61 0 0 1 635.15 1343.99L604.79 1342.45A30.6 30.6 0 0 0 601.7 1327.42Z" fill="#a50f15"/>
<path d="M635.15 1343.99A61 61 0 0 1 626 1373.17L600.2 1357.09A30.6 30.6 0 0 0 604.79 1342.45Z" fill="#cb181d"/>
<path d="M626 1373.17A61 61 0 0 1 603.83 1394.24L589.08 1367.66A30.6 30.6 0 0 0 600.2 1357.09Z" fill="#cb181d"/>
<path d="M603.83 1394.24A61 61 0 0 1 574.23 1401.9L574.23 1371.5A30.6 30.6 0 0 0 589.08 1367.66Z" fill="#ef3b2c"/>
<path d="M574.23 1401.9A61 61 0 0 1 544.63 1394.24L559.38 1367.66A30.6 30.6 0 0 0 574.23 1371.5Z" fill="#ef3b2c"/>
<path d="M544.63 1394.24A61 61 0 0 1 522.46 1373.17L548.26 1357.09A30.6 30.6 0 0 0 559.38 1367.66Z" fill="#ef3b2c"/>
<path d="M522.46 1373.17A61 61 0 0 1 513.31 1343.99L543.67 1342.45A30.6 30.6 0 0 0 548.26 1357.09Z" fill="#cb181d"/>
<path d="M513.31 1343.99A61 61 0 0 1 519.46 1314.04L546.76 1327.42A30.6 30.6 0 0 0 543.67 1342.45Z" fill="#cb181d"/>
<path d="M519.46 1314.04A61 61 0 0 1 539.38 1290.83L556.75 1315.78A30.6 30.6 0 0 0 546.76 1327.42Z" fill="#a50f15"/>
<path d="M539.38 1290.83A61 61 0 0 1 568.06 1280.21L571.13 1310.46A30.6 30.6 0 0 0 556.75 1315.78Z" fill="#cb181d"/>
<circle cx="574.23" cy="1340.9" r="30.6" fill="#cb181d" class="ic"/>
<text transform="translate(574.23 1351.1) scale(1 1.05)" fill="#e9e4e4" font-size="28">2008</text>
<path d="M708.02 1280.21A61 61 0 0 1 736.7 1290.83L719.33 1315.78A30.6 30.6 0 0 0 704.95 1310.46Z" fill="#a50f15"/>
<path d="M736.7 1290.83A61 61 0 0 1 756.62 1314.04L729.32 1327.42A30.6 30.6 0 0 0 719.33 1315.78Z" fill="#cb181d"/>
<path d="M756.62 1314.04A61 61 0 0 1 762.77 1343.99L732.41 1342.45A30.6 30.6 0 0 0 729.32 1327.42Z" fill="#cb181d"/>
<path d="M762.77 1343.99A61 61 0 0 1 753.62 1373.17L727.82 1357.09A30.6 30.6 0 0 0 732.41 1342.45Z" fill="#cb181d"/>
<path d="M753.62 1373.17A61 61 0 0 1 731.45 1394.24L716.7 1367.66A30.6 30.6 0 0 0 727.82 1357.09Z" fill="#cb181d"/>
<path d="M731.45 1394.24A61 61 0 0 1 701.85 1401.9L701.85 1371.5A30.6 30.6 0 0 0 716.7 1367.66Z" fill="#cb181d"/>
<path d="M701.85 1401.9A61 61 0 0 1 672.25 1394.24L687 1367.66A30.6 30.6 0 0 0 701.85 1371.5Z" fill="#cb181d"/>
<path d="M672.25 1394.24A61 61 0 0 1 650.08 1373.17L675.88 1357.09A30.6 30.6 0 0 0 687 1367.66Z" fill="#cb181d"/>
<path d="M650.08 1373.17A61 61 0 0 1 640.93 1343.99L671.29 1342.45A30.6 30.6 0 0 0 675.88 1357.09Z" fill="#cb181d"/>
<path d="M640.93 1343.99A61 61 0 0 1 647.08 1314.04L674.38 1327.42A30.6 30.6 0 0 0 671.29 1342.45Z" fill="#cb181d"/>
<path d="M647.08 1314.04A61 61 0 0 1 667 1290.83L684.37 1315.78A30.6 30.6 0 0 0 674.38 1327.42Z" fill="#a50f15"/>
<path d="M667 1290.83A61 61 0 0 1 695.68 1280.21L698.75 1310.46A30.6 30.6 0 0 0 684.37 1315.78Z" fill="#a50f15"/>
<circle cx="701.85" cy="1340.9" r="30.6" fill="#cb181d" class="ic"/>
<text transform="translate(701.85 1351.1) scale(1 1.05)" fill="#e9e4e4" font-size="28">2009</text>
<path d="M835.64 1280.21A61 61 0 0 1 864.32 1290.83L846.95 1315.78A30.6 30.6 0 0 0 832.57 1310.46Z" fill="#a50f15"/>
<path d="M864.32 1290.83A61 61 0 0 1 884.24 1314.04L856.94 1327.42A30.6 30.6 0 0 0 846.95 1315.78Z" fill="#67000d"/>
<path d="M884.24 1314.04A61 61 0 0 1 890.39 1343.99L860.03 1342.45A30.6 30.6 0 0 0 856.94 1327.42Z" fill="#67000d"/>
<path d="M890.39 1343.99A61 61 0 0 1 881.24 1373.17L855.44 1357.09A30.6 30.6 0 0 0 860.03 1342.45Z" fill="#67000d"/>
<path d="M881.24 1373.17A61 61 0 0 1 859.07 1394.24L844.32 1367.66A30.6 30.6 0 0 0 855.44 1357.09Z" fill="#a50f15"/>
<path d="M859.07 1394.24A61 61 0 0 1 829.47 1401.9L829.47 1371.5A30.6 30.6 0 0 0 844.32 1367.66Z" fill="#cb181d"/>
<path d="M829.47 1401.9A61 61 0 0 1 799.87 1394.24L814.62 1367.66A30.6 30.6 0 0 0 829.47 1371.5Z" fill="#cb181d"/>
<path d="M799.87 1394.24A61 61 0 0 1 777.7 1373.17L803.5 1357.09A30.6 30.6 0 0 0 814.62 1367.66Z" fill="#cb181d"/>
<path d="M777.7 1373.17A61 61 0 0 1 768.55 1343.99L798.91 1342.45A30.6 30.6 0 0 0 803.5 1357.09Z" fill="#cb181d"/>
<path d="M768.55 1343.99A61 61 0 0 1 774.7 1314.04L802 1327.42A30.6 30.6 0 0 0 798.91 1342.45Z" fill="#cb181d"/>
<path d="M774.7 1314.04A61 61 0 0 1 794.62 1290.83L811.99 1315.78A30.6 30.6 0 0 0 802 1327.42Z" fill="#a50f15"/>
<path d="M794.62 1290.83A61 61 0 0 1 823.3 1280.21L826.37 1310.46A30.6 30.6 0 0 0 811.99 1315.78Z" fill="#cb181d"/>
<circle cx="829.47" cy="1340.9" r="30.6" fill="#a50f15" class="ic"/>
<text transform="translate(829.47 1351.1) scale(1 1.05)" fill="#e9e4e4" font-size="28">2010</text>
<path d="M963.26 1280.21A61 61 0 0 1 991.94 1290.83L974.57 1315.78A30.6 30.6 0 0 0 960.19 1310.46Z" fill="#cb181d"/>
<path d="M991.94 1290.83A61 61 0 0 1 1011.86 1314.04L984.56 1327.42A30.6 30.6 0 0 0 974.57 1315.78Z" fill="#cb181d"/>
<path d="M1011.86 1314.04A61 61 0 0 1 1018.01 1343.99L987.65 1342.45A30.6 30.6 0 0 0 984.56 1327.42Z" fill="#cb181d"/>
<path d="M1018.01 1343.99A61 61 0 0 1 1008.86 1373.17L983.06 1357.09A30.6 30.6 0 0 0 987.65 1342.45Z" fill="#cb181d"/>
<path d="M1008.86 1373.17A61 61 0 0 1 986.69 1394.24L971.94 1367.66A30.6 30.6 0 0 0 983.06 1357.09Z" fill="#cb181d"/>
<path d="M986.69 1394.24A61 61 0 0 1 957.09 1401.9L957.09 1371.5A30.6 30.6 0 0 0 971.94 1367.66Z" fill="#cb181d"/>
<path d="M957.09 1401.9A61 61 0 0 1 927.49 1394.24L942.24 1367.66A30.6 30.6 0 0 0 957.09 1371.5Z" fill="#cb181d"/>
<path d="M927.49 1394.24A61 61 0 0 1 905.32 1373.17L931.12 1357.09A30.6 30.6 0 0 0 942.24 1367.66Z" fill="#cb181d"/>
<path d="M905.32 1373.17A61 61 0 0 1 896.17 1343.99L926.53 1342.45A30.6 30.6 0 0 0 931.12 1357.09Z" fill="#cb181d"/>
<path d="M896.17 1343.99A61 61 0 0 1 902.32 1314.04L929.62 1327.42A30.6 30.6 0 0 0 926.53 1342.45Z" fill="#cb181d"/>
<path d="M902.32 1314.04A61 61 0 0 1 922.24 1290.83L939.61 1315.78A30.6 30.6 0 0 0 929.62 1327.42Z" fill="#cb181d"/>
<path d="M922.24 1290.83A61 61 0 0 1 950.92 1280.21L953.99 1310.46A30.6 30.6 0 0 0 939.61 1315.78Z" fill="#cb181d"/>
<circle cx="957.09" cy="1340.9" r="30.6" fill="#cb181d" class="ic"/>
<text transform="translate(957.09 1351.1) scale(1 1.05)" fill="#e9e4e4" font-size="28">2011</text>
<path d="M1090.88 1280.21A61 61 0 0 1 1119.56 1290.83L1102.19 1315.78A30.6 30.6 0 0 0 1087.81 1310.46Z" fill="#ef3b2c"/>
<path d="M1119.56 1290.83A61 61 0 0 1 1139.48 1314.04L1112.18 1327.42A30.6 30.6 0 0 0 1102.19 1315.78Z" fill="#cb181d"/>
<path d="M1139.48 1314.04A61 61 0 0 1 1145.63 1343.99L1115.27 1342.45A30.6 30.6 0 0 0 1112.18 1327.42Z" fill="#cb181d"/>
<path d="M1145.63 1343.99A61 61 0 0 1 1136.48 1373.17L1110.68 1357.09A30.6 30.6 0 0 0 1115.27 1342.45Z" fill="#a50f15"/>
<path d="M1136.48 1373.17A61 61 0 0 1 1114.31 1394.24L1099.56 1367.66A30.6 30.6 0 0 0 1110.68 1357.09Z" fill="#a50f15"/>
<path d="M1114.31 1394.24A61 61 0 0 1 1084.71 1401.9L1084.71 1371.5A30.6 30.6 0 0 0 1099.56 1367.66Z" fill="#cb181d"/>
<path d="M1084.71 1401.9A61 61 0 0 1 1055.11 1394.24L1069.86 1367.66A30.6 30.6 0 0 0 1084.71 1371.5Z" fill="#cb181d"/>
<path d="M1055.11 1394.24A61 61 0 0 1 1032.94 1373.17L1058.74 1357.09A30.6 30.6 0 0 0 1069.86 1367.66Z" fill="#cb181d"/>
<path d="M1032.94 1373.17A61 61 0 0 1 1023.79 1343.99L1054.15 1342.45A30.6 30.6 0 0 0 1058.74 1357.09Z" fill="#cb181d"/>
<path d="M1023.79 1343.99A61 61 0 0 1 1029.94 1314.04L1057.24 1327.42A30.6 30.6 0 0 0 1054.15 1342.45Z" fill="#a50f15"/>
<path d="M1029.94 1314.04A61 61 0 0 1 1049.86 1290.83L1067.23 1315.78A30.6 30.6 0 0 0 1057.24 1327.42Z" fill="#a50f15"/>
<path d="M1049.86 1290.83A61 61 0 0 1 1078.54 1280.21L1081.61 1310.46A30.6 30.6 0 0 0 1067.23 1315.78Z" fill="#cb181d"/>
<circle cx="1084.71" cy="1340.9" r="30.6" fill="#cb181d" class="ic"/>
<text transform="translate(1084.71 1351.1) scale(1 1.05)" fill="#e9e4e4" font-size="28">2012</text>
<path d="M1218.5 1280.21A61 61 0 0 1 1247.18 1290.83L1229.81 1315.78A30.6 30.6 0 0 0 1215.43 1310.46Z" fill="#a50f15"/>
<path d="M1247.18 1290.83A61 61 0 0 1 1267.1 1314.04L1239.8 1327.42A30.6 30.6 0 0 0 1229.81 1315.78Z" fill="#cb181d"/>
<path d="M1267.1 1314.04A61 61 0 0 1 1273.25 1343.99L1242.89 1342.45A30.6 30.6 0 0 0 1239.8 1327.42Z" fill="#a50f15"/>
<path d="M1273.25 1343.99A61 61 0 0 1 1264.1 1373.17L1238.3 1357.09A30.6 30.6 0 0 0 1242.89 1342.45Z" fill="#cb181d"/>
<path d="M1264.1 1373.17A61 61 0 0 1 1241.93 1394.24L1227.18 1367.66A30.6 30.6 0 0 0 1238.3 1357.09Z" fill="#cb181d"/>
<path d="M1241.93 1394.24A61 61 0 0 1 1212.33 1401.9L1212.33 1371.5A30.6 30.6 0 0 0 1227.18 1367.66Z" fill="#cb181d"/>
<path d="M1212.33 1401.9A61 61 0 0 1 1182.73 1394.24L1197.48 1367.66A30.6 30.6 0 0 0 1212.33 1371.5Z" fill="#cb181d"/>
<path d="M1182.73 1394.24A61 61 0 0 1 1160.56 1373.17L1186.36 1357.09A30.6 30.6 0 0 0 1197.48 1367.66Z" fill="#cb181d"/>
<path d="M1160.56 1373.17A61 61 0 0 1 1151.41 1343.99L1181.77 1342.45A30.6 30.6 0 0 0 1186.36 1357.09Z" fill="#a50f15"/>
<path d="M1151.41 1343.99A61 61 0 0 1 1157.56 1314.04L1184.86 1327.42A30.6 30.6 0 0 0 1181.77 1342.45Z" fill="#cb181d"/>
<path d="M1157.56 1314.04A61 61 0 0 1 1177.48 1290.83L1194.85 1315.78A30.6 30.6 0 0 0 1184.86 1327.42Z" fill="#a50f15"/>
<path d="M1177.48 1290.83A61 61 0 0 1 1206.16 1280.21L1209.23 1310.46A30.6 30.6 0 0 0 1194.85 1315.78Z" fill="#a50f15"/>
<circle cx="1212.33" cy="1340.9" r="30.6" fill="#cb181d" class="ic"/>
<text transform="translate(1212.33 1351.1) scale(1 1.05)" fill="#e9e4e4" font-size="28">2013</text>
<path d="M1346.12 1280.21A61 61 0 0 1 1374.8 1290.83L1357.43 1315.78A30.6 30.6 0 0 0 1343.05 1310.46Z" fill="#a50f15"/>
<path d="M1374.8 1290.83A61 61 0 0 1 1394.72 1314.04L1367.42 1327.42A30.6 30.6 0 0 0 1357.43 1315.78Z" fill="#cb181d"/>
<path d="M1394.72 1314.04A61 61 0 0 1 1400.87 1343.99L1370.51 1342.45A30.6 30.6 0 0 0 1367.42 1327.42Z" fill="#a50f15"/>
<path d="M1400.87 1343.99A61 61 0 0 1 1391.72 1373.17L1365.92 1357.09A30.6 30.6 0 0 0 1370.51 1342.45Z" fill="#a50f15"/>
<path d="M1391.72 1373.17A61 61 0 0 1 1369.55 1394.24L1354.8 1367.66A30.6 30.6 0 0 0 1365.92 1357.09Z" fill="#a50f15"/>
<path d="M1369.55 1394.24A61 61 0 0 1 1339.95 1401.9L1339.95 1371.5A30.6 30.6 0 0 0 1354.8 1367.66Z" fill="#cb181d"/>
<path d="M1339.95 1401.9A61 61 0 0 1 1310.35 1394.24L1325.1 1367.66A30.6 30.6 0 0 0 1339.95 1371.5Z" fill="#cb181d"/>
<path d="M1310.35 1394.24A61 61 0 0 1 1288.18 1373.17L1313.98 1357.09A30.6 30.6 0 0 0 1325.1 1367.66Z" fill="#cb181d"/>
<path d="M1288.18 1373.17A61 61 0 0 1 1279.03 1343.99L1309.39 1342.45A30.6 30.6 0 0 0 1313.98 1357.09Z" fill="#a50f15"/>
<path d="M1279.03 1343.99A61 61 0 0 1 1285.18 1314.04L1312.48 1327.42A30.6 30.6 0 0 0 1309.39 1342.45Z" fill="#a50f15"/>
<path d="M1285.18 1314.04A61 61 0 0 1 1305.1 1290.83L1322.47 1315.78A30.6 30.6 0 0 0 1312.48 1327.42Z" fill="#a50f15"/>
<path d="M1305.1 1290.83A61 61 0 0 1 1333.78 1280.21L1336.85 1310.46A30.6 30.6 0 0 0 1322.47 1315.78Z" fill="#a50f15"/>
<circle cx="1339.95" cy="1340.9" r="30.6" fill="#a50f15" class="ic"/>
<text transform="translate(1339.95 1351.1) scale(1 1.05)" fill="#e9e4e4" font-size="28">2014</text>
<path d="M1473.74 1280.21A61 61 0 0 1 1502.42 1290.83L1485.05 1315.78A30.6 30.6 0 0 0 1470.67 1310.46Z" fill="#a50f15"/>
<path d="M1502.42 1290.83A61 61 0 0 1 1522.34 1314.04L1495.04 1327.42A30.6 30.6 0 0 0 1485.05 1315.78Z" fill="#a50f15"/>
<path d="M1522.34 1314.04A61 61 0 0 1 1528.49 1343.99L1498.13 1342.45A30.6 30.6 0 0 0 1495.04 1327.42Z" fill="#67000d"/>
<path d="M1528.49 1343.99A61 61 0 0 1 1519.34 1373.17L1493.54 1357.09A30.6 30.6 0 0 0 1498.13 1342.45Z" fill="#a50f15"/>
<path d="M1519.34 1373.17A61 61 0 0 1 1497.17 1394.24L1482.42 1367.66A30.6 30.6 0 0 0 1493.54 1357.09Z" fill="#a50f15"/>
<path d="M1497.17 1394.24A61 61 0 0 1 1467.57 1401.9L1467.57 1371.5A30.6 30.6 0 0 0 1482.42 1367.66Z" fill="#a50f15"/>
<path d="M1467.57 1401.9A61 61 0 0 1 1437.97 1394.24L1452.72 1367.66A30.6 30.6 0 0 0 1467.57 1371.5Z" fill="#cb181d"/>
<path d="M1437.97 1394.24A61 61 0 0 1 1415.8 1373.17L1441.6 1357.09A30.6 30.6 0 0 0 1452.72 1367.66Z" fill="#a50f15"/>
<path d="M1415.8 1373.17A61 61 0 0 1 1406.65 1343.99L1437.01 1342.45A30.6 30.6 0 0 0 1441.6 1357.09Z" fill="#a50f15"/>
<path d="M1406.65 1343.99A61 61 0 0 1 1412.8 1314.04L1440.1 1327.42A30.6 30.6 0 0 0 1437.01 1342.45Z" fill="#67000d"/>
<path d="M1412.8 1314.04A61 61 0 0 1 1432.72 1290.83L1450.09 1315.78A30.6 30.6 0 0 0 1440.1 1327.42Z" fill="#67000d"/>
<path d="M1432.72 1290.83A61 61 0 0 1 1461.4 1280.21L1464.47 1310.46A30.6 30.6 0 0 0 1450.09 1315.78Z" fill="#67000d"/>
<circle cx="1467.57" cy="1340.9" r="30.6" fill="#a50f15" class="ic"/>
<text transform="translate(1467.57 1351.1) scale(1 1.05)" fill="#e9e4e4" font-size="28">2015</text>
<path d="M1601.36 1280.21A61 61 0 0 1 1630.04 1290.83L1612.67 1315.78A30.6 30.6 0 0 0 1598.29 1310.46Z" fill="#3f0005"/>
<path d="M1630.04 1290.83A61 61 0 0 1 1649.96 1314.04L1622.66 1327.42A30.6 30.6 0 0 0 1612.67 1315.78Z" fill="#3f0005"/>
<path d="M1649.96 1314.04A61 61 0 0 1 1656.11 1343.99L1625.75 1342.45A30.6 30.6 0 0 0 1622.66 1327.42Z" fill="#3f0005"/>
<path d="M1656.11 1343.99A61 61 0 0 1 1646.96 1373.17L1621.16 1357.09A30.6 30.6 0 0 0 1625.75 1342.45Z" fill="#67000d"/>
<path d="M1646.96 1373.17A61 61 0 0 1 1624.79 1394.24L1610.04 1367.66A30.6 30.6 0 0 0 1621.16 1357.09Z" fill="#67000d"/>
<path d="M1624.79 1394.24A61 61 0 0 1 1595.19 1401.9L1595.19 1371.5A30.6 30.6 0 0 0 1610.04 1367.66Z" fill="#a50f15"/>
<path d="M1595.19 1401.9A61 61 0 0 1 1565.59 1394.24L1580.34 1367.66A30.6 30.6 0 0 0 1595.19 1371.5Z" fill="#a50f15"/>
<path d="M1565.59 1394.24A61 61 0 0 1 1543.42 1373.17L1569.22 1357.09A30.6 30.6 0 0 0 1580.34 1367.66Z" fill="#67000d"/>
<path d="M1543.42 1373.17A61 61 0 0 1 1534.27 1343.99L1564.63 1342.45A30.6 30.6 0 0 0 1569.22 1357.09Z" fill="#a50f15"/>
<path d="M1534.27 1343.99A61 61 0 0 1 1540.42 1314.04L1567.72 1327.42A30.6 30.6 0 0 0 1564.63 1342.45Z" fill="#a50f15"/>
<path d="M1540.42 1314.04A61 61 0 0 1 1560.34 1290.83L1577.71 1315.78A30.6 30.6 0 0 0 1567.72 1327.42Z" fill="#67000d"/>
<path d="M1560.34 1290.83A61 61 0 0 1 1589.02 1280.21L1592.09 1310.46A30.6 30.6 0 0 0 1577.71 1315.78Z" fill="#a50f15"/>
<circle cx="1595.19" cy="1340.9" r="30.6" fill="#67000d" class="ic"/>
<text transform="translate(1595.19 1351.1) scale(1 1.05)" fill="#e9e4e4" font-size="28">2016</text>
<path d="M1728.98 1280.21A61 61 0 0 1 1757.66 1290.83L1740.29 1315.78A30.6 30.6 0 0 0 1725.91 1310.46Z" fill="#67000d"/>
<path d="M1757.66 1290.83A61 61 0 0 1 1777.58 1314.04L1750.28 1327.42A30.6 30.6 0 0 0 1740.29 1315.78Z" fill="#67000d"/>
<path d="M1777.58 1314.04A61 61 0 0 1 1783.73 1343.99L1753.37 1342.45A30.6 30.6 0 0 0 1750.28 1327.42Z" fill="#3f0005"/>
<path d="M1783.73 1343.99A61 61 0 0 1 1774.58 1373.17L1748.78 1357.09A30.6 30.6 0 0 0 1753.37 1342.45Z" fill="#67000d"/>
<path d="M1774.58 1373.17A61 61 0 0 1 1752.41 1394.24L1737.66 1367.66A30.6 30.6 0 0 0 1748.78 1357.09Z" fill="#a50f15"/>
<path d="M1752.41 1394.24A61 61 0 0 1 1722.81 1401.9L1722.81 1371.5A30.6 30.6 0 0 0 1737.66 1367.66Z" fill="#cb181d"/>
<path d="M1722.81 1401.9A61 61 0 0 1 1693.21 1394.24L1707.96 1367.66A30.6 30.6 0 0 0 1722.81 1371.5Z" fill="#a50f15"/>
<path d="M1693.21 1394.24A61 61 0 0 1 1671.04 1373.17L1696.84 1357.09A30.6 30.6 0 0 0 1707.96 1367.66Z" fill="#a50f15"/>
<path d="M1671.04 1373.17A61 61 0 0 1 1661.89 1343.99L1692.25 1342.45A30.6 30.6 0 0 0 1696.84 1357.09Z" fill="#a50f15"/>
<path d="M1661.89 1343.99A61 61 0 0 1 1668.04 1314.04L1695.34 1327.42A30.6 30.6 0 0 0 1692.25 1342.45Z" fill="#a50f15"/>
<path d="M1668.04 1314.04A61 61 0 0 1 1687.96 1290.83L1705.33 1315.78A30.6 30.6 0 0 0 1695.34 1327.42Z" fill="#67000d"/>
<path d="M1687.96 1290.83A61 61 0 0 1 1716.64 1280.21L1719.71 1310.46A30.6 30.6 0 0 0 1705.33 1315.78Z" fill="#67000d"/>
<circle cx="1722.81" cy="1340.9" r="30.6" fill="#67000d" class="ic"/>
<text transform="translate(1722.81 1351.1) scale(1 1.05)" fill="#e9e4e4" font-size="28">2017</text>
<path d="M1856.6 1280.21A61 61 0 0 1 1885.28 1290.83L1867.91 1315.78A30.6 30.6 0 0 0 1853.53 1310.46Z" fill="#a50f15"/>
<path d="M1885.28 1290.83A61 61 0 0 1 1905.2 1314.04L1877.9 1327.42A30.6 30.6 0 0 0 1867.91 1315.78Z" fill="#67000d"/>
<path d="M1905.2 1314.04A61 61 0 0 1 1911.35 1343.99L1880.99 1342.45A30.6 30.6 0 0 0 1877.9 1327.42Z" fill="#67000d"/>
<path d="M1911.35 1343.99A61 61 0 0 1 1902.2 1373.17L1876.4 1357.09A30.6 30.6 0 0 0 1880.99 1342.45Z" fill="#67000d"/>
<path d="M1902.2 1373.17A61 61 0 0 1 1880.03 1394.24L1865.28 1367.66A30.6 30.6 0 0 0 1876.4 1357.09Z" fill="#a50f15"/>
<path d="M1880.03 1394.24A61 61 0 0 1 1850.43 1401.9L1850.43 1371.5A30.6 30.6 0 0 0 1865.28 1367.66Z" fill="#a50f15"/>
<path d="M1850.43 1401.9A61 61 0 0 1 1820.83 1394.24L1835.58 1367.66A30.6 30.6 0 0 0 1850.43 1371.5Z" fill="#cb181d"/>
<path d="M1820.83 1394.24A61 61 0 0 1 1798.66 1373.17L1824.46 1357.09A30.6 30.6 0 0 0 1835.58 1367.66Z" fill="#cb181d"/>
<path d="M1798.66 1373.17A61 61 0 0 1 1789.51 1343.99L1819.87 1342.45A30.6 30.6 0 0 0 1824.46 1357.09Z" fill="#cb181d"/>
<path d="M1789.51 1343.99A61 61 0 0 1 1795.66 1314.04L1822.96 1327.42A30.6 30.6 0 0 0 1819.87 1342.45Z" fill="#a50f15"/>
<path d="M1795.66 1314.04A61 61 0 0 1 1815.58 1290.83L1832.95 1315.78A30.6 30.6 0 0 0 1822.96 1327.42Z" fill="#a50f15"/>
<path d="M1815.58 1290.83A61 61 0 0 1 1844.26 1280.21L1847.33 1310.46A30.6 30.6 0 0 0 1832.95 1315.78Z" fill="#67000d"/>
<circle cx="1850.43" cy="1340.9" r="30.6" fill="#a50f15" class="ic"/>
<text transform="translate(1850.43 1351.1) scale(1 1.05)" fill="#e9e4e4" font-size="28">2018</text>
<path d="M1984.22 1280.21A61 61 0 0 1 2012.9 1290.83L1995.53 1315.78A30.6 30.6 0 0 0 1981.15 1310.46Z" fill="#67000d"/>
<path d="M2012.9 1290.83A61 61 0 0 1 2032.82 1314.04L2005.52 1327.42A30.6 30.6 0 0 0 1995.53 1315.78Z" fill="#67000d"/>
<path d="M2032.82 1314.04A61 61 0 0 1 2038.97 1343.99L2008.61 1342.45A30.6 30.6 0 0 0 2005.52 1327.42Z" fill="#3f0005"/>
<path d="M2038.97 1343.99A61 61 0 0 1 2029.82 1373.17L2004.02 1357.09A30.6 30.6 0 0 0 2008.61 1342.45Z" fill="#67000d"/>
<path d="M2029.82 1373.17A61 61 0 0 1 2007.65 1394.24L1992.9 1367.66A30.6 30.6 0 0 0 2004.02 1357.09Z" fill="#a50f15"/>
<path d="M2007.65 1394.24A61 61 0 0 1 1978.05 1401.9L1978.05 1371.5A30.6 30.6 0 0 0 1992.9 1367.66Z" fill="#a50f15"/>
<path d="M1978.05 1401.9A61 61 0 0 1 1948.45 1394.24L1963.2 1367.66A30.6 30.6 0 0 0 1978.05 1371.5Z" fill="#a50f15"/>
<path d="M1948.45 1394.24A61 61 0 0 1 1926.28 1373.17L1952.08 1357.09A30.6 30.6 0 0 0 1963.2 1367.66Z" fill="#a50f15"/>
<path d="M1926.28 1373.17A61 61 0 0 1 1917.13 1343.99L1947.49 1342.45A30.6 30.6 0 0 0 1952.08 1357.09Z" fill="#a50f15"/>
<path d="M1917.13 1343.99A61 61 0 0 1 1923.28 1314.04L1950.58 1327.42A30.6 30.6 0 0 0 1947.49 1342.45Z" fill="#67000d"/>
<path d="M1923.28 1314.04A61 61 0 0 1 1943.2 1290.83L1960.57 1315.78A30.6 30.6 0 0 0 1950.58 1327.42Z" fill="#67000d"/>
<path d="M1943.2 1290.83A61 61 0 0 1 1971.88 1280.21L1974.95 1310.46A30.6 30.6 0 0 0 1960.57 1315.78Z" fill="#67000d"/>
<circle cx="1978.05" cy="1340.9" r="30.6" fill="#67000d" class="ic"/>
<text transform="translate(1978.05 1351.1) scale(1 1.05)" fill="#e9e4e4" font-size="28">2019</text>
<path d="M2111.84 1280.21A61 61 0 0 1 2140.52 1290.83L2123.15 1315.78A30.6 30.6 0 0 0 2108.77 1310.46Z" fill="#67000d"/>
<path d="M2140.52 1290.83A61 61 0 0 1 2160.44 1314.04L2133.14 1327.42A30.6 30.6 0 0 0 2123.15 1315.78Z" fill="#3f0005"/>
<path d="M2160.44 1314.04A61 61 0 0 1 2166.59 1343.99L2136.23 1342.45A30.6 30.6 0 0 0 2133.14 1327.42Z" fill="#3f0005"/>
<path d="M2166.59 1343.99A61 61 0 0 1 2157.44 1373.17L2131.64 1357.09A30.6 30.6 0 0 0 2136.23 1342.45Z" fill="#67000d"/>
<path d="M2157.44 1373.17A61 61 0 0 1 2135.27 1394.24L2120.52 1367.66A30.6 30.6 0 0 0 2131.64 1357.09Z" fill="#67000d"/>
<path d="M2135.27 1394.24A61 61 0 0 1 2105.67 1401.9L2105.67 1371.5A30.6 30.6 0 0 0 2120.52 1367.66Z" fill="#a50f15"/>
<path d="M2105.67 1401.9A61 61 0 0 1 2076.07 1394.24L2090.82 1367.66A30.6 30.6 0 0 0 2105.67 1371.5Z" fill="#a50f15"/>
<path d="M2076.07 1394.24A61 61 0 0 1 2053.9 1373.17L2079.7 1357.09A30.6 30.6 0 0 0 2090.82 1367.66Z" fill="#a50f15"/>
<path d="M2053.9 1373.17A61 61 0 0 1 2044.75 1343.99L2075.11 1342.45A30.6 30.6 0 0 0 2079.7 1357.09Z" fill="#a50f15"/>
<path d="M2044.75 1343.99A61 61 0 0 1 2050.9 1314.04L2078.2 1327.42A30.6 30.6 0 0 0 2075.11 1342.45Z" fill="#a50f15"/>
<path d="M2050.9 1314.04A61 61 0 0 1 2070.82 1290.83L2088.19 1315.78A30.6 30.6 0 0 0 2078.2 1327.42Z" fill="#67000d"/>
<path d="M2070.82 1290.83A61 61 0 0 1 2099.5 1280.21L2102.57 1310.46A30.6 30.6 0 0 0 2088.19 1315.78Z" fill="#a50f15"/>
<circle cx="2105.67" cy="1340.9" r="30.6" fill="#67000d" class="ic"/>
<text transform="translate(2105.67 1351.1) scale(1 1.05)" fill="#e9e4e4" font-size="28">2020</text>
</g>
<g>
<rect x="2330.6" y="192.6" width="66.4" height="56.96" fill="#3f0005"/>
<rect x="2330.6" y="249.06" width="66.4" height="56.96" fill="#67000d"/>
<rect x="2330.6" y="305.52" width="66.4" height="56.96" fill="#a50f15"/>
<rect x="2330.6" y="361.98" width="66.4" height="56.96" fill="#cb181d"/>
<rect x="2330.6" y="418.44" width="66.4" height="56.96" fill="#ef3b2c"/>
<rect x="2330.6" y="474.9" width="66.4" height="56.96" fill="#fb6a4a"/>
<rect x="2330.6" y="531.36" width="66.4" height="56.96" fill="#fc9272"/>
<rect x="2330.6" y="587.82" width="66.4" height="56.96" fill="#fcbba1"/>
<rect x="2330.6" y="644.28" width="66.4" height="56.96" fill="#fee0d2"/>
<rect x="2330.6" y="700.74" width="66.4" height="56.96" fill="#deebf7"/>
<rect x="2330.6" y="757.2" width="66.4" height="56.96" fill="#c6dbef"/>
<rect x="2330.6" y="813.66" width="66.4" height="56.96" fill="#9ecae1"/>
<rect x="2330.6" y="870.12" width="66.4" height="56.96" fill="#6baed6"/>
<rect x="2330.6" y="926.58" width="66.4" height="56.96" fill="#4292c6"/>
<text x="2317" y="228.73" font-size="21" text-anchor="end" class="lg">&gt; 2.7</text>
<text x="2409" y="230.73" font-size="27" class="lg">&gt; 1.5</text>
<text x="2317" y="285.19" font-size="21" text-anchor="end" class="lg">2.16 to 2.7</text>
<text x="2409" y="287.19" font-size="27" class="lg">1.2 to 1.5</text>
<text x="2317" y="341.65" font-size="21" text-anchor="end" class="lg">1.8 to 2.16</text>
<text x="2409" y="343.65" font-size="27" class="lg">1 to 1.2</text>
<text x="2317" y="398.11" font-size="21" text-anchor="end" class="lg">1.44 to 1.8</text>
<text x="2409" y="400.11" font-size="27" class="lg">0.8 to 1</text>
<text x="2317" y="454.57" font-size="21" text-anchor="end" class="lg">1.08 to 1.44</text>
<text x="2409" y="456.57" font-size="27" class="lg">0.6 to 0.8</text>
<text x="2317" y="511.03" font-size="21" text-anchor="end" class="lg">0.72 to 1.08</text>
<text x="2409" y="513.03" font-size="27" class="lg">0.4 to 0.6</text>
<text x="2317" y="567.49" font-size="21" text-anchor="end" class="lg">0.36 to 0.72</text>
<text x="2409" y="569.49" font-size="27" class="lg">0.2 to 0.4</text>
<text x="2317" y="623.95" font-size="21" text-anchor="end" class="lg">0.18 to 0.36</text>
<text x="2409" y="625.95" font-size="27" class="lg">0.1 to 0.2</text>
<text x="2317" y="680.41" font-size="21" text-anchor="end" class="lg">0 to 0.18</text>
<text x="2409" y="682.41" font-size="27" class="lg">0 to 0.1</text>
<text x="2317" y="736.87" font-size="21" text-anchor="end" class="lg">-0.18 to 0</text>
<text x="2409" y="738.87" font-size="27" class="lg">-0.1 to 0</text>
<text x="2317" y="793.33" font-size="21" text-anchor="end" class="lg">-0.36 to -0.18</text>
<text x="2409" y="795.33" font-size="27" class="lg">-0.2 to -0.1</text>
<text x="2317" y="849.79" font-size="21" text-anchor="end" class="lg">-0.72 to -0.36</text>
<text x="2409" y="851.79" font-size="27" class="lg">-0.4 to -0.2</text>
<text x="2317" y="906.25" font-size="21" text-anchor="end" class="lg">-1.08 to -0.72</text>
<text x="2409" y="908.25" font-size="27" class="lg">-0.6 to -0.4</text>
<text x="2317" y="962.71" font-size="21" text-anchor="end" class="lg">-1.44 to -1.08</text>
<text x="2409" y="964.71" font-size="27" class="lg">-0.8 to -0.6</text>
<text x="2317" y="175.4" font-size="30" text-anchor="end" class="lg">° F</text>
<text x="2418" y="177.6" font-size="36" class="lg">° C</text>
</g>
<g class="d">
<path d="M2381.89 1009.24A164 164 0 0 1 2458.99 1037.79L2406.2 1113.63A71.6 71.6 0 0 0 2372.54 1101.17Z" fill="#fee0d2"/>
<path d="M2458.99 1037.79A164 164 0 0 1 2512.54 1100.18L2429.58 1140.87A71.6 71.6 0 0 0 2406.2 1113.63Z" fill="#fee0d2"/>
<path d="M2512.54 1100.18A164 164 0 0 1 2529.09 1180.71L2436.81 1176.03A71.6 71.6 0 0 0 2429.58 1140.87Z" fill="#fc9272"/>
<path d="M2529.09 1180.71A164 164 0 0 1 2504.48 1259.15L2426.06 1210.27A71.6 71.6 0 0 0 2436.81 1176.03Z" fill="#fee0d2"/>
<path d="M2504.48 1259.15A164 164 0 0 1 2444.89 1315.79L2400.05 1235A71.6 71.6 0 0 0 2426.06 1210.27Z" fill="#fcbba1"/>
<path d="M2444.89 1315.79A164 164 0 0 1 2365.3 1336.4L2365.3 1244A71.6 71.6 0 0 0 2400.05 1235Z" fill="#fee0d2"/>
<path d="M2365.3 1336.4A164 164 0 0 1 2285.71 1315.79L2330.55 1235A71.6 71.6 0 0 0 2365.3 1244Z" fill="#deebf7"/>
<path d="M2285.71 1315.79A164 164 0 0 1 2226.12 1259.15L2304.54 1210.27A71.6 71.6 0 0 0 2330.55 1235Z" fill="#deebf7"/>
<path d="M2226.12 1259.15A164 164 0 0 1 2201.51 1180.71L2293.79 1176.03A71.6 71.6 0 0 0 2304.54 1210.27Z" fill="#deebf7"/>
<path d="M2201.51 1180.71A164 164 0 0 1 2218.06 1100.18L2301.02 1140.87A71.6 71.6 0 0 0 2293.79 1176.03Z" fill="#deebf7"/>
<path d="M2218.06 1100.18A164 164 0 0 1 2271.61 1037.79L2324.4 1113.63A71.6 71.6 0 0 0 2301.02 1140.87Z" fill="#fcbba1"/>
<path d="M2271.61 1037.79A164 164 0 0 1 2348.71 1009.24L2358.06 1101.17A71.6 71.6 0 0 0 2324.4 1113.63Z" fill="#deebf7"/>
<circle cx="2365.3" cy="1172.4" r="71.6" fill="#fee0d2" class="ic"/>
<text x="2365.3" y="1186.6" font-size="46" class="yr" fill="#111">YEAR</text>
<text x="2402.8" y="1080.3" font-size="29.5" class="yr" fill="#111">Jan</text>
<text x="2447.8" y="1112.5" font-size="29.5" class="yr" fill="#111">Feb</text>
<text x="2472.4" y="1162" font-size="29.5" class="yr" fill="#111">Mar</text>
<text x="2469.2" y="1215.6" font-size="29.5" class="yr" fill="#111">Apr</text>
<text x="2440.3" y="1261.1" font-size="29.5" class="yr" fill="#111">May</text>
<text x="2392.1" y="1289.2" font-size="29.5" class="yr" fill="#111">Jun</text>
<text x="2338" y="1289.2" font-size="29.5" class="yr" fill="#111">Jul</text>
<text x="2289.8" y="1261.1" font-size="29.5" class="yr" fill="#111">Aug</text>
<text x="2260.3" y="1215.6" font-size="29.5" class="yr" fill="#111">Sep</text>
<text x="2258.2" y="1162" font-size="29.5" class="yr" fill="#111">Oct</text>
<text x="2281.8" y="1112.5" font-size="29.5" class="yr" fill="#111">Nov</text>
<text x="2327.3" y="1080.3" font-size="29.5" class="yr" fill="#111">Dec</text>
</g>
<text x="1511.9" y="1454.4" font-size="34.5" class="t" xml:space="preserve" textLength="714.7" lengthAdjust="spacingAndGlyphs">Data: HadCRUT5  -   Created by: @neilrkaye</text>
</svg>
</body></html>
